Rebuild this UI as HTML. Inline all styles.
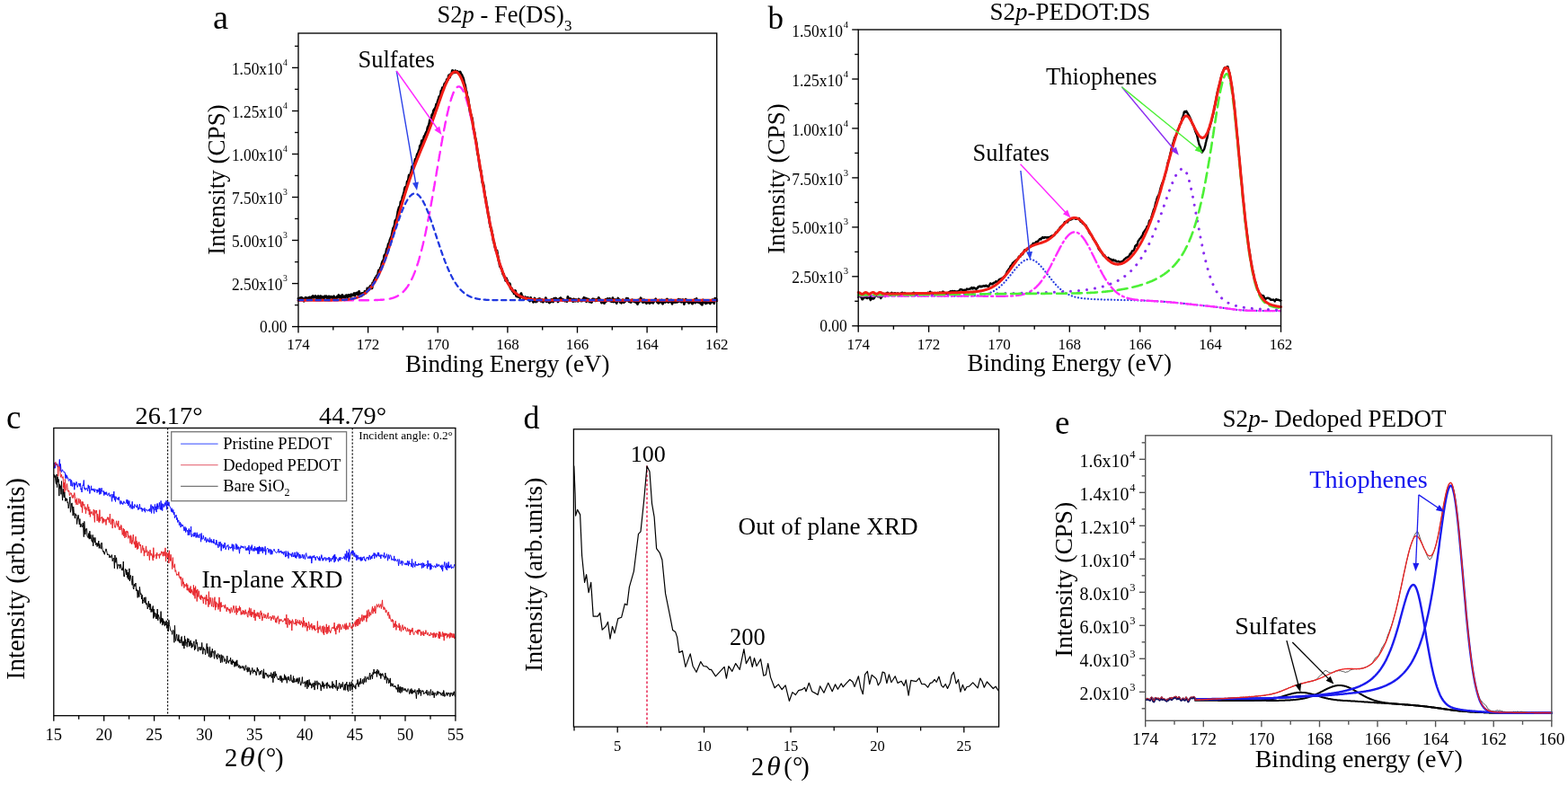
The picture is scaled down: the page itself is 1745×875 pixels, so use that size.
<!DOCTYPE html><html><head><meta charset="utf-8"><title>Figure</title><style>html,body{margin:0;padding:0;background:#fff;}svg{display:block;}</style></head><body><svg width="1745" height="875" viewBox="0 0 1745 875" font-family="'Liberation Serif','Times New Roman',serif" fill="#000">
<rect width="1745" height="875" fill="#fff"/>
<line x1="332.0" y1="363.6" x2="332.0" y2="370.6" stroke="#000" stroke-width="1.35" />
<text x="332.0" y="389.3" font-size="17" text-anchor="middle" >174</text>
<line x1="370.8" y1="363.6" x2="370.8" y2="367.6" stroke="#000" stroke-width="1.35" />
<line x1="409.6" y1="363.6" x2="409.6" y2="370.6" stroke="#000" stroke-width="1.35" />
<text x="409.6" y="389.3" font-size="17" text-anchor="middle" >172</text>
<line x1="448.4" y1="363.6" x2="448.4" y2="367.6" stroke="#000" stroke-width="1.35" />
<line x1="487.2" y1="363.6" x2="487.2" y2="370.6" stroke="#000" stroke-width="1.35" />
<text x="487.2" y="389.3" font-size="17" text-anchor="middle" >170</text>
<line x1="526.0" y1="363.6" x2="526.0" y2="367.6" stroke="#000" stroke-width="1.35" />
<line x1="564.9" y1="363.6" x2="564.9" y2="370.6" stroke="#000" stroke-width="1.35" />
<text x="564.9" y="389.3" font-size="17" text-anchor="middle" >168</text>
<line x1="603.7" y1="363.6" x2="603.7" y2="367.6" stroke="#000" stroke-width="1.35" />
<line x1="642.5" y1="363.6" x2="642.5" y2="370.6" stroke="#000" stroke-width="1.35" />
<text x="642.5" y="389.3" font-size="17" text-anchor="middle" >166</text>
<line x1="681.3" y1="363.6" x2="681.3" y2="367.6" stroke="#000" stroke-width="1.35" />
<line x1="720.1" y1="363.6" x2="720.1" y2="370.6" stroke="#000" stroke-width="1.35" />
<text x="720.1" y="389.3" font-size="17" text-anchor="middle" >164</text>
<line x1="758.9" y1="363.6" x2="758.9" y2="367.6" stroke="#000" stroke-width="1.35" />
<line x1="797.7" y1="363.6" x2="797.7" y2="370.6" stroke="#000" stroke-width="1.35" />
<text x="797.7" y="389.3" font-size="17" text-anchor="middle" >162</text>
<line x1="325.0" y1="363.6" x2="332.0" y2="363.6" stroke="#000" stroke-width="1.35" />
<line x1="328.0" y1="339.6" x2="332.0" y2="339.6" stroke="#000" stroke-width="1.35" />
<line x1="325.0" y1="315.6" x2="332.0" y2="315.6" stroke="#000" stroke-width="1.35" />
<line x1="328.0" y1="291.6" x2="332.0" y2="291.6" stroke="#000" stroke-width="1.35" />
<line x1="325.0" y1="267.5" x2="332.0" y2="267.5" stroke="#000" stroke-width="1.35" />
<line x1="328.0" y1="243.5" x2="332.0" y2="243.5" stroke="#000" stroke-width="1.35" />
<line x1="325.0" y1="219.5" x2="332.0" y2="219.5" stroke="#000" stroke-width="1.35" />
<line x1="328.0" y1="195.5" x2="332.0" y2="195.5" stroke="#000" stroke-width="1.35" />
<line x1="325.0" y1="171.5" x2="332.0" y2="171.5" stroke="#000" stroke-width="1.35" />
<line x1="328.0" y1="147.5" x2="332.0" y2="147.5" stroke="#000" stroke-width="1.35" />
<line x1="325.0" y1="123.5" x2="332.0" y2="123.5" stroke="#000" stroke-width="1.35" />
<line x1="328.0" y1="99.4" x2="332.0" y2="99.4" stroke="#000" stroke-width="1.35" />
<line x1="325.0" y1="75.4" x2="332.0" y2="75.4" stroke="#000" stroke-width="1.35" />
<line x1="328.0" y1="51.4" x2="332.0" y2="51.4" stroke="#000" stroke-width="1.35" />
<text transform="translate(319.4,369.60) scale(0.935,1)" font-size="18.6" text-anchor="end">0.00</text>
<text transform="translate(314.40,323.17) scale(0.935,1)" font-size="18.6" text-anchor="end">2.50x10</text>
<text x="315.00" y="312.77" font-size="9.6">3</text>
<text transform="translate(314.40,275.14) scale(0.935,1)" font-size="18.6" text-anchor="end">5.00x10</text>
<text x="315.00" y="264.74" font-size="9.6">3</text>
<text transform="translate(314.40,227.11) scale(0.935,1)" font-size="18.6" text-anchor="end">7.50x10</text>
<text x="315.00" y="216.71" font-size="9.6">3</text>
<text transform="translate(314.40,179.08) scale(0.935,1)" font-size="18.6" text-anchor="end">1.00x10</text>
<text x="315.00" y="168.68" font-size="9.6">4</text>
<text transform="translate(314.40,131.05) scale(0.935,1)" font-size="18.6" text-anchor="end">1.25x10</text>
<text x="315.00" y="120.65" font-size="9.6">4</text>
<text transform="translate(314.40,83.02) scale(0.935,1)" font-size="18.6" text-anchor="end">1.50x10</text>
<text x="315.00" y="72.62" font-size="9.6">4</text>
<path d="M332.0,332.2 L332.3,332.4 L332.7,333.0 L333.0,333.5 L333.3,333.9 L333.7,333.2 L334.0,331.9 L334.3,331.5 L334.7,331.9 L335.0,332.5 L335.3,331.8 L335.7,331.3 L336.0,332.3 L336.3,332.5 L336.7,332.0 L337.0,332.3 L337.3,332.6 L337.7,334.3 L338.0,334.3 L338.3,335.2 L338.7,334.0 L339.0,334.0 L339.3,332.4 L339.7,332.1 L340.0,331.3 L340.3,333.3 L340.7,333.7 L341.0,333.6 L341.3,331.7 L341.7,332.4 L342.0,332.7 L342.3,333.4 L342.7,332.9 L343.0,331.8 L343.3,331.6 L343.7,331.1 L344.0,331.2 L344.3,331.0 L344.6,331.0 L345.0,331.6 L345.3,331.1 L345.6,331.9 L346.0,331.9 L346.3,331.0 L346.6,331.2 L347.0,330.6 L347.3,331.5 L347.6,330.8 L348.0,330.0 L348.3,329.5 L348.6,329.9 L349.0,331.3 L349.3,331.4 L349.6,330.7 L350.0,330.2 L350.3,330.7 L350.6,330.1 L351.0,329.5 L351.3,330.0 L351.6,330.3 L352.0,331.6 L352.3,331.1 L352.6,332.0 L353.0,332.1 L353.3,332.3 L353.6,330.9 L354.0,329.6 L354.3,330.4 L354.6,331.6 L355.0,332.0 L355.3,332.4 L355.6,332.2 L356.0,332.7 L356.3,330.4 L356.6,329.6 L357.0,329.8 L357.3,330.9 L357.6,331.6 L358.0,330.3 L358.3,330.3 L358.6,330.4 L359.0,331.2 L359.3,331.0 L359.6,330.9 L360.0,331.9 L360.3,331.9 L360.6,332.0 L361.0,330.4 L361.3,329.9 L361.6,329.7 L362.0,330.0 L362.3,330.7 L362.6,329.9 L363.0,330.4 L363.3,329.8 L363.6,331.4 L364.0,331.2 L364.3,332.8 L364.6,333.3 L365.0,333.7 L365.3,333.2 L365.6,331.6 L366.0,329.8 L366.3,329.8 L366.6,330.3 L367.0,331.7 L367.3,330.8 L367.6,330.5 L368.0,330.8 L368.3,330.6 L368.6,330.1 L368.9,330.7 L369.3,331.2 L369.6,331.6 L369.9,331.6 L370.3,331.3 L370.6,331.9 L370.9,330.5 L371.3,330.5 L371.6,329.8 L371.9,330.9 L372.3,331.1 L372.6,332.6 L372.9,332.9 L373.3,332.6 L373.6,332.7 L373.9,331.2 L374.3,332.7 L374.6,330.6 L374.9,331.8 L375.3,330.0 L375.6,330.4 L375.9,330.9 L376.3,330.5 L376.6,329.6 L376.9,328.5 L377.3,329.5 L377.6,330.6 L377.9,331.2 L378.3,330.2 L378.6,330.5 L378.9,329.8 L379.3,331.1 L379.6,331.1 L379.9,331.9 L380.3,330.4 L380.6,330.1 L380.9,328.4 L381.3,329.3 L381.6,329.6 L381.9,330.5 L382.3,330.8 L382.6,330.3 L382.9,330.3 L383.3,330.0 L383.6,331.0 L383.9,331.2 L384.3,329.8 L384.6,329.2 L384.9,329.4 L385.2,330.2 L385.6,328.7 L385.9,329.0 L386.2,329.3 L386.6,330.7 L386.9,330.9 L387.2,330.1 L387.6,329.7 L387.9,328.3 L388.2,329.3 L388.6,328.9 L388.9,329.3 L389.2,328.8 L389.5,329.9 L389.9,330.3 L390.2,329.3 L390.5,328.8 L390.9,327.7 L391.2,328.6 L391.5,328.5 L391.8,329.0 L392.2,328.5 L392.5,328.4 L392.8,328.1 L393.2,328.5 L393.5,327.4 L393.8,326.8 L394.1,326.5 L394.5,327.7 L394.8,329.1 L395.1,328.7 L395.4,327.6 L395.8,326.7 L396.1,326.9 L396.4,327.0 L396.7,326.3 L397.0,326.0 L397.4,326.8 L397.7,326.3 L398.0,327.8 L398.3,326.8 L398.6,327.5 L399.0,325.9 L399.3,325.1 L399.6,324.4 L399.9,325.7 L400.2,328.2 L400.6,328.6 L400.9,328.4 L401.2,327.1 L401.5,327.0 L401.8,327.4 L402.1,328.8 L402.5,329.1 L402.8,327.8 L403.1,326.3 L403.4,326.4 L403.7,326.9 L404.0,327.6 L404.4,327.6 L404.7,327.5 L405.0,327.5 L405.3,326.8 L405.6,326.0 L405.9,324.4 L406.2,325.2 L406.6,325.4 L406.9,326.2 L407.2,325.9 L407.5,325.1 L407.8,324.7 L408.1,323.5 L408.4,323.2 L408.8,320.9 L409.1,321.8 L409.4,321.2 L409.7,322.3 L410.0,321.1 L410.3,322.4 L410.6,322.3 L411.0,321.4 L411.3,320.1 L411.6,319.3 L411.9,319.7 L412.2,318.4 L412.5,318.1 L412.8,319.0 L413.2,319.9 L413.5,320.8 L413.8,321.1 L414.1,320.5 L414.4,317.7 L414.7,314.9 L415.1,314.9 L415.4,316.0 L415.7,314.7 L416.0,313.2 L416.3,312.0 L416.7,312.3 L417.0,311.8 L417.3,310.7 L417.6,309.7 L417.9,308.9 L418.2,309.6 L418.6,309.0 L418.9,309.0 L419.2,306.9 L419.5,307.5 L419.9,306.4 L420.2,306.5 L420.5,305.9 L420.8,303.9 L421.1,302.1 L421.5,300.8 L421.8,300.7 L422.1,300.7 L422.4,301.5 L422.8,301.1 L423.1,300.6 L423.4,297.9 L423.7,298.1 L424.1,297.4 L424.4,296.8 L424.7,294.3 L425.0,293.0 L425.4,292.1 L425.7,291.0 L426.0,290.7 L426.4,290.1 L426.7,291.5 L427.0,289.1 L427.3,287.3 L427.7,284.4 L428.0,284.1 L428.3,283.8 L428.7,283.3 L429.0,283.0 L429.3,282.2 L429.6,281.3 L430.0,279.1 L430.3,277.6 L430.6,276.6 L431.0,277.1 L431.3,276.9 L431.6,274.7 L432.0,272.9 L432.3,271.3 L432.6,271.6 L432.9,271.7 L433.3,270.7 L433.6,268.8 L433.9,267.2 L434.3,266.2 L434.6,265.9 L434.9,264.5 L435.3,264.3 L435.6,263.2 L435.9,262.8 L436.3,259.9 L436.6,259.2 L436.9,257.0 L437.3,255.4 L437.6,254.0 L437.9,253.7 L438.3,253.5 L438.6,252.1 L438.9,251.2 L439.3,249.9 L439.6,247.3 L439.9,245.6 L440.3,245.0 L440.6,246.0 L440.9,244.4 L441.2,244.0 L441.6,242.9 L441.9,241.0 L442.2,239.6 L442.6,236.9 L442.9,235.6 L443.2,233.7 L443.6,232.9 L443.9,231.4 L444.2,230.6 L444.6,230.3 L444.9,231.5 L445.2,230.2 L445.6,227.6 L445.9,224.8 L446.2,224.4 L446.6,224.9 L446.9,224.8 L447.2,222.8 L447.6,221.3 L447.9,219.7 L448.2,218.6 L448.6,217.5 L448.9,216.6 L449.2,215.6 L449.6,214.4 L449.9,212.9 L450.2,210.7 L450.6,209.2 L450.9,208.4 L451.2,209.9 L451.6,209.0 L451.9,209.4 L452.2,208.1 L452.6,206.8 L452.9,203.9 L453.2,202.0 L453.6,202.8 L453.9,202.6 L454.2,202.0 L454.6,199.3 L454.9,196.5 L455.2,194.9 L455.6,194.9 L455.9,196.4 L456.2,195.6 L456.6,194.3 L456.9,193.3 L457.2,192.2 L457.6,192.0 L457.9,189.5 L458.2,187.9 L458.6,185.4 L458.9,185.6 L459.2,185.1 L459.6,185.0 L459.9,184.1 L460.2,183.8 L460.6,183.7 L460.9,183.6 L461.2,181.9 L461.6,180.2 L461.9,178.2 L462.2,177.2 L462.6,177.4 L462.9,177.2 L463.3,176.9 L463.6,174.5 L463.9,173.4 L464.3,171.9 L464.6,171.2 L464.9,170.9 L465.3,171.4 L465.6,170.1 L465.9,168.1 L466.3,167.9 L466.6,166.6 L467.0,165.7 L467.3,162.5 L467.6,162.8 L468.0,162.6 L468.3,163.4 L468.6,160.5 L469.0,159.5 L469.3,156.7 L469.7,158.1 L470.0,156.9 L470.3,158.3 L470.7,157.2 L471.0,155.8 L471.4,154.6 L471.7,152.6 L472.1,152.2 L472.4,151.1 L472.7,151.3 L473.1,150.9 L473.4,149.3 L473.8,148.4 L474.1,147.7 L474.5,146.9 L474.8,146.4 L475.1,145.7 L475.5,144.6 L475.8,142.3 L476.2,141.5 L476.5,140.6 L476.9,140.7 L477.2,139.3 L477.6,137.8 L477.9,136.7 L478.3,134.0 L478.6,134.2 L479.0,132.6 L479.3,132.9 L479.6,131.9 L480.0,130.8 L480.3,129.8 L480.7,127.9 L481.0,127.4 L481.4,127.1 L481.7,126.7 L482.1,125.7 L482.4,123.3 L482.8,122.9 L483.1,122.0 L483.5,123.0 L483.8,120.9 L484.2,120.7 L484.5,119.9 L484.9,119.4 L485.3,117.0 L485.6,115.9 L486.0,115.7 L486.3,116.1 L486.7,114.9 L487.0,113.0 L487.4,112.1 L487.7,110.9 L488.1,109.9 L488.4,109.0 L488.8,107.3 L489.1,107.5 L489.5,107.0 L489.8,107.7 L490.2,104.9 L490.5,103.4 L490.9,101.1 L491.2,101.6 L491.6,100.5 L491.9,99.8 L492.3,97.6 L492.6,97.7 L493.0,98.0 L493.3,99.3 L493.7,98.8 L494.0,96.4 L494.4,94.3 L494.7,93.3 L495.1,94.1 L495.4,94.3 L495.8,91.9 L496.1,92.2 L496.5,90.9 L496.8,92.0 L497.2,88.7 L497.5,89.2 L497.9,88.0 L498.2,89.2 L498.5,88.6 L498.9,86.8 L499.2,84.7 L499.6,83.7 L499.9,84.8 L500.3,86.3 L500.6,85.8 L500.9,84.8 L501.3,83.1 L501.6,82.5 L502.0,82.9 L502.3,82.5 L502.7,82.2 L503.0,80.2 L503.3,78.6 L503.7,78.4 L504.0,79.6 L504.3,80.8 L504.7,80.9 L505.0,80.7 L505.4,80.6 L505.7,80.8 L506.0,79.8 L506.4,79.7 L506.7,78.7 L507.1,79.3 L507.4,79.7 L507.7,80.5 L508.1,80.5 L508.4,80.4 L508.7,79.6 L509.1,79.4 L509.4,80.0 L509.7,80.1 L510.1,81.1 L510.4,80.6 L510.7,81.0 L511.1,81.6 L511.4,81.2 L511.7,81.1 L512.1,80.0 L512.4,80.7 L512.7,81.4 L513.1,82.4 L513.4,82.8 L513.7,83.5 L514.1,83.5 L514.4,84.9 L514.7,85.2 L515.1,86.2 L515.4,86.5 L515.7,88.1 L516.1,89.1 L516.4,91.4 L516.7,92.2 L517.1,93.8 L517.4,93.9 L517.7,95.4 L518.1,97.6 L518.4,99.5 L518.7,100.9 L519.1,101.8 L519.4,103.0 L519.7,106.2 L520.1,107.7 L520.4,108.6 L520.7,108.5 L521.1,110.3 L521.4,113.8 L521.7,115.5 L522.1,117.4 L522.4,119.7 L522.7,121.8 L523.1,124.4 L523.4,125.2 L523.7,127.6 L524.1,127.4 L524.4,128.4 L524.7,129.5 L525.1,131.0 L525.4,131.4 L525.7,133.4 L526.1,136.6 L526.4,140.5 L526.7,142.7 L527.1,144.1 L527.4,144.8 L527.7,146.1 L528.1,147.6 L528.4,150.3 L528.7,152.4 L529.1,154.5 L529.4,155.5 L529.7,156.7 L530.1,158.9 L530.4,161.5 L530.7,164.0 L531.1,166.9 L531.4,169.9 L531.7,171.7 L532.1,173.0 L532.4,173.7 L532.7,177.3 L533.1,179.5 L533.4,182.2 L533.7,183.6 L534.1,187.0 L534.4,188.8 L534.7,189.6 L535.1,189.8 L535.4,192.0 L535.7,194.6 L536.1,196.4 L536.4,199.9 L536.7,202.0 L537.1,204.1 L537.4,203.7 L537.7,204.4 L538.1,206.0 L538.4,208.2 L538.7,211.1 L539.1,213.3 L539.4,215.9 L539.7,218.0 L540.1,219.9 L540.4,220.0 L540.7,222.0 L541.0,224.6 L541.4,227.7 L541.7,228.5 L542.0,230.3 L542.4,231.3 L542.7,234.7 L543.0,236.6 L543.4,239.6 L543.7,240.1 L544.0,241.0 L544.4,243.7 L544.7,246.6 L545.0,248.8 L545.4,249.9 L545.7,252.0 L546.0,253.1 L546.4,254.0 L546.7,254.2 L547.0,256.8 L547.4,258.0 L547.7,260.1 L548.0,260.6 L548.4,263.5 L548.7,265.4 L549.0,267.5 L549.4,268.8 L549.7,269.2 L550.0,270.6 L550.4,272.2 L550.7,274.0 L551.0,275.8 L551.4,275.8 L551.7,277.6 L552.0,279.0 L552.4,280.1 L552.7,279.3 L553.0,278.9 L553.4,280.9 L553.7,283.5 L554.0,285.0 L554.4,286.3 L554.7,288.3 L555.0,290.5 L555.4,291.2 L555.7,292.1 L556.0,294.5 L556.4,296.8 L556.7,296.8 L557.0,297.2 L557.4,297.3 L557.7,298.6 L558.0,298.5 L558.4,299.6 L558.7,300.3 L559.0,302.3 L559.4,303.2 L559.7,305.1 L560.0,304.5 L560.4,305.1 L560.7,305.7 L561.0,307.6 L561.4,308.5 L561.7,308.2 L562.0,309.8 L562.4,311.1 L562.7,312.6 L563.0,310.4 L563.4,309.7 L563.7,310.1 L564.0,312.1 L564.4,311.9 L564.7,312.6 L565.0,314.0 L565.3,315.1 L565.7,315.2 L566.0,315.0 L566.3,316.8 L566.7,316.3 L567.0,316.1 L567.3,315.8 L567.7,317.2 L568.0,320.3 L568.3,320.7 L568.7,321.8 L569.0,320.5 L569.3,320.9 L569.7,321.4 L570.0,323.3 L570.3,323.9 L570.7,324.6 L571.0,324.0 L571.3,325.0 L571.7,325.1 L572.0,326.8 L572.3,325.9 L572.7,325.8 L573.0,323.7 L573.3,323.4 L573.7,323.9 L574.0,326.2 L574.3,328.5 L574.7,329.7 L575.0,329.0 L575.3,328.6 L575.7,329.4 L576.0,329.0 L576.3,330.4 L576.7,329.0 L577.0,329.5 L577.3,328.9 L577.7,329.3 L578.0,329.8 L578.3,330.2 L578.7,331.5 L579.0,331.4 L579.3,329.8 L579.7,327.4 L580.0,326.6 L580.3,327.6 L580.7,329.6 L581.0,329.6 L581.3,330.3 L581.7,330.0 L582.0,331.4 L582.3,331.4 L582.7,331.8 L583.0,331.7 L583.3,332.7 L583.7,332.7 L584.0,331.2 L584.3,330.6 L584.7,330.6 L585.0,331.9 L585.3,331.4 L585.7,332.1 L586.0,332.7 L586.3,332.7 L586.7,331.8 L587.0,331.6 L587.3,331.2 L587.7,332.0 L588.0,332.1 L588.3,333.6 L588.7,332.1 L589.0,333.6 L589.3,333.8 L589.6,335.2 L590.0,333.5 L590.3,332.6 L590.6,331.3 L591.0,332.9 L591.3,332.9 L591.6,334.1 L592.0,333.5 L592.3,333.7 L592.6,334.2 L593.0,335.2 L593.3,335.9 L593.6,336.3 L594.0,335.3 L594.3,334.8 L594.6,333.6 L595.0,332.0 L595.3,332.5 L595.6,333.8 L596.0,335.5 L596.3,336.0 L596.6,335.8 L597.0,335.0 L597.3,334.8 L597.6,335.4 L598.0,335.2 L598.3,334.8 L598.6,333.2 L599.0,333.6 L599.3,333.1 L599.6,333.4 L600.0,332.6 L600.3,332.8 L600.6,332.5 L601.0,333.1 L601.3,334.4 L601.6,334.8 L602.0,335.3 L602.3,334.2 L602.6,335.0 L603.0,333.7 L603.3,333.8 L603.6,333.7 L604.0,336.0 L604.3,336.3 L604.6,335.5 L605.0,334.8 L605.3,334.6 L605.6,335.0 L606.0,334.1 L606.3,334.7 L606.6,334.3 L607.0,334.0 L607.3,331.6 L607.6,332.3 L608.0,333.4 L608.3,335.8 L608.6,334.5 L609.0,335.0 L609.3,334.7 L609.6,335.3 L610.0,335.2 L610.3,335.5 L610.6,335.9 L611.0,336.6 L611.3,337.0 L611.6,337.0 L612.0,335.4 L612.3,334.5 L612.6,335.4 L613.0,335.9 L613.3,335.2 L613.6,333.5 L613.9,333.3 L614.3,334.5 L614.6,334.4 L614.9,334.8 L615.3,335.0 L615.6,336.0 L615.9,334.6 L616.3,333.6 L616.6,332.2 L616.9,333.6 L617.3,333.1 L617.6,334.3 L617.9,334.1 L618.3,333.0 L618.6,332.0 L618.9,332.3 L619.3,334.1 L619.6,334.4 L619.9,333.2 L620.3,333.5 L620.6,334.9 L620.9,336.0 L621.3,335.6 L621.6,334.3 L621.9,333.2 L622.3,333.0 L622.6,332.5 L622.9,334.2 L623.3,333.8 L623.6,332.9 L623.9,331.6 L624.3,332.0 L624.6,333.4 L624.9,332.7 L625.3,333.5 L625.6,333.7 L625.9,334.6 L626.3,333.4 L626.6,333.7 L626.9,333.8 L627.3,334.5 L627.6,334.1 L627.9,334.4 L628.3,335.0 L628.6,335.1 L628.9,334.4 L629.3,334.3 L629.6,334.4 L629.9,334.6 L630.3,334.7 L630.6,334.4 L630.9,335.6 L631.3,334.0 L631.6,332.5 L631.9,330.4 L632.3,331.3 L632.6,332.4 L632.9,333.8 L633.3,333.5 L633.6,333.0 L633.9,334.0 L634.3,333.3 L634.6,334.4 L634.9,332.5 L635.3,333.1 L635.6,333.6 L635.9,334.4 L636.3,334.0 L636.6,333.5 L636.9,333.3 L637.3,334.2 L637.6,335.7 L637.9,335.4 L638.3,334.6 L638.6,333.0 L638.9,333.6 L639.2,333.3 L639.6,333.7 L639.9,334.3 L640.2,335.2 L640.6,334.0 L640.9,334.5 L641.2,333.5 L641.6,334.8 L641.9,334.6 L642.2,334.5 L642.6,334.2 L642.9,334.3 L643.2,335.4 L643.6,334.7 L643.9,333.0 L644.2,333.0 L644.6,333.4 L644.9,333.7 L645.2,333.9 L645.6,333.9 L645.9,334.4 L646.2,334.4 L646.6,335.0 L646.9,334.9 L647.2,334.5 L647.6,334.5 L647.9,334.9 L648.2,334.1 L648.6,333.6 L648.9,332.6 L649.2,332.6 L649.6,332.3 L649.9,331.3 L650.2,332.8 L650.6,332.6 L650.9,334.4 L651.2,332.6 L651.6,331.9 L651.9,333.1 L652.2,335.1 L652.6,335.8 L652.9,333.9 L653.2,332.7 L653.6,333.2 L653.9,333.4 L654.2,333.5 L654.6,333.5 L654.9,333.1 L655.2,335.1 L655.6,334.6 L655.9,336.1 L656.2,333.8 L656.6,334.4 L656.9,334.3 L657.2,334.7 L657.6,335.2 L657.9,335.2 L658.2,336.6 L658.6,336.0 L658.9,335.0 L659.2,333.2 L659.6,333.2 L659.9,332.8 L660.2,333.6 L660.6,333.5 L660.9,333.9 L661.2,333.1 L661.6,333.3 L661.9,333.9 L662.2,334.7 L662.6,334.4 L662.9,334.9 L663.2,334.1 L663.5,334.4 L663.9,333.4 L664.2,334.7 L664.5,334.2 L664.9,334.3 L665.2,334.0 L665.5,332.8 L665.9,332.8 L666.2,331.3 L666.5,332.0 L666.9,332.7 L667.2,334.3 L667.5,334.6 L667.9,334.1 L668.2,333.8 L668.5,334.3 L668.9,335.6 L669.2,335.8 L669.5,337.2 L669.9,335.7 L670.2,336.0 L670.5,335.0 L670.9,335.4 L671.2,334.7 L671.5,335.2 L671.9,336.3 L672.2,337.2 L672.5,337.6 L672.9,337.1 L673.2,335.2 L673.5,334.5 L673.9,333.4 L674.2,335.5 L674.5,334.5 L674.9,335.2 L675.2,334.3 L675.5,334.1 L675.9,332.6 L676.2,332.4 L676.5,332.7 L676.9,334.7 L677.2,334.4 L677.5,334.7 L677.9,333.4 L678.2,333.8 L678.5,332.4 L678.9,334.4 L679.2,334.6 L679.5,335.2 L679.9,334.0 L680.2,334.4 L680.5,335.2 L680.9,335.9 L681.2,335.3 L681.5,333.4 L681.9,331.6 L682.2,332.5 L682.5,334.9 L682.9,336.0 L683.2,334.5 L683.5,334.5 L683.9,334.7 L684.2,334.8 L684.5,333.6 L684.9,333.4 L685.2,334.8 L685.5,336.5 L685.9,336.8 L686.2,337.6 L686.5,336.0 L686.9,335.9 L687.2,334.0 L687.5,333.3 L687.8,332.0 L688.2,333.2 L688.5,333.9 L688.8,333.9 L689.2,333.6 L689.5,334.9 L689.8,335.8 L690.2,336.4 L690.5,334.7 L690.8,336.4 L691.2,336.0 L691.5,337.3 L691.8,335.7 L692.2,334.9 L692.5,334.5 L692.8,334.5 L693.2,333.8 L693.5,335.5 L693.8,335.4 L694.2,336.7 L694.5,335.1 L694.8,335.0 L695.2,335.1 L695.5,335.7 L695.8,335.3 L696.2,334.4 L696.5,334.4 L696.8,333.6 L697.2,332.2 L697.5,332.8 L697.8,334.0 L698.2,333.9 L698.5,332.3 L698.8,332.4 L699.2,334.3 L699.5,335.2 L699.8,335.5 L700.2,335.8 L700.5,334.9 L700.8,335.0 L701.2,335.0 L701.5,336.3 L701.8,336.1 L702.2,336.4 L702.5,335.7 L702.8,335.0 L703.2,334.1 L703.5,333.6 L703.8,334.1 L704.2,334.3 L704.5,334.8 L704.8,335.3 L705.2,334.8 L705.5,335.5 L705.8,334.3 L706.2,334.8 L706.5,334.6 L706.8,335.9 L707.2,336.4 L707.5,335.8 L707.8,335.9 L708.2,334.7 L708.5,335.3 L708.8,336.4 L709.2,337.8 L709.5,338.6 L709.8,337.1 L710.2,335.8 L710.5,333.9 L710.8,334.9 L711.2,336.2 L711.5,335.4 L711.8,334.2 L712.1,333.7 L712.5,334.2 L712.8,332.7 L713.1,331.8 L713.5,332.4 L713.8,333.9 L714.1,334.4 L714.5,334.9 L714.8,335.9 L715.1,336.4 L715.5,336.6 L715.8,335.9 L716.1,335.9 L716.5,333.6 L716.8,334.1 L717.1,334.3 L717.5,336.1 L717.8,335.2 L718.1,334.3 L718.5,334.6 L718.8,335.5 L719.1,337.4 L719.5,337.7 L719.8,336.7 L720.1,335.5 L720.5,335.6 L720.8,336.3 L721.1,336.3 L721.5,335.2 L721.8,335.4 L722.1,335.6 L722.5,337.2 L722.8,337.6 L723.1,336.3 L723.5,336.6 L723.8,336.0 L724.1,337.0 L724.5,335.7 L724.8,336.1 L725.1,336.3 L725.5,336.0 L725.8,335.5 L726.1,336.8 L726.5,336.9 L726.8,337.4 L727.1,336.5 L727.5,336.2 L727.8,335.2 L728.1,334.2 L728.5,334.7 L728.8,334.5 L729.1,334.3 L729.5,333.2 L729.8,332.8 L730.1,333.8 L730.5,334.7 L730.8,335.1 L731.1,336.0 L731.5,335.7 L731.8,336.7 L732.1,336.0 L732.5,337.3 L732.8,337.6 L733.1,337.3 L733.5,335.5 L733.8,334.2 L734.1,334.2 L734.5,335.0 L734.8,336.3 L735.1,335.9 L735.5,336.0 L735.8,335.0 L736.1,334.0 L736.4,333.9 L736.8,335.4 L737.1,337.2 L737.4,338.2 L737.8,338.0 L738.1,336.5 L738.4,335.3 L738.8,335.5 L739.1,336.0 L739.4,335.3 L739.8,334.5 L740.1,335.4 L740.4,336.5 L740.8,336.1 L741.1,335.2 L741.4,334.1 L741.8,333.4 L742.1,333.1 L742.4,332.9 L742.8,333.3 L743.1,335.2 L743.4,336.3 L743.8,336.5 L744.1,335.7 L744.4,335.0 L744.8,335.5 L745.1,335.9 L745.4,335.5 L745.8,334.8 L746.1,334.0 L746.4,334.3 L746.8,334.1 L747.1,334.0 L747.4,336.4 L747.8,337.6 L748.1,338.2 L748.4,337.1 L748.8,336.5 L749.1,335.3 L749.4,335.0 L749.8,335.9 L750.1,335.4 L750.4,335.3 L750.8,335.4 L751.1,336.7 L751.4,336.1 L751.8,335.7 L752.1,335.3 L752.4,335.9 L752.8,336.1 L753.1,336.5 L753.4,335.6 L753.8,335.4 L754.1,335.3 L754.4,336.0 L754.8,333.5 L755.1,334.3 L755.4,333.2 L755.8,335.2 L756.1,334.8 L756.4,335.3 L756.8,334.6 L757.1,333.7 L757.4,333.9 L757.8,335.0 L758.1,336.3 L758.4,336.1 L758.8,335.3 L759.1,333.9 L759.4,334.0 L759.8,333.7 L760.1,333.6 L760.4,333.8 L760.8,335.6 L761.1,337.5 L761.4,338.6 L761.7,336.4 L762.1,336.2 L762.4,334.3 L762.7,335.0 L763.1,333.2 L763.4,333.4 L763.7,333.9 L764.1,335.2 L764.4,335.9 L764.7,335.7 L765.1,335.9 L765.4,336.0 L765.7,335.0 L766.1,335.8 L766.4,335.6 L766.7,337.4 L767.1,336.1 L767.4,335.7 L767.7,335.1 L768.1,334.7 L768.4,336.4 L768.7,335.5 L769.1,336.5 L769.4,335.0 L769.7,335.6 L770.1,337.0 L770.4,338.0 L770.7,338.0 L771.1,335.0 L771.4,334.3 L771.7,334.3 L772.1,336.4 L772.4,335.6 L772.7,334.5 L773.1,333.5 L773.4,334.6 L773.7,337.1 L774.1,336.4 L774.4,334.4 L774.7,332.7 L775.1,332.5 L775.4,334.0 L775.7,335.2 L776.1,335.2 L776.4,336.4 L776.7,335.9 L777.1,336.6 L777.4,335.1 L777.7,334.7 L778.1,334.6 L778.4,335.8 L778.7,337.0 L779.1,337.2 L779.4,337.2 L779.7,337.2 L780.1,338.1 L780.4,338.0 L780.7,338.3 L781.1,338.4 L781.4,339.2 L781.7,337.8 L782.1,336.5 L782.4,334.0 L782.7,335.2 L783.1,335.9 L783.4,336.7 L783.7,335.8 L784.1,335.6 L784.4,335.0 L784.7,335.1 L785.1,335.7 L785.4,337.8 L785.7,337.3 L786.0,336.3 L786.4,336.3 L786.7,337.3 L787.0,337.1 L787.4,335.7 L787.7,335.5 L788.0,335.4 L788.4,335.4 L788.7,336.2 L789.0,336.9 L789.4,337.0 L789.7,336.2 L790.0,337.4 L790.4,337.9 L790.7,337.0 L791.0,334.4 L791.4,335.7 L791.7,334.4 L792.0,336.3 L792.4,334.1 L792.7,335.1 L793.0,333.6 L793.4,334.2 L793.7,335.9 L794.0,336.1 L794.4,336.7 L794.7,337.7 L795.0,336.1 L795.4,335.1 L795.7,332.1 L796.0,334.7 L796.4,334.2 L796.7,334.3 L797.0,332.6 L797.4,333.6 L797.7,334.8" fill="none" stroke="#000" stroke-width="2.8" stroke-linejoin="round" stroke-linecap="round" />
<path d="M332.0,334.2 L332.3,334.2 L332.7,334.2 L333.0,334.2 L333.3,334.2 L333.7,334.2 L334.0,334.2 L334.3,334.2 L334.7,334.2 L335.0,334.2 L335.3,334.2 L335.7,334.2 L336.0,334.2 L336.3,334.2 L336.7,334.2 L337.0,334.2 L337.3,334.2 L337.7,334.2 L338.0,334.2 L338.3,334.2 L338.7,334.2 L339.0,334.2 L339.3,334.2 L339.7,334.2 L340.0,334.2 L340.3,334.2 L340.7,334.2 L341.0,334.2 L341.3,334.2 L341.7,334.2 L342.0,334.2 L342.3,334.2 L342.7,334.2 L343.0,334.2 L343.3,334.2 L343.7,334.2 L344.0,334.2 L344.3,334.2 L344.6,334.2 L345.0,334.2 L345.3,334.2 L345.6,334.2 L346.0,334.2 L346.3,334.2 L346.6,334.2 L347.0,334.2 L347.3,334.2 L347.6,334.2 L348.0,334.2 L348.3,334.2 L348.6,334.2 L349.0,334.2 L349.3,334.2 L349.6,334.2 L350.0,334.2 L350.3,334.2 L350.6,334.2 L351.0,334.2 L351.3,334.2 L351.6,334.2 L352.0,334.2 L352.3,334.2 L352.6,334.2 L353.0,334.2 L353.3,334.2 L353.6,334.2 L354.0,334.2 L354.3,334.2 L354.6,334.2 L355.0,334.2 L355.3,334.2 L355.6,334.2 L356.0,334.2 L356.3,334.2 L356.6,334.2 L357.0,334.2 L357.3,334.2 L357.6,334.2 L358.0,334.2 L358.3,334.2 L358.6,334.2 L359.0,334.2 L359.3,334.2 L359.6,334.2 L360.0,334.2 L360.3,334.2 L360.6,334.2 L361.0,334.2 L361.3,334.2 L361.6,334.2 L362.0,334.2 L362.3,334.2 L362.6,334.2 L363.0,334.2 L363.3,334.2 L363.6,334.2 L364.0,334.2 L364.3,334.2 L364.6,334.2 L365.0,334.2 L365.3,334.2 L365.6,334.2 L366.0,334.2 L366.3,334.2 L366.6,334.2 L367.0,334.2 L367.3,334.2 L367.6,334.2 L368.0,334.2 L368.3,334.2 L368.6,334.2 L368.9,334.2 L369.3,334.2 L369.6,334.2 L369.9,334.2 L370.3,334.2 L370.6,334.2 L370.9,334.2 L371.3,334.2 L371.6,334.2 L371.9,334.2 L372.3,334.2 L372.6,334.2 L372.9,334.2 L373.3,334.2 L373.6,334.2 L373.9,334.2 L374.3,334.2 L374.6,334.2 L374.9,334.2 L375.3,334.2 L375.6,334.2 L375.9,334.2 L376.3,334.2 L376.6,334.2 L376.9,334.2 L377.3,334.2 L377.6,334.2 L377.9,334.2 L378.3,334.2 L378.6,334.2 L378.9,334.2 L379.3,334.2 L379.6,334.2 L379.9,334.2 L380.3,334.2 L380.6,334.2 L380.9,334.2 L381.3,334.2 L381.6,334.2 L381.9,334.2 L382.3,334.2 L382.6,334.2 L382.9,334.2 L383.3,334.2 L383.6,334.2 L383.9,334.2 L384.3,334.2 L384.6,334.2 L384.9,334.2 L385.3,334.2 L385.6,334.2 L385.9,334.2 L386.3,334.2 L386.6,334.2 L386.9,334.2 L387.3,334.2 L387.6,334.2 L387.9,334.2 L388.3,334.2 L388.6,334.2 L388.9,334.2 L389.3,334.2 L389.6,334.2 L389.9,334.2 L390.3,334.2 L390.6,334.2 L390.9,334.2 L391.3,334.2 L391.6,334.2 L391.9,334.2 L392.3,334.2 L392.6,334.2 L392.9,334.2 L393.3,334.2 L393.6,334.2 L393.9,334.2 L394.2,334.2 L394.6,334.2 L394.9,334.2 L395.2,334.2 L395.6,334.2 L395.9,334.2 L396.2,334.2 L396.6,334.2 L396.9,334.2 L397.2,334.2 L397.6,334.2 L397.9,334.2 L398.2,334.2 L398.6,334.2 L398.9,334.2 L399.2,334.2 L399.6,334.2 L399.9,334.2 L400.2,334.2 L400.6,334.2 L400.9,334.2 L401.2,334.2 L401.6,334.2 L401.9,334.2 L402.2,334.2 L402.6,334.2 L402.9,334.2 L403.2,334.2 L403.6,334.2 L403.9,334.2 L404.2,334.2 L404.6,334.2 L404.9,334.2 L405.2,334.2 L405.6,334.2 L405.9,334.2 L406.2,334.2 L406.6,334.2 L406.9,334.2 L407.2,334.2 L407.6,334.2 L407.9,334.2 L408.2,334.2 L408.6,334.2 L408.9,334.2 L409.2,334.2 L409.6,334.2 L409.9,334.2 L410.2,334.2 L410.6,334.2 L410.9,334.2 L411.2,334.1 L411.6,334.1 L411.9,334.1 L412.2,334.1 L412.6,334.1 L412.9,334.1 L413.2,334.1 L413.6,334.1 L413.9,334.1 L414.2,334.1 L414.6,334.1 L414.9,334.1 L415.2,334.1 L415.6,334.1 L415.9,334.1 L416.2,334.1 L416.6,334.1 L416.9,334.1 L417.2,334.1 L417.6,334.0 L417.9,334.0 L418.2,334.0 L418.5,334.0 L418.9,334.0 L419.2,334.0 L419.5,334.0 L419.9,334.0 L420.2,334.0 L420.5,334.0 L420.9,333.9 L421.2,333.9 L421.5,333.9 L421.9,333.9 L422.2,333.9 L422.5,333.9 L422.9,333.9 L423.2,333.8 L423.5,333.8 L423.9,333.8 L424.2,333.8 L424.5,333.8 L424.9,333.7 L425.2,333.7 L425.5,333.7 L425.9,333.7 L426.2,333.6 L426.5,333.6 L426.9,333.6 L427.2,333.5 L427.5,333.5 L427.9,333.5 L428.2,333.4 L428.5,333.4 L428.9,333.4 L429.2,333.3 L429.5,333.3 L429.9,333.2 L430.2,333.2 L430.5,333.2 L430.9,333.1 L431.2,333.1 L431.5,333.0 L431.9,332.9 L432.2,332.9 L432.5,332.8 L432.9,332.8 L433.2,332.7 L433.5,332.6 L433.9,332.6 L434.2,332.5 L434.5,332.4 L434.9,332.3 L435.2,332.3 L435.5,332.2 L435.9,332.1 L436.2,332.0 L436.5,331.9 L436.9,331.8 L437.2,331.7 L437.5,331.6 L437.9,331.5 L438.2,331.4 L438.5,331.3 L438.9,331.1 L439.2,331.0 L439.5,330.9 L439.9,330.7 L440.2,330.6 L440.5,330.5 L440.9,330.3 L441.2,330.2 L441.5,330.0 L441.9,329.8 L442.2,329.7 L442.5,329.5 L442.8,329.3 L443.2,329.1 L443.5,328.9 L443.8,328.7 L444.2,328.5 L444.5,328.3 L444.8,328.0 L445.2,327.8 L445.5,327.6 L445.8,327.3 L446.2,327.1 L446.5,326.8 L446.8,326.5 L447.2,326.3 L447.5,326.0 L447.8,325.7 L448.2,325.4 L448.5,325.1 L448.8,324.7 L449.2,324.4 L449.5,324.0 L449.8,323.7 L450.2,323.3 L450.5,323.0 L450.8,322.6 L451.2,322.2 L451.5,321.8 L451.8,321.3 L452.2,320.9 L452.5,320.5 L452.8,320.0 L453.2,319.5 L453.5,319.1 L453.8,318.6 L454.2,318.1 L454.5,317.5 L454.8,317.0 L455.2,316.5 L455.5,315.9 L455.8,315.3 L456.2,314.7 L456.5,314.1 L456.8,313.5 L457.2,312.9 L457.5,312.2 L457.8,311.6 L458.2,310.9 L458.5,310.2 L458.8,309.5 L459.2,308.7 L459.5,308.0 L459.8,307.2 L460.2,306.5 L460.5,305.7 L460.8,304.8 L461.2,304.0 L461.5,303.2 L461.8,302.3 L462.2,301.4 L462.5,300.5 L462.8,299.6 L463.2,298.6 L463.5,297.7 L463.8,296.7 L464.2,295.7 L464.5,294.7 L464.8,293.7 L465.2,292.6 L465.5,291.5 L465.8,290.4 L466.2,289.3 L466.5,288.2 L466.8,287.0 L467.1,285.9 L467.5,284.7 L467.8,283.5 L468.1,282.2 L468.5,281.0 L468.8,279.7 L469.1,278.4 L469.5,277.1 L469.8,275.8 L470.1,274.4 L470.5,273.1 L470.8,271.7 L471.1,270.2 L471.5,268.8 L471.8,267.4 L472.1,265.9 L472.5,264.4 L472.8,262.9 L473.1,261.4 L473.5,259.8 L473.8,258.3 L474.1,256.7 L474.5,255.1 L474.8,253.5 L475.1,251.8 L475.5,250.2 L475.8,248.5 L476.1,246.8 L476.5,245.1 L476.8,243.4 L477.1,241.7 L477.5,239.9 L477.8,238.2 L478.1,236.4 L478.5,234.6 L478.8,232.8 L479.1,231.0 L479.5,229.1 L479.8,227.3 L480.1,225.4 L480.5,223.6 L480.8,221.7 L481.1,219.8 L481.5,217.9 L481.8,216.0 L482.1,214.0 L482.5,212.1 L482.8,210.2 L483.1,208.2 L483.5,206.3 L483.8,204.3 L484.1,202.4 L484.5,200.4 L484.8,198.4 L485.1,196.5 L485.5,194.5 L485.8,192.5 L486.1,190.5 L486.5,188.6 L486.8,186.6 L487.1,184.6 L487.5,182.6 L487.8,180.7 L488.1,178.7 L488.5,176.7 L488.8,174.8 L489.1,172.8 L489.5,170.9 L489.8,169.0 L490.1,167.0 L490.5,165.1 L490.8,163.2 L491.1,161.3 L491.4,159.4 L491.8,157.5 L492.1,155.7 L492.4,153.8 L492.8,152.0 L493.1,150.2 L493.4,148.4 L493.8,146.6 L494.1,144.9 L494.4,143.1 L494.8,141.4 L495.1,139.7 L495.4,138.0 L495.8,136.4 L496.1,134.7 L496.4,133.1 L496.8,131.5 L497.1,130.0 L497.4,128.4 L497.8,126.9 L498.1,125.5 L498.4,124.0 L498.8,122.6 L499.1,121.2 L499.4,119.9 L499.8,118.5 L500.1,117.2 L500.4,116.0 L500.8,114.8 L501.1,113.6 L501.4,112.4 L501.8,111.3 L502.1,110.2 L502.4,109.2 L502.8,108.2 L503.1,107.2 L503.4,106.3 L503.8,105.4 L504.1,104.5 L504.4,103.7 L504.8,102.9 L505.1,102.2 L505.4,101.5 L505.8,100.9 L506.1,100.3 L506.4,99.7 L506.8,99.2 L507.1,98.7 L507.4,98.3 L507.8,97.9 L508.1,97.5 L508.4,97.2 L508.8,97.0 L509.1,96.8 L509.4,96.6 L509.8,96.5 L510.1,96.4 L510.4,96.4 L510.8,96.4 L511.1,96.4 L511.4,96.5 L511.8,96.7 L512.1,96.9 L512.4,97.1 L512.8,97.4 L513.1,97.7 L513.4,98.1 L513.8,98.5 L514.1,98.9 L514.4,99.4 L514.8,99.9 L515.1,100.5 L515.4,101.2 L515.8,101.8 L516.1,102.5 L516.4,103.3 L516.7,104.1 L517.1,104.9 L517.4,105.8 L517.7,106.7 L518.1,107.6 L518.4,108.6 L518.7,109.6 L519.1,110.7 L519.4,111.8 L519.7,112.9 L520.1,114.1 L520.4,115.3 L520.7,116.5 L521.1,117.8 L521.4,119.1 L521.7,120.4 L522.1,121.8 L522.4,123.2 L522.7,124.6 L523.1,126.1 L523.4,127.6 L523.7,129.1 L524.1,130.6 L524.4,132.2 L524.7,133.8 L525.1,135.4 L525.4,137.1 L525.7,138.7 L526.1,140.4 L526.4,142.1 L526.7,143.9 L527.1,145.6 L527.4,147.4 L527.7,149.2 L528.1,151.0 L528.4,152.8 L528.7,154.6 L529.1,156.5 L529.4,158.4 L529.7,160.2 L530.1,162.1 L530.4,164.0 L530.7,165.9 L531.1,167.9 L531.4,169.8 L531.7,171.7 L532.1,173.7 L532.4,175.6 L532.7,177.6 L533.1,179.6 L533.4,181.5 L533.7,183.5 L534.1,185.5 L534.4,187.4 L534.7,189.4 L535.1,191.4 L535.4,193.4 L535.7,195.4 L536.1,197.3 L536.4,199.3 L536.7,201.3 L537.1,203.2 L537.4,205.2 L537.7,207.1 L538.1,209.1 L538.4,211.0 L538.7,213.0 L539.1,214.9 L539.4,216.8 L539.7,218.7 L540.1,220.6 L540.4,222.5 L540.7,224.4 L541.0,226.2 L541.4,228.1 L541.7,229.9 L542.0,231.8 L542.4,233.6 L542.7,235.4 L543.0,237.2 L543.4,238.9 L543.7,240.7 L544.0,242.4 L544.4,244.2 L544.7,245.9 L545.0,247.6 L545.4,249.2 L545.7,250.9 L546.0,252.5 L546.4,254.2 L546.7,255.8 L547.0,257.4 L547.4,259.0 L547.7,260.5 L548.0,262.0 L548.4,263.6 L548.7,265.1 L549.0,266.5 L549.4,268.0 L549.7,269.4 L550.0,270.9 L550.4,272.3 L550.7,273.6 L551.0,275.0 L551.4,276.4 L551.7,277.7 L552.0,279.0 L552.4,280.3 L552.7,281.5 L553.0,282.8 L553.4,284.0 L553.7,285.2 L554.0,286.4 L554.4,287.5 L554.7,288.7 L555.0,289.8 L555.4,290.9 L555.7,292.0 L556.0,293.1 L556.4,294.1 L556.7,295.1 L557.0,296.1 L557.4,297.1 L557.7,298.1 L558.0,299.1 L558.4,300.0 L558.7,300.9 L559.0,301.8 L559.4,302.7 L559.7,303.5 L560.0,304.4 L560.4,305.2 L560.7,306.0 L561.0,306.8 L561.4,307.6 L561.7,308.3 L562.0,309.1 L562.4,309.8 L562.7,310.5 L563.0,311.2 L563.4,311.9 L563.7,312.5 L564.0,313.2 L564.4,313.8 L564.7,314.4 L565.0,315.0 L565.3,315.6 L565.7,316.1 L566.0,316.7 L566.3,317.2 L566.7,317.8 L567.0,318.3 L567.3,318.8 L567.7,319.3 L568.0,319.7 L568.3,320.2 L568.7,320.7 L569.0,321.1 L569.3,321.5 L569.7,321.9 L570.0,322.3 L570.3,322.7 L570.7,323.1 L571.0,323.5 L571.3,323.9 L571.7,324.2 L572.0,324.5 L572.3,324.9 L572.7,325.2 L573.0,325.5 L573.3,325.8 L573.7,326.1 L574.0,326.4 L574.3,326.7 L574.7,326.9 L575.0,327.2 L575.3,327.4 L575.7,327.7 L576.0,327.9 L576.3,328.1 L576.7,328.4 L577.0,328.6 L577.3,328.8 L577.7,329.0 L578.0,329.2 L578.3,329.4 L578.7,329.6 L579.0,329.7 L579.3,329.9 L579.7,330.1 L580.0,330.2 L580.3,330.4 L580.7,330.5 L581.0,330.7 L581.3,330.8 L581.7,330.9 L582.0,331.1 L582.3,331.2 L582.7,331.3 L583.0,331.4 L583.3,331.5 L583.7,331.6 L584.0,331.8 L584.3,331.9 L584.7,331.9 L585.0,332.0 L585.3,332.1 L585.7,332.2 L586.0,332.3 L586.3,332.4 L586.7,332.5 L587.0,332.5 L587.3,332.6 L587.7,332.7 L588.0,332.7 L588.3,332.8 L588.7,332.9 L589.0,332.9 L589.3,333.0 L589.6,333.0 L590.0,333.1 L590.3,333.1 L590.6,333.2 L591.0,333.2 L591.3,333.3 L591.6,333.3 L592.0,333.3 L592.3,333.4 L592.6,333.4 L593.0,333.5 L593.3,333.5 L593.6,333.5 L594.0,333.6 L594.3,333.6 L594.6,333.6 L595.0,333.6 L595.3,333.7 L595.6,333.7 L596.0,333.7 L596.3,333.7 L596.6,333.8 L597.0,333.8 L597.3,333.8 L597.6,333.8 L598.0,333.8 L598.3,333.9 L598.6,333.9 L599.0,333.9 L599.3,333.9 L599.6,333.9 L600.0,333.9 L600.3,333.9 L600.6,334.0 L601.0,334.0 L601.3,334.0 L601.6,334.0 L602.0,334.0 L602.3,334.0 L602.6,334.0 L603.0,334.0 L603.3,334.0 L603.6,334.1 L604.0,334.1 L604.3,334.1 L604.6,334.1 L605.0,334.1 L605.3,334.1 L605.6,334.1 L606.0,334.1 L606.3,334.1 L606.6,334.1 L607.0,334.1 L607.3,334.1 L607.6,334.1 L608.0,334.1 L608.3,334.1 L608.6,334.1 L609.0,334.1 L609.3,334.1 L609.6,334.1 L610.0,334.2 L610.3,334.2 L610.6,334.2 L611.0,334.2 L611.3,334.2 L611.6,334.2 L612.0,334.2 L612.3,334.2 L612.6,334.2 L613.0,334.2 L613.3,334.2 L613.6,334.2 L613.9,334.2 L614.3,334.2 L614.6,334.2 L614.9,334.2 L615.3,334.2 L615.6,334.2 L615.9,334.2 L616.3,334.2 L616.6,334.2 L616.9,334.2 L617.3,334.2 L617.6,334.2 L617.9,334.2 L618.3,334.2 L618.6,334.2 L618.9,334.2 L619.3,334.2 L619.6,334.2 L619.9,334.2 L620.3,334.2 L620.6,334.2 L620.9,334.2 L621.3,334.2 L621.6,334.2 L621.9,334.2 L622.3,334.2 L622.6,334.2 L622.9,334.2 L623.3,334.2 L623.6,334.2 L623.9,334.2 L624.3,334.2 L624.6,334.2 L624.9,334.2 L625.3,334.2 L625.6,334.2 L625.9,334.2 L626.3,334.2 L626.6,334.2 L626.9,334.2 L627.3,334.2 L627.6,334.2 L627.9,334.2 L628.3,334.2 L628.6,334.2 L628.9,334.2 L629.3,334.2 L629.6,334.2 L629.9,334.2 L630.3,334.2 L630.6,334.2 L630.9,334.2 L631.3,334.2 L631.6,334.2 L631.9,334.2 L632.3,334.2 L632.6,334.2 L632.9,334.2 L633.3,334.2 L633.6,334.2 L633.9,334.2 L634.3,334.2 L634.6,334.2 L634.9,334.2 L635.3,334.2 L635.6,334.2 L635.9,334.2 L636.3,334.2 L636.6,334.2 L636.9,334.2 L637.3,334.2 L637.6,334.2 L637.9,334.2 L638.3,334.2 L638.6,334.2 L638.9,334.2 L639.2,334.2 L639.6,334.2 L639.9,334.2 L640.2,334.2 L640.6,334.2 L640.9,334.2 L641.2,334.2 L641.6,334.2 L641.9,334.2 L642.2,334.2 L642.6,334.2 L642.9,334.2 L643.2,334.2 L643.6,334.2 L643.9,334.2 L644.2,334.2 L644.6,334.2 L644.9,334.2 L645.2,334.2 L645.6,334.2 L645.9,334.2 L646.2,334.2 L646.6,334.2 L646.9,334.2 L647.2,334.2 L647.6,334.2 L647.9,334.2 L648.2,334.2 L648.6,334.2 L648.9,334.2 L649.2,334.2 L649.6,334.2 L649.9,334.2 L650.2,334.2 L650.6,334.2 L650.9,334.2 L651.2,334.2 L651.6,334.2 L651.9,334.2 L652.2,334.2 L652.6,334.2 L652.9,334.2 L653.2,334.2 L653.6,334.2 L653.9,334.2 L654.2,334.2 L654.6,334.2 L654.9,334.2 L655.2,334.2 L655.6,334.2 L655.9,334.2 L656.2,334.2 L656.6,334.2 L656.9,334.2 L657.2,334.2 L657.6,334.2 L657.9,334.2 L658.2,334.2 L658.6,334.2 L658.9,334.2 L659.2,334.2 L659.6,334.2 L659.9,334.2 L660.2,334.2 L660.6,334.2 L660.9,334.2 L661.2,334.2 L661.6,334.2 L661.9,334.2 L662.2,334.2 L662.6,334.2 L662.9,334.2 L663.2,334.2 L663.5,334.2 L663.9,334.2 L664.2,334.2 L664.5,334.2 L664.9,334.2 L665.2,334.2 L665.5,334.2 L665.9,334.2 L666.2,334.2 L666.5,334.2 L666.9,334.2 L667.2,334.2 L667.5,334.2 L667.9,334.2 L668.2,334.2 L668.5,334.2 L668.9,334.2 L669.2,334.2 L669.5,334.2 L669.9,334.2 L670.2,334.2 L670.5,334.2 L670.9,334.2 L671.2,334.2 L671.5,334.2 L671.9,334.2 L672.2,334.2 L672.5,334.2 L672.9,334.2 L673.2,334.2 L673.5,334.2 L673.9,334.2 L674.2,334.2 L674.5,334.2 L674.9,334.2 L675.2,334.2 L675.5,334.2 L675.9,334.2 L676.2,334.2 L676.5,334.2 L676.9,334.2 L677.2,334.2 L677.5,334.2 L677.9,334.2 L678.2,334.2 L678.5,334.2 L678.9,334.2 L679.2,334.2 L679.5,334.2 L679.9,334.2 L680.2,334.2 L680.5,334.2 L680.9,334.2 L681.2,334.2 L681.5,334.2 L681.9,334.2 L682.2,334.2 L682.5,334.2 L682.9,334.2 L683.2,334.2 L683.5,334.2 L683.9,334.2 L684.2,334.2 L684.5,334.2 L684.9,334.2 L685.2,334.2 L685.5,334.2 L685.9,334.2 L686.2,334.2 L686.5,334.2 L686.9,334.2 L687.2,334.2 L687.5,334.2 L687.8,334.2 L688.2,334.2 L688.5,334.2 L688.8,334.2 L689.2,334.2 L689.5,334.2 L689.8,334.2 L690.2,334.2 L690.5,334.2 L690.8,334.2 L691.2,334.2 L691.5,334.2 L691.8,334.2 L692.2,334.2 L692.5,334.2 L692.8,334.2 L693.2,334.2 L693.5,334.2 L693.8,334.2 L694.2,334.2 L694.5,334.2 L694.8,334.2 L695.2,334.2 L695.5,334.2 L695.8,334.2 L696.2,334.2 L696.5,334.2 L696.8,334.2 L697.2,334.2 L697.5,334.2 L697.8,334.2 L698.2,334.2 L698.5,334.2 L698.8,334.2 L699.2,334.2 L699.5,334.2 L699.8,334.2 L700.2,334.2 L700.5,334.2 L700.8,334.2 L701.2,334.2 L701.5,334.2 L701.8,334.2 L702.2,334.2 L702.5,334.2 L702.8,334.2 L703.2,334.2 L703.5,334.2 L703.8,334.2 L704.2,334.2 L704.5,334.2 L704.8,334.2 L705.2,334.2 L705.5,334.2 L705.8,334.2 L706.2,334.2 L706.5,334.2 L706.8,334.2 L707.2,334.2 L707.5,334.2 L707.8,334.2 L708.2,334.2 L708.5,334.2 L708.8,334.2 L709.2,334.2 L709.5,334.2 L709.8,334.2 L710.2,334.2 L710.5,334.2 L710.8,334.2 L711.2,334.2 L711.5,334.2 L711.8,334.2 L712.1,334.2 L712.5,334.2 L712.8,334.2 L713.1,334.2 L713.5,334.2 L713.8,334.2 L714.1,334.2 L714.5,334.2 L714.8,334.2 L715.1,334.2 L715.5,334.2 L715.8,334.2 L716.1,334.2 L716.5,334.2 L716.8,334.2 L717.1,334.2 L717.5,334.2 L717.8,334.2 L718.1,334.2 L718.5,334.2 L718.8,334.2 L719.1,334.2 L719.5,334.2 L719.8,334.2 L720.1,334.2 L720.5,334.2 L720.8,334.2 L721.1,334.2 L721.5,334.2 L721.8,334.2 L722.1,334.2 L722.5,334.2 L722.8,334.2 L723.1,334.2 L723.5,334.2 L723.8,334.2 L724.1,334.2 L724.5,334.2 L724.8,334.2 L725.1,334.2 L725.5,334.2 L725.8,334.2 L726.1,334.2 L726.5,334.2 L726.8,334.2 L727.1,334.2 L727.5,334.2 L727.8,334.2 L728.1,334.2 L728.5,334.2 L728.8,334.2 L729.1,334.2 L729.5,334.2 L729.8,334.2 L730.1,334.2 L730.5,334.2 L730.8,334.2 L731.1,334.2 L731.5,334.2 L731.8,334.2 L732.1,334.2 L732.5,334.2 L732.8,334.2 L733.1,334.2 L733.5,334.2 L733.8,334.2 L734.1,334.2 L734.5,334.2 L734.8,334.2 L735.1,334.2 L735.5,334.2 L735.8,334.2 L736.1,334.2 L736.4,334.2 L736.8,334.2 L737.1,334.2 L737.4,334.2 L737.8,334.2 L738.1,334.2 L738.4,334.2 L738.8,334.2 L739.1,334.2 L739.4,334.2 L739.8,334.2 L740.1,334.2 L740.4,334.2 L740.8,334.2 L741.1,334.2 L741.4,334.2 L741.8,334.2 L742.1,334.2 L742.4,334.2 L742.8,334.2 L743.1,334.2 L743.4,334.2 L743.8,334.2 L744.1,334.2 L744.4,334.2 L744.8,334.2 L745.1,334.2 L745.4,334.2 L745.8,334.2 L746.1,334.2 L746.4,334.2 L746.8,334.2 L747.1,334.2 L747.4,334.2 L747.8,334.2 L748.1,334.2 L748.4,334.2 L748.8,334.2 L749.1,334.2 L749.4,334.2 L749.8,334.2 L750.1,334.2 L750.4,334.2 L750.8,334.2 L751.1,334.2 L751.4,334.2 L751.8,334.2 L752.1,334.2 L752.4,334.2 L752.8,334.2 L753.1,334.2 L753.4,334.2 L753.8,334.2 L754.1,334.2 L754.4,334.2 L754.8,334.2 L755.1,334.2 L755.4,334.2 L755.8,334.2 L756.1,334.2 L756.4,334.2 L756.8,334.2 L757.1,334.2 L757.4,334.2 L757.8,334.2 L758.1,334.2 L758.4,334.2 L758.8,334.2 L759.1,334.2 L759.4,334.2 L759.8,334.2 L760.1,334.2 L760.4,334.2 L760.8,334.2 L761.1,334.2 L761.4,334.2 L761.7,334.2 L762.1,334.2 L762.4,334.2 L762.7,334.2 L763.1,334.2 L763.4,334.2 L763.7,334.2 L764.1,334.2 L764.4,334.2 L764.7,334.2 L765.1,334.2 L765.4,334.2 L765.7,334.2 L766.1,334.2 L766.4,334.2 L766.7,334.2 L767.1,334.2 L767.4,334.2 L767.7,334.2 L768.1,334.2 L768.4,334.2 L768.7,334.2 L769.1,334.2 L769.4,334.2 L769.7,334.2 L770.1,334.2 L770.4,334.2 L770.7,334.2 L771.1,334.2 L771.4,334.2 L771.7,334.2 L772.1,334.2 L772.4,334.2 L772.7,334.2 L773.1,334.2 L773.4,334.2 L773.7,334.2 L774.1,334.2 L774.4,334.2 L774.7,334.2 L775.1,334.2 L775.4,334.2 L775.7,334.2 L776.1,334.2 L776.4,334.2 L776.7,334.2 L777.1,334.2 L777.4,334.2 L777.7,334.2 L778.1,334.2 L778.4,334.2 L778.7,334.2 L779.1,334.2 L779.4,334.2 L779.7,334.2 L780.1,334.2 L780.4,334.2 L780.7,334.2 L781.1,334.2 L781.4,334.2 L781.7,334.2 L782.1,334.2 L782.4,334.2 L782.7,334.2 L783.1,334.2 L783.4,334.2 L783.7,334.2 L784.1,334.2 L784.4,334.2 L784.7,334.2 L785.1,334.2 L785.4,334.2 L785.7,334.2 L786.0,334.2 L786.4,334.2 L786.7,334.2 L787.0,334.2 L787.4,334.2 L787.7,334.2 L788.0,334.2 L788.4,334.2 L788.7,334.2 L789.0,334.2 L789.4,334.2 L789.7,334.2 L790.0,334.2 L790.4,334.2 L790.7,334.2 L791.0,334.2 L791.4,334.2 L791.7,334.2 L792.0,334.2 L792.4,334.2 L792.7,334.2 L793.0,334.2 L793.4,334.2 L793.7,334.2 L794.0,334.2 L794.4,334.2 L794.7,334.2 L795.0,334.2 L795.4,334.2 L795.7,334.2 L796.0,334.2 L796.4,334.2 L796.7,334.2 L797.0,334.2 L797.4,334.2 L797.7,334.2" fill="none" stroke="#ff28ff" stroke-width="2.4" stroke-linejoin="round" stroke-linecap="round" stroke-dasharray="10 7" stroke-linecap="butt"/>
<path d="M332.0,334.2 L332.3,334.2 L332.7,334.2 L333.0,334.2 L333.3,334.2 L333.7,334.2 L334.0,334.2 L334.3,334.2 L334.7,334.2 L335.0,334.2 L335.3,334.2 L335.7,334.2 L336.0,334.2 L336.3,334.2 L336.7,334.2 L337.0,334.2 L337.3,334.2 L337.7,334.2 L338.0,334.2 L338.3,334.2 L338.7,334.2 L339.0,334.2 L339.3,334.2 L339.7,334.2 L340.0,334.2 L340.3,334.2 L340.7,334.2 L341.0,334.2 L341.3,334.2 L341.7,334.2 L342.0,334.2 L342.3,334.2 L342.7,334.2 L343.0,334.2 L343.3,334.2 L343.7,334.2 L344.0,334.2 L344.3,334.2 L344.6,334.2 L345.0,334.2 L345.3,334.2 L345.6,334.2 L346.0,334.2 L346.3,334.2 L346.6,334.2 L347.0,334.2 L347.3,334.2 L347.6,334.2 L348.0,334.2 L348.3,334.2 L348.6,334.2 L349.0,334.2 L349.3,334.2 L349.6,334.2 L350.0,334.2 L350.3,334.2 L350.6,334.2 L351.0,334.2 L351.3,334.2 L351.6,334.2 L352.0,334.2 L352.3,334.2 L352.6,334.2 L353.0,334.2 L353.3,334.2 L353.6,334.2 L354.0,334.2 L354.3,334.2 L354.6,334.2 L355.0,334.2 L355.3,334.2 L355.6,334.2 L356.0,334.2 L356.3,334.2 L356.6,334.2 L357.0,334.2 L357.3,334.2 L357.6,334.2 L358.0,334.2 L358.3,334.2 L358.6,334.2 L359.0,334.2 L359.3,334.2 L359.6,334.2 L360.0,334.2 L360.3,334.2 L360.6,334.2 L361.0,334.2 L361.3,334.2 L361.6,334.2 L362.0,334.2 L362.3,334.2 L362.6,334.2 L363.0,334.2 L363.3,334.2 L363.6,334.2 L364.0,334.2 L364.3,334.2 L364.6,334.2 L365.0,334.2 L365.3,334.2 L365.6,334.2 L366.0,334.2 L366.3,334.2 L366.6,334.2 L367.0,334.2 L367.3,334.2 L367.6,334.2 L368.0,334.2 L368.3,334.2 L368.6,334.2 L368.9,334.2 L369.3,334.1 L369.6,334.1 L369.9,334.1 L370.3,334.1 L370.6,334.1 L370.9,334.1 L371.3,334.1 L371.6,334.1 L371.9,334.1 L372.3,334.1 L372.6,334.1 L372.9,334.1 L373.3,334.1 L373.6,334.1 L373.9,334.1 L374.3,334.1 L374.6,334.1 L374.9,334.1 L375.3,334.1 L375.6,334.0 L375.9,334.0 L376.3,334.0 L376.6,334.0 L376.9,334.0 L377.3,334.0 L377.6,334.0 L377.9,334.0 L378.3,334.0 L378.6,334.0 L378.9,333.9 L379.3,333.9 L379.6,333.9 L379.9,333.9 L380.3,333.9 L380.6,333.9 L380.9,333.8 L381.3,333.8 L381.6,333.8 L381.9,333.8 L382.3,333.8 L382.6,333.8 L382.9,333.7 L383.3,333.7 L383.6,333.7 L383.9,333.7 L384.3,333.6 L384.6,333.6 L384.9,333.6 L385.3,333.6 L385.6,333.5 L385.9,333.5 L386.3,333.5 L386.6,333.4 L386.9,333.4 L387.3,333.4 L387.6,333.3 L387.9,333.3 L388.3,333.2 L388.6,333.2 L388.9,333.1 L389.3,333.1 L389.6,333.0 L389.9,333.0 L390.3,332.9 L390.6,332.9 L390.9,332.8 L391.3,332.8 L391.6,332.7 L391.9,332.6 L392.3,332.6 L392.6,332.5 L392.9,332.4 L393.3,332.4 L393.6,332.3 L393.9,332.2 L394.2,332.1 L394.6,332.0 L394.9,332.0 L395.2,331.9 L395.6,331.8 L395.9,331.7 L396.2,331.6 L396.6,331.5 L396.9,331.4 L397.2,331.3 L397.6,331.1 L397.9,331.0 L398.2,330.9 L398.6,330.8 L398.9,330.6 L399.2,330.5 L399.6,330.4 L399.9,330.2 L400.2,330.1 L400.6,329.9 L400.9,329.8 L401.2,329.6 L401.6,329.4 L401.9,329.3 L402.2,329.1 L402.6,328.9 L402.9,328.7 L403.2,328.5 L403.6,328.3 L403.9,328.1 L404.2,327.9 L404.6,327.7 L404.9,327.5 L405.2,327.2 L405.6,327.0 L405.9,326.7 L406.2,326.5 L406.6,326.2 L406.9,326.0 L407.2,325.7 L407.6,325.4 L407.9,325.1 L408.2,324.8 L408.6,324.5 L408.9,324.2 L409.2,323.9 L409.6,323.6 L409.9,323.3 L410.2,322.9 L410.6,322.6 L410.9,322.2 L411.2,321.8 L411.6,321.5 L411.9,321.1 L412.2,320.7 L412.6,320.3 L412.9,319.9 L413.2,319.4 L413.6,319.0 L413.9,318.6 L414.2,318.1 L414.6,317.7 L414.9,317.2 L415.2,316.7 L415.6,316.2 L415.9,315.7 L416.2,315.2 L416.6,314.7 L416.9,314.2 L417.2,313.6 L417.6,313.1 L417.9,312.5 L418.2,311.9 L418.5,311.3 L418.9,310.7 L419.2,310.1 L419.5,309.5 L419.9,308.9 L420.2,308.3 L420.5,307.6 L420.9,306.9 L421.2,306.3 L421.5,305.6 L421.9,304.9 L422.2,304.2 L422.5,303.5 L422.9,302.7 L423.2,302.0 L423.5,301.2 L423.9,300.5 L424.2,299.7 L424.5,298.9 L424.9,298.1 L425.2,297.3 L425.5,296.5 L425.9,295.7 L426.2,294.9 L426.5,294.0 L426.9,293.1 L427.2,292.3 L427.5,291.4 L427.9,290.5 L428.2,289.6 L428.5,288.7 L428.9,287.8 L429.2,286.8 L429.5,285.9 L429.9,285.0 L430.2,284.0 L430.5,283.0 L430.9,282.0 L431.2,281.1 L431.5,280.1 L431.9,279.1 L432.2,278.0 L432.5,277.0 L432.9,276.0 L433.2,275.0 L433.5,273.9 L433.9,272.9 L434.2,271.8 L434.5,270.7 L434.9,269.7 L435.2,268.6 L435.5,267.5 L435.9,266.4 L436.2,265.3 L436.5,264.2 L436.9,263.1 L437.2,262.0 L437.5,260.9 L437.9,259.8 L438.2,258.6 L438.5,257.5 L438.9,256.4 L439.2,255.2 L439.5,254.1 L439.9,252.9 L440.2,251.8 L440.5,250.7 L440.9,249.5 L441.2,248.4 L441.5,247.2 L441.9,246.0 L442.2,244.9 L442.5,243.7 L442.8,242.6 L443.2,241.4 L443.5,240.3 L443.8,239.1 L444.2,238.0 L444.5,236.8 L444.8,235.7 L445.2,234.5 L445.5,233.4 L445.8,232.2 L446.2,231.1 L446.5,230.0 L446.8,228.8 L447.2,227.7 L447.5,226.6 L447.8,225.4 L448.2,224.3 L448.5,223.2 L448.8,222.1 L449.2,221.0 L449.5,219.9 L449.8,218.8 L450.2,217.7 L450.5,216.6 L450.8,215.5 L451.2,214.5 L451.5,213.4 L451.8,212.3 L452.2,211.3 L452.5,210.2 L452.8,209.2 L453.2,208.1 L453.5,207.1 L453.8,206.1 L454.2,205.1 L454.5,204.1 L454.8,203.1 L455.2,202.1 L455.5,201.1 L455.8,200.1 L456.2,199.1 L456.5,198.2 L456.8,197.2 L457.2,196.2 L457.5,195.3 L457.8,194.4 L458.2,193.4 L458.5,192.5 L458.8,191.6 L459.2,190.7 L459.5,189.8 L459.8,188.9 L460.2,188.0 L460.5,187.1 L460.8,186.2 L461.2,185.3 L461.5,184.4 L461.8,183.6 L462.2,182.7 L462.5,181.9 L462.8,181.0 L463.2,180.2 L463.5,179.3 L463.8,178.5 L464.2,177.7 L464.5,176.8 L464.8,176.0 L465.2,175.2 L465.5,174.4 L465.8,173.6 L466.2,172.8 L466.5,171.9 L466.8,171.1 L467.1,170.3 L467.5,169.5 L467.8,168.7 L468.1,167.9 L468.5,167.1 L468.8,166.3 L469.1,165.5 L469.5,164.7 L469.8,163.9 L470.1,163.1 L470.5,162.4 L470.8,161.6 L471.1,160.8 L471.5,159.9 L471.8,159.1 L472.1,158.3 L472.5,157.5 L472.8,156.7 L473.1,155.9 L473.5,155.1 L473.8,154.3 L474.1,153.5 L474.5,152.6 L474.8,151.8 L475.1,151.0 L475.5,150.1 L475.8,149.3 L476.1,148.5 L476.5,147.6 L476.8,146.8 L477.1,145.9 L477.5,145.0 L477.8,144.2 L478.1,143.3 L478.5,142.4 L478.8,141.5 L479.1,140.7 L479.5,139.8 L479.8,138.9 L480.1,138.0 L480.5,137.1 L480.8,136.2 L481.1,135.2 L481.5,134.3 L481.8,133.4 L482.1,132.5 L482.5,131.5 L482.8,130.6 L483.1,129.7 L483.5,128.7 L483.8,127.8 L484.1,126.8 L484.5,125.9 L484.8,124.9 L485.1,123.9 L485.5,123.0 L485.8,122.0 L486.1,121.1 L486.5,120.1 L486.8,119.1 L487.1,118.2 L487.5,117.2 L487.8,116.2 L488.1,115.3 L488.5,114.3 L488.8,113.3 L489.1,112.4 L489.5,111.4 L489.8,110.5 L490.1,109.5 L490.5,108.6 L490.8,107.6 L491.1,106.7 L491.4,105.7 L491.8,104.8 L492.1,103.9 L492.4,103.0 L492.8,102.1 L493.1,101.2 L493.4,100.3 L493.8,99.4 L494.1,98.6 L494.4,97.7 L494.8,96.9 L495.1,96.0 L495.4,95.2 L495.8,94.4 L496.1,93.6 L496.4,92.9 L496.8,92.1 L497.1,91.4 L497.4,90.7 L497.8,89.9 L498.1,89.3 L498.4,88.6 L498.8,87.9 L499.1,87.3 L499.4,86.7 L499.8,86.1 L500.1,85.6 L500.4,85.0 L500.8,84.5 L501.1,84.0 L501.4,83.6 L501.8,83.1 L502.1,82.7 L502.4,82.3 L502.8,82.0 L503.1,81.6 L503.4,81.3 L503.8,81.0 L504.1,80.8 L504.4,80.6 L504.8,80.4 L505.1,80.2 L505.4,80.1 L505.8,80.0 L506.1,79.9 L506.4,79.9 L506.8,79.9 L507.1,80.0 L507.4,80.0 L507.8,80.1 L508.1,80.3 L508.4,80.4 L508.8,80.6 L509.1,80.9 L509.4,81.2 L509.8,81.5 L510.1,81.8 L510.4,82.2 L510.8,82.6 L511.1,83.1 L511.4,83.5 L511.8,84.1 L512.1,84.6 L512.4,85.2 L512.8,85.9 L513.1,86.5 L513.4,87.2 L513.8,88.0 L514.1,88.7 L514.4,89.5 L514.8,90.4 L515.1,91.3 L515.4,92.2 L515.8,93.1 L516.1,94.1 L516.4,95.1 L516.7,96.2 L517.1,97.3 L517.4,98.4 L517.7,99.5 L518.1,100.7 L518.4,101.9 L518.7,103.2 L519.1,104.4 L519.4,105.7 L519.7,107.1 L520.1,108.5 L520.4,109.8 L520.7,111.3 L521.1,112.7 L521.4,114.2 L521.7,115.7 L522.1,117.3 L522.4,118.8 L522.7,120.4 L523.1,122.0 L523.4,123.6 L523.7,125.3 L524.1,127.0 L524.4,128.7 L524.7,130.4 L525.1,132.2 L525.4,133.9 L525.7,135.7 L526.1,137.5 L526.4,139.3 L526.7,141.2 L527.1,143.0 L527.4,144.9 L527.7,146.8 L528.1,148.7 L528.4,150.6 L528.7,152.5 L529.1,154.4 L529.4,156.4 L529.7,158.3 L530.1,160.3 L530.4,162.3 L530.7,164.3 L531.1,166.3 L531.4,168.3 L531.7,170.3 L532.1,172.3 L532.4,174.3 L532.7,176.3 L533.1,178.3 L533.4,180.3 L533.7,182.4 L534.1,184.4 L534.4,186.4 L534.7,188.4 L535.1,190.4 L535.4,192.5 L535.7,194.5 L536.1,196.5 L536.4,198.5 L536.7,200.5 L537.1,202.5 L537.4,204.5 L537.7,206.5 L538.1,208.4 L538.4,210.4 L538.7,212.4 L539.1,214.3 L539.4,216.3 L539.7,218.2 L540.1,220.1 L540.4,222.0 L540.7,223.9 L541.0,225.8 L541.4,227.7 L541.7,229.5 L542.0,231.4 L542.4,233.2 L542.7,235.0 L543.0,236.8 L543.4,238.6 L543.7,240.4 L544.0,242.2 L544.4,243.9 L544.7,245.6 L545.0,247.3 L545.4,249.0 L545.7,250.7 L546.0,252.3 L546.4,254.0 L546.7,255.6 L547.0,257.2 L547.4,258.8 L547.7,260.3 L548.0,261.9 L548.4,263.4 L548.7,264.9 L549.0,266.4 L549.4,267.9 L549.7,269.3 L550.0,270.8 L550.4,272.2 L550.7,273.5 L551.0,274.9 L551.4,276.3 L551.7,277.6 L552.0,278.9 L552.4,280.2 L552.7,281.5 L553.0,282.7 L553.4,283.9 L553.7,285.1 L554.0,286.3 L554.4,287.5 L554.7,288.6 L555.0,289.8 L555.4,290.9 L555.7,292.0 L556.0,293.0 L556.4,294.1 L556.7,295.1 L557.0,296.1 L557.4,297.1 L557.7,298.1 L558.0,299.0 L558.4,300.0 L558.7,300.9 L559.0,301.8 L559.4,302.7 L559.7,303.5 L560.0,304.4 L560.4,305.2 L560.7,306.0 L561.0,306.8 L561.4,307.6 L561.7,308.3 L562.0,309.1 L562.4,309.8 L562.7,310.5 L563.0,311.2 L563.4,311.8 L563.7,312.5 L564.0,313.1 L564.4,313.8 L564.7,314.4 L565.0,315.0 L565.3,315.6 L565.7,316.1 L566.0,316.7 L566.3,317.2 L566.7,317.8 L567.0,318.3 L567.3,318.8 L567.7,319.3 L568.0,319.7 L568.3,320.2 L568.7,320.7 L569.0,321.1 L569.3,321.5 L569.7,321.9 L570.0,322.3 L570.3,322.7 L570.7,323.1 L571.0,323.5 L571.3,323.8 L571.7,324.2 L572.0,324.5 L572.3,324.9 L572.7,325.2 L573.0,325.5 L573.3,325.8 L573.7,326.1 L574.0,326.4 L574.3,326.7 L574.7,326.9 L575.0,327.2 L575.3,327.4 L575.7,327.7 L576.0,327.9 L576.3,328.1 L576.7,328.4 L577.0,328.6 L577.3,328.8 L577.7,329.0 L578.0,329.2 L578.3,329.4 L578.7,329.6 L579.0,329.7 L579.3,329.9 L579.7,330.1 L580.0,330.2 L580.3,330.4 L580.7,330.5 L581.0,330.7 L581.3,330.8 L581.7,330.9 L582.0,331.1 L582.3,331.2 L582.7,331.3 L583.0,331.4 L583.3,331.5 L583.7,331.6 L584.0,331.8 L584.3,331.9 L584.7,331.9 L585.0,332.0 L585.3,332.1 L585.7,332.2 L586.0,332.3 L586.3,332.4 L586.7,332.5 L587.0,332.5 L587.3,332.6 L587.7,332.7 L588.0,332.7 L588.3,332.8 L588.7,332.9 L589.0,332.9 L589.3,333.0 L589.6,333.0 L590.0,333.1 L590.3,333.1 L590.6,333.2 L591.0,333.2 L591.3,333.3 L591.6,333.3 L592.0,333.3 L592.3,333.4 L592.6,333.4 L593.0,333.5 L593.3,333.5 L593.6,333.5 L594.0,333.6 L594.3,333.6 L594.6,333.6 L595.0,333.6 L595.3,333.7 L595.6,333.7 L596.0,333.7 L596.3,333.7 L596.6,333.8 L597.0,333.8 L597.3,333.8 L597.6,333.8 L598.0,333.8 L598.3,333.9 L598.6,333.9 L599.0,333.9 L599.3,333.9 L599.6,333.9 L600.0,333.9 L600.3,333.9 L600.6,334.0 L601.0,334.0 L601.3,334.0 L601.6,334.0 L602.0,334.0 L602.3,334.0 L602.6,334.0 L603.0,334.0 L603.3,334.0 L603.6,334.1 L604.0,334.1 L604.3,334.1 L604.6,334.1 L605.0,334.1 L605.3,334.1 L605.6,334.1 L606.0,334.1 L606.3,334.1 L606.6,334.1 L607.0,334.1 L607.3,334.1 L607.6,334.1 L608.0,334.1 L608.3,334.1 L608.6,334.1 L609.0,334.1 L609.3,334.1 L609.6,334.1 L610.0,334.2 L610.3,334.2 L610.6,334.2 L611.0,334.2 L611.3,334.2 L611.6,334.2 L612.0,334.2 L612.3,334.2 L612.6,334.2 L613.0,334.2 L613.3,334.2 L613.6,334.2 L613.9,334.2 L614.3,334.2 L614.6,334.2 L614.9,334.2 L615.3,334.2 L615.6,334.2 L615.9,334.2 L616.3,334.2 L616.6,334.2 L616.9,334.2 L617.3,334.2 L617.6,334.2 L617.9,334.2 L618.3,334.2 L618.6,334.2 L618.9,334.2 L619.3,334.2 L619.6,334.2 L619.9,334.2 L620.3,334.2 L620.6,334.2 L620.9,334.2 L621.3,334.2 L621.6,334.2 L621.9,334.2 L622.3,334.2 L622.6,334.2 L622.9,334.2 L623.3,334.2 L623.6,334.2 L623.9,334.2 L624.3,334.2 L624.6,334.2 L624.9,334.2 L625.3,334.2 L625.6,334.2 L625.9,334.2 L626.3,334.2 L626.6,334.2 L626.9,334.2 L627.3,334.2 L627.6,334.2 L627.9,334.2 L628.3,334.2 L628.6,334.2 L628.9,334.2 L629.3,334.2 L629.6,334.2 L629.9,334.2 L630.3,334.2 L630.6,334.2 L630.9,334.2 L631.3,334.2 L631.6,334.2 L631.9,334.2 L632.3,334.2 L632.6,334.2 L632.9,334.2 L633.3,334.2 L633.6,334.2 L633.9,334.2 L634.3,334.2 L634.6,334.2 L634.9,334.2 L635.3,334.2 L635.6,334.2 L635.9,334.2 L636.3,334.2 L636.6,334.2 L636.9,334.2 L637.3,334.2 L637.6,334.2 L637.9,334.2 L638.3,334.2 L638.6,334.2 L638.9,334.2 L639.2,334.2 L639.6,334.2 L639.9,334.2 L640.2,334.2 L640.6,334.2 L640.9,334.2 L641.2,334.2 L641.6,334.2 L641.9,334.2 L642.2,334.2 L642.6,334.2 L642.9,334.2 L643.2,334.2 L643.6,334.2 L643.9,334.2 L644.2,334.2 L644.6,334.2 L644.9,334.2 L645.2,334.2 L645.6,334.2 L645.9,334.2 L646.2,334.2 L646.6,334.2 L646.9,334.2 L647.2,334.2 L647.6,334.2 L647.9,334.2 L648.2,334.2 L648.6,334.2 L648.9,334.2 L649.2,334.2 L649.6,334.2 L649.9,334.2 L650.2,334.2 L650.6,334.2 L650.9,334.2 L651.2,334.2 L651.6,334.2 L651.9,334.2 L652.2,334.2 L652.6,334.2 L652.9,334.2 L653.2,334.2 L653.6,334.2 L653.9,334.2 L654.2,334.2 L654.6,334.2 L654.9,334.2 L655.2,334.2 L655.6,334.2 L655.9,334.2 L656.2,334.2 L656.6,334.2 L656.9,334.2 L657.2,334.2 L657.6,334.2 L657.9,334.2 L658.2,334.2 L658.6,334.2 L658.9,334.2 L659.2,334.2 L659.6,334.2 L659.9,334.2 L660.2,334.2 L660.6,334.2 L660.9,334.2 L661.2,334.2 L661.6,334.2 L661.9,334.2 L662.2,334.2 L662.6,334.2 L662.9,334.2 L663.2,334.2 L663.5,334.2 L663.9,334.2 L664.2,334.2 L664.5,334.2 L664.9,334.2 L665.2,334.2 L665.5,334.2 L665.9,334.2 L666.2,334.2 L666.5,334.2 L666.9,334.2 L667.2,334.2 L667.5,334.2 L667.9,334.2 L668.2,334.2 L668.5,334.2 L668.9,334.2 L669.2,334.2 L669.5,334.2 L669.9,334.2 L670.2,334.2 L670.5,334.2 L670.9,334.2 L671.2,334.2 L671.5,334.2 L671.9,334.2 L672.2,334.2 L672.5,334.2 L672.9,334.2 L673.2,334.2 L673.5,334.2 L673.9,334.2 L674.2,334.2 L674.5,334.2 L674.9,334.2 L675.2,334.2 L675.5,334.2 L675.9,334.2 L676.2,334.2 L676.5,334.2 L676.9,334.2 L677.2,334.2 L677.5,334.2 L677.9,334.2 L678.2,334.2 L678.5,334.2 L678.9,334.2 L679.2,334.2 L679.5,334.2 L679.9,334.2 L680.2,334.2 L680.5,334.2 L680.9,334.2 L681.2,334.2 L681.5,334.2 L681.9,334.2 L682.2,334.2 L682.5,334.2 L682.9,334.2 L683.2,334.2 L683.5,334.2 L683.9,334.2 L684.2,334.2 L684.5,334.2 L684.9,334.2 L685.2,334.2 L685.5,334.2 L685.9,334.2 L686.2,334.2 L686.5,334.2 L686.9,334.2 L687.2,334.2 L687.5,334.2 L687.8,334.2 L688.2,334.2 L688.5,334.2 L688.8,334.2 L689.2,334.2 L689.5,334.2 L689.8,334.2 L690.2,334.2 L690.5,334.2 L690.8,334.2 L691.2,334.2 L691.5,334.2 L691.8,334.2 L692.2,334.2 L692.5,334.2 L692.8,334.2 L693.2,334.2 L693.5,334.2 L693.8,334.2 L694.2,334.2 L694.5,334.2 L694.8,334.2 L695.2,334.2 L695.5,334.2 L695.8,334.2 L696.2,334.2 L696.5,334.2 L696.8,334.2 L697.2,334.2 L697.5,334.2 L697.8,334.2 L698.2,334.2 L698.5,334.2 L698.8,334.2 L699.2,334.2 L699.5,334.2 L699.8,334.2 L700.2,334.2 L700.5,334.2 L700.8,334.2 L701.2,334.2 L701.5,334.2 L701.8,334.2 L702.2,334.2 L702.5,334.2 L702.8,334.2 L703.2,334.2 L703.5,334.2 L703.8,334.2 L704.2,334.2 L704.5,334.2 L704.8,334.2 L705.2,334.2 L705.5,334.2 L705.8,334.2 L706.2,334.2 L706.5,334.2 L706.8,334.2 L707.2,334.2 L707.5,334.2 L707.8,334.2 L708.2,334.2 L708.5,334.2 L708.8,334.2 L709.2,334.2 L709.5,334.2 L709.8,334.2 L710.2,334.2 L710.5,334.2 L710.8,334.2 L711.2,334.2 L711.5,334.2 L711.8,334.2 L712.1,334.2 L712.5,334.2 L712.8,334.2 L713.1,334.2 L713.5,334.2 L713.8,334.2 L714.1,334.2 L714.5,334.2 L714.8,334.2 L715.1,334.2 L715.5,334.2 L715.8,334.2 L716.1,334.2 L716.5,334.2 L716.8,334.2 L717.1,334.2 L717.5,334.2 L717.8,334.2 L718.1,334.2 L718.5,334.2 L718.8,334.2 L719.1,334.2 L719.5,334.2 L719.8,334.2 L720.1,334.2 L720.5,334.2 L720.8,334.2 L721.1,334.2 L721.5,334.2 L721.8,334.2 L722.1,334.2 L722.5,334.2 L722.8,334.2 L723.1,334.2 L723.5,334.2 L723.8,334.2 L724.1,334.2 L724.5,334.2 L724.8,334.2 L725.1,334.2 L725.5,334.2 L725.8,334.2 L726.1,334.2 L726.5,334.2 L726.8,334.2 L727.1,334.2 L727.5,334.2 L727.8,334.2 L728.1,334.2 L728.5,334.2 L728.8,334.2 L729.1,334.2 L729.5,334.2 L729.8,334.2 L730.1,334.2 L730.5,334.2 L730.8,334.2 L731.1,334.2 L731.5,334.2 L731.8,334.2 L732.1,334.2 L732.5,334.2 L732.8,334.2 L733.1,334.2 L733.5,334.2 L733.8,334.2 L734.1,334.2 L734.5,334.2 L734.8,334.2 L735.1,334.2 L735.5,334.2 L735.8,334.2 L736.1,334.2 L736.4,334.2 L736.8,334.2 L737.1,334.2 L737.4,334.2 L737.8,334.2 L738.1,334.2 L738.4,334.2 L738.8,334.2 L739.1,334.2 L739.4,334.2 L739.8,334.2 L740.1,334.2 L740.4,334.2 L740.8,334.2 L741.1,334.2 L741.4,334.2 L741.8,334.2 L742.1,334.2 L742.4,334.2 L742.8,334.2 L743.1,334.2 L743.4,334.2 L743.8,334.2 L744.1,334.2 L744.4,334.2 L744.8,334.2 L745.1,334.2 L745.4,334.2 L745.8,334.2 L746.1,334.2 L746.4,334.2 L746.8,334.2 L747.1,334.2 L747.4,334.2 L747.8,334.2 L748.1,334.2 L748.4,334.2 L748.8,334.2 L749.1,334.2 L749.4,334.2 L749.8,334.2 L750.1,334.2 L750.4,334.2 L750.8,334.2 L751.1,334.2 L751.4,334.2 L751.8,334.2 L752.1,334.2 L752.4,334.2 L752.8,334.2 L753.1,334.2 L753.4,334.2 L753.8,334.2 L754.1,334.2 L754.4,334.2 L754.8,334.2 L755.1,334.2 L755.4,334.2 L755.8,334.2 L756.1,334.2 L756.4,334.2 L756.8,334.2 L757.1,334.2 L757.4,334.2 L757.8,334.2 L758.1,334.2 L758.4,334.2 L758.8,334.2 L759.1,334.2 L759.4,334.2 L759.8,334.2 L760.1,334.2 L760.4,334.2 L760.8,334.2 L761.1,334.2 L761.4,334.2 L761.7,334.2 L762.1,334.2 L762.4,334.2 L762.7,334.2 L763.1,334.2 L763.4,334.2 L763.7,334.2 L764.1,334.2 L764.4,334.2 L764.7,334.2 L765.1,334.2 L765.4,334.2 L765.7,334.2 L766.1,334.2 L766.4,334.2 L766.7,334.2 L767.1,334.2 L767.4,334.2 L767.7,334.2 L768.1,334.2 L768.4,334.2 L768.7,334.2 L769.1,334.2 L769.4,334.2 L769.7,334.2 L770.1,334.2 L770.4,334.2 L770.7,334.2 L771.1,334.2 L771.4,334.2 L771.7,334.2 L772.1,334.2 L772.4,334.2 L772.7,334.2 L773.1,334.2 L773.4,334.2 L773.7,334.2 L774.1,334.2 L774.4,334.2 L774.7,334.2 L775.1,334.2 L775.4,334.2 L775.7,334.2 L776.1,334.2 L776.4,334.2 L776.7,334.2 L777.1,334.2 L777.4,334.2 L777.7,334.2 L778.1,334.2 L778.4,334.2 L778.7,334.2 L779.1,334.2 L779.4,334.2 L779.7,334.2 L780.1,334.2 L780.4,334.2 L780.7,334.2 L781.1,334.2 L781.4,334.2 L781.7,334.2 L782.1,334.2 L782.4,334.2 L782.7,334.2 L783.1,334.2 L783.4,334.2 L783.7,334.2 L784.1,334.2 L784.4,334.2 L784.7,334.2 L785.1,334.2 L785.4,334.2 L785.7,334.2 L786.0,334.2 L786.4,334.2 L786.7,334.2 L787.0,334.2 L787.4,334.2 L787.7,334.2 L788.0,334.2 L788.4,334.2 L788.7,334.2 L789.0,334.2 L789.4,334.2 L789.7,334.2 L790.0,334.2 L790.4,334.2 L790.7,334.2 L791.0,334.2 L791.4,334.2 L791.7,334.2 L792.0,334.2 L792.4,334.2 L792.7,334.2 L793.0,334.2 L793.4,334.2 L793.7,334.2 L794.0,334.2 L794.4,334.2 L794.7,334.2 L795.0,334.2 L795.4,334.2 L795.7,334.2 L796.0,334.2 L796.4,334.2 L796.7,334.2 L797.0,334.2 L797.4,334.2 L797.7,334.2" fill="none" stroke="#f21d16" stroke-width="3.0" stroke-linejoin="round" stroke-linecap="round" />
<path d="M332.0,334.2 L332.3,334.2 L332.7,334.2 L333.0,334.2 L333.3,334.2 L333.7,334.2 L334.0,334.2 L334.3,334.2 L334.7,334.2 L335.0,334.2 L335.3,334.2 L335.7,334.2 L336.0,334.2 L336.3,334.2 L336.7,334.2 L337.0,334.2 L337.3,334.2 L337.7,334.2 L338.0,334.2 L338.3,334.2 L338.7,334.2 L339.0,334.2 L339.3,334.2 L339.7,334.2 L340.0,334.2 L340.3,334.2 L340.7,334.2 L341.0,334.2 L341.3,334.2 L341.7,334.2 L342.0,334.2 L342.3,334.2 L342.7,334.2 L343.0,334.2 L343.3,334.2 L343.7,334.2 L344.0,334.2 L344.3,334.2 L344.6,334.2 L345.0,334.2 L345.3,334.2 L345.6,334.2 L346.0,334.2 L346.3,334.2 L346.6,334.2 L347.0,334.2 L347.3,334.2 L347.6,334.2 L348.0,334.2 L348.3,334.2 L348.6,334.2 L349.0,334.2 L349.3,334.2 L349.6,334.2 L350.0,334.2 L350.3,334.2 L350.6,334.2 L351.0,334.2 L351.3,334.2 L351.6,334.2 L352.0,334.2 L352.3,334.2 L352.6,334.2 L353.0,334.2 L353.3,334.2 L353.6,334.2 L354.0,334.2 L354.3,334.2 L354.6,334.2 L355.0,334.2 L355.3,334.2 L355.6,334.2 L356.0,334.2 L356.3,334.2 L356.6,334.2 L357.0,334.2 L357.3,334.2 L357.6,334.2 L358.0,334.2 L358.3,334.2 L358.6,334.2 L359.0,334.2 L359.3,334.2 L359.6,334.2 L360.0,334.2 L360.3,334.2 L360.6,334.2 L361.0,334.2 L361.3,334.2 L361.6,334.2 L362.0,334.2 L362.3,334.2 L362.6,334.2 L363.0,334.2 L363.3,334.2 L363.6,334.2 L364.0,334.2 L364.3,334.2 L364.6,334.2 L365.0,334.2 L365.3,334.2 L365.6,334.2 L366.0,334.2 L366.3,334.2 L366.6,334.2 L367.0,334.2 L367.3,334.2 L367.6,334.2 L368.0,334.2 L368.3,334.2 L368.6,334.2 L368.9,334.2 L369.3,334.1 L369.6,334.1 L369.9,334.1 L370.3,334.1 L370.6,334.1 L370.9,334.1 L371.3,334.1 L371.6,334.1 L371.9,334.1 L372.3,334.1 L372.6,334.1 L372.9,334.1 L373.3,334.1 L373.6,334.1 L373.9,334.1 L374.3,334.1 L374.6,334.1 L374.9,334.1 L375.3,334.1 L375.6,334.0 L375.9,334.0 L376.3,334.0 L376.6,334.0 L376.9,334.0 L377.3,334.0 L377.6,334.0 L377.9,334.0 L378.3,334.0 L378.6,334.0 L378.9,333.9 L379.3,333.9 L379.6,333.9 L379.9,333.9 L380.3,333.9 L380.6,333.9 L380.9,333.8 L381.3,333.8 L381.6,333.8 L381.9,333.8 L382.3,333.8 L382.6,333.8 L382.9,333.7 L383.3,333.7 L383.6,333.7 L383.9,333.7 L384.3,333.6 L384.6,333.6 L384.9,333.6 L385.3,333.6 L385.6,333.5 L385.9,333.5 L386.3,333.5 L386.6,333.4 L386.9,333.4 L387.3,333.4 L387.6,333.3 L387.9,333.3 L388.3,333.2 L388.6,333.2 L388.9,333.1 L389.3,333.1 L389.6,333.0 L389.9,333.0 L390.3,332.9 L390.6,332.9 L390.9,332.8 L391.3,332.8 L391.6,332.7 L391.9,332.6 L392.3,332.6 L392.6,332.5 L392.9,332.4 L393.3,332.4 L393.6,332.3 L393.9,332.2 L394.2,332.1 L394.6,332.1 L394.9,332.0 L395.2,331.9 L395.6,331.8 L395.9,331.7 L396.2,331.6 L396.6,331.5 L396.9,331.4 L397.2,331.3 L397.6,331.1 L397.9,331.0 L398.2,330.9 L398.6,330.8 L398.9,330.7 L399.2,330.5 L399.6,330.4 L399.9,330.2 L400.2,330.1 L400.6,329.9 L400.9,329.8 L401.2,329.6 L401.6,329.4 L401.9,329.3 L402.2,329.1 L402.6,328.9 L402.9,328.7 L403.2,328.5 L403.6,328.3 L403.9,328.1 L404.2,327.9 L404.6,327.7 L404.9,327.5 L405.2,327.2 L405.6,327.0 L405.9,326.8 L406.2,326.5 L406.6,326.3 L406.9,326.0 L407.2,325.7 L407.6,325.4 L407.9,325.2 L408.2,324.9 L408.6,324.6 L408.9,324.3 L409.2,323.9 L409.6,323.6 L409.9,323.3 L410.2,323.0 L410.6,322.6 L410.9,322.3 L411.2,321.9 L411.6,321.5 L411.9,321.1 L412.2,320.7 L412.6,320.3 L412.9,319.9 L413.2,319.5 L413.6,319.1 L413.9,318.7 L414.2,318.2 L414.6,317.8 L414.9,317.3 L415.2,316.8 L415.6,316.3 L415.9,315.8 L416.2,315.3 L416.6,314.8 L416.9,314.3 L417.2,313.8 L417.6,313.2 L417.9,312.7 L418.2,312.1 L418.5,311.5 L418.9,310.9 L419.2,310.3 L419.5,309.7 L419.9,309.1 L420.2,308.5 L420.5,307.9 L420.9,307.2 L421.2,306.5 L421.5,305.9 L421.9,305.2 L422.2,304.5 L422.5,303.8 L422.9,303.1 L423.2,302.4 L423.5,301.6 L423.9,300.9 L424.2,300.1 L424.5,299.4 L424.9,298.6 L425.2,297.8 L425.5,297.0 L425.9,296.2 L426.2,295.4 L426.5,294.6 L426.9,293.8 L427.2,292.9 L427.5,292.1 L427.9,291.2 L428.2,290.4 L428.5,289.5 L428.9,288.6 L429.2,287.7 L429.5,286.8 L429.9,285.9 L430.2,285.0 L430.5,284.1 L430.9,283.1 L431.2,282.2 L431.5,281.3 L431.9,280.3 L432.2,279.4 L432.5,278.4 L432.9,277.4 L433.2,276.5 L433.5,275.5 L433.9,274.5 L434.2,273.5 L434.5,272.5 L434.9,271.5 L435.2,270.5 L435.5,269.5 L435.9,268.5 L436.2,267.5 L436.5,266.5 L436.9,265.5 L437.2,264.5 L437.5,263.5 L437.9,262.5 L438.2,261.5 L438.5,260.4 L438.9,259.4 L439.2,258.4 L439.5,257.4 L439.9,256.4 L440.2,255.4 L440.5,254.4 L440.9,253.4 L441.2,252.4 L441.5,251.4 L441.9,250.4 L442.2,249.4 L442.5,248.5 L442.8,247.5 L443.2,246.5 L443.5,245.6 L443.8,244.6 L444.2,243.7 L444.5,242.8 L444.8,241.8 L445.2,240.9 L445.5,240.0 L445.8,239.1 L446.2,238.2 L446.5,237.4 L446.8,236.5 L447.2,235.6 L447.5,234.8 L447.8,234.0 L448.2,233.2 L448.5,232.4 L448.8,231.6 L449.2,230.8 L449.5,230.0 L449.8,229.3 L450.2,228.6 L450.5,227.9 L450.8,227.2 L451.2,226.5 L451.5,225.8 L451.8,225.2 L452.2,224.6 L452.5,224.0 L452.8,223.4 L453.2,222.8 L453.5,222.3 L453.8,221.7 L454.2,221.2 L454.5,220.7 L454.8,220.3 L455.2,219.8 L455.5,219.4 L455.8,219.0 L456.2,218.6 L456.5,218.2 L456.8,217.9 L457.2,217.6 L457.5,217.3 L457.8,217.0 L458.2,216.7 L458.5,216.5 L458.8,216.3 L459.2,216.1 L459.5,216.0 L459.8,215.8 L460.2,215.7 L460.5,215.6 L460.8,215.5 L461.2,215.5 L461.5,215.5 L461.8,215.5 L462.2,215.5 L462.5,215.6 L462.8,215.6 L463.2,215.7 L463.5,215.8 L463.8,216.0 L464.2,216.2 L464.5,216.3 L464.8,216.6 L465.2,216.8 L465.5,217.0 L465.8,217.3 L466.2,217.6 L466.5,218.0 L466.8,218.3 L467.1,218.7 L467.5,219.1 L467.8,219.5 L468.1,219.9 L468.5,220.4 L468.8,220.8 L469.1,221.3 L469.5,221.8 L469.8,222.4 L470.1,222.9 L470.5,223.5 L470.8,224.1 L471.1,224.7 L471.5,225.3 L471.8,226.0 L472.1,226.6 L472.5,227.3 L472.8,228.0 L473.1,228.7 L473.5,229.5 L473.8,230.2 L474.1,231.0 L474.5,231.7 L474.8,232.5 L475.1,233.3 L475.5,234.2 L475.8,235.0 L476.1,235.8 L476.5,236.7 L476.8,237.5 L477.1,238.4 L477.5,239.3 L477.8,240.2 L478.1,241.1 L478.5,242.0 L478.8,243.0 L479.1,243.9 L479.5,244.8 L479.8,245.8 L480.1,246.8 L480.5,247.7 L480.8,248.7 L481.1,249.7 L481.5,250.6 L481.8,251.6 L482.1,252.6 L482.5,253.6 L482.8,254.6 L483.1,255.6 L483.5,256.6 L483.8,257.6 L484.1,258.6 L484.5,259.7 L484.8,260.7 L485.1,261.7 L485.5,262.7 L485.8,263.7 L486.1,264.7 L486.5,265.7 L486.8,266.7 L487.1,267.7 L487.5,268.8 L487.8,269.8 L488.1,270.8 L488.5,271.8 L488.8,272.7 L489.1,273.7 L489.5,274.7 L489.8,275.7 L490.1,276.7 L490.5,277.7 L490.8,278.6 L491.1,279.6 L491.4,280.5 L491.8,281.5 L492.1,282.4 L492.4,283.4 L492.8,284.3 L493.1,285.2 L493.4,286.1 L493.8,287.0 L494.1,287.9 L494.4,288.8 L494.8,289.7 L495.1,290.6 L495.4,291.4 L495.8,292.3 L496.1,293.1 L496.4,294.0 L496.8,294.8 L497.1,295.6 L497.4,296.4 L497.8,297.2 L498.1,298.0 L498.4,298.8 L498.8,299.6 L499.1,300.3 L499.4,301.1 L499.8,301.8 L500.1,302.5 L500.4,303.3 L500.8,304.0 L501.1,304.7 L501.4,305.3 L501.8,306.0 L502.1,306.7 L502.4,307.3 L502.8,308.0 L503.1,308.6 L503.4,309.3 L503.8,309.9 L504.1,310.5 L504.4,311.1 L504.8,311.6 L505.1,312.2 L505.4,312.8 L505.8,313.3 L506.1,313.9 L506.4,314.4 L506.8,314.9 L507.1,315.4 L507.4,315.9 L507.8,316.4 L508.1,316.9 L508.4,317.4 L508.8,317.9 L509.1,318.3 L509.4,318.8 L509.8,319.2 L510.1,319.6 L510.4,320.0 L510.8,320.4 L511.1,320.8 L511.4,321.2 L511.8,321.6 L512.1,322.0 L512.4,322.3 L512.8,322.7 L513.1,323.0 L513.4,323.4 L513.8,323.7 L514.1,324.0 L514.4,324.3 L514.8,324.6 L515.1,324.9 L515.4,325.2 L515.8,325.5 L516.1,325.8 L516.4,326.1 L516.7,326.3 L517.1,326.6 L517.4,326.8 L517.7,327.1 L518.1,327.3 L518.4,327.5 L518.7,327.7 L519.1,328.0 L519.4,328.2 L519.7,328.4 L520.1,328.6 L520.4,328.8 L520.7,329.0 L521.1,329.1 L521.4,329.3 L521.7,329.5 L522.1,329.7 L522.4,329.8 L522.7,330.0 L523.1,330.1 L523.4,330.3 L523.7,330.4 L524.1,330.5 L524.4,330.7 L524.7,330.8 L525.1,330.9 L525.4,331.1 L525.7,331.2 L526.1,331.3 L526.4,331.4 L526.7,331.5 L527.1,331.6 L527.4,331.7 L527.7,331.8 L528.1,331.9 L528.4,332.0 L528.7,332.1 L529.1,332.2 L529.4,332.2 L529.7,332.3 L530.1,332.4 L530.4,332.5 L530.7,332.5 L531.1,332.6 L531.4,332.7 L531.7,332.7 L532.1,332.8 L532.4,332.8 L532.7,332.9 L533.1,333.0 L533.4,333.0 L533.7,333.1 L534.1,333.1 L534.4,333.2 L534.7,333.2 L535.1,333.2 L535.4,333.3 L535.7,333.3 L536.1,333.4 L536.4,333.4 L536.7,333.4 L537.1,333.5 L537.4,333.5 L537.7,333.5 L538.1,333.6 L538.4,333.6 L538.7,333.6 L539.1,333.6 L539.4,333.7 L539.7,333.7 L540.1,333.7 L540.4,333.7 L540.7,333.8 L541.0,333.8 L541.4,333.8 L541.7,333.8 L542.0,333.8 L542.4,333.9 L542.7,333.9 L543.0,333.9 L543.4,333.9 L543.7,333.9 L544.0,333.9 L544.4,333.9 L544.7,334.0 L545.0,334.0 L545.4,334.0 L545.7,334.0 L546.0,334.0 L546.4,334.0 L546.7,334.0 L547.0,334.0 L547.4,334.0 L547.7,334.0 L548.0,334.1 L548.4,334.1 L548.7,334.1 L549.0,334.1 L549.4,334.1 L549.7,334.1 L550.0,334.1 L550.4,334.1 L550.7,334.1 L551.0,334.1 L551.4,334.1 L551.7,334.1 L552.0,334.1 L552.4,334.1 L552.7,334.1 L553.0,334.1 L553.4,334.1 L553.7,334.1 L554.0,334.1 L554.4,334.2 L554.7,334.2 L555.0,334.2 L555.4,334.2 L555.7,334.2 L556.0,334.2 L556.4,334.2 L556.7,334.2 L557.0,334.2 L557.4,334.2 L557.7,334.2 L558.0,334.2 L558.4,334.2 L558.7,334.2 L559.0,334.2 L559.4,334.2 L559.7,334.2 L560.0,334.2 L560.4,334.2 L560.7,334.2 L561.0,334.2 L561.4,334.2 L561.7,334.2 L562.0,334.2 L562.4,334.2 L562.7,334.2 L563.0,334.2 L563.4,334.2 L563.7,334.2 L564.0,334.2 L564.4,334.2 L564.7,334.2 L565.0,334.2 L565.3,334.2 L565.7,334.2 L566.0,334.2 L566.3,334.2 L566.7,334.2 L567.0,334.2 L567.3,334.2 L567.7,334.2 L568.0,334.2 L568.3,334.2 L568.7,334.2 L569.0,334.2 L569.3,334.2 L569.7,334.2 L570.0,334.2 L570.3,334.2 L570.7,334.2 L571.0,334.2 L571.3,334.2 L571.7,334.2 L572.0,334.2 L572.3,334.2 L572.7,334.2 L573.0,334.2 L573.3,334.2 L573.7,334.2 L574.0,334.2 L574.3,334.2 L574.7,334.2 L575.0,334.2 L575.3,334.2 L575.7,334.2 L576.0,334.2 L576.3,334.2 L576.7,334.2 L577.0,334.2 L577.3,334.2 L577.7,334.2 L578.0,334.2 L578.3,334.2 L578.7,334.2 L579.0,334.2 L579.3,334.2 L579.7,334.2 L580.0,334.2 L580.3,334.2 L580.7,334.2 L581.0,334.2 L581.3,334.2 L581.7,334.2 L582.0,334.2 L582.3,334.2 L582.7,334.2 L583.0,334.2 L583.3,334.2 L583.7,334.2 L584.0,334.2 L584.3,334.2 L584.7,334.2 L585.0,334.2 L585.3,334.2 L585.7,334.2 L586.0,334.2 L586.3,334.2 L586.7,334.2 L587.0,334.2 L587.3,334.2 L587.7,334.2 L588.0,334.2 L588.3,334.2 L588.7,334.2 L589.0,334.2 L589.3,334.2 L589.6,334.2 L590.0,334.2 L590.3,334.2 L590.6,334.2 L591.0,334.2 L591.3,334.2 L591.6,334.2 L592.0,334.2 L592.3,334.2 L592.6,334.2 L593.0,334.2 L593.3,334.2 L593.6,334.2 L594.0,334.2 L594.3,334.2 L594.6,334.2 L595.0,334.2 L595.3,334.2 L595.6,334.2 L596.0,334.2 L596.3,334.2 L596.6,334.2 L597.0,334.2 L597.3,334.2 L597.6,334.2 L598.0,334.2 L598.3,334.2 L598.6,334.2 L599.0,334.2 L599.3,334.2 L599.6,334.2 L600.0,334.2 L600.3,334.2 L600.6,334.2 L601.0,334.2 L601.3,334.2 L601.6,334.2 L602.0,334.2 L602.3,334.2 L602.6,334.2 L603.0,334.2 L603.3,334.2 L603.6,334.2 L604.0,334.2 L604.3,334.2 L604.6,334.2 L605.0,334.2 L605.3,334.2 L605.6,334.2 L606.0,334.2 L606.3,334.2 L606.6,334.2 L607.0,334.2 L607.3,334.2 L607.6,334.2 L608.0,334.2 L608.3,334.2 L608.6,334.2 L609.0,334.2 L609.3,334.2 L609.6,334.2 L610.0,334.2 L610.3,334.2 L610.6,334.2 L611.0,334.2 L611.3,334.2 L611.6,334.2 L612.0,334.2 L612.3,334.2 L612.6,334.2 L613.0,334.2 L613.3,334.2 L613.6,334.2 L613.9,334.2 L614.3,334.2 L614.6,334.2 L614.9,334.2 L615.3,334.2 L615.6,334.2 L615.9,334.2 L616.3,334.2 L616.6,334.2 L616.9,334.2 L617.3,334.2 L617.6,334.2 L617.9,334.2 L618.3,334.2 L618.6,334.2 L618.9,334.2 L619.3,334.2 L619.6,334.2 L619.9,334.2 L620.3,334.2 L620.6,334.2 L620.9,334.2 L621.3,334.2 L621.6,334.2 L621.9,334.2 L622.3,334.2 L622.6,334.2 L622.9,334.2 L623.3,334.2 L623.6,334.2 L623.9,334.2 L624.3,334.2 L624.6,334.2 L624.9,334.2 L625.3,334.2 L625.6,334.2 L625.9,334.2 L626.3,334.2 L626.6,334.2 L626.9,334.2 L627.3,334.2 L627.6,334.2 L627.9,334.2 L628.3,334.2 L628.6,334.2 L628.9,334.2 L629.3,334.2 L629.6,334.2 L629.9,334.2 L630.3,334.2 L630.6,334.2 L630.9,334.2 L631.3,334.2 L631.6,334.2 L631.9,334.2 L632.3,334.2 L632.6,334.2 L632.9,334.2 L633.3,334.2 L633.6,334.2 L633.9,334.2 L634.3,334.2 L634.6,334.2 L634.9,334.2 L635.3,334.2 L635.6,334.2 L635.9,334.2 L636.3,334.2 L636.6,334.2 L636.9,334.2 L637.3,334.2 L637.6,334.2 L637.9,334.2 L638.3,334.2 L638.6,334.2 L638.9,334.2 L639.2,334.2 L639.6,334.2 L639.9,334.2 L640.2,334.2 L640.6,334.2 L640.9,334.2 L641.2,334.2 L641.6,334.2 L641.9,334.2 L642.2,334.2 L642.6,334.2 L642.9,334.2 L643.2,334.2 L643.6,334.2 L643.9,334.2 L644.2,334.2 L644.6,334.2 L644.9,334.2 L645.2,334.2 L645.6,334.2 L645.9,334.2 L646.2,334.2 L646.6,334.2 L646.9,334.2 L647.2,334.2 L647.6,334.2 L647.9,334.2 L648.2,334.2 L648.6,334.2 L648.9,334.2 L649.2,334.2 L649.6,334.2 L649.9,334.2 L650.2,334.2 L650.6,334.2 L650.9,334.2 L651.2,334.2 L651.6,334.2 L651.9,334.2 L652.2,334.2 L652.6,334.2 L652.9,334.2 L653.2,334.2 L653.6,334.2 L653.9,334.2 L654.2,334.2 L654.6,334.2 L654.9,334.2 L655.2,334.2 L655.6,334.2 L655.9,334.2 L656.2,334.2 L656.6,334.2 L656.9,334.2 L657.2,334.2 L657.6,334.2 L657.9,334.2 L658.2,334.2 L658.6,334.2 L658.9,334.2 L659.2,334.2 L659.6,334.2 L659.9,334.2 L660.2,334.2 L660.6,334.2 L660.9,334.2 L661.2,334.2 L661.6,334.2 L661.9,334.2 L662.2,334.2 L662.6,334.2 L662.9,334.2 L663.2,334.2 L663.5,334.2 L663.9,334.2 L664.2,334.2 L664.5,334.2 L664.9,334.2 L665.2,334.2 L665.5,334.2 L665.9,334.2 L666.2,334.2 L666.5,334.2 L666.9,334.2 L667.2,334.2 L667.5,334.2 L667.9,334.2 L668.2,334.2 L668.5,334.2 L668.9,334.2 L669.2,334.2 L669.5,334.2 L669.9,334.2 L670.2,334.2 L670.5,334.2 L670.9,334.2 L671.2,334.2 L671.5,334.2 L671.9,334.2 L672.2,334.2 L672.5,334.2 L672.9,334.2 L673.2,334.2 L673.5,334.2 L673.9,334.2 L674.2,334.2 L674.5,334.2 L674.9,334.2 L675.2,334.2 L675.5,334.2 L675.9,334.2 L676.2,334.2 L676.5,334.2 L676.9,334.2 L677.2,334.2 L677.5,334.2 L677.9,334.2 L678.2,334.2 L678.5,334.2 L678.9,334.2 L679.2,334.2 L679.5,334.2 L679.9,334.2 L680.2,334.2 L680.5,334.2 L680.9,334.2 L681.2,334.2 L681.5,334.2 L681.9,334.2 L682.2,334.2 L682.5,334.2 L682.9,334.2 L683.2,334.2 L683.5,334.2 L683.9,334.2 L684.2,334.2 L684.5,334.2 L684.9,334.2 L685.2,334.2 L685.5,334.2 L685.9,334.2 L686.2,334.2 L686.5,334.2 L686.9,334.2 L687.2,334.2 L687.5,334.2 L687.8,334.2 L688.2,334.2 L688.5,334.2 L688.8,334.2 L689.2,334.2 L689.5,334.2 L689.8,334.2 L690.2,334.2 L690.5,334.2 L690.8,334.2 L691.2,334.2 L691.5,334.2 L691.8,334.2 L692.2,334.2 L692.5,334.2 L692.8,334.2 L693.2,334.2 L693.5,334.2 L693.8,334.2 L694.2,334.2 L694.5,334.2 L694.8,334.2 L695.2,334.2 L695.5,334.2 L695.8,334.2 L696.2,334.2 L696.5,334.2 L696.8,334.2 L697.2,334.2 L697.5,334.2 L697.8,334.2 L698.2,334.2 L698.5,334.2 L698.8,334.2 L699.2,334.2 L699.5,334.2 L699.8,334.2 L700.2,334.2 L700.5,334.2 L700.8,334.2 L701.2,334.2 L701.5,334.2 L701.8,334.2 L702.2,334.2 L702.5,334.2 L702.8,334.2 L703.2,334.2 L703.5,334.2 L703.8,334.2 L704.2,334.2 L704.5,334.2 L704.8,334.2 L705.2,334.2 L705.5,334.2 L705.8,334.2 L706.2,334.2 L706.5,334.2 L706.8,334.2 L707.2,334.2 L707.5,334.2 L707.8,334.2 L708.2,334.2 L708.5,334.2 L708.8,334.2 L709.2,334.2 L709.5,334.2 L709.8,334.2 L710.2,334.2 L710.5,334.2 L710.8,334.2 L711.2,334.2 L711.5,334.2 L711.8,334.2 L712.1,334.2 L712.5,334.2 L712.8,334.2 L713.1,334.2 L713.5,334.2 L713.8,334.2 L714.1,334.2 L714.5,334.2 L714.8,334.2 L715.1,334.2 L715.5,334.2 L715.8,334.2 L716.1,334.2 L716.5,334.2 L716.8,334.2 L717.1,334.2 L717.5,334.2 L717.8,334.2 L718.1,334.2 L718.5,334.2 L718.8,334.2 L719.1,334.2 L719.5,334.2 L719.8,334.2 L720.1,334.2 L720.5,334.2 L720.8,334.2 L721.1,334.2 L721.5,334.2 L721.8,334.2 L722.1,334.2 L722.5,334.2 L722.8,334.2 L723.1,334.2 L723.5,334.2 L723.8,334.2 L724.1,334.2 L724.5,334.2 L724.8,334.2 L725.1,334.2 L725.5,334.2 L725.8,334.2 L726.1,334.2 L726.5,334.2 L726.8,334.2 L727.1,334.2 L727.5,334.2 L727.8,334.2 L728.1,334.2 L728.5,334.2 L728.8,334.2 L729.1,334.2 L729.5,334.2 L729.8,334.2 L730.1,334.2 L730.5,334.2 L730.8,334.2 L731.1,334.2 L731.5,334.2 L731.8,334.2 L732.1,334.2 L732.5,334.2 L732.8,334.2 L733.1,334.2 L733.5,334.2 L733.8,334.2 L734.1,334.2 L734.5,334.2 L734.8,334.2 L735.1,334.2 L735.5,334.2 L735.8,334.2 L736.1,334.2 L736.4,334.2 L736.8,334.2 L737.1,334.2 L737.4,334.2 L737.8,334.2 L738.1,334.2 L738.4,334.2 L738.8,334.2 L739.1,334.2 L739.4,334.2 L739.8,334.2 L740.1,334.2 L740.4,334.2 L740.8,334.2 L741.1,334.2 L741.4,334.2 L741.8,334.2 L742.1,334.2 L742.4,334.2 L742.8,334.2 L743.1,334.2 L743.4,334.2 L743.8,334.2 L744.1,334.2 L744.4,334.2 L744.8,334.2 L745.1,334.2 L745.4,334.2 L745.8,334.2 L746.1,334.2 L746.4,334.2 L746.8,334.2 L747.1,334.2 L747.4,334.2 L747.8,334.2 L748.1,334.2 L748.4,334.2 L748.8,334.2 L749.1,334.2 L749.4,334.2 L749.8,334.2 L750.1,334.2 L750.4,334.2 L750.8,334.2 L751.1,334.2 L751.4,334.2 L751.8,334.2 L752.1,334.2 L752.4,334.2 L752.8,334.2 L753.1,334.2 L753.4,334.2 L753.8,334.2 L754.1,334.2 L754.4,334.2 L754.8,334.2 L755.1,334.2 L755.4,334.2 L755.8,334.2 L756.1,334.2 L756.4,334.2 L756.8,334.2 L757.1,334.2 L757.4,334.2 L757.8,334.2 L758.1,334.2 L758.4,334.2 L758.8,334.2 L759.1,334.2 L759.4,334.2 L759.8,334.2 L760.1,334.2 L760.4,334.2 L760.8,334.2 L761.1,334.2 L761.4,334.2 L761.7,334.2 L762.1,334.2 L762.4,334.2 L762.7,334.2 L763.1,334.2 L763.4,334.2 L763.7,334.2 L764.1,334.2 L764.4,334.2 L764.7,334.2 L765.1,334.2 L765.4,334.2 L765.7,334.2 L766.1,334.2 L766.4,334.2 L766.7,334.2 L767.1,334.2 L767.4,334.2 L767.7,334.2 L768.1,334.2 L768.4,334.2 L768.7,334.2 L769.1,334.2 L769.4,334.2 L769.7,334.2 L770.1,334.2 L770.4,334.2 L770.7,334.2 L771.1,334.2 L771.4,334.2 L771.7,334.2 L772.1,334.2 L772.4,334.2 L772.7,334.2 L773.1,334.2 L773.4,334.2 L773.7,334.2 L774.1,334.2 L774.4,334.2 L774.7,334.2 L775.1,334.2 L775.4,334.2 L775.7,334.2 L776.1,334.2 L776.4,334.2 L776.7,334.2 L777.1,334.2 L777.4,334.2 L777.7,334.2 L778.1,334.2 L778.4,334.2 L778.7,334.2 L779.1,334.2 L779.4,334.2 L779.7,334.2 L780.1,334.2 L780.4,334.2 L780.7,334.2 L781.1,334.2 L781.4,334.2 L781.7,334.2 L782.1,334.2 L782.4,334.2 L782.7,334.2 L783.1,334.2 L783.4,334.2 L783.7,334.2 L784.1,334.2 L784.4,334.2 L784.7,334.2 L785.1,334.2 L785.4,334.2 L785.7,334.2 L786.0,334.2 L786.4,334.2 L786.7,334.2 L787.0,334.2 L787.4,334.2 L787.7,334.2 L788.0,334.2 L788.4,334.2 L788.7,334.2 L789.0,334.2 L789.4,334.2 L789.7,334.2 L790.0,334.2 L790.4,334.2 L790.7,334.2 L791.0,334.2 L791.4,334.2 L791.7,334.2 L792.0,334.2 L792.4,334.2 L792.7,334.2 L793.0,334.2 L793.4,334.2 L793.7,334.2 L794.0,334.2 L794.4,334.2 L794.7,334.2 L795.0,334.2 L795.4,334.2 L795.7,334.2 L796.0,334.2 L796.4,334.2 L796.7,334.2 L797.0,334.2 L797.4,334.2 L797.7,334.2" fill="none" stroke="#2038e0" stroke-width="2.3" stroke-linejoin="round" stroke-linecap="round" stroke-dasharray="5.2 4.6" stroke-linecap="butt"/>
<rect x="332.00" y="37.00" width="465.70" height="326.60" fill="none" stroke="#000" stroke-width="1.35"/>
<text x="237.0" y="31.6" font-size="38.5" text-anchor="start" >a</text>
<text x="486.6" y="24.6" font-size="26.5">S2<tspan font-style="italic">p</tspan> - Fe(DS)<tspan font-size="17" dy="9.5">3</tspan></text>
<text x="564.8" y="414.2" font-size="27" text-anchor="middle" >Binding Energy (eV)</text>
<text transform="translate(250.3,200) rotate(-90)" font-size="27" text-anchor="middle">Intensity (CPS)</text>
<text x="398.5" y="74.7" font-size="26.5" text-anchor="start" >Sulfates</text>
<line x1="441.3" y1="79.0" x2="462.7" y2="204.1" stroke="#2a40e8" stroke-width="1.4" />
<path d="M464.0,212.0 L459.0,203.7 L465.9,202.5 Z" fill="#2a40e8"/>
<line x1="441.3" y1="79.0" x2="486.9" y2="143.5" stroke="#ff28ff" stroke-width="1.4" />
<path d="M491.5,150.0 L483.4,144.7 L489.2,140.6 Z" fill="#ff28ff"/>
<line x1="955.2" y1="362.8" x2="955.2" y2="369.8" stroke="#000" stroke-width="1.35" />
<text x="955.2" y="388.7" font-size="17" text-anchor="middle" >174</text>
<line x1="994.4" y1="362.8" x2="994.4" y2="366.8" stroke="#000" stroke-width="1.35" />
<line x1="1033.6" y1="362.8" x2="1033.6" y2="369.8" stroke="#000" stroke-width="1.35" />
<text x="1033.6" y="388.7" font-size="17" text-anchor="middle" >172</text>
<line x1="1072.8" y1="362.8" x2="1072.8" y2="366.8" stroke="#000" stroke-width="1.35" />
<line x1="1112.0" y1="362.8" x2="1112.0" y2="369.8" stroke="#000" stroke-width="1.35" />
<text x="1112.0" y="388.7" font-size="17" text-anchor="middle" >170</text>
<line x1="1151.2" y1="362.8" x2="1151.2" y2="366.8" stroke="#000" stroke-width="1.35" />
<line x1="1190.3" y1="362.8" x2="1190.3" y2="369.8" stroke="#000" stroke-width="1.35" />
<text x="1190.3" y="388.7" font-size="17" text-anchor="middle" >168</text>
<line x1="1229.5" y1="362.8" x2="1229.5" y2="366.8" stroke="#000" stroke-width="1.35" />
<line x1="1268.7" y1="362.8" x2="1268.7" y2="369.8" stroke="#000" stroke-width="1.35" />
<text x="1268.7" y="388.7" font-size="17" text-anchor="middle" >166</text>
<line x1="1307.9" y1="362.8" x2="1307.9" y2="366.8" stroke="#000" stroke-width="1.35" />
<line x1="1347.1" y1="362.8" x2="1347.1" y2="369.8" stroke="#000" stroke-width="1.35" />
<text x="1347.1" y="388.7" font-size="17" text-anchor="middle" >164</text>
<line x1="1386.3" y1="362.8" x2="1386.3" y2="366.8" stroke="#000" stroke-width="1.35" />
<line x1="1425.5" y1="362.8" x2="1425.5" y2="369.8" stroke="#000" stroke-width="1.35" />
<text x="1425.5" y="388.7" font-size="17" text-anchor="middle" >162</text>
<line x1="948.2" y1="362.8" x2="955.2" y2="362.8" stroke="#000" stroke-width="1.35" />
<line x1="951.2" y1="335.3" x2="955.2" y2="335.3" stroke="#000" stroke-width="1.35" />
<line x1="948.2" y1="307.8" x2="955.2" y2="307.8" stroke="#000" stroke-width="1.35" />
<line x1="951.2" y1="280.4" x2="955.2" y2="280.4" stroke="#000" stroke-width="1.35" />
<line x1="948.2" y1="252.9" x2="955.2" y2="252.9" stroke="#000" stroke-width="1.35" />
<line x1="951.2" y1="225.4" x2="955.2" y2="225.4" stroke="#000" stroke-width="1.35" />
<line x1="948.2" y1="197.9" x2="955.2" y2="197.9" stroke="#000" stroke-width="1.35" />
<line x1="951.2" y1="170.4" x2="955.2" y2="170.4" stroke="#000" stroke-width="1.35" />
<line x1="948.2" y1="142.9" x2="955.2" y2="142.9" stroke="#000" stroke-width="1.35" />
<line x1="951.2" y1="115.4" x2="955.2" y2="115.4" stroke="#000" stroke-width="1.35" />
<line x1="948.2" y1="88.0" x2="955.2" y2="88.0" stroke="#000" stroke-width="1.35" />
<line x1="951.2" y1="60.5" x2="955.2" y2="60.5" stroke="#000" stroke-width="1.35" />
<line x1="948.2" y1="33.0" x2="955.2" y2="33.0" stroke="#000" stroke-width="1.35" />
<text transform="translate(942.8,368.60) scale(0.9,1)" font-size="19.4" text-anchor="end">0.00</text>
<text transform="translate(937.90,315.43) scale(0.9,1)" font-size="19.4" text-anchor="end">2.50x10</text>
<text x="938.70" y="305.43" font-size="10.6">3</text>
<text transform="translate(937.90,260.47) scale(0.9,1)" font-size="19.4" text-anchor="end">5.00x10</text>
<text x="938.70" y="250.47" font-size="10.6">3</text>
<text transform="translate(937.90,205.50) scale(0.9,1)" font-size="19.4" text-anchor="end">7.50x10</text>
<text x="938.70" y="195.50" font-size="10.6">3</text>
<text transform="translate(937.90,150.53) scale(0.9,1)" font-size="19.4" text-anchor="end">1.00x10</text>
<text x="938.70" y="140.53" font-size="10.6">4</text>
<text transform="translate(937.90,95.57) scale(0.9,1)" font-size="19.4" text-anchor="end">1.25x10</text>
<text x="938.70" y="85.57" font-size="10.6">4</text>
<text transform="translate(937.90,40.60) scale(0.9,1)" font-size="19.4" text-anchor="end">1.50x10</text>
<text x="938.70" y="30.60" font-size="10.6">4</text>
<path d="M955.2,330.8 L955.7,329.2 L956.2,328.7 L956.8,328.8 L957.3,329.5 L957.8,330.4 L958.3,330.1 L958.9,332.1 L959.4,333.2 L959.9,333.3 L960.4,332.8 L961.0,331.4 L961.5,331.4 L962.0,331.4 L962.5,331.2 L963.0,331.3 L963.6,329.7 L964.1,330.6 L964.6,331.9 L965.1,332.1 L965.7,332.0 L966.2,330.0 L966.7,329.5 L967.2,328.4 L967.8,330.1 L968.3,332.8 L968.8,334.2 L969.3,332.8 L969.8,331.7 L970.4,331.3 L970.9,332.5 L971.4,332.2 L971.9,332.6 L972.5,332.3 L973.0,331.5 L973.5,330.8 L974.0,328.9 L974.6,328.9 L975.1,328.0 L975.6,329.1 L976.1,328.7 L976.6,329.9 L977.2,330.4 L977.7,330.1 L978.2,329.4 L978.7,328.2 L979.3,329.6 L979.8,331.1 L980.3,332.1 L980.8,331.0 L981.4,330.5 L981.9,328.5 L982.4,329.7 L982.9,328.0 L983.4,326.9 L984.0,327.5 L984.5,329.0 L985.0,330.1 L985.5,328.1 L986.1,326.7 L986.6,327.5 L987.1,326.2 L987.6,325.8 L988.2,326.0 L988.7,327.2 L989.2,328.5 L989.7,328.2 L990.3,328.7 L990.8,327.8 L991.3,327.9 L991.8,326.0 L992.3,325.8 L992.9,326.2 L993.4,326.6 L993.9,327.4 L994.4,326.8 L995.0,326.7 L995.5,326.4 L996.0,326.2 L996.5,326.4 L997.1,326.9 L997.6,327.4 L998.1,327.3 L998.6,326.6 L999.1,326.4 L999.7,326.6 L1000.2,327.4 L1000.7,328.5 L1001.2,328.9 L1001.8,328.4 L1002.3,327.2 L1002.8,326.4 L1003.3,326.0 L1003.9,325.7 L1004.4,325.9 L1004.9,326.1 L1005.4,326.8 L1005.9,326.8 L1006.5,326.9 L1007.0,326.0 L1007.5,326.9 L1008.0,327.2 L1008.6,328.5 L1009.1,328.1 L1009.6,328.6 L1010.1,327.7 L1010.7,327.6 L1011.2,328.1 L1011.7,327.7 L1012.2,327.9 L1012.7,327.5 L1013.3,328.2 L1013.8,328.0 L1014.3,327.8 L1014.8,327.3 L1015.4,327.1 L1015.9,326.2 L1016.4,326.2 L1016.9,325.7 L1017.5,326.0 L1018.0,326.4 L1018.5,326.9 L1019.0,326.3 L1019.5,327.1 L1020.1,327.4 L1020.6,328.3 L1021.1,327.3 L1021.6,326.7 L1022.2,326.6 L1022.7,327.0 L1023.2,326.3 L1023.7,326.3 L1024.3,327.4 L1024.8,327.3 L1025.3,327.5 L1025.8,326.3 L1026.3,327.1 L1026.9,327.2 L1027.4,326.5 L1027.9,326.6 L1028.4,326.7 L1029.0,327.1 L1029.5,326.8 L1030.0,326.2 L1030.5,326.1 L1031.1,327.0 L1031.6,326.5 L1032.1,327.1 L1032.6,325.8 L1033.1,326.5 L1033.7,326.1 L1034.2,325.5 L1034.7,325.2 L1035.2,324.7 L1035.8,325.7 L1036.3,326.3 L1036.8,326.3 L1037.3,326.0 L1037.9,326.0 L1038.4,326.5 L1038.9,327.6 L1039.4,327.1 L1039.9,326.7 L1040.5,325.9 L1041.0,326.3 L1041.5,327.1 L1042.0,327.2 L1042.6,326.6 L1043.1,326.1 L1043.6,325.9 L1044.1,326.7 L1044.7,326.7 L1045.2,326.4 L1045.7,325.4 L1046.2,325.7 L1046.7,326.4 L1047.3,326.6 L1047.8,325.9 L1048.3,325.6 L1048.8,324.9 L1049.4,324.6 L1049.9,324.9 L1050.4,325.4 L1050.9,326.1 L1051.5,326.3 L1052.0,326.8 L1052.5,326.6 L1053.0,327.0 L1053.5,326.9 L1054.1,326.7 L1054.6,326.1 L1055.1,325.9 L1055.6,325.7 L1056.2,325.3 L1056.7,325.0 L1057.2,324.5 L1057.7,324.3 L1058.3,324.2 L1058.8,324.8 L1059.3,324.1 L1059.8,324.0 L1060.4,324.2 L1060.9,324.9 L1061.4,324.5 L1061.9,324.7 L1062.4,324.0 L1063.0,324.4 L1063.5,324.6 L1064.0,324.8 L1064.5,324.6 L1065.1,324.4 L1065.6,324.4 L1066.1,324.4 L1066.6,324.0 L1067.2,324.5 L1067.7,323.6 L1068.2,323.0 L1068.7,322.0 L1069.2,322.4 L1069.8,322.3 L1070.3,322.3 L1070.8,322.8 L1071.3,322.7 L1071.9,323.0 L1072.4,322.9 L1072.9,322.9 L1073.4,322.8 L1074.0,323.2 L1074.5,323.6 L1075.0,323.1 L1075.5,322.2 L1076.0,321.6 L1076.6,321.9 L1077.1,322.2 L1077.6,322.1 L1078.1,321.8 L1078.7,321.8 L1079.2,321.8 L1079.7,321.8 L1080.2,320.8 L1080.8,320.5 L1081.3,320.1 L1081.8,321.4 L1082.3,321.5 L1082.8,321.4 L1083.4,320.1 L1083.9,320.1 L1084.4,320.5 L1084.9,320.7 L1085.5,321.6 L1086.0,321.3 L1086.5,321.8 L1087.0,320.9 L1087.6,321.0 L1088.1,319.7 L1088.6,319.4 L1089.1,319.0 L1089.6,319.5 L1090.2,318.5 L1090.7,318.8 L1091.2,318.7 L1091.7,319.4 L1092.3,318.8 L1092.8,318.8 L1093.3,319.1 L1093.8,318.6 L1094.4,318.2 L1094.9,318.0 L1095.4,318.6 L1095.9,318.7 L1096.4,318.3 L1097.0,317.8 L1097.5,317.8 L1098.0,318.5 L1098.5,318.3 L1099.1,318.8 L1099.6,318.6 L1100.1,318.7 L1100.6,318.3 L1101.2,317.1 L1101.7,316.4 L1102.2,315.4 L1102.7,315.7 L1103.2,316.1 L1103.8,316.3 L1104.3,316.3 L1104.8,315.4 L1105.3,315.6 L1105.9,314.7 L1106.4,315.1 L1106.9,314.5 L1107.4,314.3 L1108.0,313.7 L1108.5,313.2 L1109.0,313.4 L1109.5,313.9 L1110.0,314.3 L1110.6,313.5 L1111.1,312.6 L1111.6,311.5 L1112.1,311.8 L1112.7,310.8 L1113.2,311.3 L1113.7,310.5 L1114.2,310.6 L1114.8,309.7 L1115.3,309.8 L1115.8,309.8 L1116.3,309.5 L1116.8,308.5 L1117.4,308.3 L1117.9,307.8 L1118.4,307.0 L1118.9,306.4 L1119.5,305.2 L1120.0,304.5 L1120.5,302.8 L1121.0,301.8 L1121.6,301.3 L1122.1,300.3 L1122.6,300.0 L1123.1,299.0 L1123.7,298.9 L1124.2,297.0 L1124.7,296.1 L1125.2,295.5 L1125.7,295.5 L1126.3,294.9 L1126.8,293.0 L1127.3,293.0 L1127.8,292.1 L1128.4,292.9 L1128.9,291.3 L1129.4,291.3 L1129.9,290.3 L1130.5,290.9 L1131.0,289.6 L1131.5,288.9 L1132.0,288.9 L1132.5,288.4 L1133.1,287.7 L1133.6,286.1 L1134.1,285.4 L1134.6,285.6 L1135.2,285.9 L1135.7,285.4 L1136.2,283.5 L1136.7,282.7 L1137.3,282.9 L1137.8,283.4 L1138.3,282.9 L1138.8,281.5 L1139.3,280.5 L1139.9,278.9 L1140.4,278.1 L1140.9,278.1 L1141.4,277.9 L1142.0,279.0 L1142.5,278.2 L1143.0,277.7 L1143.5,276.6 L1144.1,277.0 L1144.6,277.0 L1145.1,275.7 L1145.6,274.7 L1146.1,274.7 L1146.7,274.6 L1147.2,273.7 L1147.7,273.2 L1148.2,273.1 L1148.8,272.5 L1149.3,271.6 L1149.8,270.8 L1150.3,271.0 L1150.9,270.9 L1151.4,271.3 L1151.9,271.2 L1152.4,270.1 L1152.9,269.4 L1153.5,269.1 L1154.0,269.7 L1154.5,269.6 L1155.0,268.7 L1155.6,267.8 L1156.1,267.4 L1156.6,266.9 L1157.1,266.1 L1157.7,265.9 L1158.2,265.8 L1158.7,266.4 L1159.2,265.1 L1159.7,264.7 L1160.3,264.1 L1160.8,264.4 L1161.3,265.0 L1161.8,264.4 L1162.4,264.7 L1162.9,263.9 L1163.4,264.3 L1163.9,264.2 L1164.5,264.6 L1165.0,264.2 L1165.5,264.6 L1166.0,264.2 L1166.5,264.8 L1167.1,263.9 L1167.6,264.7 L1168.1,264.2 L1168.6,264.4 L1169.2,263.2 L1169.7,263.7 L1170.2,262.6 L1170.7,262.5 L1171.3,262.5 L1171.8,262.6 L1172.3,262.5 L1172.8,262.2 L1173.3,261.8 L1173.9,261.0 L1174.4,259.9 L1174.9,258.7 L1175.4,259.1 L1176.0,258.8 L1176.5,258.5 L1177.0,257.2 L1177.5,256.2 L1178.1,255.9 L1178.6,255.2 L1179.1,254.8 L1179.6,253.3 L1180.1,253.0 L1180.7,252.0 L1181.2,252.2 L1181.7,251.9 L1182.2,251.0 L1182.8,250.8 L1183.3,250.0 L1183.8,249.7 L1184.3,248.3 L1184.9,247.3 L1185.4,247.2 L1185.9,246.9 L1186.4,246.9 L1186.9,246.8 L1187.5,247.2 L1188.0,247.4 L1188.5,246.4 L1189.0,245.1 L1189.6,244.5 L1190.1,244.4 L1190.6,245.1 L1191.1,244.3 L1191.7,244.4 L1192.2,244.1 L1192.7,244.2 L1193.2,243.7 L1193.8,243.4 L1194.3,243.1 L1194.8,242.9 L1195.3,243.1 L1195.8,242.7 L1196.4,243.4 L1196.9,243.0 L1197.4,243.7 L1197.9,243.1 L1198.5,243.2 L1199.0,243.8 L1199.5,243.9 L1200.0,243.8 L1200.6,242.9 L1201.1,243.2 L1201.6,245.0 L1202.1,245.8 L1202.6,246.8 L1203.2,245.9 L1203.7,246.4 L1204.2,246.8 L1204.7,248.6 L1205.3,248.7 L1205.8,249.3 L1206.3,249.2 L1206.8,249.8 L1207.4,250.2 L1207.9,250.6 L1208.4,250.8 L1208.9,251.8 L1209.4,252.9 L1210.0,254.5 L1210.5,254.5 L1211.0,255.7 L1211.5,256.8 L1212.1,258.7 L1212.6,259.5 L1213.1,260.1 L1213.6,260.8 L1214.2,261.0 L1214.7,262.1 L1215.2,262.6 L1215.7,263.6 L1216.2,265.1 L1216.8,266.1 L1217.3,266.9 L1217.8,267.2 L1218.3,268.2 L1218.9,268.8 L1219.4,269.6 L1219.9,270.4 L1220.4,271.4 L1221.0,272.4 L1221.5,273.1 L1222.0,275.0 L1222.5,276.5 L1223.0,277.8 L1223.6,277.8 L1224.1,278.9 L1224.6,279.7 L1225.1,280.4 L1225.7,280.4 L1226.2,281.1 L1226.7,282.4 L1227.2,283.0 L1227.8,284.4 L1228.3,284.0 L1228.8,284.9 L1229.3,284.2 L1229.8,285.9 L1230.4,285.9 L1230.9,286.8 L1231.4,286.8 L1231.9,287.9 L1232.5,287.8 L1233.0,287.6 L1233.5,286.8 L1234.0,287.6 L1234.6,288.0 L1235.1,288.6 L1235.6,288.5 L1236.1,288.6 L1236.6,288.6 L1237.2,289.3 L1237.7,290.3 L1238.2,289.9 L1238.7,289.8 L1239.3,289.1 L1239.8,290.3 L1240.3,290.0 L1240.8,290.3 L1241.4,289.8 L1241.9,290.6 L1242.4,290.9 L1242.9,291.4 L1243.4,291.4 L1244.0,291.3 L1244.5,290.8 L1245.0,291.0 L1245.5,291.2 L1246.1,291.8 L1246.6,292.0 L1247.1,292.3 L1247.6,291.9 L1248.2,291.0 L1248.7,290.9 L1249.2,291.8 L1249.7,291.6 L1250.2,290.2 L1250.8,289.0 L1251.3,288.7 L1251.8,288.1 L1252.3,288.0 L1252.9,287.2 L1253.4,286.9 L1253.9,286.7 L1254.4,286.5 L1255.0,286.4 L1255.5,285.6 L1256.0,285.7 L1256.5,284.9 L1257.0,284.0 L1257.6,282.6 L1258.1,282.8 L1258.6,282.3 L1259.1,281.5 L1259.7,280.0 L1260.2,279.2 L1260.7,279.1 L1261.2,279.2 L1261.8,278.7 L1262.3,277.4 L1262.8,275.8 L1263.3,273.9 L1263.9,273.4 L1264.4,272.7 L1264.9,273.6 L1265.4,272.7 L1265.9,271.0 L1266.5,268.7 L1267.0,267.9 L1267.5,267.4 L1268.0,266.5 L1268.6,265.5 L1269.1,265.3 L1269.6,264.8 L1270.1,263.7 L1270.7,263.1 L1271.2,262.1 L1271.7,261.4 L1272.2,259.5 L1272.7,258.5 L1273.3,258.1 L1273.8,257.1 L1274.3,256.5 L1274.8,255.5 L1275.4,255.1 L1275.9,254.2 L1276.4,252.4 L1276.9,252.1 L1277.5,251.4 L1278.0,250.8 L1278.5,248.3 L1279.0,246.2 L1279.5,245.3 L1280.1,245.5 L1280.6,244.7 L1281.1,243.4 L1281.6,241.0 L1282.2,239.3 L1282.7,237.2 L1283.2,236.1 L1283.7,233.9 L1284.3,232.6 L1284.8,231.4 L1285.3,229.9 L1285.8,227.2 L1286.3,225.1 L1286.9,223.6 L1287.4,221.5 L1287.9,220.1 L1288.4,218.8 L1289.0,218.0 L1289.5,217.0 L1290.0,215.4 L1290.5,213.8 L1291.1,211.3 L1291.6,209.3 L1292.1,207.7 L1292.6,206.2 L1293.1,204.8 L1293.7,203.3 L1294.2,202.2 L1294.7,201.1 L1295.2,199.9 L1295.8,197.6 L1296.3,195.6 L1296.8,194.1 L1297.3,191.9 L1297.9,190.6 L1298.4,187.6 L1298.9,185.5 L1299.4,182.0 L1299.9,180.3 L1300.5,178.5 L1301.0,177.6 L1301.5,175.4 L1302.0,173.1 L1302.6,170.3 L1303.1,168.2 L1303.6,165.7 L1304.1,163.9 L1304.7,161.6 L1305.2,160.3 L1305.7,158.5 L1306.2,157.3 L1306.7,155.2 L1307.3,153.0 L1307.8,152.6 L1308.3,151.0 L1308.8,150.8 L1309.4,148.8 L1309.9,147.9 L1310.4,145.3 L1310.9,144.2 L1311.5,143.7 L1312.0,142.5 L1312.5,140.6 L1313.0,139.0 L1313.5,138.2 L1314.1,137.8 L1314.6,135.7 L1315.1,134.3 L1315.6,131.4 L1316.2,131.1 L1316.7,129.0 L1317.2,127.1 L1317.7,124.9 L1318.3,124.1 L1318.8,125.0 L1319.3,124.4 L1319.8,124.2 L1320.3,123.7 L1320.9,125.0 L1321.4,125.6 L1321.9,126.7 L1322.4,127.3 L1323.0,128.4 L1323.5,129.2 L1324.0,130.2 L1324.5,131.2 L1325.1,133.0 L1325.6,133.6 L1326.1,135.7 L1326.6,136.8 L1327.2,138.6 L1327.7,138.9 L1328.2,139.6 L1328.7,141.2 L1329.2,143.1 L1329.8,144.7 L1330.3,146.4 L1330.8,147.4 L1331.3,149.0 L1331.9,149.6 L1332.4,152.0 L1332.9,153.9 L1333.4,156.4 L1334.0,158.6 L1334.5,160.8 L1335.0,161.7 L1335.5,163.0 L1336.0,163.7 L1336.6,166.6 L1337.1,168.6 L1337.6,169.6 L1338.1,169.3 L1338.7,167.8 L1339.2,167.5 L1339.7,166.7 L1340.2,165.9 L1340.8,163.7 L1341.3,162.2 L1341.8,159.2 L1342.3,157.6 L1342.8,155.3 L1343.4,153.8 L1343.9,151.2 L1344.4,148.2 L1344.9,145.7 L1345.5,144.0 L1346.0,142.8 L1346.5,140.4 L1347.0,138.6 L1347.6,136.4 L1348.1,135.1 L1348.6,133.0 L1349.1,131.2 L1349.6,128.9 L1350.2,126.8 L1350.7,124.1 L1351.2,122.3 L1351.7,118.7 L1352.3,116.6 L1352.8,113.2 L1353.3,111.5 L1353.8,108.0 L1354.4,104.8 L1354.9,102.3 L1355.4,100.0 L1355.9,98.7 L1356.4,95.8 L1357.0,94.5 L1357.5,92.2 L1358.0,90.6 L1358.5,87.6 L1359.1,85.3 L1359.6,83.1 L1360.1,81.5 L1360.6,80.3 L1361.2,79.4 L1361.7,77.8 L1362.2,76.6 L1362.7,75.5 L1363.2,75.5 L1363.8,75.9 L1364.3,76.3 L1364.8,76.0 L1365.3,74.6 L1365.9,74.1 L1366.4,74.2 L1366.9,76.3 L1367.4,78.0 L1368.0,80.5 L1368.5,82.0 L1369.0,84.8 L1369.5,88.1 L1370.0,91.1 L1370.6,94.3 L1371.1,96.9 L1371.6,101.4 L1372.1,105.2 L1372.7,109.4 L1373.2,113.0 L1373.7,117.5 L1374.2,123.1 L1374.8,129.9 L1375.3,135.3 L1375.8,140.8 L1376.3,145.2 L1376.8,150.6 L1377.4,155.7 L1377.9,161.1 L1378.4,166.9 L1378.9,173.5 L1379.5,178.5 L1380.0,184.6 L1380.5,189.6 L1381.0,195.8 L1381.6,201.2 L1382.1,207.0 L1382.6,212.7 L1383.1,218.2 L1383.6,223.4 L1384.2,227.6 L1384.7,233.1 L1385.2,238.8 L1385.7,244.9 L1386.3,249.4 L1386.8,252.4 L1387.3,256.4 L1387.8,259.9 L1388.4,264.4 L1388.9,268.9 L1389.4,272.8 L1389.9,276.7 L1390.4,279.1 L1391.0,282.8 L1391.5,286.2 L1392.0,289.9 L1392.5,292.7 L1393.1,296.3 L1393.6,298.8 L1394.1,301.3 L1394.6,302.6 L1395.2,306.0 L1395.7,309.6 L1396.2,312.2 L1396.7,313.3 L1397.3,314.1 L1397.8,316.2 L1398.3,317.7 L1398.8,320.0 L1399.3,321.6 L1399.9,323.3 L1400.4,324.2 L1400.9,325.0 L1401.4,326.6 L1402.0,326.8 L1402.5,327.8 L1403.0,327.7 L1403.5,328.5 L1404.1,328.6 L1404.6,329.2 L1405.1,329.5 L1405.6,329.2 L1406.1,329.2 L1406.7,330.5 L1407.2,332.3 L1407.7,333.2 L1408.2,333.3 L1408.8,332.3 L1409.3,332.2 L1409.8,331.9 L1410.3,331.8 L1410.9,331.6 L1411.4,331.6 L1411.9,332.1 L1412.4,332.2 L1412.9,332.5 L1413.5,332.7 L1414.0,333.8 L1414.5,333.8 L1415.0,333.9 L1415.6,333.7 L1416.1,333.7 L1416.6,333.7 L1417.1,333.5 L1417.7,334.0 L1418.2,334.6 L1418.7,335.4 L1419.2,334.3 L1419.7,333.8 L1420.3,333.0 L1420.8,333.8 L1421.3,333.7 L1421.8,333.6 L1422.4,333.9 L1422.9,334.1 L1423.4,333.9 L1423.9,334.1 L1424.5,334.6 L1425.0,335.0 L1425.5,334.5" fill="none" stroke="#000" stroke-width="2.4" stroke-linejoin="round" stroke-linecap="round" />
<path d="M955.2,329.4 L955.7,329.4 L956.2,329.4 L956.8,329.4 L957.3,329.4 L957.8,329.4 L958.3,329.4 L958.9,329.4 L959.4,329.4 L959.9,329.4 L960.4,329.4 L961.0,329.4 L961.5,329.4 L962.0,329.4 L962.5,329.4 L963.0,329.4 L963.6,329.4 L964.1,329.4 L964.6,329.4 L965.1,329.4 L965.7,329.4 L966.2,329.4 L966.7,329.4 L967.2,329.4 L967.8,329.4 L968.3,329.4 L968.8,329.4 L969.3,329.4 L969.8,329.4 L970.4,329.4 L970.9,329.4 L971.4,329.4 L971.9,329.4 L972.5,329.4 L973.0,329.4 L973.5,329.4 L974.0,329.4 L974.6,329.4 L975.1,329.4 L975.6,329.4 L976.1,329.4 L976.6,329.4 L977.2,329.4 L977.7,329.4 L978.2,329.4 L978.7,329.4 L979.3,329.4 L979.8,329.4 L980.3,329.4 L980.8,329.4 L981.4,329.4 L981.9,329.4 L982.4,329.4 L982.9,329.4 L983.4,329.4 L984.0,329.4 L984.5,329.5 L985.0,329.5 L985.5,329.5 L986.1,329.5 L986.6,329.5 L987.1,329.5 L987.6,329.5 L988.2,329.5 L988.7,329.5 L989.2,329.5 L989.7,329.5 L990.3,329.5 L990.8,329.5 L991.3,329.5 L991.8,329.5 L992.3,329.5 L992.9,329.5 L993.4,329.5 L993.9,329.5 L994.4,329.5 L995.0,329.5 L995.5,329.5 L996.0,329.5 L996.5,329.5 L997.1,329.5 L997.6,329.5 L998.1,329.5 L998.6,329.5 L999.1,329.5 L999.7,329.5 L1000.2,329.5 L1000.7,329.5 L1001.2,329.5 L1001.8,329.5 L1002.3,329.5 L1002.8,329.5 L1003.3,329.5 L1003.9,329.5 L1004.4,329.5 L1004.9,329.5 L1005.4,329.5 L1005.9,329.5 L1006.5,329.5 L1007.0,329.5 L1007.5,329.5 L1008.0,329.5 L1008.6,329.5 L1009.1,329.5 L1009.6,329.5 L1010.1,329.5 L1010.7,329.5 L1011.2,329.5 L1011.7,329.5 L1012.2,329.5 L1012.7,329.5 L1013.3,329.5 L1013.8,329.5 L1014.3,329.5 L1014.8,329.5 L1015.4,329.5 L1015.9,329.5 L1016.4,329.5 L1016.9,329.5 L1017.5,329.5 L1018.0,329.5 L1018.5,329.5 L1019.0,329.5 L1019.5,329.5 L1020.1,329.5 L1020.6,329.5 L1021.1,329.5 L1021.6,329.5 L1022.2,329.5 L1022.7,329.5 L1023.2,329.5 L1023.7,329.5 L1024.3,329.5 L1024.8,329.5 L1025.3,329.5 L1025.8,329.5 L1026.3,329.5 L1026.9,329.5 L1027.4,329.5 L1027.9,329.5 L1028.4,329.5 L1029.0,329.5 L1029.5,329.5 L1030.0,329.5 L1030.5,329.5 L1031.1,329.5 L1031.6,329.5 L1032.1,329.5 L1032.6,329.5 L1033.1,329.5 L1033.7,329.5 L1034.2,329.5 L1034.7,329.5 L1035.2,329.5 L1035.8,329.5 L1036.3,329.5 L1036.8,329.5 L1037.3,329.5 L1037.9,329.5 L1038.4,329.5 L1038.9,329.5 L1039.4,329.5 L1039.9,329.5 L1040.5,329.5 L1041.0,329.5 L1041.5,329.5 L1042.0,329.5 L1042.6,329.5 L1043.1,329.5 L1043.6,329.5 L1044.1,329.5 L1044.7,329.5 L1045.2,329.5 L1045.7,329.5 L1046.2,329.5 L1046.7,329.5 L1047.3,329.5 L1047.8,329.5 L1048.3,329.5 L1048.8,329.5 L1049.4,329.5 L1049.9,329.5 L1050.4,329.5 L1050.9,329.6 L1051.5,329.6 L1052.0,329.6 L1052.5,329.6 L1053.0,329.6 L1053.5,329.6 L1054.1,329.6 L1054.6,329.6 L1055.1,329.6 L1055.6,329.6 L1056.2,329.6 L1056.7,329.6 L1057.2,329.6 L1057.7,329.6 L1058.3,329.6 L1058.8,329.6 L1059.3,329.6 L1059.8,329.6 L1060.4,329.6 L1060.9,329.6 L1061.4,329.6 L1061.9,329.6 L1062.4,329.6 L1063.0,329.6 L1063.5,329.6 L1064.0,329.6 L1064.5,329.6 L1065.1,329.6 L1065.6,329.6 L1066.1,329.6 L1066.6,329.6 L1067.2,329.6 L1067.7,329.6 L1068.2,329.6 L1068.7,329.6 L1069.2,329.6 L1069.8,329.6 L1070.3,329.6 L1070.8,329.6 L1071.3,329.6 L1071.9,329.5 L1072.4,329.5 L1072.9,329.5 L1073.4,329.5 L1074.0,329.5 L1074.5,329.5 L1075.0,329.5 L1075.5,329.5 L1076.0,329.5 L1076.6,329.5 L1077.1,329.5 L1077.6,329.5 L1078.1,329.5 L1078.7,329.5 L1079.2,329.5 L1079.7,329.4 L1080.2,329.4 L1080.8,329.4 L1081.3,329.4 L1081.8,329.4 L1082.3,329.4 L1082.8,329.3 L1083.4,329.3 L1083.9,329.3 L1084.4,329.3 L1084.9,329.2 L1085.5,329.2 L1086.0,329.2 L1086.5,329.1 L1087.0,329.1 L1087.6,329.0 L1088.1,329.0 L1088.6,328.9 L1089.1,328.9 L1089.6,328.8 L1090.2,328.8 L1090.7,328.7 L1091.2,328.7 L1091.7,328.6 L1092.3,328.5 L1092.8,328.4 L1093.3,328.3 L1093.8,328.2 L1094.4,328.1 L1094.9,328.0 L1095.4,327.9 L1095.9,327.8 L1096.4,327.7 L1097.0,327.6 L1097.5,327.4 L1098.0,327.3 L1098.5,327.1 L1099.1,327.0 L1099.6,326.8 L1100.1,326.6 L1100.6,326.5 L1101.2,326.3 L1101.7,326.1 L1102.2,325.8 L1102.7,325.6 L1103.2,325.4 L1103.8,325.2 L1104.3,324.9 L1104.8,324.6 L1105.3,324.4 L1105.9,324.1 L1106.4,323.8 L1106.9,323.5 L1107.4,323.1 L1108.0,322.8 L1108.5,322.5 L1109.0,322.1 L1109.5,321.7 L1110.0,321.3 L1110.6,321.0 L1111.1,320.5 L1111.6,320.1 L1112.1,319.7 L1112.7,319.2 L1113.2,318.8 L1113.7,318.3 L1114.2,317.8 L1114.8,317.3 L1115.3,316.8 L1115.8,316.3 L1116.3,315.8 L1116.8,315.2 L1117.4,314.7 L1117.9,314.1 L1118.4,313.5 L1118.9,312.9 L1119.5,312.4 L1120.0,311.7 L1120.5,311.1 L1121.0,310.5 L1121.6,309.9 L1122.1,309.3 L1122.6,308.6 L1123.1,308.0 L1123.7,307.3 L1124.2,306.7 L1124.7,306.0 L1125.2,305.4 L1125.7,304.7 L1126.3,304.1 L1126.8,303.4 L1127.3,302.7 L1127.8,302.1 L1128.4,301.5 L1128.9,300.8 L1129.4,300.2 L1129.9,299.5 L1130.5,298.9 L1131.0,298.3 L1131.5,297.7 L1132.0,297.1 L1132.5,296.5 L1133.1,296.0 L1133.6,295.4 L1134.1,294.9 L1134.6,294.3 L1135.2,293.8 L1135.7,293.3 L1136.2,292.9 L1136.7,292.4 L1137.3,292.0 L1137.8,291.6 L1138.3,291.2 L1138.8,290.8 L1139.3,290.5 L1139.9,290.2 L1140.4,289.9 L1140.9,289.6 L1141.4,289.4 L1142.0,289.2 L1142.5,289.0 L1143.0,288.9 L1143.5,288.7 L1144.1,288.6 L1144.6,288.6 L1145.1,288.5 L1145.6,288.5 L1146.1,288.5 L1146.7,288.6 L1147.2,288.6 L1147.7,288.7 L1148.2,288.9 L1148.8,289.0 L1149.3,289.2 L1149.8,289.4 L1150.3,289.7 L1150.9,289.9 L1151.4,290.2 L1151.9,290.5 L1152.4,290.9 L1152.9,291.2 L1153.5,291.6 L1154.0,292.1 L1154.5,292.5 L1155.0,293.0 L1155.6,293.4 L1156.1,293.9 L1156.6,294.4 L1157.1,295.0 L1157.7,295.5 L1158.2,296.1 L1158.7,296.7 L1159.2,297.3 L1159.7,297.9 L1160.3,298.5 L1160.8,299.1 L1161.3,299.8 L1161.8,300.4 L1162.4,301.1 L1162.9,301.8 L1163.4,302.4 L1163.9,303.1 L1164.5,303.8 L1165.0,304.5 L1165.5,305.1 L1166.0,305.8 L1166.5,306.5 L1167.1,307.2 L1167.6,307.9 L1168.1,308.5 L1168.6,309.2 L1169.2,309.9 L1169.7,310.6 L1170.2,311.2 L1170.7,311.9 L1171.3,312.5 L1171.8,313.1 L1172.3,313.8 L1172.8,314.4 L1173.3,315.0 L1173.9,315.6 L1174.4,316.2 L1174.9,316.8 L1175.4,317.3 L1176.0,317.9 L1176.5,318.4 L1177.0,319.0 L1177.5,319.5 L1178.1,320.0 L1178.6,320.5 L1179.1,321.0 L1179.6,321.5 L1180.1,321.9 L1180.7,322.4 L1181.2,322.8 L1181.7,323.2 L1182.2,323.6 L1182.8,324.0 L1183.3,324.4 L1183.8,324.8 L1184.3,325.2 L1184.9,325.5 L1185.4,325.8 L1185.9,326.2 L1186.4,326.5 L1186.9,326.8 L1187.5,327.1 L1188.0,327.3 L1188.5,327.6 L1189.0,327.9 L1189.6,328.1 L1190.1,328.4 L1190.6,328.6 L1191.1,328.8 L1191.7,329.0 L1192.2,329.2 L1192.7,329.4 L1193.2,329.6 L1193.8,329.8 L1194.3,330.0 L1194.8,330.1 L1195.3,330.3 L1195.8,330.4 L1196.4,330.6 L1196.9,330.7 L1197.4,330.8 L1197.9,331.0 L1198.5,331.1 L1199.0,331.2 L1199.5,331.3 L1200.0,331.4 L1200.6,331.5 L1201.1,331.6 L1201.6,331.7 L1202.1,331.8 L1202.6,331.8 L1203.2,331.9 L1203.7,332.0 L1204.2,332.1 L1204.7,332.1 L1205.3,332.2 L1205.8,332.3 L1206.3,332.3 L1206.8,332.4 L1207.4,332.4 L1207.9,332.5 L1208.4,332.5 L1208.9,332.6 L1209.4,332.6 L1210.0,332.7 L1210.5,332.7 L1211.0,332.7 L1211.5,332.8 L1212.1,332.8 L1212.6,332.9 L1213.1,332.9 L1213.6,332.9 L1214.2,333.0 L1214.7,333.0 L1215.2,333.0 L1215.7,333.0 L1216.2,333.1 L1216.8,333.1 L1217.3,333.1 L1217.8,333.1 L1218.3,333.2 L1218.9,333.2 L1219.4,333.2 L1219.9,333.2 L1220.4,333.3 L1221.0,333.3 L1221.5,333.3 L1222.0,333.3 L1222.5,333.3 L1223.0,333.4 L1223.6,333.4 L1224.1,333.4 L1224.6,333.4 L1225.1,333.4 L1225.7,333.4 L1226.2,333.5 L1226.7,333.5 L1227.2,333.5 L1227.8,333.5 L1228.3,333.5 L1228.8,333.5 L1229.3,333.6 L1229.8,333.6 L1230.4,333.6 L1230.9,333.6 L1231.4,333.6 L1231.9,333.6 L1232.5,333.6 L1233.0,333.6 L1233.5,333.7 L1234.0,333.7 L1234.6,333.7 L1235.1,333.7 L1235.6,333.7 L1236.1,333.7 L1236.6,333.7 L1237.2,333.7 L1237.7,333.8 L1238.2,333.8 L1238.7,333.8 L1239.3,333.8 L1239.8,333.8 L1240.3,333.8 L1240.8,333.8 L1241.4,333.8 L1241.9,333.8 L1242.4,333.9 L1242.9,333.9 L1243.4,333.9 L1244.0,333.9 L1244.5,333.9 L1245.0,333.9 L1245.5,333.9 L1246.1,333.9 L1246.6,333.9 L1247.1,334.0 L1247.6,334.0 L1248.2,334.0 L1248.7,334.0 L1249.2,334.0 L1249.7,334.0 L1250.2,334.0 L1250.8,334.0 L1251.3,334.0 L1251.8,334.1 L1252.3,334.1 L1252.9,334.1 L1253.4,334.1 L1253.9,334.1 L1254.4,334.1 L1255.0,334.1 L1255.5,334.1 L1256.0,334.2 L1256.5,334.2 L1257.0,334.2 L1257.6,334.2 L1258.1,334.2 L1258.6,334.2 L1259.1,334.2 L1259.7,334.2 L1260.2,334.3 L1260.7,334.3 L1261.2,334.3 L1261.8,334.3 L1262.3,334.3 L1262.8,334.3 L1263.3,334.3 L1263.9,334.4 L1264.4,334.4 L1264.9,334.4 L1265.4,334.4 L1265.9,334.4 L1266.5,334.4 L1267.0,334.5 L1267.5,334.5 L1268.0,334.5 L1268.6,334.5 L1269.1,334.5 L1269.6,334.5 L1270.1,334.6 L1270.7,334.6 L1271.2,334.6 L1271.7,334.6 L1272.2,334.6 L1272.7,334.7 L1273.3,334.7 L1273.8,334.7 L1274.3,334.7 L1274.8,334.7 L1275.4,334.8 L1275.9,334.8 L1276.4,334.8 L1276.9,334.8 L1277.5,334.8 L1278.0,334.9 L1278.5,334.9 L1279.0,334.9 L1279.5,334.9 L1280.1,335.0 L1280.6,335.0 L1281.1,335.0 L1281.6,335.0 L1282.2,335.1 L1282.7,335.1 L1283.2,335.1 L1283.7,335.1 L1284.3,335.2 L1284.8,335.2 L1285.3,335.2 L1285.8,335.2 L1286.3,335.3 L1286.9,335.3 L1287.4,335.3 L1287.9,335.4 L1288.4,335.4 L1289.0,335.4 L1289.5,335.5 L1290.0,335.5 L1290.5,335.5 L1291.1,335.6 L1291.6,335.6 L1292.1,335.6 L1292.6,335.7 L1293.1,335.7 L1293.7,335.7 L1294.2,335.8 L1294.7,335.8 L1295.2,335.8 L1295.8,335.9 L1296.3,335.9 L1296.8,336.0 L1297.3,336.0 L1297.9,336.0 L1298.4,336.1 L1298.9,336.1 L1299.4,336.2 L1299.9,336.2 L1300.5,336.2 L1301.0,336.3 L1301.5,336.3 L1302.0,336.4 L1302.6,336.4 L1303.1,336.5 L1303.6,336.5 L1304.1,336.6 L1304.7,336.6 L1305.2,336.7 L1305.7,336.7 L1306.2,336.8 L1306.7,336.8 L1307.3,336.9 L1307.8,336.9 L1308.3,337.0 L1308.8,337.0 L1309.4,337.1 L1309.9,337.1 L1310.4,337.2 L1310.9,337.2 L1311.5,337.3 L1312.0,337.3 L1312.5,337.4 L1313.0,337.4 L1313.5,337.5 L1314.1,337.5 L1314.6,337.6 L1315.1,337.7 L1315.6,337.7 L1316.2,337.8 L1316.7,337.8 L1317.2,337.9 L1317.7,337.9 L1318.3,338.0 L1318.8,338.1 L1319.3,338.1 L1319.8,338.2 L1320.3,338.2 L1320.9,338.3 L1321.4,338.3 L1321.9,338.4 L1322.4,338.5 L1323.0,338.5 L1323.5,338.6 L1324.0,338.6 L1324.5,338.7 L1325.1,338.7 L1325.6,338.8 L1326.1,338.9 L1326.6,338.9 L1327.2,339.0 L1327.7,339.0 L1328.2,339.1 L1328.7,339.1 L1329.2,339.2 L1329.8,339.2 L1330.3,339.3 L1330.8,339.4 L1331.3,339.4 L1331.9,339.5 L1332.4,339.5 L1332.9,339.6 L1333.4,339.6 L1334.0,339.7 L1334.5,339.7 L1335.0,339.8 L1335.5,339.8 L1336.0,339.9 L1336.6,339.9 L1337.1,340.0 L1337.6,340.0 L1338.1,340.1 L1338.7,340.1 L1339.2,340.2 L1339.7,340.3 L1340.2,340.3 L1340.8,340.4 L1341.3,340.4 L1341.8,340.5 L1342.3,340.5 L1342.8,340.6 L1343.4,340.6 L1343.9,340.7 L1344.4,340.7 L1344.9,340.8 L1345.5,340.8 L1346.0,340.9 L1346.5,340.9 L1347.0,341.0 L1347.6,341.1 L1348.1,341.1 L1348.6,341.2 L1349.1,341.2 L1349.6,341.3 L1350.2,341.3 L1350.7,341.4 L1351.2,341.5 L1351.7,341.5 L1352.3,341.6 L1352.8,341.7 L1353.3,341.7 L1353.8,341.8 L1354.4,341.8 L1354.9,341.9 L1355.4,342.0 L1355.9,342.0 L1356.4,342.1 L1357.0,342.2 L1357.5,342.3 L1358.0,342.3 L1358.5,342.4 L1359.1,342.5 L1359.6,342.5 L1360.1,342.6 L1360.6,342.7 L1361.2,342.7 L1361.7,342.8 L1362.2,342.9 L1362.7,343.0 L1363.2,343.0 L1363.8,343.1 L1364.3,343.2 L1364.8,343.3 L1365.3,343.3 L1365.9,343.4 L1366.4,343.5 L1366.9,343.6 L1367.4,343.6 L1368.0,343.7 L1368.5,343.8 L1369.0,343.9 L1369.5,343.9 L1370.0,344.0 L1370.6,344.1 L1371.1,344.1 L1371.6,344.2 L1372.1,344.3 L1372.7,344.3 L1373.2,344.4 L1373.7,344.5 L1374.2,344.5 L1374.8,344.6 L1375.3,344.7 L1375.8,344.7 L1376.3,344.8 L1376.8,344.8 L1377.4,344.9 L1377.9,344.9 L1378.4,345.0 L1378.9,345.0 L1379.5,345.1 L1380.0,345.1 L1380.5,345.2 L1381.0,345.2 L1381.6,345.3 L1382.1,345.3 L1382.6,345.3 L1383.1,345.4 L1383.6,345.4 L1384.2,345.4 L1384.7,345.5 L1385.2,345.5 L1385.7,345.5 L1386.3,345.6 L1386.8,345.6 L1387.3,345.6 L1387.8,345.6 L1388.4,345.7 L1388.9,345.7 L1389.4,345.7 L1389.9,345.7 L1390.4,345.7 L1391.0,345.8 L1391.5,345.8 L1392.0,345.8 L1392.5,345.8 L1393.1,345.8 L1393.6,345.8 L1394.1,345.9 L1394.6,345.9 L1395.2,345.9 L1395.7,345.9 L1396.2,345.9 L1396.7,345.9 L1397.3,345.9 L1397.8,345.9 L1398.3,345.9 L1398.8,345.9 L1399.3,346.0 L1399.9,346.0 L1400.4,346.0 L1400.9,346.0 L1401.4,346.0 L1402.0,346.0 L1402.5,346.0 L1403.0,346.0 L1403.5,346.0 L1404.1,346.0 L1404.6,346.0 L1405.1,346.0 L1405.6,346.0 L1406.1,346.0 L1406.7,346.0 L1407.2,346.0 L1407.7,346.0 L1408.2,346.0 L1408.8,346.0 L1409.3,346.0 L1409.8,346.0 L1410.3,346.0 L1410.9,346.0 L1411.4,346.0 L1411.9,346.0 L1412.4,346.1 L1412.9,346.1 L1413.5,346.1 L1414.0,346.1 L1414.5,346.1 L1415.0,346.1 L1415.6,346.1 L1416.1,346.1 L1416.6,346.1 L1417.1,346.1 L1417.7,346.1 L1418.2,346.1 L1418.7,346.1 L1419.2,346.1 L1419.7,346.1 L1420.3,346.1 L1420.8,346.1 L1421.3,346.1 L1421.8,346.1 L1422.4,346.1 L1422.9,346.1 L1423.4,346.1 L1423.9,346.1 L1424.5,346.1 L1425.0,346.1 L1425.5,346.1" fill="none" stroke="#2a3ee0" stroke-width="2.2" stroke-linejoin="round" stroke-linecap="round" stroke-dasharray="0.1 3.6" stroke-linecap="round"/>
<path d="M955.2,329.4 L955.7,329.4 L956.2,329.4 L956.8,329.4 L957.3,329.4 L957.8,329.4 L958.3,329.4 L958.9,329.4 L959.4,329.4 L959.9,329.4 L960.4,329.4 L961.0,329.4 L961.5,329.4 L962.0,329.4 L962.5,329.4 L963.0,329.4 L963.6,329.4 L964.1,329.4 L964.6,329.4 L965.1,329.4 L965.7,329.4 L966.2,329.4 L966.7,329.4 L967.2,329.4 L967.8,329.4 L968.3,329.4 L968.8,329.4 L969.3,329.4 L969.8,329.4 L970.4,329.4 L970.9,329.4 L971.4,329.4 L971.9,329.4 L972.5,329.4 L973.0,329.4 L973.5,329.4 L974.0,329.4 L974.6,329.4 L975.1,329.4 L975.6,329.4 L976.1,329.4 L976.6,329.4 L977.2,329.4 L977.7,329.4 L978.2,329.4 L978.7,329.4 L979.3,329.4 L979.8,329.4 L980.3,329.4 L980.8,329.4 L981.4,329.4 L981.9,329.4 L982.4,329.4 L982.9,329.4 L983.4,329.4 L984.0,329.4 L984.5,329.5 L985.0,329.5 L985.5,329.5 L986.1,329.5 L986.6,329.5 L987.1,329.5 L987.6,329.5 L988.2,329.5 L988.7,329.5 L989.2,329.5 L989.7,329.5 L990.3,329.5 L990.8,329.5 L991.3,329.5 L991.8,329.5 L992.3,329.5 L992.9,329.5 L993.4,329.5 L993.9,329.5 L994.4,329.5 L995.0,329.5 L995.5,329.5 L996.0,329.5 L996.5,329.5 L997.1,329.5 L997.6,329.5 L998.1,329.5 L998.6,329.5 L999.1,329.5 L999.7,329.5 L1000.2,329.5 L1000.7,329.5 L1001.2,329.5 L1001.8,329.5 L1002.3,329.5 L1002.8,329.5 L1003.3,329.5 L1003.9,329.5 L1004.4,329.5 L1004.9,329.5 L1005.4,329.5 L1005.9,329.5 L1006.5,329.5 L1007.0,329.5 L1007.5,329.5 L1008.0,329.5 L1008.6,329.5 L1009.1,329.5 L1009.6,329.5 L1010.1,329.5 L1010.7,329.5 L1011.2,329.5 L1011.7,329.5 L1012.2,329.5 L1012.7,329.5 L1013.3,329.5 L1013.8,329.5 L1014.3,329.5 L1014.8,329.5 L1015.4,329.5 L1015.9,329.5 L1016.4,329.5 L1016.9,329.5 L1017.5,329.5 L1018.0,329.5 L1018.5,329.5 L1019.0,329.5 L1019.5,329.5 L1020.1,329.5 L1020.6,329.5 L1021.1,329.5 L1021.6,329.5 L1022.2,329.5 L1022.7,329.5 L1023.2,329.5 L1023.7,329.5 L1024.3,329.5 L1024.8,329.5 L1025.3,329.5 L1025.8,329.5 L1026.3,329.5 L1026.9,329.5 L1027.4,329.5 L1027.9,329.5 L1028.4,329.5 L1029.0,329.5 L1029.5,329.5 L1030.0,329.5 L1030.5,329.5 L1031.1,329.5 L1031.6,329.5 L1032.1,329.5 L1032.6,329.5 L1033.1,329.5 L1033.7,329.5 L1034.2,329.5 L1034.7,329.5 L1035.2,329.5 L1035.8,329.5 L1036.3,329.5 L1036.8,329.5 L1037.3,329.5 L1037.9,329.5 L1038.4,329.5 L1038.9,329.5 L1039.4,329.5 L1039.9,329.5 L1040.5,329.5 L1041.0,329.5 L1041.5,329.5 L1042.0,329.5 L1042.6,329.5 L1043.1,329.5 L1043.6,329.5 L1044.1,329.5 L1044.7,329.5 L1045.2,329.5 L1045.7,329.5 L1046.2,329.5 L1046.7,329.5 L1047.3,329.5 L1047.8,329.5 L1048.3,329.5 L1048.8,329.5 L1049.4,329.5 L1049.9,329.5 L1050.4,329.6 L1050.9,329.6 L1051.5,329.6 L1052.0,329.6 L1052.5,329.6 L1053.0,329.6 L1053.5,329.6 L1054.1,329.6 L1054.6,329.6 L1055.1,329.6 L1055.6,329.6 L1056.2,329.6 L1056.7,329.6 L1057.2,329.6 L1057.7,329.6 L1058.3,329.6 L1058.8,329.6 L1059.3,329.6 L1059.8,329.6 L1060.4,329.6 L1060.9,329.6 L1061.4,329.6 L1061.9,329.6 L1062.4,329.6 L1063.0,329.6 L1063.5,329.6 L1064.0,329.6 L1064.5,329.6 L1065.1,329.6 L1065.6,329.6 L1066.1,329.6 L1066.6,329.6 L1067.2,329.6 L1067.7,329.6 L1068.2,329.6 L1068.7,329.6 L1069.2,329.6 L1069.8,329.6 L1070.3,329.6 L1070.8,329.6 L1071.3,329.6 L1071.9,329.6 L1072.4,329.6 L1072.9,329.6 L1073.4,329.6 L1074.0,329.6 L1074.5,329.6 L1075.0,329.6 L1075.5,329.6 L1076.0,329.6 L1076.6,329.6 L1077.1,329.6 L1077.6,329.6 L1078.1,329.6 L1078.7,329.6 L1079.2,329.6 L1079.7,329.6 L1080.2,329.6 L1080.8,329.6 L1081.3,329.6 L1081.8,329.6 L1082.3,329.6 L1082.8,329.6 L1083.4,329.6 L1083.9,329.6 L1084.4,329.6 L1084.9,329.6 L1085.5,329.6 L1086.0,329.6 L1086.5,329.6 L1087.0,329.6 L1087.6,329.6 L1088.1,329.6 L1088.6,329.6 L1089.1,329.6 L1089.6,329.6 L1090.2,329.6 L1090.7,329.6 L1091.2,329.6 L1091.7,329.6 L1092.3,329.6 L1092.8,329.6 L1093.3,329.6 L1093.8,329.6 L1094.4,329.7 L1094.9,329.7 L1095.4,329.7 L1095.9,329.7 L1096.4,329.7 L1097.0,329.7 L1097.5,329.7 L1098.0,329.7 L1098.5,329.7 L1099.1,329.7 L1099.6,329.7 L1100.1,329.7 L1100.6,329.7 L1101.2,329.7 L1101.7,329.7 L1102.2,329.7 L1102.7,329.7 L1103.2,329.7 L1103.8,329.7 L1104.3,329.7 L1104.8,329.7 L1105.3,329.7 L1105.9,329.7 L1106.4,329.7 L1106.9,329.7 L1107.4,329.7 L1108.0,329.7 L1108.5,329.7 L1109.0,329.7 L1109.5,329.7 L1110.0,329.7 L1110.6,329.7 L1111.1,329.7 L1111.6,329.7 L1112.1,329.7 L1112.7,329.7 L1113.2,329.7 L1113.7,329.7 L1114.2,329.7 L1114.8,329.7 L1115.3,329.7 L1115.8,329.7 L1116.3,329.7 L1116.8,329.7 L1117.4,329.7 L1117.9,329.7 L1118.4,329.7 L1118.9,329.6 L1119.5,329.6 L1120.0,329.6 L1120.5,329.6 L1121.0,329.6 L1121.6,329.6 L1122.1,329.6 L1122.6,329.6 L1123.1,329.6 L1123.7,329.5 L1124.2,329.5 L1124.7,329.5 L1125.2,329.5 L1125.7,329.5 L1126.3,329.4 L1126.8,329.4 L1127.3,329.4 L1127.8,329.3 L1128.4,329.3 L1128.9,329.3 L1129.4,329.2 L1129.9,329.2 L1130.5,329.1 L1131.0,329.1 L1131.5,329.0 L1132.0,328.9 L1132.5,328.9 L1133.1,328.8 L1133.6,328.7 L1134.1,328.6 L1134.6,328.6 L1135.2,328.5 L1135.7,328.4 L1136.2,328.3 L1136.7,328.2 L1137.3,328.0 L1137.8,327.9 L1138.3,327.8 L1138.8,327.7 L1139.3,327.5 L1139.9,327.4 L1140.4,327.2 L1140.9,327.0 L1141.4,326.8 L1142.0,326.6 L1142.5,326.4 L1143.0,326.2 L1143.5,326.0 L1144.1,325.8 L1144.6,325.5 L1145.1,325.3 L1145.6,325.0 L1146.1,324.7 L1146.7,324.4 L1147.2,324.1 L1147.7,323.8 L1148.2,323.5 L1148.8,323.1 L1149.3,322.7 L1149.8,322.4 L1150.3,322.0 L1150.9,321.6 L1151.4,321.1 L1151.9,320.7 L1152.4,320.2 L1152.9,319.8 L1153.5,319.3 L1154.0,318.7 L1154.5,318.2 L1155.0,317.7 L1155.6,317.1 L1156.1,316.5 L1156.6,315.9 L1157.1,315.3 L1157.7,314.7 L1158.2,314.0 L1158.7,313.3 L1159.2,312.6 L1159.7,311.9 L1160.3,311.2 L1160.8,310.5 L1161.3,309.7 L1161.8,308.9 L1162.4,308.1 L1162.9,307.3 L1163.4,306.5 L1163.9,305.6 L1164.5,304.7 L1165.0,303.9 L1165.5,303.0 L1166.0,302.0 L1166.5,301.1 L1167.1,300.2 L1167.6,299.2 L1168.1,298.3 L1168.6,297.3 L1169.2,296.3 L1169.7,295.3 L1170.2,294.3 L1170.7,293.3 L1171.3,292.3 L1171.8,291.2 L1172.3,290.2 L1172.8,289.2 L1173.3,288.1 L1173.9,287.1 L1174.4,286.1 L1174.9,285.0 L1175.4,284.0 L1176.0,282.9 L1176.5,281.9 L1177.0,280.9 L1177.5,279.9 L1178.1,278.9 L1178.6,277.9 L1179.1,276.9 L1179.6,275.9 L1180.1,274.9 L1180.7,274.0 L1181.2,273.1 L1181.7,272.1 L1182.2,271.2 L1182.8,270.4 L1183.3,269.5 L1183.8,268.7 L1184.3,267.9 L1184.9,267.1 L1185.4,266.3 L1185.9,265.6 L1186.4,264.9 L1186.9,264.2 L1187.5,263.6 L1188.0,263.0 L1188.5,262.4 L1189.0,261.9 L1189.6,261.4 L1190.1,260.9 L1190.6,260.5 L1191.1,260.1 L1191.7,259.7 L1192.2,259.4 L1192.7,259.1 L1193.2,258.9 L1193.8,258.7 L1194.3,258.6 L1194.8,258.4 L1195.3,258.4 L1195.8,258.3 L1196.4,258.3 L1196.9,258.4 L1197.4,258.5 L1197.9,258.6 L1198.5,258.8 L1199.0,259.0 L1199.5,259.2 L1200.0,259.5 L1200.6,259.9 L1201.1,260.2 L1201.6,260.6 L1202.1,261.1 L1202.6,261.6 L1203.2,262.1 L1203.7,262.6 L1204.2,263.2 L1204.7,263.9 L1205.3,264.5 L1205.8,265.2 L1206.3,265.9 L1206.8,266.7 L1207.4,267.4 L1207.9,268.2 L1208.4,269.1 L1208.9,269.9 L1209.4,270.8 L1210.0,271.7 L1210.5,272.6 L1211.0,273.6 L1211.5,274.5 L1212.1,275.5 L1212.6,276.5 L1213.1,277.5 L1213.6,278.5 L1214.2,279.6 L1214.7,280.6 L1215.2,281.7 L1215.7,282.7 L1216.2,283.8 L1216.8,284.8 L1217.3,285.9 L1217.8,287.0 L1218.3,288.1 L1218.9,289.2 L1219.4,290.2 L1219.9,291.3 L1220.4,292.4 L1221.0,293.4 L1221.5,294.5 L1222.0,295.6 L1222.5,296.6 L1223.0,297.6 L1223.6,298.7 L1224.1,299.7 L1224.6,300.7 L1225.1,301.7 L1225.7,302.7 L1226.2,303.6 L1226.7,304.6 L1227.2,305.5 L1227.8,306.5 L1228.3,307.4 L1228.8,308.3 L1229.3,309.2 L1229.8,310.0 L1230.4,310.9 L1230.9,311.7 L1231.4,312.5 L1231.9,313.3 L1232.5,314.1 L1233.0,314.8 L1233.5,315.6 L1234.0,316.3 L1234.6,317.0 L1235.1,317.7 L1235.6,318.3 L1236.1,319.0 L1236.6,319.6 L1237.2,320.2 L1237.7,320.8 L1238.2,321.4 L1238.7,321.9 L1239.3,322.5 L1239.8,323.0 L1240.3,323.5 L1240.8,324.0 L1241.4,324.5 L1241.9,324.9 L1242.4,325.4 L1242.9,325.8 L1243.4,326.2 L1244.0,326.6 L1244.5,326.9 L1245.0,327.3 L1245.5,327.7 L1246.1,328.0 L1246.6,328.3 L1247.1,328.6 L1247.6,328.9 L1248.2,329.2 L1248.7,329.5 L1249.2,329.7 L1249.7,330.0 L1250.2,330.2 L1250.8,330.4 L1251.3,330.6 L1251.8,330.9 L1252.3,331.0 L1252.9,331.2 L1253.4,331.4 L1253.9,331.6 L1254.4,331.7 L1255.0,331.9 L1255.5,332.1 L1256.0,332.2 L1256.5,332.3 L1257.0,332.5 L1257.6,332.6 L1258.1,332.7 L1258.6,332.8 L1259.1,332.9 L1259.7,333.0 L1260.2,333.1 L1260.7,333.2 L1261.2,333.3 L1261.8,333.4 L1262.3,333.4 L1262.8,333.5 L1263.3,333.6 L1263.9,333.7 L1264.4,333.7 L1264.9,333.8 L1265.4,333.8 L1265.9,333.9 L1266.5,333.9 L1267.0,334.0 L1267.5,334.1 L1268.0,334.1 L1268.6,334.1 L1269.1,334.2 L1269.6,334.2 L1270.1,334.3 L1270.7,334.3 L1271.2,334.4 L1271.7,334.4 L1272.2,334.4 L1272.7,334.5 L1273.3,334.5 L1273.8,334.5 L1274.3,334.6 L1274.8,334.6 L1275.4,334.6 L1275.9,334.7 L1276.4,334.7 L1276.9,334.7 L1277.5,334.7 L1278.0,334.8 L1278.5,334.8 L1279.0,334.8 L1279.5,334.9 L1280.1,334.9 L1280.6,334.9 L1281.1,335.0 L1281.6,335.0 L1282.2,335.0 L1282.7,335.0 L1283.2,335.1 L1283.7,335.1 L1284.3,335.1 L1284.8,335.2 L1285.3,335.2 L1285.8,335.2 L1286.3,335.3 L1286.9,335.3 L1287.4,335.3 L1287.9,335.3 L1288.4,335.4 L1289.0,335.4 L1289.5,335.4 L1290.0,335.5 L1290.5,335.5 L1291.1,335.5 L1291.6,335.6 L1292.1,335.6 L1292.6,335.7 L1293.1,335.7 L1293.7,335.7 L1294.2,335.8 L1294.7,335.8 L1295.2,335.8 L1295.8,335.9 L1296.3,335.9 L1296.8,336.0 L1297.3,336.0 L1297.9,336.0 L1298.4,336.1 L1298.9,336.1 L1299.4,336.2 L1299.9,336.2 L1300.5,336.2 L1301.0,336.3 L1301.5,336.3 L1302.0,336.4 L1302.6,336.4 L1303.1,336.5 L1303.6,336.5 L1304.1,336.6 L1304.7,336.6 L1305.2,336.7 L1305.7,336.7 L1306.2,336.8 L1306.7,336.8 L1307.3,336.9 L1307.8,336.9 L1308.3,337.0 L1308.8,337.0 L1309.4,337.1 L1309.9,337.1 L1310.4,337.2 L1310.9,337.2 L1311.5,337.3 L1312.0,337.3 L1312.5,337.4 L1313.0,337.4 L1313.5,337.5 L1314.1,337.5 L1314.6,337.6 L1315.1,337.7 L1315.6,337.7 L1316.2,337.8 L1316.7,337.8 L1317.2,337.9 L1317.7,337.9 L1318.3,338.0 L1318.8,338.1 L1319.3,338.1 L1319.8,338.2 L1320.3,338.2 L1320.9,338.3 L1321.4,338.3 L1321.9,338.4 L1322.4,338.5 L1323.0,338.5 L1323.5,338.6 L1324.0,338.6 L1324.5,338.7 L1325.1,338.7 L1325.6,338.8 L1326.1,338.9 L1326.6,338.9 L1327.2,339.0 L1327.7,339.0 L1328.2,339.1 L1328.7,339.1 L1329.2,339.2 L1329.8,339.2 L1330.3,339.3 L1330.8,339.4 L1331.3,339.4 L1331.9,339.5 L1332.4,339.5 L1332.9,339.6 L1333.4,339.6 L1334.0,339.7 L1334.5,339.7 L1335.0,339.8 L1335.5,339.8 L1336.0,339.9 L1336.6,339.9 L1337.1,340.0 L1337.6,340.0 L1338.1,340.1 L1338.7,340.1 L1339.2,340.2 L1339.7,340.3 L1340.2,340.3 L1340.8,340.4 L1341.3,340.4 L1341.8,340.5 L1342.3,340.5 L1342.8,340.6 L1343.4,340.6 L1343.9,340.7 L1344.4,340.7 L1344.9,340.8 L1345.5,340.8 L1346.0,340.9 L1346.5,340.9 L1347.0,341.0 L1347.6,341.1 L1348.1,341.1 L1348.6,341.2 L1349.1,341.2 L1349.6,341.3 L1350.2,341.3 L1350.7,341.4 L1351.2,341.5 L1351.7,341.5 L1352.3,341.6 L1352.8,341.7 L1353.3,341.7 L1353.8,341.8 L1354.4,341.8 L1354.9,341.9 L1355.4,342.0 L1355.9,342.0 L1356.4,342.1 L1357.0,342.2 L1357.5,342.3 L1358.0,342.3 L1358.5,342.4 L1359.1,342.5 L1359.6,342.5 L1360.1,342.6 L1360.6,342.7 L1361.2,342.7 L1361.7,342.8 L1362.2,342.9 L1362.7,343.0 L1363.2,343.0 L1363.8,343.1 L1364.3,343.2 L1364.8,343.3 L1365.3,343.3 L1365.9,343.4 L1366.4,343.5 L1366.9,343.6 L1367.4,343.6 L1368.0,343.7 L1368.5,343.8 L1369.0,343.9 L1369.5,343.9 L1370.0,344.0 L1370.6,344.1 L1371.1,344.1 L1371.6,344.2 L1372.1,344.3 L1372.7,344.3 L1373.2,344.4 L1373.7,344.5 L1374.2,344.5 L1374.8,344.6 L1375.3,344.7 L1375.8,344.7 L1376.3,344.8 L1376.8,344.8 L1377.4,344.9 L1377.9,344.9 L1378.4,345.0 L1378.9,345.0 L1379.5,345.1 L1380.0,345.1 L1380.5,345.2 L1381.0,345.2 L1381.6,345.3 L1382.1,345.3 L1382.6,345.3 L1383.1,345.4 L1383.6,345.4 L1384.2,345.4 L1384.7,345.5 L1385.2,345.5 L1385.7,345.5 L1386.3,345.6 L1386.8,345.6 L1387.3,345.6 L1387.8,345.6 L1388.4,345.7 L1388.9,345.7 L1389.4,345.7 L1389.9,345.7 L1390.4,345.7 L1391.0,345.8 L1391.5,345.8 L1392.0,345.8 L1392.5,345.8 L1393.1,345.8 L1393.6,345.8 L1394.1,345.9 L1394.6,345.9 L1395.2,345.9 L1395.7,345.9 L1396.2,345.9 L1396.7,345.9 L1397.3,345.9 L1397.8,345.9 L1398.3,345.9 L1398.8,345.9 L1399.3,346.0 L1399.9,346.0 L1400.4,346.0 L1400.9,346.0 L1401.4,346.0 L1402.0,346.0 L1402.5,346.0 L1403.0,346.0 L1403.5,346.0 L1404.1,346.0 L1404.6,346.0 L1405.1,346.0 L1405.6,346.0 L1406.1,346.0 L1406.7,346.0 L1407.2,346.0 L1407.7,346.0 L1408.2,346.0 L1408.8,346.0 L1409.3,346.0 L1409.8,346.0 L1410.3,346.0 L1410.9,346.0 L1411.4,346.0 L1411.9,346.0 L1412.4,346.1 L1412.9,346.1 L1413.5,346.1 L1414.0,346.1 L1414.5,346.1 L1415.0,346.1 L1415.6,346.1 L1416.1,346.1 L1416.6,346.1 L1417.1,346.1 L1417.7,346.1 L1418.2,346.1 L1418.7,346.1 L1419.2,346.1 L1419.7,346.1 L1420.3,346.1 L1420.8,346.1 L1421.3,346.1 L1421.8,346.1 L1422.4,346.1 L1422.9,346.1 L1423.4,346.1 L1423.9,346.1 L1424.5,346.1 L1425.0,346.1 L1425.5,346.1" fill="none" stroke="#ff2eff" stroke-width="2.4" stroke-linejoin="round" stroke-linecap="round" stroke-dasharray="12 4 2 4" stroke-linecap="butt"/>
<path d="M955.2,328.4 L955.7,328.4 L956.2,328.4 L956.8,328.4 L957.3,328.4 L957.8,328.4 L958.3,328.4 L958.9,328.4 L959.4,328.4 L959.9,328.4 L960.4,328.4 L961.0,328.4 L961.5,328.4 L962.0,328.4 L962.5,328.4 L963.0,328.4 L963.6,328.4 L964.1,328.4 L964.6,328.4 L965.1,328.4 L965.7,328.4 L966.2,328.4 L966.7,328.4 L967.2,328.4 L967.8,328.4 L968.3,328.4 L968.8,328.4 L969.3,328.4 L969.8,328.4 L970.4,328.4 L970.9,328.4 L971.4,328.4 L971.9,328.4 L972.5,328.3 L973.0,328.3 L973.5,328.3 L974.0,328.3 L974.6,328.3 L975.1,328.3 L975.6,328.3 L976.1,328.3 L976.6,328.3 L977.2,328.3 L977.7,328.3 L978.2,328.3 L978.7,328.3 L979.3,328.3 L979.8,328.3 L980.3,328.3 L980.8,328.3 L981.4,328.3 L981.9,328.3 L982.4,328.3 L982.9,328.3 L983.4,328.3 L984.0,328.3 L984.5,328.3 L985.0,328.3 L985.5,328.3 L986.1,328.3 L986.6,328.3 L987.1,328.3 L987.6,328.3 L988.2,328.3 L988.7,328.3 L989.2,328.3 L989.7,328.3 L990.3,328.2 L990.8,328.2 L991.3,328.2 L991.8,328.2 L992.3,328.2 L992.9,328.2 L993.4,328.2 L993.9,328.2 L994.4,328.2 L995.0,328.2 L995.5,328.2 L996.0,328.2 L996.5,328.2 L997.1,328.2 L997.6,328.2 L998.1,328.2 L998.6,328.2 L999.1,328.2 L999.7,328.2 L1000.2,328.2 L1000.7,328.2 L1001.2,328.2 L1001.8,328.2 L1002.3,328.2 L1002.8,328.2 L1003.3,328.2 L1003.9,328.2 L1004.4,328.2 L1004.9,328.2 L1005.4,328.1 L1005.9,328.1 L1006.5,328.1 L1007.0,328.1 L1007.5,328.1 L1008.0,328.1 L1008.6,328.1 L1009.1,328.1 L1009.6,328.1 L1010.1,328.1 L1010.7,328.1 L1011.2,328.1 L1011.7,328.1 L1012.2,328.1 L1012.7,328.1 L1013.3,328.1 L1013.8,328.1 L1014.3,328.1 L1014.8,328.1 L1015.4,328.1 L1015.9,328.1 L1016.4,328.1 L1016.9,328.1 L1017.5,328.1 L1018.0,328.1 L1018.5,328.1 L1019.0,328.0 L1019.5,328.0 L1020.1,328.0 L1020.6,328.0 L1021.1,328.0 L1021.6,328.0 L1022.2,328.0 L1022.7,328.0 L1023.2,328.0 L1023.7,328.0 L1024.3,328.0 L1024.8,328.0 L1025.3,328.0 L1025.8,328.0 L1026.3,328.0 L1026.9,328.0 L1027.4,328.0 L1027.9,328.0 L1028.4,328.0 L1029.0,328.0 L1029.5,328.0 L1030.0,328.0 L1030.5,327.9 L1031.1,327.9 L1031.6,327.9 L1032.1,327.9 L1032.6,327.9 L1033.1,327.9 L1033.7,327.9 L1034.2,327.9 L1034.7,327.9 L1035.2,327.9 L1035.8,327.9 L1036.3,327.9 L1036.8,327.9 L1037.3,327.9 L1037.9,327.9 L1038.4,327.9 L1038.9,327.9 L1039.4,327.9 L1039.9,327.9 L1040.5,327.9 L1041.0,327.8 L1041.5,327.8 L1042.0,327.8 L1042.6,327.8 L1043.1,327.8 L1043.6,327.8 L1044.1,327.8 L1044.7,327.8 L1045.2,327.8 L1045.7,327.8 L1046.2,327.8 L1046.7,327.8 L1047.3,327.8 L1047.8,327.8 L1048.3,327.8 L1048.8,327.8 L1049.4,327.8 L1049.9,327.7 L1050.4,327.7 L1050.9,327.7 L1051.5,327.7 L1052.0,327.7 L1052.5,327.7 L1053.0,327.7 L1053.5,327.7 L1054.1,327.7 L1054.6,327.7 L1055.1,327.7 L1055.6,327.7 L1056.2,327.7 L1056.7,327.7 L1057.2,327.7 L1057.7,327.7 L1058.3,327.6 L1058.8,327.6 L1059.3,327.6 L1059.8,327.6 L1060.4,327.6 L1060.9,327.6 L1061.4,327.6 L1061.9,327.6 L1062.4,327.6 L1063.0,327.6 L1063.5,327.6 L1064.0,327.6 L1064.5,327.6 L1065.1,327.6 L1065.6,327.6 L1066.1,327.5 L1066.6,327.5 L1067.2,327.5 L1067.7,327.5 L1068.2,327.5 L1068.7,327.5 L1069.2,327.5 L1069.8,327.5 L1070.3,327.5 L1070.8,327.5 L1071.3,327.5 L1071.9,327.5 L1072.4,327.5 L1072.9,327.4 L1073.4,327.4 L1074.0,327.4 L1074.5,327.4 L1075.0,327.4 L1075.5,327.4 L1076.0,327.4 L1076.6,327.4 L1077.1,327.4 L1077.6,327.4 L1078.1,327.4 L1078.7,327.4 L1079.2,327.3 L1079.7,327.3 L1080.2,327.3 L1080.8,327.3 L1081.3,327.3 L1081.8,327.3 L1082.3,327.3 L1082.8,327.3 L1083.4,327.3 L1083.9,327.3 L1084.4,327.3 L1084.9,327.3 L1085.5,327.2 L1086.0,327.2 L1086.5,327.2 L1087.0,327.2 L1087.6,327.2 L1088.1,327.2 L1088.6,327.2 L1089.1,327.2 L1089.6,327.2 L1090.2,327.2 L1090.7,327.1 L1091.2,327.1 L1091.7,327.1 L1092.3,327.1 L1092.8,327.1 L1093.3,327.1 L1093.8,327.1 L1094.4,327.1 L1094.9,327.1 L1095.4,327.1 L1095.9,327.0 L1096.4,327.0 L1097.0,327.0 L1097.5,327.0 L1098.0,327.0 L1098.5,327.0 L1099.1,327.0 L1099.6,327.0 L1100.1,327.0 L1100.6,327.0 L1101.2,326.9 L1101.7,326.9 L1102.2,326.9 L1102.7,326.9 L1103.2,326.9 L1103.8,326.9 L1104.3,326.9 L1104.8,326.9 L1105.3,326.9 L1105.9,326.8 L1106.4,326.8 L1106.9,326.8 L1107.4,326.8 L1108.0,326.8 L1108.5,326.8 L1109.0,326.8 L1109.5,326.8 L1110.0,326.8 L1110.6,326.7 L1111.1,326.7 L1111.6,326.7 L1112.1,326.7 L1112.7,326.7 L1113.2,326.7 L1113.7,326.7 L1114.2,326.7 L1114.8,326.7 L1115.3,326.7 L1115.8,326.6 L1116.3,326.6 L1116.8,326.6 L1117.4,326.6 L1117.9,326.6 L1118.4,326.6 L1118.9,326.6 L1119.5,326.6 L1120.0,326.6 L1120.5,326.5 L1121.0,326.5 L1121.6,326.5 L1122.1,326.5 L1122.6,326.5 L1123.1,326.5 L1123.7,326.5 L1124.2,326.5 L1124.7,326.5 L1125.2,326.5 L1125.7,326.4 L1126.3,326.4 L1126.8,326.4 L1127.3,326.4 L1127.8,326.4 L1128.4,326.4 L1128.9,326.4 L1129.4,326.4 L1129.9,326.4 L1130.5,326.4 L1131.0,326.4 L1131.5,326.3 L1132.0,326.3 L1132.5,326.3 L1133.1,326.3 L1133.6,326.3 L1134.1,326.3 L1134.6,326.3 L1135.2,326.3 L1135.7,326.3 L1136.2,326.3 L1136.7,326.3 L1137.3,326.2 L1137.8,326.2 L1138.3,326.2 L1138.8,326.2 L1139.3,326.2 L1139.9,326.2 L1140.4,326.2 L1140.9,326.2 L1141.4,326.2 L1142.0,326.2 L1142.5,326.2 L1143.0,326.1 L1143.5,326.1 L1144.1,326.1 L1144.6,326.1 L1145.1,326.1 L1145.6,326.1 L1146.1,326.1 L1146.7,326.1 L1147.2,326.1 L1147.7,326.1 L1148.2,326.0 L1148.8,326.0 L1149.3,326.0 L1149.8,326.0 L1150.3,326.0 L1150.9,326.0 L1151.4,326.0 L1151.9,326.0 L1152.4,326.0 L1152.9,325.9 L1153.5,325.9 L1154.0,325.9 L1154.5,325.9 L1155.0,325.9 L1155.6,325.9 L1156.1,325.9 L1156.6,325.9 L1157.1,325.8 L1157.7,325.8 L1158.2,325.8 L1158.7,325.8 L1159.2,325.8 L1159.7,325.8 L1160.3,325.7 L1160.8,325.7 L1161.3,325.7 L1161.8,325.7 L1162.4,325.7 L1162.9,325.7 L1163.4,325.6 L1163.9,325.6 L1164.5,325.6 L1165.0,325.6 L1165.5,325.6 L1166.0,325.6 L1166.5,325.5 L1167.1,325.5 L1167.6,325.5 L1168.1,325.5 L1168.6,325.5 L1169.2,325.4 L1169.7,325.4 L1170.2,325.4 L1170.7,325.4 L1171.3,325.4 L1171.8,325.3 L1172.3,325.3 L1172.8,325.3 L1173.3,325.3 L1173.9,325.3 L1174.4,325.2 L1174.9,325.2 L1175.4,325.2 L1176.0,325.2 L1176.5,325.1 L1177.0,325.1 L1177.5,325.1 L1178.1,325.1 L1178.6,325.0 L1179.1,325.0 L1179.6,325.0 L1180.1,325.0 L1180.7,324.9 L1181.2,324.9 L1181.7,324.9 L1182.2,324.9 L1182.8,324.8 L1183.3,324.8 L1183.8,324.8 L1184.3,324.7 L1184.9,324.7 L1185.4,324.7 L1185.9,324.6 L1186.4,324.6 L1186.9,324.6 L1187.5,324.6 L1188.0,324.5 L1188.5,324.5 L1189.0,324.5 L1189.6,324.4 L1190.1,324.4 L1190.6,324.4 L1191.1,324.3 L1191.7,324.3 L1192.2,324.2 L1192.7,324.2 L1193.2,324.2 L1193.8,324.1 L1194.3,324.1 L1194.8,324.1 L1195.3,324.0 L1195.8,324.0 L1196.4,323.9 L1196.9,323.9 L1197.4,323.8 L1197.9,323.8 L1198.5,323.8 L1199.0,323.7 L1199.5,323.7 L1200.0,323.6 L1200.6,323.6 L1201.1,323.5 L1201.6,323.5 L1202.1,323.4 L1202.6,323.4 L1203.2,323.3 L1203.7,323.2 L1204.2,323.2 L1204.7,323.1 L1205.3,323.1 L1205.8,323.0 L1206.3,322.9 L1206.8,322.9 L1207.4,322.8 L1207.9,322.7 L1208.4,322.7 L1208.9,322.6 L1209.4,322.5 L1210.0,322.5 L1210.5,322.4 L1211.0,322.3 L1211.5,322.2 L1212.1,322.2 L1212.6,322.1 L1213.1,322.0 L1213.6,321.9 L1214.2,321.8 L1214.7,321.8 L1215.2,321.7 L1215.7,321.6 L1216.2,321.5 L1216.8,321.4 L1217.3,321.3 L1217.8,321.2 L1218.3,321.1 L1218.9,321.0 L1219.4,320.9 L1219.9,320.8 L1220.4,320.7 L1221.0,320.6 L1221.5,320.4 L1222.0,320.3 L1222.5,320.2 L1223.0,320.1 L1223.6,320.0 L1224.1,319.8 L1224.6,319.7 L1225.1,319.6 L1225.7,319.4 L1226.2,319.3 L1226.7,319.2 L1227.2,319.0 L1227.8,318.9 L1228.3,318.7 L1228.8,318.6 L1229.3,318.4 L1229.8,318.3 L1230.4,318.1 L1230.9,318.0 L1231.4,317.8 L1231.9,317.6 L1232.5,317.4 L1233.0,317.3 L1233.5,317.1 L1234.0,316.9 L1234.6,316.7 L1235.1,316.5 L1235.6,316.3 L1236.1,316.1 L1236.6,315.9 L1237.2,315.7 L1237.7,315.5 L1238.2,315.3 L1238.7,315.0 L1239.3,314.8 L1239.8,314.6 L1240.3,314.3 L1240.8,314.1 L1241.4,313.8 L1241.9,313.6 L1242.4,313.3 L1242.9,313.1 L1243.4,312.8 L1244.0,312.5 L1244.5,312.2 L1245.0,311.9 L1245.5,311.6 L1246.1,311.3 L1246.6,311.0 L1247.1,310.7 L1247.6,310.4 L1248.2,310.1 L1248.7,309.7 L1249.2,309.4 L1249.7,309.0 L1250.2,308.7 L1250.8,308.3 L1251.3,307.9 L1251.8,307.5 L1252.3,307.1 L1252.9,306.7 L1253.4,306.3 L1253.9,305.9 L1254.4,305.5 L1255.0,305.0 L1255.5,304.6 L1256.0,304.1 L1256.5,303.6 L1257.0,303.2 L1257.6,302.7 L1258.1,302.2 L1258.6,301.7 L1259.1,301.1 L1259.7,300.6 L1260.2,300.1 L1260.7,299.5 L1261.2,298.9 L1261.8,298.4 L1262.3,297.8 L1262.8,297.2 L1263.3,296.5 L1263.9,295.9 L1264.4,295.3 L1264.9,294.6 L1265.4,293.9 L1265.9,293.2 L1266.5,292.5 L1267.0,291.8 L1267.5,291.1 L1268.0,290.4 L1268.6,289.6 L1269.1,288.8 L1269.6,288.0 L1270.1,287.2 L1270.7,286.4 L1271.2,285.6 L1271.7,284.7 L1272.2,283.9 L1272.7,283.0 L1273.3,282.1 L1273.8,281.2 L1274.3,280.2 L1274.8,279.3 L1275.4,278.3 L1275.9,277.3 L1276.4,276.3 L1276.9,275.3 L1277.5,274.3 L1278.0,273.2 L1278.5,272.2 L1279.0,271.1 L1279.5,270.0 L1280.1,268.9 L1280.6,267.7 L1281.1,266.6 L1281.6,265.4 L1282.2,264.2 L1282.7,263.0 L1283.2,261.8 L1283.7,260.5 L1284.3,259.3 L1284.8,258.0 L1285.3,256.7 L1285.8,255.4 L1286.3,254.1 L1286.9,252.7 L1287.4,251.4 L1287.9,250.0 L1288.4,248.6 L1289.0,247.2 L1289.5,245.8 L1290.0,244.4 L1290.5,243.0 L1291.1,241.5 L1291.6,240.1 L1292.1,238.6 L1292.6,237.1 L1293.1,235.6 L1293.7,234.1 L1294.2,232.7 L1294.7,231.2 L1295.2,229.6 L1295.8,228.1 L1296.3,226.6 L1296.8,225.1 L1297.3,223.6 L1297.9,222.1 L1298.4,220.6 L1298.9,219.1 L1299.4,217.7 L1299.9,216.2 L1300.5,214.7 L1301.0,213.3 L1301.5,211.9 L1302.0,210.5 L1302.6,209.1 L1303.1,207.7 L1303.6,206.4 L1304.1,205.1 L1304.7,203.8 L1305.2,202.5 L1305.7,201.3 L1306.2,200.2 L1306.7,199.0 L1307.3,197.9 L1307.8,196.9 L1308.3,195.9 L1308.8,194.9 L1309.4,194.0 L1309.9,193.2 L1310.4,192.4 L1310.9,191.7 L1311.5,191.0 L1312.0,190.4 L1312.5,189.8 L1313.0,189.4 L1313.5,188.9 L1314.1,188.6 L1314.6,188.3 L1315.1,188.1 L1315.6,188.0 L1316.2,187.9 L1316.7,187.9 L1317.2,188.0 L1317.7,188.3 L1318.3,188.7 L1318.8,189.3 L1319.3,190.1 L1319.8,191.0 L1320.3,192.1 L1320.9,193.3 L1321.4,194.7 L1321.9,196.3 L1322.4,197.9 L1323.0,199.7 L1323.5,201.6 L1324.0,203.6 L1324.5,205.8 L1325.1,208.0 L1325.6,210.3 L1326.1,212.7 L1326.6,215.1 L1327.2,217.7 L1327.7,220.3 L1328.2,222.9 L1328.7,225.6 L1329.2,228.3 L1329.8,231.1 L1330.3,233.9 L1330.8,236.7 L1331.3,239.5 L1331.9,242.3 L1332.4,245.1 L1332.9,247.9 L1333.4,250.7 L1334.0,253.5 L1334.5,256.2 L1335.0,259.0 L1335.5,261.7 L1336.0,264.3 L1336.6,267.0 L1337.1,269.6 L1337.6,272.1 L1338.1,274.6 L1338.7,277.1 L1339.2,279.5 L1339.7,281.9 L1340.2,284.2 L1340.8,286.5 L1341.3,288.7 L1341.8,290.8 L1342.3,292.9 L1342.8,294.9 L1343.4,296.9 L1343.9,298.8 L1344.4,300.6 L1344.9,302.4 L1345.5,304.2 L1346.0,305.8 L1346.5,307.4 L1347.0,309.0 L1347.6,310.5 L1348.1,311.9 L1348.6,313.3 L1349.1,314.7 L1349.6,315.9 L1350.2,317.2 L1350.7,318.3 L1351.2,319.4 L1351.7,320.5 L1352.3,321.6 L1352.8,322.5 L1353.3,323.5 L1353.8,324.4 L1354.4,325.2 L1354.9,326.1 L1355.4,326.8 L1355.9,327.6 L1356.4,328.3 L1357.0,329.0 L1357.5,329.6 L1358.0,330.2 L1358.5,330.8 L1359.1,331.4 L1359.6,331.9 L1360.1,332.4 L1360.6,332.9 L1361.2,333.3 L1361.7,333.8 L1362.2,334.2 L1362.7,334.6 L1363.2,335.0 L1363.8,335.3 L1364.3,335.7 L1364.8,336.0 L1365.3,336.3 L1365.9,336.6 L1366.4,336.9 L1366.9,337.2 L1367.4,337.5 L1368.0,337.7 L1368.5,338.0 L1369.0,338.2 L1369.5,338.4 L1370.0,338.6 L1370.6,338.8 L1371.1,339.0 L1371.6,339.2 L1372.1,339.4 L1372.7,339.6 L1373.2,339.8 L1373.7,339.9 L1374.2,340.1 L1374.8,340.3 L1375.3,340.4 L1375.8,340.6 L1376.3,340.7 L1376.8,340.8 L1377.4,341.0 L1377.9,341.1 L1378.4,341.2 L1378.9,341.3 L1379.5,341.4 L1380.0,341.5 L1380.5,341.6 L1381.0,341.7 L1381.6,341.8 L1382.1,341.9 L1382.6,342.0 L1383.1,342.1 L1383.6,342.2 L1384.2,342.3 L1384.7,342.4 L1385.2,342.4 L1385.7,342.5 L1386.3,342.6 L1386.8,342.7 L1387.3,342.7 L1387.8,342.8 L1388.4,342.9 L1388.9,342.9 L1389.4,343.0 L1389.9,343.0 L1390.4,343.1 L1391.0,343.1 L1391.5,343.2 L1392.0,343.2 L1392.5,343.3 L1393.1,343.3 L1393.6,343.4 L1394.1,343.4 L1394.6,343.5 L1395.2,343.5 L1395.7,343.6 L1396.2,343.6 L1396.7,343.6 L1397.3,343.7 L1397.8,343.7 L1398.3,343.7 L1398.8,343.8 L1399.3,343.8 L1399.9,343.8 L1400.4,343.9 L1400.9,343.9 L1401.4,343.9 L1402.0,344.0 L1402.5,344.0 L1403.0,344.0 L1403.5,344.1 L1404.1,344.1 L1404.6,344.1 L1405.1,344.1 L1405.6,344.2 L1406.1,344.2 L1406.7,344.2 L1407.2,344.2 L1407.7,344.2 L1408.2,344.3 L1408.8,344.3 L1409.3,344.3 L1409.8,344.3 L1410.3,344.4 L1410.9,344.4 L1411.4,344.4 L1411.9,344.4 L1412.4,344.4 L1412.9,344.5 L1413.5,344.5 L1414.0,344.5 L1414.5,344.5 L1415.0,344.5 L1415.6,344.5 L1416.1,344.6 L1416.6,344.6 L1417.1,344.6 L1417.7,344.6 L1418.2,344.6 L1418.7,344.6 L1419.2,344.7 L1419.7,344.7 L1420.3,344.7 L1420.8,344.7 L1421.3,344.7 L1421.8,344.7 L1422.4,344.7 L1422.9,344.8 L1423.4,344.8 L1423.9,344.8 L1424.5,344.8 L1425.0,344.8 L1425.5,344.8" fill="none" stroke="#8a2cf0" stroke-width="3.0" stroke-linejoin="round" stroke-linecap="round" stroke-dasharray="0.1 9" stroke-linecap="round"/>
<path d="M955.2,328.4 L955.7,328.4 L956.2,328.4 L956.8,328.4 L957.3,328.4 L957.8,328.4 L958.3,328.4 L958.9,328.4 L959.4,328.4 L959.9,328.4 L960.4,328.4 L961.0,328.4 L961.5,328.4 L962.0,328.4 L962.5,328.4 L963.0,328.4 L963.6,328.4 L964.1,328.4 L964.6,328.4 L965.1,328.4 L965.7,328.4 L966.2,328.4 L966.7,328.4 L967.2,328.4 L967.8,328.4 L968.3,328.4 L968.8,328.4 L969.3,328.4 L969.8,328.4 L970.4,328.4 L970.9,328.3 L971.4,328.3 L971.9,328.3 L972.5,328.3 L973.0,328.3 L973.5,328.3 L974.0,328.3 L974.6,328.3 L975.1,328.3 L975.6,328.3 L976.1,328.3 L976.6,328.3 L977.2,328.3 L977.7,328.3 L978.2,328.3 L978.7,328.3 L979.3,328.3 L979.8,328.3 L980.3,328.3 L980.8,328.3 L981.4,328.3 L981.9,328.3 L982.4,328.3 L982.9,328.3 L983.4,328.3 L984.0,328.3 L984.5,328.3 L985.0,328.3 L985.5,328.3 L986.1,328.3 L986.6,328.3 L987.1,328.3 L987.6,328.3 L988.2,328.3 L988.7,328.3 L989.2,328.3 L989.7,328.3 L990.3,328.3 L990.8,328.3 L991.3,328.3 L991.8,328.2 L992.3,328.2 L992.9,328.2 L993.4,328.2 L993.9,328.2 L994.4,328.2 L995.0,328.2 L995.5,328.2 L996.0,328.2 L996.5,328.2 L997.1,328.2 L997.6,328.2 L998.1,328.2 L998.6,328.2 L999.1,328.2 L999.7,328.2 L1000.2,328.2 L1000.7,328.2 L1001.2,328.2 L1001.8,328.2 L1002.3,328.2 L1002.8,328.2 L1003.3,328.2 L1003.9,328.2 L1004.4,328.2 L1004.9,328.2 L1005.4,328.2 L1005.9,328.2 L1006.5,328.2 L1007.0,328.2 L1007.5,328.2 L1008.0,328.2 L1008.6,328.2 L1009.1,328.2 L1009.6,328.2 L1010.1,328.1 L1010.7,328.1 L1011.2,328.1 L1011.7,328.1 L1012.2,328.1 L1012.7,328.1 L1013.3,328.1 L1013.8,328.1 L1014.3,328.1 L1014.8,328.1 L1015.4,328.1 L1015.9,328.1 L1016.4,328.1 L1016.9,328.1 L1017.5,328.1 L1018.0,328.1 L1018.5,328.1 L1019.0,328.1 L1019.5,328.1 L1020.1,328.1 L1020.6,328.1 L1021.1,328.1 L1021.6,328.1 L1022.2,328.1 L1022.7,328.1 L1023.2,328.1 L1023.7,328.1 L1024.3,328.1 L1024.8,328.1 L1025.3,328.0 L1025.8,328.0 L1026.3,328.0 L1026.9,328.0 L1027.4,328.0 L1027.9,328.0 L1028.4,328.0 L1029.0,328.0 L1029.5,328.0 L1030.0,328.0 L1030.5,328.0 L1031.1,328.0 L1031.6,328.0 L1032.1,328.0 L1032.6,328.0 L1033.1,328.0 L1033.7,328.0 L1034.2,328.0 L1034.7,328.0 L1035.2,328.0 L1035.8,328.0 L1036.3,328.0 L1036.8,328.0 L1037.3,328.0 L1037.9,328.0 L1038.4,328.0 L1038.9,327.9 L1039.4,327.9 L1039.9,327.9 L1040.5,327.9 L1041.0,327.9 L1041.5,327.9 L1042.0,327.9 L1042.6,327.9 L1043.1,327.9 L1043.6,327.9 L1044.1,327.9 L1044.7,327.9 L1045.2,327.9 L1045.7,327.9 L1046.2,327.9 L1046.7,327.9 L1047.3,327.9 L1047.8,327.9 L1048.3,327.9 L1048.8,327.9 L1049.4,327.9 L1049.9,327.9 L1050.4,327.9 L1050.9,327.8 L1051.5,327.8 L1052.0,327.8 L1052.5,327.8 L1053.0,327.8 L1053.5,327.8 L1054.1,327.8 L1054.6,327.8 L1055.1,327.8 L1055.6,327.8 L1056.2,327.8 L1056.7,327.8 L1057.2,327.8 L1057.7,327.8 L1058.3,327.8 L1058.8,327.8 L1059.3,327.8 L1059.8,327.8 L1060.4,327.8 L1060.9,327.8 L1061.4,327.7 L1061.9,327.7 L1062.4,327.7 L1063.0,327.7 L1063.5,327.7 L1064.0,327.7 L1064.5,327.7 L1065.1,327.7 L1065.6,327.7 L1066.1,327.7 L1066.6,327.7 L1067.2,327.7 L1067.7,327.7 L1068.2,327.7 L1068.7,327.7 L1069.2,327.7 L1069.8,327.7 L1070.3,327.7 L1070.8,327.7 L1071.3,327.6 L1071.9,327.6 L1072.4,327.6 L1072.9,327.6 L1073.4,327.6 L1074.0,327.6 L1074.5,327.6 L1075.0,327.6 L1075.5,327.6 L1076.0,327.6 L1076.6,327.6 L1077.1,327.6 L1077.6,327.6 L1078.1,327.6 L1078.7,327.6 L1079.2,327.6 L1079.7,327.5 L1080.2,327.5 L1080.8,327.5 L1081.3,327.5 L1081.8,327.5 L1082.3,327.5 L1082.8,327.5 L1083.4,327.5 L1083.9,327.5 L1084.4,327.5 L1084.9,327.5 L1085.5,327.5 L1086.0,327.5 L1086.5,327.5 L1087.0,327.5 L1087.6,327.5 L1088.1,327.4 L1088.6,327.4 L1089.1,327.4 L1089.6,327.4 L1090.2,327.4 L1090.7,327.4 L1091.2,327.4 L1091.7,327.4 L1092.3,327.4 L1092.8,327.4 L1093.3,327.4 L1093.8,327.4 L1094.4,327.4 L1094.9,327.4 L1095.4,327.3 L1095.9,327.3 L1096.4,327.3 L1097.0,327.3 L1097.5,327.3 L1098.0,327.3 L1098.5,327.3 L1099.1,327.3 L1099.6,327.3 L1100.1,327.3 L1100.6,327.3 L1101.2,327.3 L1101.7,327.3 L1102.2,327.3 L1102.7,327.3 L1103.2,327.2 L1103.8,327.2 L1104.3,327.2 L1104.8,327.2 L1105.3,327.2 L1105.9,327.2 L1106.4,327.2 L1106.9,327.2 L1107.4,327.2 L1108.0,327.2 L1108.5,327.2 L1109.0,327.2 L1109.5,327.2 L1110.0,327.2 L1110.6,327.1 L1111.1,327.1 L1111.6,327.1 L1112.1,327.1 L1112.7,327.1 L1113.2,327.1 L1113.7,327.1 L1114.2,327.1 L1114.8,327.1 L1115.3,327.1 L1115.8,327.1 L1116.3,327.1 L1116.8,327.1 L1117.4,327.1 L1117.9,327.1 L1118.4,327.1 L1118.9,327.1 L1119.5,327.0 L1120.0,327.0 L1120.5,327.0 L1121.0,327.0 L1121.6,327.0 L1122.1,327.0 L1122.6,327.0 L1123.1,327.0 L1123.7,327.0 L1124.2,327.0 L1124.7,327.0 L1125.2,327.0 L1125.7,327.0 L1126.3,327.0 L1126.8,327.0 L1127.3,327.0 L1127.8,327.0 L1128.4,327.0 L1128.9,327.0 L1129.4,327.0 L1129.9,327.0 L1130.5,327.0 L1131.0,327.0 L1131.5,327.0 L1132.0,327.0 L1132.5,327.0 L1133.1,327.0 L1133.6,326.9 L1134.1,326.9 L1134.6,326.9 L1135.2,326.9 L1135.7,326.9 L1136.2,326.9 L1136.7,326.9 L1137.3,326.9 L1137.8,326.9 L1138.3,326.9 L1138.8,326.9 L1139.3,326.9 L1139.9,326.9 L1140.4,326.9 L1140.9,326.9 L1141.4,326.9 L1142.0,326.9 L1142.5,326.9 L1143.0,326.9 L1143.5,326.9 L1144.1,326.9 L1144.6,326.9 L1145.1,326.9 L1145.6,326.9 L1146.1,326.9 L1146.7,326.9 L1147.2,326.9 L1147.7,326.9 L1148.2,326.9 L1148.8,326.9 L1149.3,326.9 L1149.8,326.9 L1150.3,326.9 L1150.9,326.9 L1151.4,326.9 L1151.9,326.9 L1152.4,326.9 L1152.9,326.9 L1153.5,326.9 L1154.0,326.9 L1154.5,326.9 L1155.0,326.9 L1155.6,326.9 L1156.1,326.9 L1156.6,326.9 L1157.1,326.9 L1157.7,326.9 L1158.2,326.9 L1158.7,326.9 L1159.2,326.9 L1159.7,326.9 L1160.3,326.9 L1160.8,326.9 L1161.3,326.9 L1161.8,326.9 L1162.4,326.9 L1162.9,326.9 L1163.4,326.8 L1163.9,326.8 L1164.5,326.8 L1165.0,326.8 L1165.5,326.8 L1166.0,326.8 L1166.5,326.8 L1167.1,326.8 L1167.6,326.8 L1168.1,326.8 L1168.6,326.8 L1169.2,326.8 L1169.7,326.8 L1170.2,326.8 L1170.7,326.8 L1171.3,326.8 L1171.8,326.8 L1172.3,326.8 L1172.8,326.8 L1173.3,326.8 L1173.9,326.8 L1174.4,326.8 L1174.9,326.8 L1175.4,326.7 L1176.0,326.7 L1176.5,326.7 L1177.0,326.7 L1177.5,326.7 L1178.1,326.7 L1178.6,326.7 L1179.1,326.7 L1179.6,326.7 L1180.1,326.7 L1180.7,326.7 L1181.2,326.7 L1181.7,326.7 L1182.2,326.7 L1182.8,326.7 L1183.3,326.7 L1183.8,326.7 L1184.3,326.7 L1184.9,326.7 L1185.4,326.6 L1185.9,326.6 L1186.4,326.6 L1186.9,326.6 L1187.5,326.6 L1188.0,326.6 L1188.5,326.6 L1189.0,326.6 L1189.6,326.6 L1190.1,326.6 L1190.6,326.6 L1191.1,326.6 L1191.7,326.6 L1192.2,326.6 L1192.7,326.5 L1193.2,326.5 L1193.8,326.5 L1194.3,326.5 L1194.8,326.5 L1195.3,326.5 L1195.8,326.5 L1196.4,326.5 L1196.9,326.5 L1197.4,326.5 L1197.9,326.5 L1198.5,326.4 L1199.0,326.4 L1199.5,326.4 L1200.0,326.4 L1200.6,326.4 L1201.1,326.4 L1201.6,326.4 L1202.1,326.4 L1202.6,326.3 L1203.2,326.3 L1203.7,326.3 L1204.2,326.3 L1204.7,326.3 L1205.3,326.3 L1205.8,326.2 L1206.3,326.2 L1206.8,326.2 L1207.4,326.2 L1207.9,326.2 L1208.4,326.1 L1208.9,326.1 L1209.4,326.1 L1210.0,326.1 L1210.5,326.1 L1211.0,326.0 L1211.5,326.0 L1212.1,326.0 L1212.6,326.0 L1213.1,325.9 L1213.6,325.9 L1214.2,325.9 L1214.7,325.8 L1215.2,325.8 L1215.7,325.8 L1216.2,325.8 L1216.8,325.7 L1217.3,325.7 L1217.8,325.7 L1218.3,325.6 L1218.9,325.6 L1219.4,325.6 L1219.9,325.5 L1220.4,325.5 L1221.0,325.4 L1221.5,325.4 L1222.0,325.4 L1222.5,325.3 L1223.0,325.3 L1223.6,325.2 L1224.1,325.2 L1224.6,325.2 L1225.1,325.1 L1225.7,325.1 L1226.2,325.0 L1226.7,325.0 L1227.2,324.9 L1227.8,324.9 L1228.3,324.8 L1228.8,324.8 L1229.3,324.7 L1229.8,324.7 L1230.4,324.6 L1230.9,324.6 L1231.4,324.5 L1231.9,324.4 L1232.5,324.4 L1233.0,324.3 L1233.5,324.3 L1234.0,324.2 L1234.6,324.2 L1235.1,324.1 L1235.6,324.0 L1236.1,324.0 L1236.6,323.9 L1237.2,323.8 L1237.7,323.8 L1238.2,323.7 L1238.7,323.6 L1239.3,323.6 L1239.8,323.5 L1240.3,323.4 L1240.8,323.3 L1241.4,323.3 L1241.9,323.2 L1242.4,323.1 L1242.9,323.0 L1243.4,323.0 L1244.0,322.9 L1244.5,322.8 L1245.0,322.7 L1245.5,322.6 L1246.1,322.6 L1246.6,322.5 L1247.1,322.4 L1247.6,322.3 L1248.2,322.2 L1248.7,322.1 L1249.2,322.0 L1249.7,321.9 L1250.2,321.8 L1250.8,321.8 L1251.3,321.7 L1251.8,321.6 L1252.3,321.5 L1252.9,321.4 L1253.4,321.3 L1253.9,321.2 L1254.4,321.1 L1255.0,320.9 L1255.5,320.8 L1256.0,320.7 L1256.5,320.6 L1257.0,320.5 L1257.6,320.4 L1258.1,320.3 L1258.6,320.2 L1259.1,320.1 L1259.7,319.9 L1260.2,319.8 L1260.7,319.7 L1261.2,319.6 L1261.8,319.4 L1262.3,319.3 L1262.8,319.2 L1263.3,319.0 L1263.9,318.9 L1264.4,318.8 L1264.9,318.6 L1265.4,318.5 L1265.9,318.4 L1266.5,318.2 L1267.0,318.1 L1267.5,317.9 L1268.0,317.8 L1268.6,317.6 L1269.1,317.5 L1269.6,317.3 L1270.1,317.2 L1270.7,317.0 L1271.2,316.8 L1271.7,316.7 L1272.2,316.5 L1272.7,316.3 L1273.3,316.1 L1273.8,316.0 L1274.3,315.8 L1274.8,315.6 L1275.4,315.4 L1275.9,315.2 L1276.4,315.0 L1276.9,314.8 L1277.5,314.6 L1278.0,314.4 L1278.5,314.2 L1279.0,314.0 L1279.5,313.8 L1280.1,313.6 L1280.6,313.4 L1281.1,313.2 L1281.6,312.9 L1282.2,312.7 L1282.7,312.5 L1283.2,312.3 L1283.7,312.0 L1284.3,311.8 L1284.8,311.5 L1285.3,311.3 L1285.8,311.0 L1286.3,310.7 L1286.9,310.5 L1287.4,310.2 L1287.9,309.9 L1288.4,309.6 L1289.0,309.4 L1289.5,309.1 L1290.0,308.8 L1290.5,308.5 L1291.1,308.2 L1291.6,307.8 L1292.1,307.5 L1292.6,307.2 L1293.1,306.9 L1293.7,306.5 L1294.2,306.2 L1294.7,305.8 L1295.2,305.5 L1295.8,305.1 L1296.3,304.7 L1296.8,304.4 L1297.3,304.0 L1297.9,303.6 L1298.4,303.2 L1298.9,302.8 L1299.4,302.3 L1299.9,301.9 L1300.5,301.5 L1301.0,301.0 L1301.5,300.6 L1302.0,300.1 L1302.6,299.6 L1303.1,299.2 L1303.6,298.7 L1304.1,298.2 L1304.7,297.6 L1305.2,297.1 L1305.7,296.6 L1306.2,296.0 L1306.7,295.5 L1307.3,294.9 L1307.8,294.3 L1308.3,293.7 L1308.8,293.1 L1309.4,292.4 L1309.9,291.8 L1310.4,291.1 L1310.9,290.5 L1311.5,289.8 L1312.0,289.1 L1312.5,288.3 L1313.0,287.6 L1313.5,286.8 L1314.1,286.1 L1314.6,285.3 L1315.1,284.5 L1315.6,283.6 L1316.2,282.8 L1316.7,281.9 L1317.2,281.0 L1317.7,280.1 L1318.3,279.1 L1318.8,278.2 L1319.3,277.2 L1319.8,276.2 L1320.3,275.2 L1320.9,274.1 L1321.4,273.0 L1321.9,271.9 L1322.4,270.7 L1323.0,269.6 L1323.5,268.4 L1324.0,267.1 L1324.5,265.9 L1325.1,264.6 L1325.6,263.2 L1326.1,261.9 L1326.6,260.5 L1327.2,259.0 L1327.7,257.5 L1328.2,256.0 L1328.7,254.5 L1329.2,252.9 L1329.8,251.3 L1330.3,249.6 L1330.8,247.9 L1331.3,246.1 L1331.9,244.3 L1332.4,242.5 L1332.9,240.6 L1333.4,238.6 L1334.0,236.6 L1334.5,234.6 L1335.0,232.5 L1335.5,230.4 L1336.0,228.2 L1336.6,225.9 L1337.1,223.6 L1337.6,221.3 L1338.1,218.9 L1338.7,216.4 L1339.2,213.9 L1339.7,211.4 L1340.2,208.7 L1340.8,206.1 L1341.3,203.3 L1341.8,200.5 L1342.3,197.7 L1342.8,194.8 L1343.4,191.9 L1343.9,188.9 L1344.4,185.8 L1344.9,182.7 L1345.5,179.6 L1346.0,176.4 L1346.5,173.2 L1347.0,169.9 L1347.6,166.6 L1348.1,163.3 L1348.6,160.0 L1349.1,156.6 L1349.6,153.2 L1350.2,149.8 L1350.7,146.3 L1351.2,142.9 L1351.7,139.5 L1352.3,136.1 L1352.8,132.7 L1353.3,129.4 L1353.8,126.1 L1354.4,122.8 L1354.9,119.6 L1355.4,116.5 L1355.9,113.4 L1356.4,110.4 L1357.0,107.5 L1357.5,104.7 L1358.0,102.1 L1358.5,99.5 L1359.1,97.1 L1359.6,94.9 L1360.1,92.8 L1360.6,90.8 L1361.2,89.1 L1361.7,87.5 L1362.2,86.1 L1362.7,85.0 L1363.2,84.0 L1363.8,83.2 L1364.3,82.7 L1364.8,82.3 L1365.3,82.2 L1365.9,82.4 L1366.4,82.9 L1366.9,83.7 L1367.4,84.9 L1368.0,86.5 L1368.5,88.4 L1369.0,90.7 L1369.5,93.2 L1370.0,96.1 L1370.6,99.3 L1371.1,102.8 L1371.6,106.5 L1372.1,110.5 L1372.7,114.7 L1373.2,119.1 L1373.7,123.8 L1374.2,128.6 L1374.8,133.5 L1375.3,138.6 L1375.8,143.9 L1376.3,149.2 L1376.8,154.6 L1377.4,160.1 L1377.9,165.6 L1378.4,171.2 L1378.9,176.8 L1379.5,182.4 L1380.0,188.0 L1380.5,193.6 L1381.0,199.2 L1381.6,204.7 L1382.1,210.1 L1382.6,215.5 L1383.1,220.8 L1383.6,226.0 L1384.2,231.2 L1384.7,236.2 L1385.2,241.1 L1385.7,245.9 L1386.3,250.5 L1386.8,255.1 L1387.3,259.5 L1387.8,263.7 L1388.4,267.9 L1388.9,271.8 L1389.4,275.7 L1389.9,279.4 L1390.4,283.0 L1391.0,286.4 L1391.5,289.6 L1392.0,292.8 L1392.5,295.8 L1393.1,298.6 L1393.6,301.3 L1394.1,303.9 L1394.6,306.4 L1395.2,308.7 L1395.7,310.9 L1396.2,313.0 L1396.7,315.0 L1397.3,316.9 L1397.8,318.6 L1398.3,320.3 L1398.8,321.8 L1399.3,323.3 L1399.9,324.7 L1400.4,325.9 L1400.9,327.1 L1401.4,328.3 L1402.0,329.3 L1402.5,330.3 L1403.0,331.2 L1403.5,332.1 L1404.1,332.8 L1404.6,333.6 L1405.1,334.3 L1405.6,334.9 L1406.1,335.5 L1406.7,336.0 L1407.2,336.5 L1407.7,337.0 L1408.2,337.5 L1408.8,337.9 L1409.3,338.2 L1409.8,338.6 L1410.3,338.9 L1410.9,339.2 L1411.4,339.5 L1411.9,339.7 L1412.4,340.0 L1412.9,340.2 L1413.5,340.4 L1414.0,340.6 L1414.5,340.8 L1415.0,341.0 L1415.6,341.1 L1416.1,341.3 L1416.6,341.4 L1417.1,341.5 L1417.7,341.7 L1418.2,341.8 L1418.7,341.9 L1419.2,342.0 L1419.7,342.1 L1420.3,342.2 L1420.8,342.3 L1421.3,342.3 L1421.8,342.4 L1422.4,342.5 L1422.9,342.6 L1423.4,342.6 L1423.9,342.7 L1424.5,342.8 L1425.0,342.8 L1425.5,342.9" fill="none" stroke="#4cf036" stroke-width="2.6" stroke-linejoin="round" stroke-linecap="round" stroke-dasharray="11 6" stroke-linecap="butt"/>
<path d="M955.2,325.6 L955.7,325.6 L956.2,325.8 L956.8,326.1 L957.3,326.4 L957.8,326.8 L958.3,327.1 L958.9,327.3 L959.4,327.4 L959.9,327.3 L960.4,327.1 L961.0,326.8 L961.5,326.4 L962.0,326.1 L962.5,325.8 L963.0,325.6 L963.6,325.6 L964.1,325.7 L964.6,325.9 L965.1,326.2 L965.7,326.6 L966.2,326.9 L966.7,327.2 L967.2,327.3 L967.8,327.3 L968.3,327.1 L968.8,326.8 L969.3,326.4 L969.8,326.1 L970.4,325.8 L970.9,325.5 L971.4,325.5 L971.9,325.5 L972.5,325.7 L973.0,326.1 L973.5,326.4 L974.0,326.8 L974.6,327.0 L975.1,327.2 L975.6,327.2 L976.1,327.1 L976.6,326.8 L977.2,326.5 L977.7,326.1 L978.2,325.8 L978.7,325.5 L979.3,325.4 L979.8,325.4 L980.3,325.6 L980.8,325.9 L981.4,326.2 L981.9,326.6 L982.4,326.9 L982.9,327.1 L983.4,327.1 L984.0,327.1 L984.5,327.1 L985.0,327.1 L985.5,327.1 L986.1,327.1 L986.6,327.1 L987.1,327.1 L987.6,327.1 L988.2,327.1 L988.7,327.1 L989.2,327.1 L989.7,327.1 L990.3,327.0 L990.8,327.0 L991.3,327.0 L991.8,327.0 L992.3,327.0 L992.9,327.0 L993.4,327.0 L993.9,327.0 L994.4,327.0 L995.0,327.0 L995.5,327.0 L996.0,327.0 L996.5,327.0 L997.1,327.0 L997.6,327.0 L998.1,326.9 L998.6,326.9 L999.1,326.9 L999.7,326.9 L1000.2,326.9 L1000.7,326.9 L1001.2,326.9 L1001.8,326.9 L1002.3,326.9 L1002.8,326.9 L1003.3,326.9 L1003.9,326.9 L1004.4,326.9 L1004.9,326.9 L1005.4,326.8 L1005.9,326.8 L1006.5,326.8 L1007.0,326.8 L1007.5,326.8 L1008.0,326.8 L1008.6,326.8 L1009.1,326.8 L1009.6,326.8 L1010.1,326.8 L1010.7,326.8 L1011.2,326.8 L1011.7,326.8 L1012.2,326.7 L1012.7,326.7 L1013.3,326.7 L1013.8,326.7 L1014.3,326.7 L1014.8,326.7 L1015.4,326.7 L1015.9,326.7 L1016.4,326.7 L1016.9,326.7 L1017.5,326.7 L1018.0,326.7 L1018.5,326.6 L1019.0,326.6 L1019.5,326.6 L1020.1,326.6 L1020.6,326.6 L1021.1,326.6 L1021.6,326.6 L1022.2,326.6 L1022.7,326.6 L1023.2,326.6 L1023.7,326.6 L1024.3,326.6 L1024.8,326.5 L1025.3,326.5 L1025.8,326.5 L1026.3,326.5 L1026.9,326.5 L1027.4,326.5 L1027.9,326.5 L1028.4,326.5 L1029.0,326.5 L1029.5,326.5 L1030.0,326.5 L1030.5,326.4 L1031.1,326.4 L1031.6,326.4 L1032.1,326.4 L1032.6,326.4 L1033.1,326.4 L1033.7,326.4 L1034.2,326.4 L1034.7,326.4 L1035.2,326.4 L1035.8,326.3 L1036.3,326.3 L1036.8,326.3 L1037.3,326.3 L1037.9,326.3 L1038.4,326.3 L1038.9,326.3 L1039.4,326.3 L1039.9,326.3 L1040.5,326.3 L1041.0,326.2 L1041.5,326.2 L1042.0,326.2 L1042.6,326.2 L1043.1,326.2 L1043.6,326.2 L1044.1,326.2 L1044.7,326.2 L1045.2,326.2 L1045.7,326.1 L1046.2,326.1 L1046.7,326.1 L1047.3,326.1 L1047.8,326.1 L1048.3,326.1 L1048.8,326.1 L1049.4,326.1 L1049.9,326.1 L1050.4,326.0 L1050.9,326.0 L1051.5,326.0 L1052.0,326.0 L1052.5,326.0 L1053.0,326.0 L1053.5,326.0 L1054.1,326.0 L1054.6,325.9 L1055.1,325.9 L1055.6,325.9 L1056.2,325.9 L1056.7,325.9 L1057.2,325.9 L1057.7,325.9 L1058.3,325.9 L1058.8,325.8 L1059.3,325.8 L1059.8,325.8 L1060.4,325.8 L1060.9,325.8 L1061.4,325.8 L1061.9,325.8 L1062.4,325.8 L1063.0,325.7 L1063.5,325.7 L1064.0,325.7 L1064.5,325.7 L1065.1,325.7 L1065.6,325.7 L1066.1,325.7 L1066.6,325.6 L1067.2,325.6 L1067.7,325.6 L1068.2,325.6 L1068.7,325.6 L1069.2,325.6 L1069.8,325.5 L1070.3,325.5 L1070.8,325.5 L1071.3,325.5 L1071.9,325.5 L1072.4,325.4 L1072.9,325.4 L1073.4,325.4 L1074.0,325.4 L1074.5,325.4 L1075.0,325.3 L1075.5,325.3 L1076.0,325.3 L1076.6,325.3 L1077.1,325.2 L1077.6,325.2 L1078.1,325.2 L1078.7,325.2 L1079.2,325.1 L1079.7,325.1 L1080.2,325.1 L1080.8,325.0 L1081.3,325.0 L1081.8,325.0 L1082.3,324.9 L1082.8,324.9 L1083.4,324.8 L1083.9,324.8 L1084.4,324.8 L1084.9,324.7 L1085.5,324.7 L1086.0,324.6 L1086.5,324.6 L1087.0,324.5 L1087.6,324.4 L1088.1,324.4 L1088.6,324.3 L1089.1,324.2 L1089.6,324.2 L1090.2,324.1 L1090.7,324.0 L1091.2,323.9 L1091.7,323.8 L1092.3,323.7 L1092.8,323.6 L1093.3,323.5 L1093.8,323.4 L1094.4,323.3 L1094.9,323.2 L1095.4,323.0 L1095.9,322.9 L1096.4,322.7 L1097.0,322.6 L1097.5,322.4 L1098.0,322.3 L1098.5,322.1 L1099.1,321.9 L1099.6,321.7 L1100.1,321.5 L1100.6,321.3 L1101.2,321.1 L1101.7,320.9 L1102.2,320.7 L1102.7,320.4 L1103.2,320.1 L1103.8,319.9 L1104.3,319.6 L1104.8,319.3 L1105.3,319.0 L1105.9,318.7 L1106.4,318.4 L1106.9,318.0 L1107.4,317.7 L1108.0,317.3 L1108.5,317.0 L1109.0,316.6 L1109.5,316.2 L1110.0,315.8 L1110.6,315.3 L1111.1,314.9 L1111.6,314.5 L1112.1,314.0 L1112.7,313.5 L1113.2,313.0 L1113.7,312.5 L1114.2,312.0 L1114.8,311.5 L1115.3,310.9 L1115.8,310.4 L1116.3,309.8 L1116.8,309.2 L1117.4,308.6 L1117.9,308.0 L1118.4,307.4 L1118.9,306.8 L1119.5,306.1 L1120.0,305.5 L1120.5,304.8 L1121.0,304.2 L1121.6,303.5 L1122.1,302.8 L1122.6,302.1 L1123.1,301.4 L1123.7,300.7 L1124.2,300.0 L1124.7,299.3 L1125.2,298.6 L1125.7,297.9 L1126.3,297.1 L1126.8,296.4 L1127.3,295.7 L1127.8,295.0 L1128.4,294.2 L1128.9,293.5 L1129.4,292.8 L1129.9,292.1 L1130.5,291.4 L1131.0,290.6 L1131.5,289.9 L1132.0,289.2 L1132.5,288.6 L1133.1,287.9 L1133.6,287.2 L1134.1,286.5 L1134.6,285.9 L1135.2,285.2 L1135.7,284.6 L1136.2,284.0 L1136.7,283.4 L1137.3,282.8 L1137.8,282.2 L1138.3,281.6 L1138.8,281.1 L1139.3,280.5 L1139.9,280.0 L1140.4,279.5 L1140.9,279.0 L1141.4,278.5 L1142.0,278.1 L1142.5,277.7 L1143.0,277.2 L1143.5,276.8 L1144.1,276.4 L1144.6,276.1 L1145.1,275.7 L1145.6,275.4 L1146.1,275.0 L1146.7,274.7 L1147.2,274.4 L1147.7,274.2 L1148.2,273.9 L1148.8,273.7 L1149.3,273.4 L1149.8,273.2 L1150.3,273.0 L1150.9,272.8 L1151.4,272.6 L1151.9,272.4 L1152.4,272.2 L1152.9,272.0 L1153.5,271.9 L1154.0,271.7 L1154.5,271.6 L1155.0,271.4 L1155.6,271.2 L1156.1,271.1 L1156.6,270.9 L1157.1,270.8 L1157.7,270.6 L1158.2,270.5 L1158.7,270.3 L1159.2,270.2 L1159.7,270.0 L1160.3,269.8 L1160.8,269.6 L1161.3,269.4 L1161.8,269.2 L1162.4,269.0 L1162.9,268.8 L1163.4,268.6 L1163.9,268.3 L1164.5,268.0 L1165.0,267.8 L1165.5,267.5 L1166.0,267.2 L1166.5,266.9 L1167.1,266.5 L1167.6,266.2 L1168.1,265.8 L1168.6,265.4 L1169.2,265.0 L1169.7,264.6 L1170.2,264.2 L1170.7,263.8 L1171.3,263.3 L1171.8,262.8 L1172.3,262.3 L1172.8,261.8 L1173.3,261.3 L1173.9,260.8 L1174.4,260.3 L1174.9,259.7 L1175.4,259.2 L1176.0,258.6 L1176.5,258.0 L1177.0,257.4 L1177.5,256.9 L1178.1,256.3 L1178.6,255.7 L1179.1,255.1 L1179.6,254.5 L1180.1,253.9 L1180.7,253.3 L1181.2,252.7 L1181.7,252.1 L1182.2,251.5 L1182.8,250.9 L1183.3,250.4 L1183.8,249.8 L1184.3,249.2 L1184.9,248.7 L1185.4,248.2 L1185.9,247.7 L1186.4,247.2 L1186.9,246.7 L1187.5,246.3 L1188.0,245.8 L1188.5,245.4 L1189.0,245.0 L1189.6,244.6 L1190.1,244.3 L1190.6,244.0 L1191.1,243.7 L1191.7,243.4 L1192.2,243.2 L1192.7,243.0 L1193.2,242.8 L1193.8,242.7 L1194.3,242.6 L1194.8,242.5 L1195.3,242.5 L1195.8,242.4 L1196.4,242.5 L1196.9,242.5 L1197.4,242.6 L1197.9,242.7 L1198.5,242.9 L1199.0,243.1 L1199.5,243.3 L1200.0,243.6 L1200.6,243.9 L1201.1,244.2 L1201.6,244.5 L1202.1,244.9 L1202.6,245.4 L1203.2,245.8 L1203.7,246.3 L1204.2,246.8 L1204.7,247.4 L1205.3,247.9 L1205.8,248.5 L1206.3,249.2 L1206.8,249.8 L1207.4,250.5 L1207.9,251.2 L1208.4,251.9 L1208.9,252.7 L1209.4,253.4 L1210.0,254.2 L1210.5,255.0 L1211.0,255.8 L1211.5,256.7 L1212.1,257.5 L1212.6,258.4 L1213.1,259.2 L1213.6,260.1 L1214.2,261.0 L1214.7,261.9 L1215.2,262.8 L1215.7,263.7 L1216.2,264.6 L1216.8,265.5 L1217.3,266.4 L1217.8,267.4 L1218.3,268.3 L1218.9,269.2 L1219.4,270.1 L1219.9,271.0 L1220.4,271.9 L1221.0,272.8 L1221.5,273.6 L1222.0,274.5 L1222.5,275.4 L1223.0,276.2 L1223.6,277.1 L1224.1,277.9 L1224.6,278.7 L1225.1,279.5 L1225.7,280.3 L1226.2,281.0 L1226.7,281.8 L1227.2,282.5 L1227.8,283.2 L1228.3,283.9 L1228.8,284.5 L1229.3,285.2 L1229.8,285.8 L1230.4,286.4 L1230.9,287.0 L1231.4,287.6 L1231.9,288.1 L1232.5,288.6 L1233.0,289.1 L1233.5,289.6 L1234.0,290.1 L1234.6,290.5 L1235.1,290.9 L1235.6,291.3 L1236.1,291.6 L1236.6,292.0 L1237.2,292.3 L1237.7,292.6 L1238.2,292.8 L1238.7,293.1 L1239.3,293.3 L1239.8,293.5 L1240.3,293.6 L1240.8,293.8 L1241.4,293.9 L1241.9,294.0 L1242.4,294.1 L1242.9,294.1 L1243.4,294.2 L1244.0,294.2 L1244.5,294.2 L1245.0,294.1 L1245.5,294.1 L1246.1,294.0 L1246.6,293.9 L1247.1,293.8 L1247.6,293.7 L1248.2,293.5 L1248.7,293.3 L1249.2,293.1 L1249.7,292.9 L1250.2,292.7 L1250.8,292.4 L1251.3,292.1 L1251.8,291.8 L1252.3,291.5 L1252.9,291.2 L1253.4,290.8 L1253.9,290.4 L1254.4,290.0 L1255.0,289.6 L1255.5,289.2 L1256.0,288.7 L1256.5,288.3 L1257.0,287.8 L1257.6,287.3 L1258.1,286.7 L1258.6,286.2 L1259.1,285.6 L1259.7,285.0 L1260.2,284.4 L1260.7,283.8 L1261.2,283.2 L1261.8,282.5 L1262.3,281.9 L1262.8,281.2 L1263.3,280.5 L1263.9,279.7 L1264.4,279.0 L1264.9,278.2 L1265.4,277.4 L1265.9,276.6 L1266.5,275.8 L1267.0,275.0 L1267.5,274.1 L1268.0,273.2 L1268.6,272.3 L1269.1,271.4 L1269.6,270.5 L1270.1,269.5 L1270.7,268.6 L1271.2,267.6 L1271.7,266.5 L1272.2,265.5 L1272.7,264.5 L1273.3,263.4 L1273.8,262.3 L1274.3,261.2 L1274.8,260.0 L1275.4,258.9 L1275.9,257.7 L1276.4,256.5 L1276.9,255.3 L1277.5,254.0 L1278.0,252.7 L1278.5,251.5 L1279.0,250.1 L1279.5,248.8 L1280.1,247.5 L1280.6,246.1 L1281.1,244.7 L1281.6,243.3 L1282.2,241.8 L1282.7,240.4 L1283.2,238.9 L1283.7,237.4 L1284.3,235.8 L1284.8,234.3 L1285.3,232.7 L1285.8,231.1 L1286.3,229.5 L1286.9,227.9 L1287.4,226.2 L1287.9,224.6 L1288.4,222.9 L1289.0,221.1 L1289.5,219.4 L1290.0,217.7 L1290.5,215.9 L1291.1,214.1 L1291.6,212.3 L1292.1,210.5 L1292.6,208.7 L1293.1,206.8 L1293.7,204.9 L1294.2,203.1 L1294.7,201.2 L1295.2,199.3 L1295.8,197.4 L1296.3,195.5 L1296.8,193.5 L1297.3,191.6 L1297.9,189.7 L1298.4,187.7 L1298.9,185.8 L1299.4,183.8 L1299.9,181.9 L1300.5,180.0 L1301.0,178.0 L1301.5,176.1 L1302.0,174.2 L1302.6,172.3 L1303.1,170.4 L1303.6,168.5 L1304.1,166.7 L1304.7,164.8 L1305.2,163.0 L1305.7,161.2 L1306.2,159.4 L1306.7,157.7 L1307.3,156.0 L1307.8,154.3 L1308.3,152.6 L1308.8,151.0 L1309.4,149.4 L1309.9,147.9 L1310.4,146.4 L1310.9,144.9 L1311.5,143.5 L1312.0,142.1 L1312.5,140.8 L1313.0,139.5 L1313.5,138.3 L1314.1,137.1 L1314.6,136.0 L1315.1,134.9 L1315.6,133.9 L1316.2,132.9 L1316.7,132.0 L1317.2,131.1 L1317.7,130.4 L1318.3,129.9 L1318.8,129.4 L1319.3,129.2 L1319.8,129.0 L1320.3,129.0 L1320.9,129.1 L1321.4,129.4 L1321.9,129.7 L1322.4,130.2 L1323.0,130.7 L1323.5,131.4 L1324.0,132.1 L1324.5,132.9 L1325.1,133.8 L1325.6,134.7 L1326.1,135.7 L1326.6,136.7 L1327.2,137.7 L1327.7,138.8 L1328.2,139.9 L1328.7,140.9 L1329.2,142.0 L1329.8,143.1 L1330.3,144.1 L1330.8,145.2 L1331.3,146.2 L1331.9,147.1 L1332.4,148.0 L1332.9,148.9 L1333.4,149.7 L1334.0,150.4 L1334.5,151.1 L1335.0,151.7 L1335.5,152.2 L1336.0,152.6 L1336.6,153.0 L1337.1,153.2 L1337.6,153.4 L1338.1,153.4 L1338.7,153.4 L1339.2,153.2 L1339.7,153.0 L1340.2,152.6 L1340.8,152.2 L1341.3,151.6 L1341.8,150.9 L1342.3,150.1 L1342.8,149.2 L1343.4,148.1 L1343.9,147.0 L1344.4,145.8 L1344.9,144.4 L1345.5,142.9 L1346.0,141.4 L1346.5,139.7 L1347.0,137.9 L1347.6,136.1 L1348.1,134.1 L1348.6,132.1 L1349.1,130.0 L1349.6,127.8 L1350.2,125.6 L1350.7,123.3 L1351.2,120.9 L1351.7,118.5 L1352.3,116.1 L1352.8,113.6 L1353.3,111.1 L1353.8,108.7 L1354.4,106.2 L1354.9,103.7 L1355.4,101.3 L1355.9,98.9 L1356.4,96.6 L1357.0,94.3 L1357.5,92.1 L1358.0,90.0 L1358.5,87.9 L1359.1,86.0 L1359.6,84.2 L1360.1,82.6 L1360.6,81.0 L1361.2,79.7 L1361.7,78.5 L1362.2,77.4 L1362.7,76.6 L1363.2,75.9 L1363.8,75.4 L1364.3,75.2 L1364.8,75.1 L1365.3,75.2 L1365.9,75.6 L1366.4,76.3 L1366.9,77.3 L1367.4,78.8 L1368.0,80.5 L1368.5,82.6 L1369.0,85.0 L1369.5,87.7 L1370.0,90.8 L1370.6,94.1 L1371.1,97.7 L1371.6,101.5 L1372.1,105.6 L1372.7,110.0 L1373.2,114.5 L1373.7,119.2 L1374.2,124.1 L1374.8,129.2 L1375.3,134.4 L1375.8,139.7 L1376.3,145.1 L1376.8,150.6 L1377.4,156.2 L1377.9,161.8 L1378.4,167.4 L1378.9,173.1 L1379.5,178.8 L1380.0,184.5 L1380.5,190.1 L1381.0,195.7 L1381.6,201.3 L1382.1,206.8 L1382.6,212.2 L1383.1,217.6 L1383.6,222.8 L1384.2,228.0 L1384.7,233.1 L1385.2,238.0 L1385.7,242.8 L1386.3,247.6 L1386.8,252.1 L1387.3,256.6 L1387.8,260.9 L1388.4,265.1 L1388.9,269.1 L1389.4,273.0 L1389.9,276.7 L1390.4,280.3 L1391.0,283.7 L1391.5,287.1 L1392.0,290.2 L1392.5,293.3 L1393.1,296.1 L1393.6,298.9 L1394.1,301.5 L1394.6,304.0 L1395.2,306.4 L1395.7,308.6 L1396.2,310.7 L1396.7,312.7 L1397.3,314.6 L1397.8,316.4 L1398.3,318.1 L1398.8,319.7 L1399.3,321.1 L1399.9,322.5 L1400.4,323.9 L1400.9,325.1 L1401.4,326.2 L1402.0,327.3 L1402.5,328.3 L1403.0,329.2 L1403.5,330.1 L1404.1,330.9 L1404.6,331.7 L1405.1,332.4 L1405.6,333.0 L1406.1,333.7 L1406.7,334.2 L1407.2,334.7 L1407.7,335.2 L1408.2,335.7 L1408.8,336.1 L1409.3,336.5 L1409.8,336.9 L1410.3,337.2 L1410.9,337.5 L1411.4,337.8 L1411.9,338.1 L1412.4,338.4 L1412.9,338.6 L1413.5,338.8 L1414.0,339.0 L1414.5,339.2 L1415.0,339.4 L1415.6,339.6 L1416.1,339.8 L1416.6,339.9 L1417.1,340.1 L1417.7,340.2 L1418.2,340.3 L1418.7,340.4 L1419.2,340.6 L1419.7,340.7 L1420.3,340.8 L1420.8,340.9 L1421.3,341.0 L1421.8,341.1 L1422.4,341.2 L1422.9,341.2 L1423.4,341.3 L1423.9,341.4 L1424.5,341.5 L1425.0,341.6 L1425.5,341.6" fill="none" stroke="#f21d16" stroke-width="3.0" stroke-linejoin="round" stroke-linecap="round" />
<rect x="955.20" y="33.00" width="470.30" height="329.80" fill="none" stroke="#000" stroke-width="1.35"/>
<text x="854.6" y="31.6" font-size="35" text-anchor="start" >b</text>
<text x="1101.5" y="22.3" font-size="27">S2<tspan font-style="italic">p</tspan>-PEDOT:DS</text>
<text x="1190.3" y="413.3" font-size="27" text-anchor="middle" >Binding Energy (eV)</text>
<text transform="translate(873.3,199) rotate(-90)" font-size="27" text-anchor="middle">Intensity (CPS)</text>
<text x="1082.5" y="178.8" font-size="26.5" text-anchor="start" >Sulfates</text>
<line x1="1135.9" y1="190.0" x2="1145.7" y2="281.2" stroke="#2a40e8" stroke-width="1.4" />
<path d="M1146.5,289.2 L1142.1,280.6 L1149.0,279.9 Z" fill="#2a40e8"/>
<line x1="1135.6" y1="182.8" x2="1186.1" y2="236.7" stroke="#ff28ff" stroke-width="1.4" />
<path d="M1191.6,242.5 L1182.9,238.3 L1188.0,233.5 Z" fill="#ff28ff"/>
<text x="1164.0" y="94.0" font-size="26.5" text-anchor="start" >Thiophenes</text>
<line x1="1248.4" y1="96.8" x2="1306.8" y2="166.7" stroke="#8a2cf0" stroke-width="1.4" />
<path d="M1311.9,172.8 L1303.4,168.1 L1308.8,163.6 Z" fill="#8a2cf0"/>
<line x1="1248.4" y1="96.8" x2="1332.6" y2="165.3" stroke="#4cf036" stroke-width="1.4" />
<path d="M1338.8,170.4 L1329.6,167.4 L1334.0,162.0 Z" fill="#4cf036"/>
<line x1="59.8" y1="796.7" x2="59.8" y2="802.7" stroke="#000" stroke-width="1.3" />
<text x="59.8" y="824.0" font-size="18.5" text-anchor="middle" >15</text>
<line x1="87.7" y1="796.7" x2="87.7" y2="800.7" stroke="#000" stroke-width="1.3" />
<line x1="115.7" y1="796.7" x2="115.7" y2="802.7" stroke="#000" stroke-width="1.3" />
<text x="115.7" y="824.0" font-size="18.5" text-anchor="middle" >20</text>
<line x1="143.6" y1="796.7" x2="143.6" y2="800.7" stroke="#000" stroke-width="1.3" />
<line x1="171.6" y1="796.7" x2="171.6" y2="802.7" stroke="#000" stroke-width="1.3" />
<text x="171.6" y="824.0" font-size="18.5" text-anchor="middle" >25</text>
<line x1="199.5" y1="796.7" x2="199.5" y2="800.7" stroke="#000" stroke-width="1.3" />
<line x1="227.5" y1="796.7" x2="227.5" y2="802.7" stroke="#000" stroke-width="1.3" />
<text x="227.5" y="824.0" font-size="18.5" text-anchor="middle" >30</text>
<line x1="255.4" y1="796.7" x2="255.4" y2="800.7" stroke="#000" stroke-width="1.3" />
<line x1="283.3" y1="796.7" x2="283.3" y2="802.7" stroke="#000" stroke-width="1.3" />
<text x="283.3" y="824.0" font-size="18.5" text-anchor="middle" >35</text>
<line x1="311.3" y1="796.7" x2="311.3" y2="800.7" stroke="#000" stroke-width="1.3" />
<line x1="339.2" y1="796.7" x2="339.2" y2="802.7" stroke="#000" stroke-width="1.3" />
<text x="339.2" y="824.0" font-size="18.5" text-anchor="middle" >40</text>
<line x1="367.2" y1="796.7" x2="367.2" y2="800.7" stroke="#000" stroke-width="1.3" />
<line x1="395.1" y1="796.7" x2="395.1" y2="802.7" stroke="#000" stroke-width="1.3" />
<text x="395.1" y="824.0" font-size="18.5" text-anchor="middle" >45</text>
<line x1="423.1" y1="796.7" x2="423.1" y2="800.7" stroke="#000" stroke-width="1.3" />
<line x1="451.0" y1="796.7" x2="451.0" y2="802.7" stroke="#000" stroke-width="1.3" />
<text x="451.0" y="824.0" font-size="18.5" text-anchor="middle" >50</text>
<line x1="479.0" y1="796.7" x2="479.0" y2="800.7" stroke="#000" stroke-width="1.3" />
<line x1="506.9" y1="796.7" x2="506.9" y2="802.7" stroke="#000" stroke-width="1.3" />
<text x="506.9" y="824.0" font-size="18.5" text-anchor="middle" >55</text>
<line x1="186.6" y1="476.5" x2="186.6" y2="796.7" stroke="#000" stroke-width="1.2" stroke-dasharray="2 2"/>
<line x1="392.2" y1="476.5" x2="392.2" y2="796.7" stroke="#000" stroke-width="1.2" stroke-dasharray="2 2"/>
<path d="M60.3,521.2 L60.8,515.0 L61.4,521.2 L61.9,516.1 L62.5,515.9 L63.0,517.8 L63.6,516.6 L64.1,519.8 L64.7,519.2 L65.2,519.3 L65.8,518.3 L66.3,511.4 L66.9,524.4 L67.4,516.5 L68.0,524.4 L68.5,525.5 L69.1,523.1 L69.6,522.9 L70.2,524.7 L70.7,525.4 L71.3,525.0 L71.8,526.1 L72.4,526.0 L72.9,532.5 L73.5,528.3 L74.0,532.6 L74.6,529.4 L75.1,532.1 L75.7,531.9 L76.2,534.4 L76.8,535.5 L77.3,534.3 L77.9,533.1 L78.4,534.2 L79.0,541.1 L79.5,534.5 L80.1,536.7 L80.6,541.6 L81.2,539.4 L81.7,538.7 L82.3,537.0 L82.8,545.2 L83.4,537.9 L83.9,540.3 L84.5,538.6 L85.0,536.3 L85.6,537.8 L86.1,542.4 L86.7,541.0 L87.2,539.6 L87.8,538.0 L88.3,538.3 L88.9,541.6 L89.4,537.9 L90.0,545.1 L90.5,543.8 L91.1,548.0 L91.6,541.7 L92.2,539.9 L92.7,540.6 L93.3,534.5 L93.8,544.2 L94.4,542.9 L94.9,545.5 L95.5,543.8 L96.0,544.2 L96.6,543.4 L97.1,545.0 L97.7,546.7 L98.2,539.8 L98.8,543.7 L99.3,540.9 L99.9,549.5 L100.4,546.1 L101.0,545.1 L101.5,540.8 L102.1,546.1 L102.6,544.0 L103.2,545.3 L103.7,544.5 L104.3,546.7 L104.8,543.9 L105.4,547.9 L105.9,545.4 L106.5,544.8 L107.0,545.8 L107.6,545.0 L108.1,548.6 L108.7,544.9 L109.2,547.5 L109.8,545.4 L110.3,543.4 L110.9,550.5 L111.4,543.7 L112.0,549.9 L112.5,548.0 L113.1,543.2 L113.6,547.0 L114.2,547.6 L114.7,546.7 L115.3,546.2 L115.8,551.6 L116.4,547.7 L116.9,550.3 L117.5,547.9 L118.0,550.7 L118.6,547.7 L119.1,550.6 L119.7,551.8 L120.2,550.1 L120.8,549.6 L121.3,548.7 L121.9,552.7 L122.4,552.3 L123.0,550.9 L123.5,550.4 L124.1,554.4 L124.6,558.3 L125.2,550.0 L125.7,554.2 L126.3,554.0 L126.8,547.0 L127.4,556.5 L127.9,552.4 L128.5,558.5 L129.0,552.9 L129.6,553.3 L130.1,555.4 L130.7,556.2 L131.2,554.3 L131.8,556.5 L132.3,553.1 L132.9,557.3 L133.4,559.0 L134.0,561.4 L134.5,557.5 L135.1,557.8 L135.6,560.7 L136.2,559.8 L136.7,561.7 L137.3,560.0 L137.8,557.8 L138.4,560.0 L138.9,559.8 L139.5,560.4 L140.0,560.3 L140.6,558.2 L141.1,556.0 L141.7,560.9 L142.2,556.6 L142.8,563.1 L143.3,561.4 L143.9,557.5 L144.4,565.0 L145.0,563.6 L145.5,561.7 L146.1,566.4 L146.6,565.8 L147.2,558.3 L147.7,566.6 L148.3,563.5 L148.8,564.1 L149.4,565.6 L149.9,561.4 L150.5,563.3 L151.0,562.9 L151.6,563.5 L152.1,565.2 L152.7,561.6 L153.2,563.9 L153.8,567.7 L154.3,565.0 L154.9,566.8 L155.4,561.1 L156.0,565.9 L156.5,565.7 L157.1,567.0 L157.6,565.2 L158.2,569.5 L158.7,565.9 L159.3,567.1 L159.8,567.1 L160.4,568.8 L160.9,565.4 L161.5,570.3 L162.0,567.4 L162.6,567.2 L163.1,567.1 L163.7,568.4 L164.2,569.1 L164.8,568.5 L165.3,567.1 L165.9,568.7 L166.4,566.4 L167.0,569.7 L167.5,565.5 L168.1,561.6 L168.6,571.4 L169.2,565.5 L169.7,563.3 L170.3,566.6 L170.8,564.0 L171.4,571.6 L171.9,565.2 L172.5,561.4 L173.0,568.1 L173.6,563.9 L174.1,570.1 L174.7,560.9 L175.2,560.4 L175.8,566.8 L176.3,563.7 L176.9,563.7 L177.4,559.4 L178.0,566.7 L178.5,567.3 L179.1,557.4 L179.6,567.5 L180.2,560.5 L180.7,568.6 L181.3,561.4 L181.8,561.2 L182.4,564.6 L182.9,561.9 L183.5,559.6 L184.0,563.4 L184.6,559.3 L185.1,557.2 L185.7,567.3 L186.2,558.5 L186.8,560.2 L187.3,563.2 L187.9,558.7 L188.4,561.6 L189.0,564.4 L189.5,564.5 L190.1,566.7 L190.6,569.5 L191.2,565.7 L191.7,570.2 L192.3,570.5 L192.8,567.4 L193.4,572.9 L193.9,570.0 L194.5,576.7 L195.0,574.6 L195.6,575.0 L196.1,573.2 L196.7,578.7 L197.2,576.4 L197.8,581.5 L198.3,579.2 L198.9,579.1 L199.4,584.6 L200.0,583.5 L200.5,581.2 L201.1,587.1 L201.6,582.8 L202.2,584.5 L202.7,586.0 L203.3,584.1 L203.8,586.0 L204.4,586.9 L204.9,591.1 L205.5,590.0 L206.0,586.4 L206.6,592.6 L207.1,587.6 L207.7,590.4 L208.2,591.6 L208.8,590.2 L209.3,596.0 L209.9,589.6 L210.4,588.4 L211.0,595.7 L211.5,590.0 L212.1,592.0 L212.6,586.0 L213.2,597.8 L213.7,594.5 L214.3,594.9 L214.8,595.6 L215.4,597.4 L215.9,593.1 L216.5,597.1 L217.0,592.7 L217.6,595.2 L218.1,598.5 L218.7,596.0 L219.2,592.8 L219.8,598.4 L220.3,596.1 L220.9,595.3 L221.4,598.9 L222.0,596.2 L222.5,594.5 L223.1,596.7 L223.6,603.2 L224.2,593.5 L224.7,600.4 L225.3,600.1 L225.8,600.1 L226.4,596.0 L226.9,599.8 L227.5,600.4 L228.0,601.8 L228.6,598.1 L229.1,598.3 L229.7,603.9 L230.2,602.6 L230.8,601.1 L231.3,599.6 L231.9,602.9 L232.4,601.7 L233.0,603.8 L233.5,598.6 L234.1,603.6 L234.6,602.1 L235.2,600.3 L235.7,604.3 L236.3,603.0 L236.8,602.4 L237.4,604.7 L237.9,600.2 L238.5,604.9 L239.0,605.1 L239.6,604.6 L240.1,606.7 L240.7,601.0 L241.2,602.3 L241.8,606.7 L242.3,606.0 L242.9,609.8 L243.4,605.2 L244.0,603.2 L244.5,608.3 L245.1,603.4 L245.6,603.4 L246.2,613.3 L246.7,605.1 L247.3,607.9 L247.8,607.4 L248.4,610.5 L248.9,606.2 L249.5,609.6 L250.0,604.0 L250.6,605.0 L251.1,611.8 L251.7,609.8 L252.2,607.7 L252.8,608.0 L253.3,608.2 L253.9,606.4 L254.4,612.2 L255.0,608.6 L255.5,609.0 L256.1,608.9 L256.6,610.6 L257.2,609.0 L257.7,610.0 L258.3,605.6 L258.8,611.0 L259.4,613.5 L259.9,606.2 L260.5,609.3 L261.0,611.3 L261.6,610.7 L262.1,610.0 L262.7,605.3 L263.2,611.9 L263.8,606.5 L264.3,608.7 L264.9,611.5 L265.4,608.6 L266.0,611.8 L266.5,616.2 L267.1,609.2 L267.6,611.0 L268.2,607.5 L268.7,609.3 L269.3,608.2 L269.8,609.8 L270.4,608.2 L270.9,609.6 L271.5,610.4 L272.0,608.3 L272.6,608.0 L273.1,608.5 L273.7,612.6 L274.2,610.3 L274.8,612.8 L275.3,612.1 L275.9,609.1 L276.4,612.5 L277.0,607.1 L277.5,617.0 L278.1,611.7 L278.6,609.5 L279.2,608.5 L279.7,612.7 L280.3,606.6 L280.8,610.8 L281.4,613.4 L281.9,610.8 L282.5,610.1 L283.0,613.7 L283.6,608.3 L284.1,612.8 L284.7,610.1 L285.2,610.0 L285.8,613.2 L286.3,609.1 L286.9,616.6 L287.4,609.0 L288.0,616.6 L288.5,607.9 L289.1,614.1 L289.6,608.9 L290.2,610.0 L290.7,613.5 L291.3,613.5 L291.8,608.9 L292.4,615.9 L292.9,609.7 L293.5,613.3 L294.0,613.2 L294.6,613.6 L295.1,608.3 L295.7,617.6 L296.2,612.8 L296.8,611.5 L297.3,611.1 L297.9,610.1 L298.4,611.5 L299.0,615.4 L299.5,612.1 L300.1,611.2 L300.6,613.2 L301.2,617.3 L301.7,611.7 L302.3,612.7 L302.8,617.2 L303.4,613.9 L303.9,613.7 L304.5,612.7 L305.0,611.2 L305.6,612.9 L306.1,614.2 L306.7,614.3 L307.2,615.4 L307.8,615.5 L308.3,614.7 L308.9,615.0 L309.4,612.5 L310.0,611.0 L310.5,615.5 L311.1,613.4 L311.6,614.5 L312.2,615.2 L312.7,612.9 L313.3,614.0 L313.8,616.1 L314.4,615.9 L314.9,614.2 L315.5,617.4 L316.0,615.0 L316.6,613.9 L317.1,616.9 L317.7,620.1 L318.2,613.4 L318.8,619.3 L319.3,618.5 L319.9,618.6 L320.4,613.7 L321.0,621.6 L321.5,615.5 L322.1,616.2 L322.6,616.6 L323.2,618.4 L323.7,616.7 L324.3,616.7 L324.8,620.1 L325.4,614.9 L325.9,615.8 L326.5,620.0 L327.0,618.5 L327.6,619.5 L328.1,614.8 L328.7,621.0 L329.2,618.3 L329.8,621.5 L330.3,614.3 L330.9,619.7 L331.4,617.7 L332.0,615.4 L332.5,618.3 L333.1,621.7 L333.6,617.0 L334.2,617.8 L334.7,621.4 L335.3,620.6 L335.8,620.6 L336.4,617.0 L336.9,619.9 L337.5,621.8 L338.0,617.5 L338.6,618.7 L339.1,622.2 L339.7,622.6 L340.2,616.5 L340.8,615.6 L341.3,619.1 L341.9,619.3 L342.4,620.9 L343.0,621.9 L343.5,619.8 L344.1,619.3 L344.6,621.6 L345.2,618.7 L345.7,621.5 L346.3,619.7 L346.8,627.1 L347.4,620.9 L347.9,618.8 L348.5,619.8 L349.0,621.1 L349.6,618.2 L350.1,621.1 L350.7,620.4 L351.2,623.8 L351.8,620.0 L352.3,620.2 L352.9,619.3 L353.4,620.1 L354.0,622.3 L354.5,621.2 L355.1,624.1 L355.6,619.5 L356.2,624.3 L356.7,621.4 L357.3,621.5 L357.8,617.6 L358.4,620.5 L358.9,624.2 L359.5,624.1 L360.0,621.2 L360.6,623.2 L361.1,620.4 L361.7,621.3 L362.2,620.7 L362.8,624.3 L363.3,621.9 L363.9,621.1 L364.4,621.4 L365.0,623.3 L365.5,622.2 L366.1,620.0 L366.6,626.0 L367.2,621.2 L367.7,621.8 L368.3,625.0 L368.8,623.0 L369.4,621.0 L369.9,623.1 L370.5,619.4 L371.0,621.4 L371.6,617.8 L372.1,626.1 L372.7,617.2 L373.2,624.7 L373.8,619.8 L374.3,620.6 L374.9,622.3 L375.4,622.7 L376.0,623.1 L376.5,625.2 L377.1,621.4 L377.6,623.5 L378.2,620.0 L378.7,623.7 L379.3,621.5 L379.8,620.6 L380.4,621.7 L380.9,621.4 L381.5,621.7 L382.0,621.8 L382.6,619.7 L383.1,619.7 L383.7,622.7 L384.2,616.5 L384.8,620.2 L385.3,623.7 L385.9,613.3 L386.4,620.2 L387.0,621.3 L387.5,615.4 L388.1,625.3 L388.6,611.5 L389.2,622.6 L389.7,619.2 L390.3,617.1 L390.8,614.6 L391.4,616.1 L391.9,613.0 L392.5,617.4 L393.0,612.9 L393.6,616.7 L394.1,619.6 L394.7,615.4 L395.2,619.2 L395.8,620.4 L396.3,617.5 L396.9,623.9 L397.4,620.9 L398.0,618.1 L398.5,622.6 L399.1,620.3 L399.6,621.2 L400.2,622.6 L400.7,620.5 L401.3,624.4 L401.8,619.9 L402.4,624.3 L402.9,621.1 L403.5,623.5 L404.0,620.0 L404.6,621.0 L405.1,619.6 L405.7,623.4 L406.2,622.8 L406.8,624.8 L407.3,622.2 L407.9,620.6 L408.4,620.3 L409.0,621.6 L409.5,620.3 L410.1,623.4 L410.6,621.2 L411.2,617.9 L411.7,619.3 L412.3,623.1 L412.8,619.5 L413.4,619.0 L413.9,622.0 L414.5,617.8 L415.0,619.0 L415.6,618.4 L416.1,615.5 L416.7,621.9 L417.2,615.8 L417.8,618.4 L418.3,617.5 L418.9,620.4 L419.4,617.7 L420.0,618.4 L420.5,614.9 L421.1,619.1 L421.6,615.3 L422.2,619.7 L422.7,618.5 L423.3,617.7 L423.8,622.0 L424.4,617.6 L424.9,618.8 L425.5,618.0 L426.0,617.7 L426.6,620.3 L427.1,619.8 L427.7,615.2 L428.2,621.6 L428.8,619.1 L429.3,620.5 L429.9,619.4 L430.4,616.7 L431.0,618.2 L431.5,624.2 L432.1,619.3 L432.6,617.4 L433.2,622.2 L433.7,619.9 L434.3,617.8 L434.8,618.2 L435.4,620.1 L435.9,623.6 L436.5,622.0 L437.0,622.1 L437.6,623.5 L438.1,624.1 L438.7,618.9 L439.2,624.5 L439.8,622.5 L440.3,622.4 L440.9,624.2 L441.4,624.8 L442.0,624.5 L442.5,622.6 L443.1,625.5 L443.6,629.8 L444.2,622.5 L444.7,623.5 L445.3,627.8 L445.8,627.3 L446.4,627.0 L446.9,624.2 L447.5,629.4 L448.0,624.6 L448.6,625.2 L449.1,626.6 L449.7,627.2 L450.2,628.5 L450.8,627.9 L451.3,626.8 L451.9,629.1 L452.4,626.9 L453.0,629.1 L453.5,624.2 L454.1,625.5 L454.6,630.1 L455.2,624.5 L455.7,628.1 L456.3,627.8 L456.8,627.0 L457.4,627.4 L457.9,630.9 L458.5,622.3 L459.0,631.4 L459.6,631.9 L460.1,626.7 L460.7,628.2 L461.2,629.7 L461.8,631.3 L462.3,624.9 L462.9,629.4 L463.4,628.1 L464.0,629.7 L464.5,628.5 L465.1,629.7 L465.6,627.4 L466.2,629.1 L466.7,627.4 L467.3,628.0 L467.8,629.0 L468.4,628.7 L468.9,626.8 L469.5,632.6 L470.0,627.7 L470.6,626.5 L471.1,632.0 L471.7,627.0 L472.2,630.5 L472.8,628.8 L473.3,629.7 L473.9,629.4 L474.4,628.1 L475.0,629.7 L475.5,633.1 L476.1,623.9 L476.6,631.0 L477.2,630.2 L477.7,627.2 L478.3,627.6 L478.8,634.4 L479.4,627.5 L479.9,633.7 L480.5,629.2 L481.0,629.4 L481.6,630.5 L482.1,630.6 L482.7,631.5 L483.2,629.8 L483.8,629.8 L484.3,630.0 L484.9,632.2 L485.4,630.5 L486.0,627.5 L486.5,629.4 L487.1,631.0 L487.6,628.6 L488.2,629.7 L488.7,628.5 L489.3,630.2 L489.8,631.0 L490.4,631.7 L490.9,629.5 L491.5,634.0 L492.0,628.7 L492.6,636.1 L493.1,630.0 L493.7,630.6 L494.2,629.1 L494.8,625.5 L495.3,631.9 L495.9,630.8 L496.4,633.8 L497.0,626.7 L497.5,634.8 L498.1,628.8 L498.6,632.0 L499.2,625.5 L499.7,632.4 L500.3,629.9 L500.8,632.0 L501.4,630.3 L501.9,628.5 L502.5,633.1 L503.0,631.3 L503.6,631.3 L504.1,632.2 L504.7,632.1 L505.2,630.0 L505.8,628.3 L506.3,629.1" fill="none" stroke="#1010ff" stroke-width="1.0" stroke-linejoin="round" stroke-linecap="round" />
<path d="M60.3,519.7 L60.8,517.0 L61.4,515.4 L61.9,514.4 L62.5,517.6 L63.0,517.5 L63.6,516.8 L64.1,516.8 L64.7,530.3 L65.2,519.3 L65.8,519.9 L66.3,519.6 L66.9,524.5 L67.4,531.1 L68.0,530.7 L68.5,528.2 L69.1,532.3 L69.6,531.9 L70.2,530.6 L70.7,543.2 L71.3,537.3 L71.8,548.6 L72.4,533.4 L72.9,541.8 L73.5,546.1 L74.0,540.8 L74.6,538.5 L75.1,542.7 L75.7,547.1 L76.2,547.3 L76.8,545.9 L77.3,551.7 L77.9,550.8 L78.4,548.7 L79.0,549.1 L79.5,549.0 L80.1,553.4 L80.6,554.4 L81.2,550.9 L81.7,554.4 L82.3,551.3 L82.8,548.5 L83.4,552.3 L83.9,559.5 L84.5,556.3 L85.0,561.9 L85.6,554.6 L86.1,560.6 L86.7,561.8 L87.2,560.4 L87.8,554.8 L88.3,559.3 L88.9,560.5 L89.4,556.0 L90.0,564.0 L90.5,564.6 L91.1,558.2 L91.6,570.7 L92.2,558.6 L92.7,562.6 L93.3,562.7 L93.8,561.3 L94.4,567.0 L94.9,564.2 L95.5,571.8 L96.0,565.7 L96.6,567.3 L97.1,564.7 L97.7,561.4 L98.2,568.8 L98.8,564.3 L99.3,573.0 L99.9,566.9 L100.4,575.4 L101.0,569.7 L101.5,571.7 L102.1,569.5 L102.6,570.6 L103.2,572.7 L103.7,573.5 L104.3,567.0 L104.8,574.3 L105.4,581.4 L105.9,568.0 L106.5,571.4 L107.0,570.2 L107.6,568.1 L108.1,579.9 L108.7,572.1 L109.2,574.9 L109.8,580.9 L110.3,581.7 L110.9,567.6 L111.4,580.2 L112.0,576.1 L112.5,576.1 L113.1,577.0 L113.6,575.2 L114.2,582.5 L114.7,576.7 L115.3,577.2 L115.8,581.4 L116.4,579.1 L116.9,578.1 L117.5,578.5 L118.0,584.5 L118.6,577.9 L119.1,577.6 L119.7,575.7 L120.2,579.0 L120.8,575.9 L121.3,581.6 L121.9,580.9 L122.4,572.0 L123.0,583.5 L123.5,583.5 L124.1,581.0 L124.6,577.7 L125.2,588.1 L125.7,577.8 L126.3,578.8 L126.8,580.4 L127.4,584.7 L127.9,587.4 L128.5,587.2 L129.0,583.6 L129.6,579.8 L130.1,584.2 L130.7,582.9 L131.2,586.4 L131.8,579.8 L132.3,589.6 L132.9,589.6 L133.4,586.2 L134.0,590.1 L134.5,584.4 L135.1,584.8 L135.6,589.1 L136.2,595.4 L136.7,593.0 L137.3,588.0 L137.8,596.9 L138.4,589.3 L138.9,598.9 L139.5,593.1 L140.0,591.4 L140.6,598.0 L141.1,590.9 L141.7,592.9 L142.2,591.7 L142.8,599.4 L143.3,596.5 L143.9,597.4 L144.4,596.7 L145.0,604.7 L145.5,595.8 L146.1,597.7 L146.6,606.0 L147.2,604.6 L147.7,600.8 L148.3,595.0 L148.8,602.5 L149.4,606.1 L149.9,602.8 L150.5,609.8 L151.0,597.3 L151.6,609.3 L152.1,602.2 L152.7,611.7 L153.2,604.4 L153.8,610.8 L154.3,603.5 L154.9,603.3 L155.4,605.9 L156.0,607.9 L156.5,606.2 L157.1,615.5 L157.6,613.7 L158.2,610.0 L158.7,607.1 L159.3,612.7 L159.8,609.9 L160.4,619.1 L160.9,612.6 L161.5,615.3 L162.0,612.2 L162.6,607.9 L163.1,615.0 L163.7,612.6 L164.2,618.9 L164.8,616.4 L165.3,613.8 L165.9,616.8 L166.4,623.7 L167.0,612.2 L167.5,615.8 L168.1,618.5 L168.6,616.0 L169.2,617.7 L169.7,620.9 L170.3,624.1 L170.8,609.7 L171.4,620.6 L171.9,618.5 L172.5,617.9 L173.0,617.7 L173.6,617.2 L174.1,622.2 L174.7,615.1 L175.2,618.1 L175.8,618.1 L176.3,618.2 L176.9,617.0 L177.4,621.5 L178.0,616.3 L178.5,618.2 L179.1,617.0 L179.6,613.8 L180.2,615.6 L180.7,614.5 L181.3,619.2 L181.8,614.3 L182.4,614.1 L182.9,619.1 L183.5,618.5 L184.0,609.9 L184.6,625.1 L185.1,614.8 L185.7,616.4 L186.2,620.8 L186.8,616.1 L187.3,615.4 L187.9,627.0 L188.4,612.8 L189.0,621.3 L189.5,624.4 L190.1,617.3 L190.6,624.1 L191.2,625.7 L191.7,633.5 L192.3,620.6 L192.8,629.0 L193.4,631.8 L193.9,630.3 L194.5,627.8 L195.0,636.4 L195.6,634.7 L196.1,637.4 L196.7,640.5 L197.2,640.2 L197.8,639.2 L198.3,640.5 L198.9,636.6 L199.4,642.6 L200.0,643.5 L200.5,641.8 L201.1,645.2 L201.6,642.2 L202.2,652.4 L202.7,652.4 L203.3,643.6 L203.8,650.2 L204.4,647.8 L204.9,654.5 L205.5,650.5 L206.0,650.9 L206.6,650.9 L207.1,653.1 L207.7,649.4 L208.2,657.1 L208.8,650.8 L209.3,657.4 L209.9,654.9 L210.4,659.2 L211.0,654.6 L211.5,660.0 L212.1,652.5 L212.6,660.5 L213.2,656.2 L213.7,659.1 L214.3,658.6 L214.8,662.1 L215.4,651.3 L215.9,663.3 L216.5,654.6 L217.0,666.4 L217.6,652.6 L218.1,660.1 L218.7,657.0 L219.2,669.5 L219.8,655.9 L220.3,664.5 L220.9,661.0 L221.4,657.8 L222.0,664.6 L222.5,666.5 L223.1,662.8 L223.6,667.9 L224.2,662.5 L224.7,665.6 L225.3,664.1 L225.8,667.3 L226.4,672.0 L226.9,665.2 L227.5,666.8 L228.0,664.5 L228.6,665.3 L229.1,673.2 L229.7,662.1 L230.2,666.1 L230.8,668.9 L231.3,667.1 L231.9,675.7 L232.4,658.6 L233.0,673.1 L233.5,671.3 L234.1,665.0 L234.6,669.0 L235.2,672.3 L235.7,675.2 L236.3,665.6 L236.8,666.6 L237.4,676.0 L237.9,675.1 L238.5,668.5 L239.0,664.7 L239.6,679.2 L240.1,669.7 L240.7,676.2 L241.2,671.1 L241.8,671.5 L242.3,671.9 L242.9,678.5 L243.4,676.4 L244.0,664.9 L244.5,673.1 L245.1,680.9 L245.6,670.9 L246.2,670.3 L246.7,676.1 L247.3,674.4 L247.8,674.8 L248.4,673.7 L248.9,674.9 L249.5,674.4 L250.0,677.3 L250.6,672.9 L251.1,676.1 L251.7,676.1 L252.2,680.8 L252.8,676.3 L253.3,676.0 L253.9,678.8 L254.4,677.8 L255.0,680.4 L255.5,677.9 L256.1,682.9 L256.6,680.1 L257.2,676.3 L257.7,676.8 L258.3,681.6 L258.8,679.1 L259.4,677.7 L259.9,674.1 L260.5,674.7 L261.0,682.2 L261.6,681.3 L262.1,681.1 L262.7,674.5 L263.2,684.4 L263.8,677.0 L264.3,681.8 L264.9,681.0 L265.4,677.2 L266.0,679.4 L266.5,674.6 L267.1,680.1 L267.6,676.1 L268.2,684.4 L268.7,680.8 L269.3,684.1 L269.8,681.5 L270.4,679.1 L270.9,683.5 L271.5,680.2 L272.0,684.3 L272.6,682.4 L273.1,678.7 L273.7,683.4 L274.2,682.6 L274.8,681.6 L275.3,685.9 L275.9,687.2 L276.4,679.9 L277.0,682.4 L277.5,676.6 L278.1,685.4 L278.6,682.2 L279.2,677.3 L279.7,687.0 L280.3,685.3 L280.8,681.0 L281.4,683.7 L281.9,681.6 L282.5,687.7 L283.0,678.9 L283.6,685.2 L284.1,691.0 L284.7,682.8 L285.2,686.2 L285.8,684.0 L286.3,681.6 L286.9,686.3 L287.4,686.6 L288.0,681.8 L288.5,687.6 L289.1,689.0 L289.6,687.6 L290.2,679.8 L290.7,684.6 L291.3,682.1 L291.8,691.1 L292.4,686.9 L292.9,687.8 L293.5,683.0 L294.0,683.9 L294.6,688.1 L295.1,687.0 L295.7,684.1 L296.2,688.3 L296.8,688.8 L297.3,687.1 L297.9,683.9 L298.4,682.1 L299.0,688.9 L299.5,688.3 L300.1,686.7 L300.6,686.7 L301.2,686.2 L301.7,690.9 L302.3,687.2 L302.8,688.6 L303.4,685.2 L303.9,687.6 L304.5,689.6 L305.0,685.4 L305.6,686.0 L306.1,689.2 L306.7,692.9 L307.2,688.4 L307.8,693.3 L308.3,687.4 L308.9,688.6 L309.4,685.7 L310.0,689.3 L310.5,694.6 L311.1,689.3 L311.6,691.7 L312.2,691.3 L312.7,689.4 L313.3,689.6 L313.8,690.9 L314.4,692.3 L314.9,691.2 L315.5,691.6 L316.0,690.7 L316.6,688.5 L317.1,691.0 L317.7,688.6 L318.2,695.1 L318.8,684.1 L319.3,692.9 L319.9,698.7 L320.4,688.2 L321.0,688.8 L321.5,692.9 L322.1,695.7 L322.6,690.3 L323.2,694.1 L323.7,691.9 L324.3,691.2 L324.8,702.0 L325.4,689.6 L325.9,691.1 L326.5,691.9 L327.0,694.5 L327.6,693.8 L328.1,695.0 L328.7,692.9 L329.2,689.1 L329.8,696.4 L330.3,692.2 L330.9,693.2 L331.4,689.9 L332.0,693.8 L332.5,692.5 L333.1,694.8 L333.6,690.2 L334.2,696.0 L334.7,694.8 L335.3,691.3 L335.8,694.1 L336.4,693.0 L336.9,698.4 L337.5,687.0 L338.0,696.7 L338.6,691.0 L339.1,695.9 L339.7,698.4 L340.2,693.1 L340.8,696.9 L341.3,693.5 L341.9,702.5 L342.4,697.0 L343.0,698.8 L343.5,691.9 L344.1,695.1 L344.6,701.1 L345.2,695.6 L345.7,696.9 L346.3,698.7 L346.8,693.9 L347.4,701.3 L347.9,697.4 L348.5,699.6 L349.0,696.1 L349.6,700.7 L350.1,696.3 L350.7,702.2 L351.2,701.2 L351.8,700.6 L352.3,699.9 L352.9,700.7 L353.4,691.5 L354.0,704.6 L354.5,698.3 L355.1,700.5 L355.6,699.2 L356.2,696.6 L356.7,700.0 L357.3,702.6 L357.8,703.5 L358.4,697.3 L358.9,698.5 L359.5,705.2 L360.0,696.6 L360.6,706.9 L361.1,698.6 L361.7,697.9 L362.2,703.9 L362.8,704.0 L363.3,694.8 L363.9,705.9 L364.4,698.0 L365.0,704.5 L365.5,697.8 L366.1,696.3 L366.6,703.0 L367.2,702.1 L367.7,704.8 L368.3,702.7 L368.8,700.2 L369.4,698.6 L369.9,698.7 L370.5,699.5 L371.0,697.8 L371.6,699.7 L372.1,693.1 L372.7,702.4 L373.2,699.2 L373.8,706.2 L374.3,698.9 L374.9,697.2 L375.4,701.0 L376.0,695.3 L376.5,698.5 L377.1,694.5 L377.6,704.2 L378.2,698.9 L378.7,694.9 L379.3,699.4 L379.8,700.9 L380.4,698.7 L380.9,698.7 L381.5,695.4 L382.0,697.0 L382.6,698.6 L383.1,700.0 L383.7,694.6 L384.2,695.3 L384.8,701.3 L385.3,693.7 L385.9,700.7 L386.4,696.6 L387.0,698.9 L387.5,700.4 L388.1,696.8 L388.6,697.8 L389.2,693.2 L389.7,695.2 L390.3,698.3 L390.8,699.3 L391.4,697.9 L391.9,700.3 L392.5,694.2 L393.0,695.5 L393.6,697.5 L394.1,694.0 L394.7,694.5 L395.2,691.8 L395.8,697.6 L396.3,690.3 L396.9,695.9 L397.4,689.3 L398.0,697.0 L398.5,689.1 L399.1,695.4 L399.6,687.2 L400.2,691.9 L400.7,694.6 L401.3,687.8 L401.8,691.4 L402.4,688.8 L402.9,684.3 L403.5,692.1 L404.0,689.7 L404.6,685.3 L405.1,690.5 L405.7,685.2 L406.2,685.4 L406.8,687.7 L407.3,684.7 L407.9,692.3 L408.4,679.7 L409.0,688.3 L409.5,686.6 L410.1,678.6 L410.6,681.4 L411.2,686.4 L411.7,681.5 L412.3,684.1 L412.8,684.8 L413.4,680.0 L413.9,679.1 L414.5,675.1 L415.0,683.2 L415.6,677.4 L416.1,680.9 L416.7,679.0 L417.2,674.6 L417.8,683.0 L418.3,678.3 L418.9,677.8 L419.4,672.6 L420.0,675.7 L420.5,674.3 L421.1,674.4 L421.6,672.3 L422.2,676.4 L422.7,674.4 L423.3,674.7 L423.8,672.5 L424.4,677.6 L424.9,673.6 L425.5,667.9 L426.0,675.9 L426.6,676.1 L427.1,678.8 L427.7,675.7 L428.2,677.7 L428.8,677.6 L429.3,682.0 L429.9,679.1 L430.4,680.6 L431.0,681.3 L431.5,685.3 L432.1,682.4 L432.6,681.4 L433.2,688.6 L433.7,684.5 L434.3,689.0 L434.8,689.1 L435.4,692.0 L435.9,691.9 L436.5,689.2 L437.0,692.3 L437.6,690.2 L438.1,698.8 L438.7,694.1 L439.2,697.9 L439.8,693.6 L440.3,691.3 L440.9,701.4 L441.4,695.4 L442.0,697.0 L442.5,697.1 L443.1,698.8 L443.6,698.3 L444.2,693.8 L444.7,701.9 L445.3,696.3 L445.8,698.0 L446.4,703.2 L446.9,699.9 L447.5,697.8 L448.0,695.6 L448.6,701.6 L449.1,701.1 L449.7,699.6 L450.2,697.6 L450.8,699.8 L451.3,698.5 L451.9,702.4 L452.4,702.8 L453.0,702.9 L453.5,698.9 L454.1,702.7 L454.6,702.8 L455.2,700.3 L455.7,702.1 L456.3,707.0 L456.8,701.0 L457.4,704.2 L457.9,700.8 L458.5,703.1 L459.0,698.9 L459.6,704.1 L460.1,705.6 L460.7,706.8 L461.2,704.2 L461.8,703.8 L462.3,702.9 L462.9,702.1 L463.4,703.6 L464.0,705.1 L464.5,701.5 L465.1,706.4 L465.6,701.0 L466.2,700.8 L466.7,703.2 L467.3,701.2 L467.8,702.5 L468.4,707.8 L468.9,703.0 L469.5,705.1 L470.0,706.9 L470.6,706.4 L471.1,702.6 L471.7,708.0 L472.2,704.6 L472.8,704.6 L473.3,705.9 L473.9,701.6 L474.4,704.5 L475.0,705.6 L475.5,706.7 L476.1,704.1 L476.6,705.4 L477.2,707.7 L477.7,707.8 L478.3,706.2 L478.8,707.8 L479.4,703.9 L479.9,705.5 L480.5,706.8 L481.0,705.1 L481.6,705.2 L482.1,710.0 L482.7,704.5 L483.2,704.3 L483.8,708.0 L484.3,709.8 L484.9,705.2 L485.4,709.0 L486.0,704.7 L486.5,705.8 L487.1,705.5 L487.6,706.8 L488.2,710.6 L488.7,703.0 L489.3,711.0 L489.8,703.5 L490.4,707.1 L490.9,708.8 L491.5,707.7 L492.0,707.1 L492.6,703.4 L493.1,709.0 L493.7,704.8 L494.2,713.2 L494.8,704.9 L495.3,707.8 L495.9,704.8 L496.4,707.1 L497.0,705.0 L497.5,710.3 L498.1,706.1 L498.6,708.7 L499.2,705.6 L499.7,706.9 L500.3,710.5 L500.8,704.6 L501.4,704.6 L501.9,709.6 L502.5,704.9 L503.0,707.5 L503.6,709.7 L504.1,705.3 L504.7,709.9 L505.2,705.6 L505.8,711.1 L506.3,709.2" fill="none" stroke="#e8242a" stroke-width="1.0" stroke-linejoin="round" stroke-linecap="round" />
<path d="M60.3,528.3 L60.8,531.5 L61.4,529.5 L61.9,535.7 L62.5,539.2 L63.0,527.9 L63.6,542.6 L64.1,530.8 L64.7,537.0 L65.2,533.5 L65.8,552.1 L66.3,538.9 L66.9,543.7 L67.4,540.7 L68.0,550.3 L68.5,535.6 L69.1,550.1 L69.6,557.1 L70.2,544.3 L70.7,550.7 L71.3,553.9 L71.8,547.8 L72.4,554.4 L72.9,558.1 L73.5,554.5 L74.0,557.3 L74.6,555.1 L75.1,559.8 L75.7,558.8 L76.2,565.9 L76.8,561.8 L77.3,559.9 L77.9,553.2 L78.4,570.3 L79.0,566.9 L79.5,561.0 L80.1,559.9 L80.6,565.9 L81.2,574.1 L81.7,564.0 L82.3,570.2 L82.8,573.1 L83.4,577.1 L83.9,571.6 L84.5,573.9 L85.0,573.1 L85.6,583.5 L86.1,579.0 L86.7,576.0 L87.2,573.3 L87.8,578.4 L88.3,584.0 L88.9,577.6 L89.4,586.8 L90.0,583.2 L90.5,584.5 L91.1,586.8 L91.6,586.5 L92.2,582.1 L92.7,586.9 L93.3,597.7 L93.8,580.4 L94.4,589.2 L94.9,595.1 L95.5,588.8 L96.0,588.6 L96.6,588.3 L97.1,597.2 L97.7,597.2 L98.2,598.8 L98.8,593.6 L99.3,600.2 L99.9,591.2 L100.4,599.6 L101.0,595.3 L101.5,600.5 L102.1,602.3 L102.6,603.4 L103.2,595.4 L103.7,607.9 L104.3,598.5 L104.8,599.3 L105.4,604.1 L105.9,598.4 L106.5,606.6 L107.0,606.2 L107.6,604.5 L108.1,608.6 L108.7,604.7 L109.2,607.7 L109.8,602.1 L110.3,610.4 L110.9,605.4 L111.4,608.6 L112.0,610.0 L112.5,611.1 L113.1,604.0 L113.6,607.3 L114.2,612.6 L114.7,614.3 L115.3,613.3 L115.8,616.0 L116.4,617.3 L116.9,614.1 L117.5,613.6 L118.0,610.9 L118.6,613.1 L119.1,615.3 L119.7,618.0 L120.2,617.3 L120.8,617.0 L121.3,617.2 L121.9,621.0 L122.4,618.8 L123.0,620.2 L123.5,620.6 L124.1,617.9 L124.6,617.7 L125.2,624.7 L125.7,622.9 L126.3,621.0 L126.8,621.6 L127.4,632.8 L127.9,618.0 L128.5,624.7 L129.0,626.3 L129.6,620.8 L130.1,628.1 L130.7,633.3 L131.2,628.3 L131.8,628.9 L132.3,629.7 L132.9,628.5 L133.4,632.9 L134.0,628.1 L134.5,629.2 L135.1,632.1 L135.6,635.0 L136.2,632.4 L136.7,635.1 L137.3,625.0 L137.8,641.4 L138.4,642.1 L138.9,637.5 L139.5,633.3 L140.0,634.2 L140.6,639.8 L141.1,634.3 L141.7,643.2 L142.2,637.0 L142.8,645.0 L143.3,645.3 L143.9,632.9 L144.4,646.9 L145.0,640.9 L145.5,640.4 L146.1,645.1 L146.6,646.4 L147.2,651.4 L147.7,641.1 L148.3,654.9 L148.8,656.0 L149.4,650.3 L149.9,652.9 L150.5,651.7 L151.0,649.0 L151.6,657.7 L152.1,655.8 L152.7,658.2 L153.2,665.4 L153.8,657.1 L154.3,659.2 L154.9,664.6 L155.4,653.3 L156.0,658.6 L156.5,662.0 L157.1,660.8 L157.6,667.0 L158.2,662.3 L158.7,672.0 L159.3,669.3 L159.8,667.6 L160.4,665.1 L160.9,671.0 L161.5,671.1 L162.0,664.7 L162.6,673.0 L163.1,673.2 L163.7,671.6 L164.2,677.9 L164.8,675.5 L165.3,669.2 L165.9,675.9 L166.4,671.9 L167.0,678.9 L167.5,672.5 L168.1,681.5 L168.6,677.9 L169.2,681.3 L169.7,677.2 L170.3,674.5 L170.8,688.4 L171.4,678.0 L171.9,686.6 L172.5,681.9 L173.0,684.6 L173.6,689.0 L174.1,682.8 L174.7,689.1 L175.2,678.0 L175.8,690.7 L176.3,684.4 L176.9,686.7 L177.4,687.7 L178.0,689.3 L178.5,694.2 L179.1,680.6 L179.6,692.4 L180.2,687.9 L180.7,696.1 L181.3,688.7 L181.8,694.4 L182.4,690.9 L182.9,696.3 L183.5,696.8 L184.0,692.0 L184.6,695.9 L185.1,690.8 L185.7,699.3 L186.2,699.7 L186.8,694.7 L187.3,703.0 L187.9,690.3 L188.4,695.7 L189.0,697.7 L189.5,701.0 L190.1,702.4 L190.6,702.1 L191.2,702.9 L191.7,706.4 L192.3,701.9 L192.8,701.3 L193.4,702.9 L193.9,715.3 L194.5,696.3 L195.0,709.9 L195.6,713.5 L196.1,708.7 L196.7,705.9 L197.2,710.8 L197.8,713.3 L198.3,713.9 L198.9,706.6 L199.4,715.3 L200.0,711.9 L200.5,715.7 L201.1,716.0 L201.6,709.9 L202.2,708.5 L202.7,716.4 L203.3,719.1 L203.8,713.9 L204.4,713.9 L204.9,722.1 L205.5,707.9 L206.0,718.8 L206.6,711.7 L207.1,715.8 L207.7,715.3 L208.2,720.3 L208.8,710.5 L209.3,715.0 L209.9,711.2 L210.4,719.7 L211.0,714.3 L211.5,718.6 L212.1,712.8 L212.6,717.2 L213.2,721.3 L213.7,715.8 L214.3,720.2 L214.8,719.2 L215.4,716.6 L215.9,713.8 L216.5,724.0 L217.0,718.6 L217.6,722.5 L218.1,711.8 L218.7,716.7 L219.2,714.9 L219.8,720.0 L220.3,725.2 L220.9,721.6 L221.4,720.4 L222.0,722.0 L222.5,724.1 L223.1,720.1 L223.6,723.9 L224.2,722.5 L224.7,715.4 L225.3,724.3 L225.8,728.2 L226.4,720.7 L226.9,723.8 L227.5,722.3 L228.0,723.5 L228.6,728.9 L229.1,722.7 L229.7,722.1 L230.2,716.4 L230.8,727.4 L231.3,720.1 L231.9,722.5 L232.4,731.1 L233.0,728.1 L233.5,719.9 L234.1,732.2 L234.6,728.0 L235.2,724.7 L235.7,731.3 L236.3,722.1 L236.8,726.4 L237.4,725.4 L237.9,727.0 L238.5,733.3 L239.0,724.2 L239.6,727.5 L240.1,728.2 L240.7,731.9 L241.2,729.1 L241.8,733.9 L242.3,727.7 L242.9,727.8 L243.4,731.2 L244.0,732.3 L244.5,728.9 L245.1,734.1 L245.6,737.9 L246.2,728.7 L246.7,733.6 L247.3,737.3 L247.8,729.7 L248.4,731.6 L248.9,731.2 L249.5,736.5 L250.0,735.5 L250.6,733.5 L251.1,735.0 L251.7,739.0 L252.2,736.6 L252.8,730.1 L253.3,737.2 L253.9,736.3 L254.4,738.3 L255.0,734.9 L255.5,734.9 L256.1,736.2 L256.6,732.1 L257.2,739.3 L257.7,735.8 L258.3,740.0 L258.8,734.4 L259.4,738.1 L259.9,736.0 L260.5,736.5 L261.0,742.4 L261.6,737.1 L262.1,741.4 L262.7,735.8 L263.2,741.5 L263.8,734.8 L264.3,740.8 L264.9,739.6 L265.4,743.2 L266.0,741.0 L266.5,740.6 L267.1,744.3 L267.6,741.5 L268.2,743.5 L268.7,744.0 L269.3,741.4 L269.8,741.8 L270.4,744.2 L270.9,741.5 L271.5,744.9 L272.0,746.5 L272.6,745.1 L273.1,741.9 L273.7,740.6 L274.2,745.5 L274.8,744.2 L275.3,748.2 L275.9,742.6 L276.4,744.9 L277.0,747.8 L277.5,743.3 L278.1,745.7 L278.6,751.3 L279.2,748.8 L279.7,746.6 L280.3,746.6 L280.8,743.4 L281.4,749.5 L281.9,746.6 L282.5,747.8 L283.0,745.5 L283.6,748.0 L284.1,747.1 L284.7,749.0 L285.2,751.9 L285.8,747.7 L286.3,743.0 L286.9,747.3 L287.4,744.9 L288.0,748.0 L288.5,751.4 L289.1,749.7 L289.6,747.0 L290.2,750.8 L290.7,747.0 L291.3,746.2 L291.8,747.1 L292.4,748.9 L292.9,755.1 L293.5,744.8 L294.0,755.4 L294.6,753.1 L295.1,748.8 L295.7,750.8 L296.2,749.2 L296.8,751.6 L297.3,753.1 L297.9,750.7 L298.4,754.4 L299.0,754.0 L299.5,751.5 L300.1,752.5 L300.6,751.5 L301.2,753.2 L301.7,748.7 L302.3,754.7 L302.8,752.7 L303.4,749.9 L303.9,759.8 L304.5,747.9 L305.0,751.5 L305.6,754.8 L306.1,747.4 L306.7,753.0 L307.2,749.9 L307.8,752.4 L308.3,754.3 L308.9,754.9 L309.4,756.8 L310.0,755.3 L310.5,756.8 L311.1,754.8 L311.6,752.5 L312.2,758.2 L312.7,752.2 L313.3,753.5 L313.8,759.8 L314.4,755.7 L314.9,754.9 L315.5,757.1 L316.0,757.1 L316.6,750.7 L317.1,756.6 L317.7,752.4 L318.2,757.2 L318.8,753.9 L319.3,760.4 L319.9,756.2 L320.4,753.4 L321.0,757.0 L321.5,753.0 L322.1,757.8 L322.6,758.1 L323.2,756.9 L323.7,751.2 L324.3,757.8 L324.8,758.7 L325.4,757.5 L325.9,760.1 L326.5,752.6 L327.0,760.1 L327.6,755.2 L328.1,758.8 L328.7,758.6 L329.2,759.3 L329.8,755.7 L330.3,759.1 L330.9,754.7 L331.4,755.5 L332.0,761.2 L332.5,757.8 L333.1,754.2 L333.6,757.9 L334.2,759.6 L334.7,763.1 L335.3,760.3 L335.8,760.3 L336.4,753.6 L336.9,760.8 L337.5,760.8 L338.0,760.2 L338.6,760.4 L339.1,758.7 L339.7,764.8 L340.2,762.3 L340.8,758.5 L341.3,757.7 L341.9,766.8 L342.4,757.0 L343.0,764.3 L343.5,764.6 L344.1,756.5 L344.6,762.5 L345.2,759.8 L345.7,762.8 L346.3,761.6 L346.8,766.2 L347.4,761.2 L347.9,760.9 L348.5,764.6 L349.0,759.9 L349.6,761.1 L350.1,768.1 L350.7,757.8 L351.2,761.6 L351.8,762.7 L352.3,759.5 L352.9,757.8 L353.4,767.2 L354.0,759.5 L354.5,761.9 L355.1,762.2 L355.6,760.6 L356.2,760.9 L356.7,764.3 L357.3,769.1 L357.8,762.8 L358.4,764.4 L358.9,758.6 L359.5,764.6 L360.0,760.3 L360.6,766.5 L361.1,762.2 L361.7,763.8 L362.2,763.3 L362.8,762.2 L363.3,760.3 L363.9,766.5 L364.4,759.6 L365.0,762.0 L365.5,764.1 L366.1,762.3 L366.6,765.1 L367.2,766.2 L367.7,763.6 L368.3,764.2 L368.8,763.8 L369.4,766.1 L369.9,758.5 L370.5,766.5 L371.0,761.2 L371.6,761.6 L372.1,765.0 L372.7,762.9 L373.2,765.7 L373.8,766.2 L374.3,757.1 L374.9,765.8 L375.4,768.9 L376.0,764.4 L376.5,766.8 L377.1,762.9 L377.6,760.2 L378.2,762.4 L378.7,766.7 L379.3,765.7 L379.8,761.3 L380.4,763.9 L380.9,764.8 L381.5,759.4 L382.0,764.6 L382.6,768.2 L383.1,767.9 L383.7,761.8 L384.2,768.5 L384.8,761.0 L385.3,762.4 L385.9,759.1 L386.4,768.2 L387.0,762.2 L387.5,769.9 L388.1,762.7 L388.6,764.1 L389.2,759.4 L389.7,769.1 L390.3,761.8 L390.8,763.8 L391.4,758.7 L391.9,768.0 L392.5,765.5 L393.0,761.6 L393.6,764.5 L394.1,764.6 L394.7,765.6 L395.2,762.8 L395.8,767.2 L396.3,761.0 L396.9,761.5 L397.4,761.8 L398.0,756.5 L398.5,762.1 L399.1,764.6 L399.6,761.0 L400.2,758.7 L400.7,762.0 L401.3,755.1 L401.8,760.8 L402.4,760.9 L402.9,760.3 L403.5,756.4 L404.0,761.2 L404.6,761.8 L405.1,755.3 L405.7,759.6 L406.2,752.9 L406.8,753.5 L407.3,759.4 L407.9,755.5 L408.4,755.9 L409.0,753.5 L409.5,754.3 L410.1,756.2 L410.6,756.9 L411.2,751.2 L411.7,749.0 L412.3,756.5 L412.8,752.1 L413.4,752.4 L413.9,750.8 L414.5,755.8 L415.0,748.5 L415.6,751.0 L416.1,745.0 L416.7,749.6 L417.2,748.1 L417.8,749.5 L418.3,749.8 L418.9,746.9 L419.4,753.5 L420.0,745.2 L420.5,749.0 L421.1,750.3 L421.6,746.6 L422.2,752.2 L422.7,751.2 L423.3,749.4 L423.8,755.5 L424.4,750.1 L424.9,752.4 L425.5,749.9 L426.0,749.7 L426.6,753.1 L427.1,753.4 L427.7,753.4 L428.2,756.7 L428.8,749.1 L429.3,754.8 L429.9,752.7 L430.4,760.6 L431.0,754.4 L431.5,756.4 L432.1,755.5 L432.6,760.9 L433.2,756.9 L433.7,759.8 L434.3,754.9 L434.8,764.2 L435.4,760.6 L435.9,762.0 L436.5,763.9 L437.0,760.8 L437.6,762.4 L438.1,764.8 L438.7,764.0 L439.2,763.2 L439.8,764.8 L440.3,763.8 L440.9,767.3 L441.4,767.2 L442.0,765.4 L442.5,770.4 L443.1,761.9 L443.6,767.5 L444.2,770.9 L444.7,765.0 L445.3,764.2 L445.8,771.6 L446.4,767.7 L446.9,764.8 L447.5,770.4 L448.0,765.2 L448.6,766.0 L449.1,768.8 L449.7,767.4 L450.2,766.4 L450.8,768.5 L451.3,766.7 L451.9,769.5 L452.4,768.7 L453.0,770.4 L453.5,767.4 L454.1,766.6 L454.6,767.3 L455.2,769.6 L455.7,772.6 L456.3,770.0 L456.8,767.5 L457.4,771.9 L457.9,766.5 L458.5,772.5 L459.0,768.2 L459.6,771.6 L460.1,770.5 L460.7,768.9 L461.2,770.8 L461.8,767.6 L462.3,770.7 L462.9,772.4 L463.4,777.7 L464.0,768.7 L464.5,770.0 L465.1,768.2 L465.6,773.2 L466.2,766.3 L466.7,770.0 L467.3,771.8 L467.8,767.9 L468.4,774.6 L468.9,771.8 L469.5,768.8 L470.0,770.1 L470.6,768.6 L471.1,769.0 L471.7,772.8 L472.2,771.9 L472.8,771.3 L473.3,771.3 L473.9,769.8 L474.4,772.3 L475.0,768.1 L475.5,772.3 L476.1,774.2 L476.6,773.0 L477.2,769.6 L477.7,771.1 L478.3,774.4 L478.8,774.1 L479.4,767.5 L479.9,771.9 L480.5,772.5 L481.0,774.0 L481.6,769.4 L482.1,773.7 L482.7,770.9 L483.2,776.8 L483.8,771.2 L484.3,771.5 L484.9,771.6 L485.4,774.4 L486.0,772.8 L486.5,769.7 L487.1,773.4 L487.6,769.6 L488.2,771.8 L488.7,770.5 L489.3,770.8 L489.8,772.1 L490.4,771.2 L490.9,774.2 L491.5,773.8 L492.0,771.7 L492.6,770.8 L493.1,775.0 L493.7,768.5 L494.2,770.5 L494.8,775.5 L495.3,773.7 L495.9,774.3 L496.4,772.0 L497.0,770.8 L497.5,772.9 L498.1,774.5 L498.6,771.3 L499.2,772.4 L499.7,771.1 L500.3,772.0 L500.8,775.6 L501.4,773.6 L501.9,770.9 L502.5,772.1 L503.0,773.1 L503.6,774.8 L504.1,771.0 L504.7,773.9 L505.2,769.7 L505.8,772.6 L506.3,775.1" fill="none" stroke="#000" stroke-width="1.0" stroke-linejoin="round" stroke-linecap="round" />
<rect x="59.80" y="476.50" width="447.10" height="320.20" fill="none" stroke="#000" stroke-width="1.3"/>
<rect x="190.7" y="480.7" width="194.9" height="77" fill="#fff" stroke="#777" stroke-width="1.3"/>
<line x1="201.1" y1="494.2" x2="242.6" y2="494.2" stroke="#5b6cff" stroke-width="1.3" />
<line x1="201.1" y1="517.6" x2="242.6" y2="517.6" stroke="#e87a86" stroke-width="1.3" />
<line x1="201.1" y1="541.3" x2="242.6" y2="541.3" stroke="#777" stroke-width="1.3" />
<text x="248.2" y="500.2" font-size="18.5" text-anchor="start" >Pristine PEDOT</text>
<text x="248.2" y="523.6" font-size="18.5" text-anchor="start" >Dedoped PEDOT</text>
<text x="248.2" y="547.3" font-size="18.5">Bare SiO<tspan font-size="12" dy="5">2</tspan></text>
<text x="399.3" y="489.1" font-size="13.3" text-anchor="start" >Incident angle: 0.2°</text>
<text x="188.0" y="472.2" font-size="28.3" text-anchor="middle" >26.17°</text>
<text x="392.6" y="471.9" font-size="28.3" text-anchor="middle" >44.79°</text>
<text x="224.4" y="654.4" font-size="27.6" text-anchor="start" >In-plane XRD</text>
<text x="7.0" y="477.0" font-size="37" text-anchor="start" >c</text>
<text y="853.3" font-size="28.8"><tspan x="250.1">2</tspan><tspan x="285.9">(</tspan><tspan x="295.7">°</tspan><tspan x="306">)</tspan></text>
<text transform="translate(266.8,853.3) scale(1.2,1)" font-size="28.8" font-style="italic">θ</text>
<text transform="translate(27.3,644.3) rotate(-90)" font-size="28.5" text-anchor="middle">Intensity (arb.units)</text>
<line x1="639.0" y1="809.1" x2="639.0" y2="813.5" stroke="#000" stroke-width="1.3" />
<line x1="687.2" y1="809.1" x2="687.2" y2="815.6" stroke="#000" stroke-width="1.3" />
<text x="687.2" y="836.1" font-size="16.5" text-anchor="middle" >5</text>
<line x1="735.4" y1="809.1" x2="735.4" y2="813.5" stroke="#000" stroke-width="1.3" />
<line x1="783.6" y1="809.1" x2="783.6" y2="815.6" stroke="#000" stroke-width="1.3" />
<text x="783.6" y="836.1" font-size="16.5" text-anchor="middle" >10</text>
<line x1="831.8" y1="809.1" x2="831.8" y2="813.5" stroke="#000" stroke-width="1.3" />
<line x1="880.0" y1="809.1" x2="880.0" y2="815.6" stroke="#000" stroke-width="1.3" />
<text x="880.0" y="836.1" font-size="16.5" text-anchor="middle" >15</text>
<line x1="928.2" y1="809.1" x2="928.2" y2="813.5" stroke="#000" stroke-width="1.3" />
<line x1="976.4" y1="809.1" x2="976.4" y2="815.6" stroke="#000" stroke-width="1.3" />
<text x="976.4" y="836.1" font-size="16.5" text-anchor="middle" >20</text>
<line x1="1024.6" y1="809.1" x2="1024.6" y2="813.5" stroke="#000" stroke-width="1.3" />
<line x1="1072.8" y1="809.1" x2="1072.8" y2="815.6" stroke="#000" stroke-width="1.3" />
<text x="1072.8" y="836.1" font-size="16.5" text-anchor="middle" >25</text>
<line x1="720.0" y1="519.0" x2="720.0" y2="809.1" stroke="#e8305a" stroke-width="1.6" stroke-dasharray="1.6 3.4" stroke-linecap="round"/>
<path d="M638.8,518.9 L640.1,550.3 L640.6,574.2 L642.6,567.4 L645.6,572.9 L647.6,618.2 L650.6,648.4 L652.6,639.6 L655.1,659.7 L657.7,648.4 L660.2,686.1 L665.2,686.1 L667.7,682.3 L670.2,701.2 L674.0,697.4 L676.5,692.4 L679.0,711.2 L681.5,697.4 L684.0,704.9 L687.8,688.6 L691.6,687.3 L695.4,672.2 L697.9,673.5 L700.4,653.4 L705.4,635.8 L710.5,594.3 L713.0,591.8 L716.7,556.6 L720.0,518.9 L723.0,525.1 L725.5,560.3 L728.1,575.4 L730.6,610.6 L734.3,615.7 L736.9,623.2 L740.6,660.9 L745.7,686.1 L748.7,701.6 L751.7,703.6 L753.6,709.4 L755.9,726.5 L759.4,724.6 L762.9,742.4 L768.2,727.9 L771.1,741.5 L775.0,748.3 L779.8,736.6 L782.8,741.5 L786.6,742.1 L789.6,745.4 L791.5,745.4 L796.4,752.8 L806.1,742.4 L808.4,755.1 L810.9,741.5 L814.8,747.3 L818.7,738.6 L823.2,745.4 L827.9,722.6 L830.4,738.6 L834.8,730.8 L837.2,742.5 L839.5,732.7 L842.0,741.5 L846.5,733.7 L849.8,752.2 L852.3,751.2 L854.7,738.6 L857.6,754.1 L862.1,765.8 L866.3,761.9 L870.2,767.7 L874.1,762.9 L878.4,780.3 L881.9,770.6 L885.4,773.5 L888.7,768.7 L892.6,767.7 L895.5,765.4 L897.0,769.7 L900.3,760.3 L903.7,769.7 L907.2,771.6 L910.1,773.5 L912.6,763.8 L916.9,771.2 L921.7,760.3 L926.2,769.7 L929.5,761.9 L932.4,767.3 L936.3,760.9 L938.2,764.8 L942.1,760.3 L945.8,756.5 L948.9,759.0 L951.0,764.5 L955.4,752.8 L957.8,765.8 L960.3,772.7 L962.6,750.8 L965.4,747.3 L967.7,761.7 L970.2,751.4 L973.6,754.2 L975.4,756.2 L977.3,762.8 L979.8,759.0 L982.2,748.0 L984.6,749.1 L986.9,760.6 L989.4,750.8 L991.9,759.7 L996.2,752.8 L999.0,760.4 L1003.1,758.3 L1006.1,763.4 L1008.2,756.9 L1011.1,774.1 L1013.8,757.3 L1019.6,758.7 L1023.0,754.9 L1025.7,761.5 L1029.2,761.7 L1032.6,765.2 L1035.3,760.4 L1037.4,759.8 L1040.1,756.5 L1042.2,759.3 L1044.9,753.2 L1047.7,763.1 L1049.7,765.2 L1052.2,761.5 L1054.5,766.5 L1057.3,760.4 L1059.1,751.9 L1061.4,748.3 L1064.1,761.0 L1066.5,756.5 L1068.9,770.2 L1071.4,762.4 L1073.7,768.6 L1076.1,764.5 L1078.5,764.2 L1082.7,759.9 L1088.1,765.8 L1090.9,755.1 L1093.0,758.7 L1095.3,765.2 L1098.4,759.0 L1105.3,766.5 L1108.0,764.2 L1111.5,769.3" fill="none" stroke="#000" stroke-width="1.2" stroke-linejoin="round" stroke-linecap="round" />
<rect x="638.40" y="477.80" width="473.20" height="331.30" fill="none" stroke="#000" stroke-width="1.3"/>
<text x="582.6" y="477.1" font-size="36" text-anchor="start" >d</text>
<text x="721.2" y="513.9" font-size="26" text-anchor="middle" >100</text>
<text x="831.8" y="717.8" font-size="26.5" text-anchor="middle" >200</text>
<text x="821.6" y="595.3" font-size="27.2" text-anchor="start" >Out of plane XRD</text>
<text y="863.3" font-size="28.5"><tspan x="835.9">2</tspan><tspan x="872.2">(</tspan><tspan x="882">°</tspan><tspan x="891.2">)</tspan></text>
<text transform="translate(853.2,863.3) scale(1.1,1)" font-size="28.5" font-style="italic">θ</text>
<text transform="translate(602.8,639.7) rotate(-90)" font-size="27.4" text-anchor="middle">Intensity (arb.units)</text>
<line x1="1274.7" y1="802.3" x2="1274.7" y2="809.3" stroke="#555" stroke-width="1.4" />
<text x="1274.7" y="829.3" font-size="19.5" text-anchor="middle" >174</text>
<line x1="1307.0" y1="802.3" x2="1307.0" y2="806.8" stroke="#555" stroke-width="1.4" />
<line x1="1339.3" y1="802.3" x2="1339.3" y2="809.3" stroke="#555" stroke-width="1.4" />
<text x="1339.3" y="829.3" font-size="19.5" text-anchor="middle" >172</text>
<line x1="1371.6" y1="802.3" x2="1371.6" y2="806.8" stroke="#555" stroke-width="1.4" />
<line x1="1403.9" y1="802.3" x2="1403.9" y2="809.3" stroke="#555" stroke-width="1.4" />
<text x="1403.9" y="829.3" font-size="19.5" text-anchor="middle" >170</text>
<line x1="1436.2" y1="802.3" x2="1436.2" y2="806.8" stroke="#555" stroke-width="1.4" />
<line x1="1468.5" y1="802.3" x2="1468.5" y2="809.3" stroke="#555" stroke-width="1.4" />
<text x="1468.5" y="829.3" font-size="19.5" text-anchor="middle" >168</text>
<line x1="1500.8" y1="802.3" x2="1500.8" y2="806.8" stroke="#555" stroke-width="1.4" />
<line x1="1533.0" y1="802.3" x2="1533.0" y2="809.3" stroke="#555" stroke-width="1.4" />
<text x="1533.0" y="829.3" font-size="19.5" text-anchor="middle" >166</text>
<line x1="1565.3" y1="802.3" x2="1565.3" y2="806.8" stroke="#555" stroke-width="1.4" />
<line x1="1597.6" y1="802.3" x2="1597.6" y2="809.3" stroke="#555" stroke-width="1.4" />
<text x="1597.6" y="829.3" font-size="19.5" text-anchor="middle" >164</text>
<line x1="1629.9" y1="802.3" x2="1629.9" y2="806.8" stroke="#555" stroke-width="1.4" />
<line x1="1662.2" y1="802.3" x2="1662.2" y2="809.3" stroke="#555" stroke-width="1.4" />
<text x="1662.2" y="829.3" font-size="19.5" text-anchor="middle" >162</text>
<line x1="1694.5" y1="802.3" x2="1694.5" y2="806.8" stroke="#555" stroke-width="1.4" />
<line x1="1726.8" y1="802.3" x2="1726.8" y2="809.3" stroke="#555" stroke-width="1.4" />
<text x="1726.8" y="829.3" font-size="19.5" text-anchor="middle" >160</text>
<line x1="1270.7" y1="788.8" x2="1274.7" y2="788.8" stroke="#555" stroke-width="1.4" />
<line x1="1267.9" y1="770.3" x2="1274.7" y2="770.3" stroke="#555" stroke-width="1.4" />
<line x1="1270.7" y1="751.8" x2="1274.7" y2="751.8" stroke="#555" stroke-width="1.4" />
<line x1="1267.9" y1="733.3" x2="1274.7" y2="733.3" stroke="#555" stroke-width="1.4" />
<line x1="1270.7" y1="714.8" x2="1274.7" y2="714.8" stroke="#555" stroke-width="1.4" />
<line x1="1267.9" y1="696.3" x2="1274.7" y2="696.3" stroke="#555" stroke-width="1.4" />
<line x1="1270.7" y1="677.8" x2="1274.7" y2="677.8" stroke="#555" stroke-width="1.4" />
<line x1="1267.9" y1="659.3" x2="1274.7" y2="659.3" stroke="#555" stroke-width="1.4" />
<line x1="1270.7" y1="640.8" x2="1274.7" y2="640.8" stroke="#555" stroke-width="1.4" />
<line x1="1267.9" y1="622.3" x2="1274.7" y2="622.3" stroke="#555" stroke-width="1.4" />
<line x1="1270.7" y1="603.8" x2="1274.7" y2="603.8" stroke="#555" stroke-width="1.4" />
<line x1="1267.9" y1="585.3" x2="1274.7" y2="585.3" stroke="#555" stroke-width="1.4" />
<line x1="1270.7" y1="566.8" x2="1274.7" y2="566.8" stroke="#555" stroke-width="1.4" />
<line x1="1267.9" y1="548.3" x2="1274.7" y2="548.3" stroke="#555" stroke-width="1.4" />
<line x1="1270.7" y1="529.8" x2="1274.7" y2="529.8" stroke="#555" stroke-width="1.4" />
<line x1="1267.9" y1="511.3" x2="1274.7" y2="511.3" stroke="#555" stroke-width="1.4" />
<line x1="1270.7" y1="492.8" x2="1274.7" y2="492.8" stroke="#555" stroke-width="1.4" />
<text transform="translate(1256.40,778.90) scale(0.95,1)" font-size="21" text-anchor="end">2.0x10</text>
<text x="1257.30" y="768.70" font-size="12.5">3</text>
<text transform="translate(1256.40,741.90) scale(0.95,1)" font-size="21" text-anchor="end">4.0x10</text>
<text x="1257.30" y="731.70" font-size="12.5">3</text>
<text transform="translate(1256.40,704.90) scale(0.95,1)" font-size="21" text-anchor="end">6.0x10</text>
<text x="1257.30" y="694.70" font-size="12.5">3</text>
<text transform="translate(1256.40,667.90) scale(0.95,1)" font-size="21" text-anchor="end">8.0x10</text>
<text x="1257.30" y="657.70" font-size="12.5">3</text>
<text transform="translate(1256.40,630.90) scale(0.95,1)" font-size="21" text-anchor="end">1.0x10</text>
<text x="1257.30" y="620.70" font-size="12.5">4</text>
<text transform="translate(1256.40,593.90) scale(0.95,1)" font-size="21" text-anchor="end">1.2x10</text>
<text x="1257.30" y="583.70" font-size="12.5">4</text>
<text transform="translate(1256.40,556.90) scale(0.95,1)" font-size="21" text-anchor="end">1.4x10</text>
<text x="1257.30" y="546.70" font-size="12.5">4</text>
<text transform="translate(1256.40,519.90) scale(0.95,1)" font-size="21" text-anchor="end">1.6x10</text>
<text x="1257.30" y="509.70" font-size="12.5">4</text>
<path d="M1330.0,779.6 L1330.5,779.6 L1331.0,779.6 L1331.5,779.6 L1332.0,779.6 L1332.5,779.6 L1333.0,779.6 L1333.5,779.6 L1334.0,779.6 L1334.5,779.6 L1335.0,779.6 L1335.5,779.6 L1336.0,779.6 L1336.5,779.6 L1337.0,779.6 L1337.4,779.6 L1337.9,779.6 L1338.4,779.6 L1338.9,779.6 L1339.4,779.6 L1339.9,779.6 L1340.4,779.6 L1340.9,779.6 L1341.4,779.6 L1341.9,779.6 L1342.4,779.6 L1342.9,779.6 L1343.4,779.6 L1343.9,779.6 L1344.4,779.6 L1344.9,779.6 L1345.4,779.6 L1345.9,779.6 L1346.4,779.6 L1346.9,779.6 L1347.4,779.6 L1347.9,779.6 L1348.4,779.6 L1348.9,779.6 L1349.4,779.6 L1349.9,779.6 L1350.4,779.6 L1350.9,779.6 L1351.4,779.6 L1351.9,779.6 L1352.3,779.6 L1352.8,779.6 L1353.3,779.6 L1353.8,779.6 L1354.3,779.6 L1354.8,779.6 L1355.3,779.6 L1355.8,779.7 L1356.3,779.7 L1356.8,779.7 L1357.3,779.7 L1357.8,779.7 L1358.3,779.7 L1358.8,779.7 L1359.3,779.7 L1359.8,779.7 L1360.3,779.7 L1360.8,779.7 L1361.3,779.7 L1361.8,779.7 L1362.3,779.7 L1362.8,779.7 L1363.3,779.7 L1363.8,779.7 L1364.3,779.7 L1364.8,779.7 L1365.3,779.7 L1365.8,779.7 L1366.3,779.7 L1366.7,779.7 L1367.2,779.7 L1367.7,779.7 L1368.2,779.7 L1368.7,779.7 L1369.2,779.7 L1369.7,779.7 L1370.2,779.7 L1370.7,779.7 L1371.2,779.7 L1371.7,779.7 L1372.2,779.7 L1372.7,779.7 L1373.2,779.7 L1373.7,779.7 L1374.2,779.7 L1374.7,779.7 L1375.2,779.7 L1375.7,779.7 L1376.2,779.7 L1376.7,779.7 L1377.2,779.7 L1377.7,779.7 L1378.2,779.7 L1378.7,779.7 L1379.2,779.7 L1379.7,779.7 L1380.2,779.7 L1380.7,779.7 L1381.2,779.7 L1381.6,779.7 L1382.1,779.7 L1382.6,779.7 L1383.1,779.7 L1383.6,779.7 L1384.1,779.7 L1384.6,779.7 L1385.1,779.7 L1385.6,779.7 L1386.1,779.7 L1386.6,779.7 L1387.1,779.7 L1387.6,779.7 L1388.1,779.7 L1388.6,779.7 L1389.1,779.7 L1389.6,779.7 L1390.1,779.7 L1390.6,779.7 L1391.1,779.7 L1391.6,779.7 L1392.1,779.7 L1392.6,779.7 L1393.1,779.7 L1393.6,779.7 L1394.1,779.7 L1394.6,779.7 L1395.1,779.7 L1395.6,779.7 L1396.1,779.6 L1396.5,779.6 L1397.0,779.6 L1397.5,779.6 L1398.0,779.6 L1398.5,779.6 L1399.0,779.6 L1399.5,779.6 L1400.0,779.5 L1400.5,779.5 L1401.0,779.5 L1401.5,779.5 L1402.0,779.5 L1402.5,779.4 L1403.0,779.4 L1403.5,779.4 L1404.0,779.4 L1404.5,779.3 L1405.0,779.3 L1405.5,779.3 L1406.0,779.2 L1406.5,779.2 L1407.0,779.2 L1407.5,779.1 L1408.0,779.1 L1408.5,779.1 L1409.0,779.0 L1409.5,779.0 L1410.0,778.9 L1410.5,778.9 L1410.9,778.8 L1411.4,778.7 L1411.9,778.7 L1412.4,778.6 L1412.9,778.5 L1413.4,778.5 L1413.9,778.4 L1414.4,778.3 L1414.9,778.3 L1415.4,778.2 L1415.9,778.1 L1416.4,778.0 L1416.9,777.9 L1417.4,777.8 L1417.9,777.7 L1418.4,777.6 L1418.9,777.5 L1419.4,777.4 L1419.9,777.3 L1420.4,777.2 L1420.9,777.1 L1421.4,776.9 L1421.9,776.8 L1422.4,776.7 L1422.9,776.6 L1423.4,776.4 L1423.9,776.3 L1424.4,776.2 L1424.9,776.0 L1425.4,775.9 L1425.8,775.7 L1426.3,775.6 L1426.8,775.4 L1427.3,775.3 L1427.8,775.1 L1428.3,775.0 L1428.8,774.8 L1429.3,774.7 L1429.8,774.5 L1430.3,774.4 L1430.8,774.2 L1431.3,774.0 L1431.8,773.9 L1432.3,773.7 L1432.8,773.6 L1433.3,773.4 L1433.8,773.3 L1434.3,773.1 L1434.8,773.0 L1435.3,772.9 L1435.8,772.7 L1436.3,772.6 L1436.8,772.4 L1437.3,772.3 L1437.8,772.2 L1438.3,772.1 L1438.8,772.0 L1439.3,771.8 L1439.8,771.7 L1440.2,771.6 L1440.7,771.5 L1441.2,771.4 L1441.7,771.4 L1442.2,771.3 L1442.7,771.2 L1443.2,771.1 L1443.7,771.1 L1444.2,771.0 L1444.7,771.0 L1445.2,770.9 L1445.7,770.9 L1446.2,770.9 L1446.7,770.9 L1447.2,770.8 L1447.7,770.8 L1448.2,770.8 L1448.7,770.9 L1449.2,770.9 L1449.7,770.9 L1450.2,770.9 L1450.7,771.0 L1451.2,771.0 L1451.7,771.1 L1452.2,771.1 L1452.7,771.2 L1453.2,771.3 L1453.7,771.3 L1454.2,771.4 L1454.7,771.5 L1455.1,771.6 L1455.6,771.7 L1456.1,771.8 L1456.6,771.9 L1457.1,772.0 L1457.6,772.1 L1458.1,772.2 L1458.6,772.4 L1459.1,772.5 L1459.6,772.6 L1460.1,772.8 L1460.6,772.9 L1461.1,773.0 L1461.6,773.2 L1462.1,773.3 L1462.6,773.5 L1463.1,773.6 L1463.6,773.8 L1464.1,773.9 L1464.6,774.1 L1465.1,774.2 L1465.6,774.4 L1466.1,774.5 L1466.6,774.7 L1467.1,774.8 L1467.6,775.0 L1468.1,775.1 L1468.6,775.3 L1469.1,775.4 L1469.6,775.6 L1470.0,775.7 L1470.5,775.9 L1471.0,776.0 L1471.5,776.2 L1472.0,776.3 L1472.5,776.4 L1473.0,776.6 L1473.5,776.7 L1474.0,776.8 L1474.5,776.9 L1475.0,777.1 L1475.5,777.2 L1476.0,777.3 L1476.5,777.4 L1477.0,777.5 L1477.5,777.6 L1478.0,777.8 L1478.5,777.9 L1479.0,778.0 L1479.5,778.1 L1480.0,778.1 L1480.5,778.2 L1481.0,778.3 L1481.5,778.4 L1482.0,778.5 L1482.5,778.6 L1483.0,778.7 L1483.5,778.7 L1484.0,778.8 L1484.4,778.9 L1484.9,778.9 L1485.4,779.0 L1485.9,779.1 L1486.4,779.1 L1486.9,779.2 L1487.4,779.2 L1487.9,779.3 L1488.4,779.4 L1488.9,779.4 L1489.4,779.5 L1489.9,779.5 L1490.4,779.5 L1490.9,779.6 L1491.4,779.6 L1491.9,779.7 L1492.4,779.7 L1492.9,779.7 L1493.4,779.8 L1493.9,779.8 L1494.4,779.9 L1494.9,779.9 L1495.4,779.9 L1495.9,779.9 L1496.4,780.0 L1496.9,780.0 L1497.4,780.0 L1497.9,780.1 L1498.4,780.1 L1498.9,780.1 L1499.3,780.1 L1499.8,780.2 L1500.3,780.2 L1500.8,780.2 L1501.3,780.2 L1501.8,780.3 L1502.3,780.3 L1502.8,780.3 L1503.3,780.4 L1503.8,780.4 L1504.3,780.4 L1504.8,780.4 L1505.3,780.5 L1505.8,780.5 L1506.3,780.5 L1506.8,780.6 L1507.3,780.6 L1507.8,780.6 L1508.3,780.7 L1508.8,780.7 L1509.3,780.7 L1509.8,780.8 L1510.3,780.8 L1510.8,780.8 L1511.3,780.9 L1511.8,780.9 L1512.3,781.0 L1512.8,781.0 L1513.3,781.0 L1513.7,781.1 L1514.2,781.1 L1514.7,781.1 L1515.2,781.2 L1515.7,781.2 L1516.2,781.2 L1516.7,781.3 L1517.2,781.3 L1517.7,781.3 L1518.2,781.4 L1518.7,781.4 L1519.2,781.4 L1519.7,781.5 L1520.2,781.5 L1520.7,781.5 L1521.2,781.6 L1521.7,781.6 L1522.2,781.6 L1522.7,781.7 L1523.2,781.7 L1523.7,781.8 L1524.2,781.8 L1524.7,781.8 L1525.2,781.9 L1525.7,781.9 L1526.2,781.9 L1526.7,782.0 L1527.2,782.0 L1527.7,782.0 L1528.2,782.1 L1528.6,782.1 L1529.1,782.1 L1529.6,782.2 L1530.1,782.2 L1530.6,782.2 L1531.1,782.3 L1531.6,782.3 L1532.1,782.3 L1532.6,782.4 L1533.1,782.4 L1533.6,782.4 L1534.1,782.5 L1534.6,782.5 L1535.1,782.5 L1535.6,782.5 L1536.1,782.6 L1536.6,782.6 L1537.1,782.6 L1537.6,782.7 L1538.1,782.7 L1538.6,782.7 L1539.1,782.8 L1539.6,782.8 L1540.1,782.8 L1540.6,782.8 L1541.1,782.9 L1541.6,782.9 L1542.1,782.9 L1542.6,783.0 L1543.1,783.0 L1543.5,783.0 L1544.0,783.0 L1544.5,783.1 L1545.0,783.1 L1545.5,783.1 L1546.0,783.2 L1546.5,783.2 L1547.0,783.2 L1547.5,783.3 L1548.0,783.3 L1548.5,783.3 L1549.0,783.4 L1549.5,783.4 L1550.0,783.4 L1550.5,783.5 L1551.0,783.5 L1551.5,783.5 L1552.0,783.6 L1552.5,783.6 L1553.0,783.6 L1553.5,783.7 L1554.0,783.7 L1554.5,783.7 L1555.0,783.8 L1555.5,783.8 L1556.0,783.8 L1556.5,783.9 L1557.0,783.9 L1557.5,783.9 L1557.9,784.0 L1558.4,784.0 L1558.9,784.0 L1559.4,784.1 L1559.9,784.1 L1560.4,784.2 L1560.9,784.2 L1561.4,784.2 L1561.9,784.3 L1562.4,784.3 L1562.9,784.3 L1563.4,784.4 L1563.9,784.4 L1564.4,784.4 L1564.9,784.5 L1565.4,784.5 L1565.9,784.6 L1566.4,784.6 L1566.9,784.6 L1567.4,784.7 L1567.9,784.7 L1568.4,784.8 L1568.9,784.8 L1569.4,784.8 L1569.9,784.9 L1570.4,784.9 L1570.9,785.0 L1571.4,785.0 L1571.9,785.0 L1572.4,785.1 L1572.8,785.1 L1573.3,785.2 L1573.8,785.2 L1574.3,785.3 L1574.8,785.3 L1575.3,785.4 L1575.8,785.4 L1576.3,785.4 L1576.8,785.5 L1577.3,785.5 L1577.8,785.6 L1578.3,785.6 L1578.8,785.7 L1579.3,785.7 L1579.8,785.8 L1580.3,785.8 L1580.8,785.9 L1581.3,785.9 L1581.8,786.0 L1582.3,786.0 L1582.8,786.1 L1583.3,786.1 L1583.8,786.2 L1584.3,786.2 L1584.8,786.3 L1585.3,786.3 L1585.8,786.4 L1586.3,786.4 L1586.8,786.5 L1587.2,786.6 L1587.7,786.6 L1588.2,786.7 L1588.7,786.7 L1589.2,786.8 L1589.7,786.9 L1590.2,786.9 L1590.7,787.0 L1591.2,787.1 L1591.7,787.1 L1592.2,787.2 L1592.7,787.2 L1593.2,787.3 L1593.7,787.4 L1594.2,787.4 L1594.7,787.5 L1595.2,787.6 L1595.7,787.6 L1596.2,787.7 L1596.7,787.8 L1597.2,787.8 L1597.7,787.9 L1598.2,788.0 L1598.7,788.0 L1599.2,788.1 L1599.7,788.2 L1600.2,788.2 L1600.7,788.3 L1601.2,788.4 L1601.7,788.4 L1602.1,788.5 L1602.6,788.6 L1603.1,788.6 L1603.6,788.7 L1604.1,788.8 L1604.6,788.9 L1605.1,788.9 L1605.6,789.0 L1606.1,789.1 L1606.6,789.2 L1607.1,789.2 L1607.6,789.3 L1608.1,789.4 L1608.6,789.5 L1609.1,789.5 L1609.6,789.6 L1610.1,789.7 L1610.6,789.7 L1611.1,789.8 L1611.6,789.9 L1612.1,790.0 L1612.6,790.0 L1613.1,790.1 L1613.6,790.2 L1614.1,790.2 L1614.6,790.3 L1615.1,790.4 L1615.6,790.4 L1616.1,790.5 L1616.6,790.6 L1617.0,790.6 L1617.5,790.7 L1618.0,790.8 L1618.5,790.8 L1619.0,790.9 L1619.5,790.9 L1620.0,791.0 L1620.5,791.0 L1621.0,791.1 L1621.5,791.1 L1622.0,791.2 L1622.5,791.2 L1623.0,791.3 L1623.5,791.3 L1624.0,791.4 L1624.5,791.4 L1625.0,791.5 L1625.5,791.5 L1626.0,791.5 L1626.5,791.6 L1627.0,791.6 L1627.5,791.7 L1628.0,791.7 L1628.5,791.8 L1629.0,791.8 L1629.5,791.9 L1630.0,791.9 L1630.5,791.9 L1631.0,792.0 L1631.4,792.0 L1631.9,792.1 L1632.4,792.1 L1632.9,792.1 L1633.4,792.2 L1633.9,792.2 L1634.4,792.2 L1634.9,792.3 L1635.4,792.3 L1635.9,792.4 L1636.4,792.4 L1636.9,792.4 L1637.4,792.4 L1637.9,792.5 L1638.4,792.5 L1638.9,792.5 L1639.4,792.6 L1639.9,792.6 L1640.4,792.6 L1640.9,792.6 L1641.4,792.7 L1641.9,792.7 L1642.4,792.7 L1642.9,792.8 L1643.4,792.8 L1643.9,792.8 L1644.4,792.8 L1644.9,792.9 L1645.4,792.9 L1645.9,792.9 L1646.3,792.9 L1646.8,793.0 L1647.3,793.0 L1647.8,793.0 L1648.3,793.0 L1648.8,793.1 L1649.3,793.1 L1649.8,793.1 L1650.3,793.1 L1650.8,793.1 L1651.3,793.2 L1651.8,793.2 L1652.3,793.2 L1652.8,793.2 L1653.3,793.2 L1653.8,793.3 L1654.3,793.3 L1654.8,793.3 L1655.3,793.3 L1655.8,793.3 L1656.3,793.3 L1656.8,793.3 L1657.3,793.4 L1657.8,793.4 L1658.3,793.4 L1658.8,793.4 L1659.3,793.4 L1659.8,793.4 L1660.3,793.4 L1660.7,793.4 L1661.2,793.4 L1661.7,793.4 L1662.2,793.4 L1662.7,793.4 L1663.2,793.4 L1663.7,793.4 L1664.2,793.4 L1664.7,793.4 L1665.2,793.4 L1665.7,793.5 L1666.2,793.5 L1666.7,793.5 L1667.2,793.5 L1667.7,793.5 L1668.2,793.5 L1668.7,793.5 L1669.2,793.5 L1669.7,793.5 L1670.2,793.5 L1670.7,793.5 L1671.2,793.5 L1671.7,793.5 L1672.2,793.5 L1672.7,793.5 L1673.2,793.5 L1673.7,793.5 L1674.2,793.5 L1674.7,793.5 L1675.2,793.5 L1675.6,793.5 L1676.1,793.5 L1676.6,793.5 L1677.1,793.5 L1677.6,793.5 L1678.1,793.5 L1678.6,793.5 L1679.1,793.6 L1679.6,793.6 L1680.1,793.6 L1680.6,793.6 L1681.1,793.6 L1681.6,793.6 L1682.1,793.6 L1682.6,793.6 L1683.1,793.6 L1683.6,793.6 L1684.1,793.6 L1684.6,793.6 L1685.1,793.6 L1685.6,793.6 L1686.1,793.6 L1686.6,793.6 L1687.1,793.6 L1687.6,793.6 L1688.1,793.6 L1688.6,793.6 L1689.1,793.6 L1689.6,793.6 L1690.1,793.6 L1690.5,793.6 L1691.0,793.6 L1691.5,793.6 L1692.0,793.6 L1692.5,793.6 L1693.0,793.6 L1693.5,793.6 L1694.0,793.6 L1694.5,793.6 L1695.0,793.6 L1695.5,793.6 L1696.0,793.6 L1696.5,793.6 L1697.0,793.6 L1697.5,793.6 L1698.0,793.6 L1698.5,793.6 L1699.0,793.7 L1699.5,793.7 L1700.0,793.7 L1700.5,793.7 L1701.0,793.7 L1701.5,793.7 L1702.0,793.7 L1702.5,793.7 L1703.0,793.7 L1703.5,793.7 L1704.0,793.7 L1704.5,793.7 L1704.9,793.7 L1705.4,793.7 L1705.9,793.7 L1706.4,793.7 L1706.9,793.7 L1707.4,793.7 L1707.9,793.7 L1708.4,793.7 L1708.9,793.7 L1709.4,793.7 L1709.9,793.7 L1710.4,793.7 L1710.9,793.7 L1711.4,793.7 L1711.9,793.7 L1712.4,793.7 L1712.9,793.7 L1713.4,793.7 L1713.9,793.7 L1714.4,793.7 L1714.9,793.7 L1715.4,793.7 L1715.9,793.7 L1716.4,793.7 L1716.9,793.7 L1717.4,793.7 L1717.9,793.7 L1718.4,793.7 L1718.9,793.7 L1719.4,793.7 L1719.8,793.7 L1720.3,793.7 L1720.8,793.7 L1721.3,793.7 L1721.8,793.7 L1722.3,793.7 L1722.8,793.7 L1723.3,793.7 L1723.8,793.7 L1724.3,793.7 L1724.8,793.7 L1725.3,793.7 L1725.8,793.7 L1726.3,793.7 L1726.8,793.7" fill="none" stroke="#000" stroke-width="2.0" stroke-linejoin="round" stroke-linecap="round" />
<path d="M1330.0,779.6 L1330.5,779.6 L1331.0,779.6 L1331.5,779.6 L1332.0,779.6 L1332.5,779.6 L1333.0,779.6 L1333.5,779.6 L1334.0,779.6 L1334.5,779.6 L1335.0,779.6 L1335.5,779.6 L1336.0,779.6 L1336.5,779.6 L1337.0,779.6 L1337.4,779.6 L1337.9,779.6 L1338.4,779.6 L1338.9,779.6 L1339.4,779.6 L1339.9,779.6 L1340.4,779.6 L1340.9,779.6 L1341.4,779.6 L1341.9,779.6 L1342.4,779.6 L1342.9,779.6 L1343.4,779.6 L1343.9,779.6 L1344.4,779.6 L1344.9,779.6 L1345.4,779.6 L1345.9,779.6 L1346.4,779.6 L1346.9,779.6 L1347.4,779.6 L1347.9,779.6 L1348.4,779.6 L1348.9,779.6 L1349.4,779.6 L1349.9,779.6 L1350.4,779.6 L1350.9,779.6 L1351.4,779.6 L1351.9,779.6 L1352.3,779.6 L1352.8,779.6 L1353.3,779.6 L1353.8,779.6 L1354.3,779.6 L1354.8,779.6 L1355.3,779.6 L1355.8,779.7 L1356.3,779.7 L1356.8,779.7 L1357.3,779.7 L1357.8,779.7 L1358.3,779.7 L1358.8,779.7 L1359.3,779.7 L1359.8,779.7 L1360.3,779.7 L1360.8,779.7 L1361.3,779.7 L1361.8,779.7 L1362.3,779.7 L1362.8,779.7 L1363.3,779.7 L1363.8,779.7 L1364.3,779.7 L1364.8,779.7 L1365.3,779.7 L1365.8,779.7 L1366.3,779.7 L1366.7,779.7 L1367.2,779.7 L1367.7,779.7 L1368.2,779.7 L1368.7,779.7 L1369.2,779.7 L1369.7,779.7 L1370.2,779.7 L1370.7,779.7 L1371.2,779.7 L1371.7,779.7 L1372.2,779.7 L1372.7,779.7 L1373.2,779.7 L1373.7,779.7 L1374.2,779.7 L1374.7,779.7 L1375.2,779.7 L1375.7,779.7 L1376.2,779.7 L1376.7,779.7 L1377.2,779.7 L1377.7,779.7 L1378.2,779.7 L1378.7,779.7 L1379.2,779.7 L1379.7,779.7 L1380.2,779.7 L1380.7,779.7 L1381.2,779.7 L1381.6,779.7 L1382.1,779.7 L1382.6,779.7 L1383.1,779.7 L1383.6,779.7 L1384.1,779.7 L1384.6,779.7 L1385.1,779.7 L1385.6,779.7 L1386.1,779.8 L1386.6,779.8 L1387.1,779.8 L1387.6,779.8 L1388.1,779.8 L1388.6,779.8 L1389.1,779.8 L1389.6,779.8 L1390.1,779.8 L1390.6,779.8 L1391.1,779.8 L1391.6,779.8 L1392.1,779.8 L1392.6,779.8 L1393.1,779.8 L1393.6,779.8 L1394.1,779.8 L1394.6,779.8 L1395.1,779.8 L1395.6,779.8 L1396.1,779.8 L1396.5,779.8 L1397.0,779.8 L1397.5,779.8 L1398.0,779.8 L1398.5,779.8 L1399.0,779.8 L1399.5,779.8 L1400.0,779.8 L1400.5,779.8 L1401.0,779.8 L1401.5,779.8 L1402.0,779.8 L1402.5,779.8 L1403.0,779.8 L1403.5,779.8 L1404.0,779.8 L1404.5,779.8 L1405.0,779.8 L1405.5,779.8 L1406.0,779.8 L1406.5,779.8 L1407.0,779.8 L1407.5,779.8 L1408.0,779.8 L1408.5,779.8 L1409.0,779.8 L1409.5,779.9 L1410.0,779.9 L1410.5,779.9 L1410.9,779.9 L1411.4,779.9 L1411.9,779.9 L1412.4,779.9 L1412.9,779.9 L1413.4,779.9 L1413.9,779.9 L1414.4,779.9 L1414.9,779.9 L1415.4,779.9 L1415.9,779.9 L1416.4,779.9 L1416.9,779.9 L1417.4,779.9 L1417.9,779.9 L1418.4,779.9 L1418.9,779.9 L1419.4,779.9 L1419.9,779.9 L1420.4,779.9 L1420.9,779.9 L1421.4,779.9 L1421.9,779.9 L1422.4,779.9 L1422.9,779.9 L1423.4,779.8 L1423.9,779.8 L1424.4,779.8 L1424.9,779.8 L1425.4,779.8 L1425.8,779.8 L1426.3,779.8 L1426.8,779.8 L1427.3,779.8 L1427.8,779.7 L1428.3,779.7 L1428.8,779.7 L1429.3,779.7 L1429.8,779.7 L1430.3,779.6 L1430.8,779.6 L1431.3,779.6 L1431.8,779.6 L1432.3,779.6 L1432.8,779.5 L1433.3,779.5 L1433.8,779.5 L1434.3,779.5 L1434.8,779.4 L1435.3,779.4 L1435.8,779.4 L1436.3,779.3 L1436.8,779.3 L1437.3,779.3 L1437.8,779.2 L1438.3,779.2 L1438.8,779.2 L1439.3,779.1 L1439.8,779.1 L1440.2,779.0 L1440.7,779.0 L1441.2,778.9 L1441.7,778.9 L1442.2,778.8 L1442.7,778.8 L1443.2,778.7 L1443.7,778.7 L1444.2,778.6 L1444.7,778.5 L1445.2,778.5 L1445.7,778.4 L1446.2,778.3 L1446.7,778.3 L1447.2,778.2 L1447.7,778.1 L1448.2,778.0 L1448.7,778.0 L1449.2,777.9 L1449.7,777.8 L1450.2,777.7 L1450.7,777.6 L1451.2,777.5 L1451.7,777.4 L1452.2,777.3 L1452.7,777.1 L1453.2,777.0 L1453.7,776.9 L1454.2,776.8 L1454.7,776.6 L1455.1,776.5 L1455.6,776.4 L1456.1,776.2 L1456.6,776.1 L1457.1,775.9 L1457.6,775.7 L1458.1,775.6 L1458.6,775.4 L1459.1,775.2 L1459.6,775.0 L1460.1,774.9 L1460.6,774.7 L1461.1,774.5 L1461.6,774.3 L1462.1,774.1 L1462.6,773.9 L1463.1,773.7 L1463.6,773.4 L1464.1,773.2 L1464.6,773.0 L1465.1,772.8 L1465.6,772.5 L1466.1,772.3 L1466.6,772.1 L1467.1,771.8 L1467.6,771.6 L1468.1,771.3 L1468.6,771.1 L1469.1,770.8 L1469.6,770.6 L1470.0,770.3 L1470.5,770.1 L1471.0,769.8 L1471.5,769.6 L1472.0,769.3 L1472.5,769.0 L1473.0,768.8 L1473.5,768.5 L1474.0,768.3 L1474.5,768.0 L1475.0,767.8 L1475.5,767.5 L1476.0,767.3 L1476.5,767.0 L1477.0,766.8 L1477.5,766.6 L1478.0,766.3 L1478.5,766.1 L1479.0,765.9 L1479.5,765.7 L1480.0,765.5 L1480.5,765.3 L1481.0,765.1 L1481.5,764.9 L1482.0,764.7 L1482.5,764.5 L1483.0,764.3 L1483.5,764.2 L1484.0,764.0 L1484.4,763.9 L1484.9,763.8 L1485.4,763.6 L1485.9,763.5 L1486.4,763.4 L1486.9,763.3 L1487.4,763.3 L1487.9,763.2 L1488.4,763.1 L1488.9,763.1 L1489.4,763.1 L1489.9,763.0 L1490.4,763.0 L1490.9,763.0 L1491.4,763.0 L1491.9,763.0 L1492.4,763.1 L1492.9,763.1 L1493.4,763.2 L1493.9,763.2 L1494.4,763.3 L1494.9,763.4 L1495.4,763.5 L1495.9,763.6 L1496.4,763.7 L1496.9,763.9 L1497.4,764.0 L1497.9,764.1 L1498.4,764.3 L1498.9,764.5 L1499.3,764.6 L1499.8,764.8 L1500.3,765.0 L1500.8,765.2 L1501.3,765.4 L1501.8,765.7 L1502.3,765.9 L1502.8,766.1 L1503.3,766.4 L1503.8,766.6 L1504.3,766.9 L1504.8,767.1 L1505.3,767.4 L1505.8,767.7 L1506.3,768.0 L1506.8,768.2 L1507.3,768.5 L1507.8,768.8 L1508.3,769.1 L1508.8,769.4 L1509.3,769.7 L1509.8,770.0 L1510.3,770.3 L1510.8,770.6 L1511.3,770.9 L1511.8,771.2 L1512.3,771.5 L1512.8,771.8 L1513.3,772.1 L1513.7,772.4 L1514.2,772.6 L1514.7,772.9 L1515.2,773.2 L1515.7,773.5 L1516.2,773.8 L1516.7,774.1 L1517.2,774.3 L1517.7,774.6 L1518.2,774.9 L1518.7,775.1 L1519.2,775.4 L1519.7,775.7 L1520.2,775.9 L1520.7,776.2 L1521.2,776.4 L1521.7,776.6 L1522.2,776.9 L1522.7,777.1 L1523.2,777.3 L1523.7,777.5 L1524.2,777.7 L1524.7,778.0 L1525.2,778.2 L1525.7,778.4 L1526.2,778.5 L1526.7,778.7 L1527.2,778.9 L1527.7,779.1 L1528.2,779.3 L1528.6,779.4 L1529.1,779.6 L1529.6,779.8 L1530.1,779.9 L1530.6,780.1 L1531.1,780.2 L1531.6,780.3 L1532.1,780.5 L1532.6,780.6 L1533.1,780.7 L1533.6,780.9 L1534.1,781.0 L1534.6,781.1 L1535.1,781.2 L1535.6,781.3 L1536.1,781.4 L1536.6,781.5 L1537.1,781.6 L1537.6,781.7 L1538.1,781.8 L1538.6,781.9 L1539.1,781.9 L1539.6,782.0 L1540.1,782.1 L1540.6,782.2 L1541.1,782.2 L1541.6,782.3 L1542.1,782.4 L1542.6,782.4 L1543.1,782.5 L1543.5,782.6 L1544.0,782.6 L1544.5,782.7 L1545.0,782.7 L1545.5,782.8 L1546.0,782.9 L1546.5,782.9 L1547.0,783.0 L1547.5,783.0 L1548.0,783.1 L1548.5,783.1 L1549.0,783.2 L1549.5,783.2 L1550.0,783.3 L1550.5,783.3 L1551.0,783.3 L1551.5,783.4 L1552.0,783.4 L1552.5,783.5 L1553.0,783.5 L1553.5,783.6 L1554.0,783.6 L1554.5,783.6 L1555.0,783.7 L1555.5,783.7 L1556.0,783.8 L1556.5,783.8 L1557.0,783.8 L1557.5,783.9 L1557.9,783.9 L1558.4,784.0 L1558.9,784.0 L1559.4,784.0 L1559.9,784.1 L1560.4,784.1 L1560.9,784.2 L1561.4,784.2 L1561.9,784.2 L1562.4,784.3 L1562.9,784.3 L1563.4,784.4 L1563.9,784.4 L1564.4,784.4 L1564.9,784.5 L1565.4,784.5 L1565.9,784.6 L1566.4,784.6 L1566.9,784.6 L1567.4,784.7 L1567.9,784.7 L1568.4,784.8 L1568.9,784.8 L1569.4,784.8 L1569.9,784.9 L1570.4,784.9 L1570.9,785.0 L1571.4,785.0 L1571.9,785.0 L1572.4,785.1 L1572.8,785.1 L1573.3,785.2 L1573.8,785.2 L1574.3,785.3 L1574.8,785.3 L1575.3,785.3 L1575.8,785.4 L1576.3,785.4 L1576.8,785.5 L1577.3,785.5 L1577.8,785.6 L1578.3,785.6 L1578.8,785.7 L1579.3,785.7 L1579.8,785.8 L1580.3,785.8 L1580.8,785.9 L1581.3,785.9 L1581.8,786.0 L1582.3,786.0 L1582.8,786.1 L1583.3,786.1 L1583.8,786.2 L1584.3,786.2 L1584.8,786.3 L1585.3,786.3 L1585.8,786.4 L1586.3,786.4 L1586.8,786.5 L1587.2,786.6 L1587.7,786.6 L1588.2,786.7 L1588.7,786.7 L1589.2,786.8 L1589.7,786.9 L1590.2,786.9 L1590.7,787.0 L1591.2,787.1 L1591.7,787.1 L1592.2,787.2 L1592.7,787.2 L1593.2,787.3 L1593.7,787.4 L1594.2,787.4 L1594.7,787.5 L1595.2,787.6 L1595.7,787.6 L1596.2,787.7 L1596.7,787.8 L1597.2,787.8 L1597.7,787.9 L1598.2,788.0 L1598.7,788.0 L1599.2,788.1 L1599.7,788.2 L1600.2,788.2 L1600.7,788.3 L1601.2,788.4 L1601.7,788.4 L1602.1,788.5 L1602.6,788.6 L1603.1,788.6 L1603.6,788.7 L1604.1,788.8 L1604.6,788.9 L1605.1,788.9 L1605.6,789.0 L1606.1,789.1 L1606.6,789.2 L1607.1,789.2 L1607.6,789.3 L1608.1,789.4 L1608.6,789.5 L1609.1,789.5 L1609.6,789.6 L1610.1,789.7 L1610.6,789.7 L1611.1,789.8 L1611.6,789.9 L1612.1,790.0 L1612.6,790.0 L1613.1,790.1 L1613.6,790.2 L1614.1,790.2 L1614.6,790.3 L1615.1,790.4 L1615.6,790.4 L1616.1,790.5 L1616.6,790.6 L1617.0,790.6 L1617.5,790.7 L1618.0,790.8 L1618.5,790.8 L1619.0,790.9 L1619.5,790.9 L1620.0,791.0 L1620.5,791.0 L1621.0,791.1 L1621.5,791.1 L1622.0,791.2 L1622.5,791.2 L1623.0,791.3 L1623.5,791.3 L1624.0,791.4 L1624.5,791.4 L1625.0,791.5 L1625.5,791.5 L1626.0,791.5 L1626.5,791.6 L1627.0,791.6 L1627.5,791.7 L1628.0,791.7 L1628.5,791.8 L1629.0,791.8 L1629.5,791.9 L1630.0,791.9 L1630.5,791.9 L1631.0,792.0 L1631.4,792.0 L1631.9,792.1 L1632.4,792.1 L1632.9,792.1 L1633.4,792.2 L1633.9,792.2 L1634.4,792.2 L1634.9,792.3 L1635.4,792.3 L1635.9,792.4 L1636.4,792.4 L1636.9,792.4 L1637.4,792.4 L1637.9,792.5 L1638.4,792.5 L1638.9,792.5 L1639.4,792.6 L1639.9,792.6 L1640.4,792.6 L1640.9,792.6 L1641.4,792.7 L1641.9,792.7 L1642.4,792.7 L1642.9,792.8 L1643.4,792.8 L1643.9,792.8 L1644.4,792.8 L1644.9,792.9 L1645.4,792.9 L1645.9,792.9 L1646.3,792.9 L1646.8,793.0 L1647.3,793.0 L1647.8,793.0 L1648.3,793.0 L1648.8,793.1 L1649.3,793.1 L1649.8,793.1 L1650.3,793.1 L1650.8,793.1 L1651.3,793.2 L1651.8,793.2 L1652.3,793.2 L1652.8,793.2 L1653.3,793.2 L1653.8,793.3 L1654.3,793.3 L1654.8,793.3 L1655.3,793.3 L1655.8,793.3 L1656.3,793.3 L1656.8,793.3 L1657.3,793.4 L1657.8,793.4 L1658.3,793.4 L1658.8,793.4 L1659.3,793.4 L1659.8,793.4 L1660.3,793.4 L1660.7,793.4 L1661.2,793.4 L1661.7,793.4 L1662.2,793.4 L1662.7,793.4 L1663.2,793.4 L1663.7,793.4 L1664.2,793.4 L1664.7,793.4 L1665.2,793.4 L1665.7,793.5 L1666.2,793.5 L1666.7,793.5 L1667.2,793.5 L1667.7,793.5 L1668.2,793.5 L1668.7,793.5 L1669.2,793.5 L1669.7,793.5 L1670.2,793.5 L1670.7,793.5 L1671.2,793.5 L1671.7,793.5 L1672.2,793.5 L1672.7,793.5 L1673.2,793.5 L1673.7,793.5 L1674.2,793.5 L1674.7,793.5 L1675.2,793.5 L1675.6,793.5 L1676.1,793.5 L1676.6,793.5 L1677.1,793.5 L1677.6,793.5 L1678.1,793.5 L1678.6,793.5 L1679.1,793.6 L1679.6,793.6 L1680.1,793.6 L1680.6,793.6 L1681.1,793.6 L1681.6,793.6 L1682.1,793.6 L1682.6,793.6 L1683.1,793.6 L1683.6,793.6 L1684.1,793.6 L1684.6,793.6 L1685.1,793.6 L1685.6,793.6 L1686.1,793.6 L1686.6,793.6 L1687.1,793.6 L1687.6,793.6 L1688.1,793.6 L1688.6,793.6 L1689.1,793.6 L1689.6,793.6 L1690.1,793.6 L1690.5,793.6 L1691.0,793.6 L1691.5,793.6 L1692.0,793.6 L1692.5,793.6 L1693.0,793.6 L1693.5,793.6 L1694.0,793.6 L1694.5,793.6 L1695.0,793.6 L1695.5,793.6 L1696.0,793.6 L1696.5,793.6 L1697.0,793.6 L1697.5,793.6 L1698.0,793.6 L1698.5,793.6 L1699.0,793.7 L1699.5,793.7 L1700.0,793.7 L1700.5,793.7 L1701.0,793.7 L1701.5,793.7 L1702.0,793.7 L1702.5,793.7 L1703.0,793.7 L1703.5,793.7 L1704.0,793.7 L1704.5,793.7 L1704.9,793.7 L1705.4,793.7 L1705.9,793.7 L1706.4,793.7 L1706.9,793.7 L1707.4,793.7 L1707.9,793.7 L1708.4,793.7 L1708.9,793.7 L1709.4,793.7 L1709.9,793.7 L1710.4,793.7 L1710.9,793.7 L1711.4,793.7 L1711.9,793.7 L1712.4,793.7 L1712.9,793.7 L1713.4,793.7 L1713.9,793.7 L1714.4,793.7 L1714.9,793.7 L1715.4,793.7 L1715.9,793.7 L1716.4,793.7 L1716.9,793.7 L1717.4,793.7 L1717.9,793.7 L1718.4,793.7 L1718.9,793.7 L1719.4,793.7 L1719.8,793.7 L1720.3,793.7 L1720.8,793.7 L1721.3,793.7 L1721.8,793.7 L1722.3,793.7 L1722.8,793.7 L1723.3,793.7 L1723.8,793.7 L1724.3,793.7 L1724.8,793.7 L1725.3,793.7 L1725.8,793.7 L1726.3,793.7 L1726.8,793.7" fill="none" stroke="#000" stroke-width="2.0" stroke-linejoin="round" stroke-linecap="round" />
<path d="M1330.0,778.4 L1330.5,778.4 L1331.0,778.4 L1331.5,778.4 L1332.0,778.4 L1332.5,778.4 L1333.0,778.4 L1333.5,778.4 L1334.0,778.4 L1334.5,778.4 L1335.0,778.4 L1335.5,778.4 L1336.0,778.4 L1336.5,778.3 L1337.0,778.3 L1337.4,778.3 L1337.9,778.3 L1338.4,778.3 L1338.9,778.3 L1339.4,778.3 L1339.9,778.3 L1340.4,778.3 L1340.9,778.3 L1341.4,778.3 L1341.9,778.3 L1342.4,778.3 L1342.9,778.3 L1343.4,778.3 L1343.9,778.3 L1344.4,778.3 L1344.9,778.3 L1345.4,778.3 L1345.9,778.3 L1346.4,778.3 L1346.9,778.3 L1347.4,778.3 L1347.9,778.3 L1348.4,778.2 L1348.9,778.2 L1349.4,778.2 L1349.9,778.2 L1350.4,778.2 L1350.9,778.2 L1351.4,778.2 L1351.9,778.2 L1352.3,778.2 L1352.8,778.2 L1353.3,778.2 L1353.8,778.2 L1354.3,778.2 L1354.8,778.2 L1355.3,778.2 L1355.8,778.2 L1356.3,778.2 L1356.8,778.2 L1357.3,778.2 L1357.8,778.2 L1358.3,778.1 L1358.8,778.1 L1359.3,778.1 L1359.8,778.1 L1360.3,778.1 L1360.8,778.1 L1361.3,778.1 L1361.8,778.1 L1362.3,778.1 L1362.8,778.1 L1363.3,778.1 L1363.8,778.1 L1364.3,778.1 L1364.8,778.1 L1365.3,778.1 L1365.8,778.1 L1366.3,778.1 L1366.7,778.1 L1367.2,778.0 L1367.7,778.0 L1368.2,778.0 L1368.7,778.0 L1369.2,778.0 L1369.7,778.0 L1370.2,778.0 L1370.7,778.0 L1371.2,778.0 L1371.7,778.0 L1372.2,778.0 L1372.7,778.0 L1373.2,778.0 L1373.7,778.0 L1374.2,778.0 L1374.7,777.9 L1375.2,777.9 L1375.7,777.9 L1376.2,777.9 L1376.7,777.9 L1377.2,777.9 L1377.7,777.9 L1378.2,777.9 L1378.7,777.9 L1379.2,777.9 L1379.7,777.9 L1380.2,777.9 L1380.7,777.9 L1381.2,777.8 L1381.6,777.8 L1382.1,777.8 L1382.6,777.8 L1383.1,777.8 L1383.6,777.8 L1384.1,777.8 L1384.6,777.8 L1385.1,777.8 L1385.6,777.8 L1386.1,777.8 L1386.6,777.8 L1387.1,777.7 L1387.6,777.7 L1388.1,777.7 L1388.6,777.7 L1389.1,777.7 L1389.6,777.7 L1390.1,777.7 L1390.6,777.7 L1391.1,777.7 L1391.6,777.7 L1392.1,777.7 L1392.6,777.6 L1393.1,777.6 L1393.6,777.6 L1394.1,777.6 L1394.6,777.6 L1395.1,777.6 L1395.6,777.6 L1396.1,777.6 L1396.5,777.6 L1397.0,777.6 L1397.5,777.5 L1398.0,777.5 L1398.5,777.5 L1399.0,777.5 L1399.5,777.5 L1400.0,777.5 L1400.5,777.5 L1401.0,777.5 L1401.5,777.5 L1402.0,777.4 L1402.5,777.4 L1403.0,777.4 L1403.5,777.4 L1404.0,777.4 L1404.5,777.4 L1405.0,777.4 L1405.5,777.4 L1406.0,777.4 L1406.5,777.3 L1407.0,777.3 L1407.5,777.3 L1408.0,777.3 L1408.5,777.3 L1409.0,777.3 L1409.5,777.3 L1410.0,777.3 L1410.5,777.2 L1410.9,777.2 L1411.4,777.2 L1411.9,777.2 L1412.4,777.2 L1412.9,777.2 L1413.4,777.2 L1413.9,777.2 L1414.4,777.1 L1414.9,777.1 L1415.4,777.1 L1415.9,777.1 L1416.4,777.1 L1416.9,777.1 L1417.4,777.1 L1417.9,777.0 L1418.4,777.0 L1418.9,777.0 L1419.4,777.0 L1419.9,777.0 L1420.4,776.9 L1420.9,776.9 L1421.4,776.9 L1421.9,776.9 L1422.4,776.9 L1422.9,776.8 L1423.4,776.8 L1423.9,776.8 L1424.4,776.8 L1424.9,776.7 L1425.4,776.7 L1425.8,776.7 L1426.3,776.7 L1426.8,776.6 L1427.3,776.6 L1427.8,776.6 L1428.3,776.5 L1428.8,776.5 L1429.3,776.5 L1429.8,776.4 L1430.3,776.4 L1430.8,776.4 L1431.3,776.3 L1431.8,776.3 L1432.3,776.3 L1432.8,776.2 L1433.3,776.2 L1433.8,776.2 L1434.3,776.1 L1434.8,776.1 L1435.3,776.1 L1435.8,776.0 L1436.3,776.0 L1436.8,775.9 L1437.3,775.9 L1437.8,775.9 L1438.3,775.8 L1438.8,775.8 L1439.3,775.8 L1439.8,775.7 L1440.2,775.7 L1440.7,775.7 L1441.2,775.6 L1441.7,775.6 L1442.2,775.5 L1442.7,775.5 L1443.2,775.5 L1443.7,775.4 L1444.2,775.4 L1444.7,775.4 L1445.2,775.3 L1445.7,775.3 L1446.2,775.3 L1446.7,775.2 L1447.2,775.2 L1447.7,775.2 L1448.2,775.1 L1448.7,775.1 L1449.2,775.1 L1449.7,775.0 L1450.2,775.0 L1450.7,775.0 L1451.2,774.9 L1451.7,774.9 L1452.2,774.9 L1452.7,774.8 L1453.2,774.8 L1453.7,774.8 L1454.2,774.7 L1454.7,774.7 L1455.1,774.7 L1455.6,774.6 L1456.1,774.6 L1456.6,774.5 L1457.1,774.5 L1457.6,774.5 L1458.1,774.4 L1458.6,774.4 L1459.1,774.4 L1459.6,774.3 L1460.1,774.3 L1460.6,774.2 L1461.1,774.2 L1461.6,774.2 L1462.1,774.1 L1462.6,774.1 L1463.1,774.0 L1463.6,774.0 L1464.1,774.0 L1464.6,773.9 L1465.1,773.9 L1465.6,773.8 L1466.1,773.8 L1466.6,773.7 L1467.1,773.7 L1467.6,773.6 L1468.1,773.6 L1468.6,773.6 L1469.1,773.5 L1469.6,773.5 L1470.0,773.4 L1470.5,773.4 L1471.0,773.3 L1471.5,773.3 L1472.0,773.2 L1472.5,773.1 L1473.0,773.1 L1473.5,773.0 L1474.0,773.0 L1474.5,772.9 L1475.0,772.9 L1475.5,772.8 L1476.0,772.7 L1476.5,772.7 L1477.0,772.6 L1477.5,772.5 L1478.0,772.5 L1478.5,772.4 L1479.0,772.3 L1479.5,772.3 L1480.0,772.2 L1480.5,772.1 L1481.0,772.1 L1481.5,772.0 L1482.0,771.9 L1482.5,771.8 L1483.0,771.8 L1483.5,771.7 L1484.0,771.6 L1484.4,771.5 L1484.9,771.5 L1485.4,771.4 L1485.9,771.3 L1486.4,771.2 L1486.9,771.1 L1487.4,771.0 L1487.9,770.9 L1488.4,770.9 L1488.9,770.8 L1489.4,770.7 L1489.9,770.6 L1490.4,770.5 L1490.9,770.4 L1491.4,770.3 L1491.9,770.2 L1492.4,770.1 L1492.9,770.0 L1493.4,769.9 L1493.9,769.8 L1494.4,769.7 L1494.9,769.5 L1495.4,769.4 L1495.9,769.3 L1496.4,769.2 L1496.9,769.1 L1497.4,769.0 L1497.9,768.8 L1498.4,768.7 L1498.9,768.6 L1499.3,768.5 L1499.8,768.3 L1500.3,768.2 L1500.8,768.1 L1501.3,767.9 L1501.8,767.8 L1502.3,767.6 L1502.8,767.5 L1503.3,767.4 L1503.8,767.2 L1504.3,767.1 L1504.8,766.9 L1505.3,766.8 L1505.8,766.6 L1506.3,766.4 L1506.8,766.3 L1507.3,766.1 L1507.8,766.0 L1508.3,765.8 L1508.8,765.6 L1509.3,765.4 L1509.8,765.3 L1510.3,765.1 L1510.8,764.9 L1511.3,764.7 L1511.8,764.5 L1512.3,764.3 L1512.8,764.1 L1513.3,763.9 L1513.7,763.7 L1514.2,763.4 L1514.7,763.2 L1515.2,763.0 L1515.7,762.7 L1516.2,762.5 L1516.7,762.2 L1517.2,762.0 L1517.7,761.7 L1518.2,761.4 L1518.7,761.2 L1519.2,760.9 L1519.7,760.6 L1520.2,760.3 L1520.7,760.0 L1521.2,759.7 L1521.7,759.4 L1522.2,759.0 L1522.7,758.7 L1523.2,758.3 L1523.7,758.0 L1524.2,757.6 L1524.7,757.3 L1525.2,756.9 L1525.7,756.5 L1526.2,756.1 L1526.7,755.7 L1527.2,755.3 L1527.7,754.8 L1528.2,754.4 L1528.6,753.9 L1529.1,753.4 L1529.6,753.0 L1530.1,752.5 L1530.6,752.0 L1531.1,751.4 L1531.6,750.9 L1532.1,750.3 L1532.6,749.8 L1533.1,749.2 L1533.6,748.6 L1534.1,748.0 L1534.6,747.4 L1535.1,746.7 L1535.6,746.0 L1536.1,745.4 L1536.6,744.7 L1537.1,743.9 L1537.6,743.2 L1538.1,742.4 L1538.6,741.6 L1539.1,740.8 L1539.6,740.0 L1540.1,739.2 L1540.6,738.3 L1541.1,737.4 L1541.6,736.5 L1542.1,735.6 L1542.6,734.6 L1543.1,733.6 L1543.5,732.6 L1544.0,731.6 L1544.5,730.5 L1545.0,729.4 L1545.5,728.3 L1546.0,727.1 L1546.5,725.9 L1547.0,724.7 L1547.5,723.5 L1548.0,722.2 L1548.5,720.9 L1549.0,719.6 L1549.5,718.2 L1550.0,716.8 L1550.5,715.4 L1551.0,713.9 L1551.5,712.4 L1552.0,710.9 L1552.5,709.4 L1553.0,707.8 L1553.5,706.2 L1554.0,704.5 L1554.5,702.9 L1555.0,701.2 L1555.5,699.5 L1556.0,697.7 L1556.5,696.0 L1557.0,694.2 L1557.5,692.4 L1557.9,690.5 L1558.4,688.7 L1558.9,686.9 L1559.4,685.0 L1559.9,683.2 L1560.4,681.3 L1560.9,679.5 L1561.4,677.6 L1561.9,675.8 L1562.4,674.0 L1562.9,672.2 L1563.4,670.5 L1563.9,668.8 L1564.4,667.1 L1564.9,665.5 L1565.4,663.9 L1565.9,662.4 L1566.4,661.0 L1566.9,659.6 L1567.4,658.3 L1567.9,657.1 L1568.4,656.0 L1568.9,655.0 L1569.4,654.1 L1569.9,653.3 L1570.4,652.6 L1570.9,652.1 L1571.4,651.6 L1571.9,651.3 L1572.4,651.1 L1572.8,651.0 L1573.3,651.1 L1573.8,651.3 L1574.3,651.7 L1574.8,652.3 L1575.3,653.1 L1575.8,654.1 L1576.3,655.2 L1576.8,656.6 L1577.3,658.0 L1577.8,659.7 L1578.3,661.4 L1578.8,663.3 L1579.3,665.4 L1579.8,667.6 L1580.3,669.8 L1580.8,672.2 L1581.3,674.7 L1581.8,677.3 L1582.3,679.9 L1582.8,682.7 L1583.3,685.4 L1583.8,688.3 L1584.3,691.1 L1584.8,694.0 L1585.3,697.0 L1585.8,699.9 L1586.3,702.9 L1586.8,705.8 L1587.2,708.8 L1587.7,711.7 L1588.2,714.6 L1588.7,717.5 L1589.2,720.3 L1589.7,723.2 L1590.2,725.9 L1590.7,728.7 L1591.2,731.3 L1591.7,733.9 L1592.2,736.5 L1592.7,739.0 L1593.2,741.4 L1593.7,743.7 L1594.2,746.0 L1594.7,748.2 L1595.2,750.4 L1595.7,752.4 L1596.2,754.4 L1596.7,756.3 L1597.2,758.2 L1597.7,759.9 L1598.2,761.6 L1598.7,763.2 L1599.2,764.8 L1599.7,766.2 L1600.2,767.6 L1600.7,769.0 L1601.2,770.2 L1601.7,771.4 L1602.1,772.6 L1602.6,773.7 L1603.1,774.7 L1603.6,775.7 L1604.1,776.6 L1604.6,777.4 L1605.1,778.3 L1605.6,779.0 L1606.1,779.8 L1606.6,780.4 L1607.1,781.1 L1607.6,781.7 L1608.1,782.2 L1608.6,782.8 L1609.1,783.3 L1609.6,783.7 L1610.1,784.2 L1610.6,784.6 L1611.1,785.0 L1611.6,785.3 L1612.1,785.7 L1612.6,786.0 L1613.1,786.3 L1613.6,786.6 L1614.1,786.8 L1614.6,787.1 L1615.1,787.3 L1615.6,787.5 L1616.1,787.7 L1616.6,787.9 L1617.0,788.1 L1617.5,788.3 L1618.0,788.4 L1618.5,788.6 L1619.0,788.7 L1619.5,788.8 L1620.0,789.0 L1620.5,789.1 L1621.0,789.2 L1621.5,789.3 L1622.0,789.4 L1622.5,789.5 L1623.0,789.6 L1623.5,789.7 L1624.0,789.8 L1624.5,789.9 L1625.0,790.0 L1625.5,790.1 L1626.0,790.1 L1626.5,790.2 L1627.0,790.3 L1627.5,790.4 L1628.0,790.4 L1628.5,790.5 L1629.0,790.6 L1629.5,790.6 L1630.0,790.7 L1630.5,790.8 L1631.0,790.8 L1631.4,790.9 L1631.9,790.9 L1632.4,791.0 L1632.9,791.1 L1633.4,791.1 L1633.9,791.2 L1634.4,791.2 L1634.9,791.3 L1635.4,791.3 L1635.9,791.4 L1636.4,791.4 L1636.9,791.5 L1637.4,791.5 L1637.9,791.5 L1638.4,791.6 L1638.9,791.6 L1639.4,791.7 L1639.9,791.7 L1640.4,791.8 L1640.9,791.8 L1641.4,791.8 L1641.9,791.9 L1642.4,791.9 L1642.9,791.9 L1643.4,792.0 L1643.9,792.0 L1644.4,792.1 L1644.9,792.1 L1645.4,792.1 L1645.9,792.2 L1646.3,792.2 L1646.8,792.2 L1647.3,792.3 L1647.8,792.3 L1648.3,792.3 L1648.8,792.4 L1649.3,792.4 L1649.8,792.4 L1650.3,792.5 L1650.8,792.5 L1651.3,792.5 L1651.8,792.5 L1652.3,792.6 L1652.8,792.6 L1653.3,792.6 L1653.8,792.6 L1654.3,792.7 L1654.8,792.7 L1655.3,792.7 L1655.8,792.7 L1656.3,792.8 L1656.8,792.8 L1657.3,792.8 L1657.8,792.8 L1658.3,792.8 L1658.8,792.8 L1659.3,792.9 L1659.8,792.9 L1660.3,792.9 L1660.7,792.9 L1661.2,792.9 L1661.7,792.9 L1662.2,792.9 L1662.7,792.9 L1663.2,792.9 L1663.7,792.9 L1664.2,793.0 L1664.7,793.0 L1665.2,793.0 L1665.7,793.0 L1666.2,793.0 L1666.7,793.0 L1667.2,793.0 L1667.7,793.0 L1668.2,793.0 L1668.7,793.0 L1669.2,793.0 L1669.7,793.1 L1670.2,793.1 L1670.7,793.1 L1671.2,793.1 L1671.7,793.1 L1672.2,793.1 L1672.7,793.1 L1673.2,793.1 L1673.7,793.1 L1674.2,793.1 L1674.7,793.1 L1675.2,793.1 L1675.6,793.1 L1676.1,793.2 L1676.6,793.2 L1677.1,793.2 L1677.6,793.2 L1678.1,793.2 L1678.6,793.2 L1679.1,793.2 L1679.6,793.2 L1680.1,793.2 L1680.6,793.2 L1681.1,793.2 L1681.6,793.2 L1682.1,793.2 L1682.6,793.2 L1683.1,793.2 L1683.6,793.2 L1684.1,793.3 L1684.6,793.3 L1685.1,793.3 L1685.6,793.3 L1686.1,793.3 L1686.6,793.3 L1687.1,793.3 L1687.6,793.3 L1688.1,793.3 L1688.6,793.3 L1689.1,793.3 L1689.6,793.3 L1690.1,793.3 L1690.5,793.3 L1691.0,793.3 L1691.5,793.3 L1692.0,793.3 L1692.5,793.3 L1693.0,793.3 L1693.5,793.3 L1694.0,793.4 L1694.5,793.4 L1695.0,793.4 L1695.5,793.4 L1696.0,793.4 L1696.5,793.4 L1697.0,793.4 L1697.5,793.4 L1698.0,793.4 L1698.5,793.4 L1699.0,793.4 L1699.5,793.4 L1700.0,793.4 L1700.5,793.4 L1701.0,793.4 L1701.5,793.4 L1702.0,793.4 L1702.5,793.4 L1703.0,793.4 L1703.5,793.4 L1704.0,793.4 L1704.5,793.4 L1704.9,793.4 L1705.4,793.4 L1705.9,793.4 L1706.4,793.4 L1706.9,793.4 L1707.4,793.5 L1707.9,793.5 L1708.4,793.5 L1708.9,793.5 L1709.4,793.5 L1709.9,793.5 L1710.4,793.5 L1710.9,793.5 L1711.4,793.5 L1711.9,793.5 L1712.4,793.5 L1712.9,793.5 L1713.4,793.5 L1713.9,793.5 L1714.4,793.5 L1714.9,793.5 L1715.4,793.5 L1715.9,793.5 L1716.4,793.5 L1716.9,793.5 L1717.4,793.5 L1717.9,793.5 L1718.4,793.5 L1718.9,793.5 L1719.4,793.5 L1719.8,793.5 L1720.3,793.5 L1720.8,793.5 L1721.3,793.5 L1721.8,793.5 L1722.3,793.5 L1722.8,793.5 L1723.3,793.5 L1723.8,793.5 L1724.3,793.5 L1724.8,793.5 L1725.3,793.5 L1725.8,793.5 L1726.3,793.5 L1726.8,793.5" fill="none" stroke="#1a1aee" stroke-width="2.4" stroke-linejoin="round" stroke-linecap="round" />
<path d="M1330.0,778.2 L1330.5,778.2 L1331.0,778.2 L1331.5,778.2 L1332.0,778.2 L1332.5,778.2 L1333.0,778.2 L1333.5,778.2 L1334.0,778.2 L1334.5,778.2 L1335.0,778.2 L1335.5,778.2 L1336.0,778.2 L1336.5,778.2 L1337.0,778.1 L1337.4,778.1 L1337.9,778.1 L1338.4,778.1 L1338.9,778.1 L1339.4,778.1 L1339.9,778.1 L1340.4,778.1 L1340.9,778.1 L1341.4,778.1 L1341.9,778.1 L1342.4,778.1 L1342.9,778.1 L1343.4,778.1 L1343.9,778.1 L1344.4,778.1 L1344.9,778.1 L1345.4,778.1 L1345.9,778.1 L1346.4,778.1 L1346.9,778.1 L1347.4,778.1 L1347.9,778.1 L1348.4,778.1 L1348.9,778.0 L1349.4,778.0 L1349.9,778.0 L1350.4,778.0 L1350.9,778.0 L1351.4,778.0 L1351.9,778.0 L1352.3,778.0 L1352.8,778.0 L1353.3,778.0 L1353.8,778.0 L1354.3,778.0 L1354.8,778.0 L1355.3,778.0 L1355.8,778.0 L1356.3,778.0 L1356.8,778.0 L1357.3,778.0 L1357.8,778.0 L1358.3,778.0 L1358.8,778.0 L1359.3,778.0 L1359.8,777.9 L1360.3,777.9 L1360.8,777.9 L1361.3,777.9 L1361.8,777.9 L1362.3,777.9 L1362.8,777.9 L1363.3,777.9 L1363.8,777.9 L1364.3,777.9 L1364.8,777.9 L1365.3,777.9 L1365.8,777.9 L1366.3,777.9 L1366.7,777.9 L1367.2,777.9 L1367.7,777.9 L1368.2,777.9 L1368.7,777.8 L1369.2,777.8 L1369.7,777.8 L1370.2,777.8 L1370.7,777.8 L1371.2,777.8 L1371.7,777.8 L1372.2,777.8 L1372.7,777.8 L1373.2,777.8 L1373.7,777.8 L1374.2,777.8 L1374.7,777.8 L1375.2,777.8 L1375.7,777.8 L1376.2,777.8 L1376.7,777.8 L1377.2,777.7 L1377.7,777.7 L1378.2,777.7 L1378.7,777.7 L1379.2,777.7 L1379.7,777.7 L1380.2,777.7 L1380.7,777.7 L1381.2,777.7 L1381.6,777.7 L1382.1,777.7 L1382.6,777.7 L1383.1,777.7 L1383.6,777.7 L1384.1,777.6 L1384.6,777.6 L1385.1,777.6 L1385.6,777.6 L1386.1,777.6 L1386.6,777.6 L1387.1,777.6 L1387.6,777.6 L1388.1,777.6 L1388.6,777.6 L1389.1,777.6 L1389.6,777.6 L1390.1,777.6 L1390.6,777.5 L1391.1,777.5 L1391.6,777.5 L1392.1,777.5 L1392.6,777.5 L1393.1,777.5 L1393.6,777.5 L1394.1,777.5 L1394.6,777.5 L1395.1,777.5 L1395.6,777.5 L1396.1,777.5 L1396.5,777.4 L1397.0,777.4 L1397.5,777.4 L1398.0,777.4 L1398.5,777.4 L1399.0,777.4 L1399.5,777.4 L1400.0,777.4 L1400.5,777.4 L1401.0,777.4 L1401.5,777.4 L1402.0,777.3 L1402.5,777.3 L1403.0,777.3 L1403.5,777.3 L1404.0,777.3 L1404.5,777.3 L1405.0,777.3 L1405.5,777.3 L1406.0,777.3 L1406.5,777.3 L1407.0,777.3 L1407.5,777.3 L1408.0,777.2 L1408.5,777.2 L1409.0,777.2 L1409.5,777.2 L1410.0,777.2 L1410.5,777.2 L1410.9,777.2 L1411.4,777.2 L1411.9,777.2 L1412.4,777.2 L1412.9,777.1 L1413.4,777.1 L1413.9,777.1 L1414.4,777.1 L1414.9,777.1 L1415.4,777.1 L1415.9,777.1 L1416.4,777.1 L1416.9,777.1 L1417.4,777.0 L1417.9,777.0 L1418.4,777.0 L1418.9,777.0 L1419.4,777.0 L1419.9,777.0 L1420.4,777.0 L1420.9,776.9 L1421.4,776.9 L1421.9,776.9 L1422.4,776.9 L1422.9,776.9 L1423.4,776.9 L1423.9,776.8 L1424.4,776.8 L1424.9,776.8 L1425.4,776.8 L1425.8,776.7 L1426.3,776.7 L1426.8,776.7 L1427.3,776.7 L1427.8,776.6 L1428.3,776.6 L1428.8,776.6 L1429.3,776.6 L1429.8,776.5 L1430.3,776.5 L1430.8,776.5 L1431.3,776.5 L1431.8,776.4 L1432.3,776.4 L1432.8,776.4 L1433.3,776.3 L1433.8,776.3 L1434.3,776.3 L1434.8,776.3 L1435.3,776.2 L1435.8,776.2 L1436.3,776.2 L1436.8,776.1 L1437.3,776.1 L1437.8,776.1 L1438.3,776.0 L1438.8,776.0 L1439.3,776.0 L1439.8,776.0 L1440.2,775.9 L1440.7,775.9 L1441.2,775.9 L1441.7,775.8 L1442.2,775.8 L1442.7,775.8 L1443.2,775.8 L1443.7,775.7 L1444.2,775.7 L1444.7,775.7 L1445.2,775.7 L1445.7,775.6 L1446.2,775.6 L1446.7,775.6 L1447.2,775.6 L1447.7,775.5 L1448.2,775.5 L1448.7,775.5 L1449.2,775.5 L1449.7,775.4 L1450.2,775.4 L1450.7,775.4 L1451.2,775.4 L1451.7,775.4 L1452.2,775.3 L1452.7,775.3 L1453.2,775.3 L1453.7,775.3 L1454.2,775.2 L1454.7,775.2 L1455.1,775.2 L1455.6,775.2 L1456.1,775.2 L1456.6,775.1 L1457.1,775.1 L1457.6,775.1 L1458.1,775.1 L1458.6,775.0 L1459.1,775.0 L1459.6,775.0 L1460.1,775.0 L1460.6,774.9 L1461.1,774.9 L1461.6,774.9 L1462.1,774.9 L1462.6,774.9 L1463.1,774.8 L1463.6,774.8 L1464.1,774.8 L1464.6,774.8 L1465.1,774.7 L1465.6,774.7 L1466.1,774.7 L1466.6,774.7 L1467.1,774.6 L1467.6,774.6 L1468.1,774.6 L1468.6,774.6 L1469.1,774.5 L1469.6,774.5 L1470.0,774.5 L1470.5,774.4 L1471.0,774.4 L1471.5,774.4 L1472.0,774.4 L1472.5,774.3 L1473.0,774.3 L1473.5,774.3 L1474.0,774.2 L1474.5,774.2 L1475.0,774.2 L1475.5,774.1 L1476.0,774.1 L1476.5,774.1 L1477.0,774.0 L1477.5,774.0 L1478.0,774.0 L1478.5,773.9 L1479.0,773.9 L1479.5,773.9 L1480.0,773.8 L1480.5,773.8 L1481.0,773.8 L1481.5,773.7 L1482.0,773.7 L1482.5,773.6 L1483.0,773.6 L1483.5,773.6 L1484.0,773.5 L1484.4,773.5 L1484.9,773.5 L1485.4,773.4 L1485.9,773.4 L1486.4,773.3 L1486.9,773.3 L1487.4,773.2 L1487.9,773.2 L1488.4,773.2 L1488.9,773.1 L1489.4,773.1 L1489.9,773.0 L1490.4,773.0 L1490.9,772.9 L1491.4,772.9 L1491.9,772.9 L1492.4,772.8 L1492.9,772.8 L1493.4,772.7 L1493.9,772.7 L1494.4,772.6 L1494.9,772.6 L1495.4,772.5 L1495.9,772.5 L1496.4,772.4 L1496.9,772.4 L1497.4,772.3 L1497.9,772.3 L1498.4,772.2 L1498.9,772.2 L1499.3,772.1 L1499.8,772.1 L1500.3,772.0 L1500.8,771.9 L1501.3,771.9 L1501.8,771.8 L1502.3,771.8 L1502.8,771.7 L1503.3,771.7 L1503.8,771.6 L1504.3,771.6 L1504.8,771.5 L1505.3,771.5 L1505.8,771.4 L1506.3,771.4 L1506.8,771.3 L1507.3,771.3 L1507.8,771.2 L1508.3,771.2 L1508.8,771.1 L1509.3,771.0 L1509.8,771.0 L1510.3,770.9 L1510.8,770.9 L1511.3,770.8 L1511.8,770.8 L1512.3,770.7 L1512.8,770.6 L1513.3,770.6 L1513.7,770.5 L1514.2,770.4 L1514.7,770.4 L1515.2,770.3 L1515.7,770.2 L1516.2,770.2 L1516.7,770.1 L1517.2,770.0 L1517.7,769.9 L1518.2,769.9 L1518.7,769.8 L1519.2,769.7 L1519.7,769.6 L1520.2,769.5 L1520.7,769.4 L1521.2,769.3 L1521.7,769.3 L1522.2,769.2 L1522.7,769.1 L1523.2,769.0 L1523.7,768.9 L1524.2,768.8 L1524.7,768.7 L1525.2,768.6 L1525.7,768.5 L1526.2,768.4 L1526.7,768.3 L1527.2,768.1 L1527.7,768.0 L1528.2,767.9 L1528.6,767.8 L1529.1,767.7 L1529.6,767.5 L1530.1,767.4 L1530.6,767.3 L1531.1,767.1 L1531.6,767.0 L1532.1,766.9 L1532.6,766.7 L1533.1,766.6 L1533.6,766.4 L1534.1,766.3 L1534.6,766.1 L1535.1,765.9 L1535.6,765.8 L1536.1,765.6 L1536.6,765.4 L1537.1,765.3 L1537.6,765.1 L1538.1,764.9 L1538.6,764.7 L1539.1,764.5 L1539.6,764.3 L1540.1,764.1 L1540.6,763.9 L1541.1,763.7 L1541.6,763.5 L1542.1,763.3 L1542.6,763.1 L1543.1,762.9 L1543.5,762.6 L1544.0,762.4 L1544.5,762.1 L1545.0,761.9 L1545.5,761.7 L1546.0,761.4 L1546.5,761.1 L1547.0,760.9 L1547.5,760.6 L1548.0,760.3 L1548.5,760.1 L1549.0,759.8 L1549.5,759.5 L1550.0,759.2 L1550.5,758.9 L1551.0,758.6 L1551.5,758.2 L1552.0,757.9 L1552.5,757.6 L1553.0,757.2 L1553.5,756.9 L1554.0,756.5 L1554.5,756.2 L1555.0,755.8 L1555.5,755.4 L1556.0,755.0 L1556.5,754.6 L1557.0,754.2 L1557.5,753.8 L1557.9,753.3 L1558.4,752.9 L1558.9,752.4 L1559.4,752.0 L1559.9,751.5 L1560.4,751.0 L1560.9,750.5 L1561.4,750.0 L1561.9,749.5 L1562.4,749.0 L1562.9,748.4 L1563.4,747.9 L1563.9,747.3 L1564.4,746.7 L1564.9,746.1 L1565.4,745.5 L1565.9,744.8 L1566.4,744.2 L1566.9,743.5 L1567.4,742.8 L1567.9,742.1 L1568.4,741.4 L1568.9,740.7 L1569.4,739.9 L1569.9,739.2 L1570.4,738.4 L1570.9,737.5 L1571.4,736.7 L1571.9,735.8 L1572.4,734.9 L1572.8,734.0 L1573.3,733.1 L1573.8,732.1 L1574.3,731.2 L1574.8,730.1 L1575.3,729.1 L1575.8,728.0 L1576.3,726.9 L1576.8,725.8 L1577.3,724.6 L1577.8,723.4 L1578.3,722.2 L1578.8,721.0 L1579.3,719.7 L1579.8,718.3 L1580.3,717.0 L1580.8,715.5 L1581.3,714.1 L1581.8,712.6 L1582.3,711.1 L1582.8,709.5 L1583.3,707.9 L1583.8,706.2 L1584.3,704.5 L1584.8,702.7 L1585.3,700.9 L1585.8,699.0 L1586.3,697.1 L1586.8,695.1 L1587.2,693.1 L1587.7,691.0 L1588.2,688.8 L1588.7,686.6 L1589.2,684.4 L1589.7,682.0 L1590.2,679.7 L1590.7,677.2 L1591.2,674.7 L1591.7,672.1 L1592.2,669.4 L1592.7,666.7 L1593.2,663.9 L1593.7,661.1 L1594.2,658.1 L1594.7,655.1 L1595.2,652.1 L1595.7,649.0 L1596.2,645.8 L1596.7,642.5 L1597.2,639.2 L1597.7,635.8 L1598.2,632.4 L1598.7,628.9 L1599.2,625.3 L1599.7,621.8 L1600.2,618.1 L1600.7,614.5 L1601.2,610.8 L1601.7,607.1 L1602.1,603.4 L1602.6,599.6 L1603.1,595.9 L1603.6,592.2 L1604.1,588.5 L1604.6,584.9 L1605.1,581.3 L1605.6,577.8 L1606.1,574.3 L1606.6,570.9 L1607.1,567.7 L1607.6,564.5 L1608.1,561.5 L1608.6,558.7 L1609.1,556.0 L1609.6,553.5 L1610.1,551.1 L1610.6,549.0 L1611.1,547.1 L1611.6,545.4 L1612.1,544.0 L1612.6,542.8 L1613.1,541.9 L1613.6,541.2 L1614.1,540.8 L1614.6,540.7 L1615.1,540.9 L1615.6,541.4 L1616.1,542.2 L1616.6,543.4 L1617.0,545.0 L1617.5,546.9 L1618.0,549.1 L1618.5,551.6 L1619.0,554.4 L1619.5,557.5 L1620.0,560.9 L1620.5,564.6 L1621.0,568.5 L1621.5,572.7 L1622.0,577.0 L1622.5,581.6 L1623.0,586.4 L1623.5,591.4 L1624.0,596.5 L1624.5,601.8 L1625.0,607.1 L1625.5,612.6 L1626.0,618.2 L1626.5,623.8 L1627.0,629.5 L1627.5,635.2 L1628.0,640.9 L1628.5,646.6 L1629.0,652.3 L1629.5,657.9 L1630.0,663.6 L1630.5,669.1 L1631.0,674.6 L1631.4,680.0 L1631.9,685.3 L1632.4,690.5 L1632.9,695.6 L1633.4,700.6 L1633.9,705.4 L1634.4,710.1 L1634.9,714.6 L1635.4,719.0 L1635.9,723.3 L1636.4,727.4 L1636.9,731.4 L1637.4,735.1 L1637.9,738.8 L1638.4,742.3 L1638.9,745.6 L1639.4,748.8 L1639.9,751.8 L1640.4,754.6 L1640.9,757.3 L1641.4,759.9 L1641.9,762.3 L1642.4,764.6 L1642.9,766.8 L1643.4,768.8 L1643.9,770.7 L1644.4,772.5 L1644.9,774.2 L1645.4,775.8 L1645.9,777.2 L1646.3,778.6 L1646.8,779.9 L1647.3,781.0 L1647.8,782.1 L1648.3,783.1 L1648.8,784.0 L1649.3,784.9 L1649.8,785.7 L1650.3,786.4 L1650.8,787.1 L1651.3,787.7 L1651.8,788.3 L1652.3,788.8 L1652.8,789.2 L1653.3,789.7 L1653.8,790.1 L1654.3,790.4 L1654.8,790.7 L1655.3,791.0 L1655.8,791.3 L1656.3,791.5 L1656.8,791.7 L1657.3,791.9 L1657.8,792.1 L1658.3,792.3 L1658.8,792.4 L1659.3,792.5 L1659.8,792.6 L1660.3,792.7 L1660.7,792.8 L1661.2,792.9 L1661.7,793.0 L1662.2,793.0 L1662.7,793.1 L1663.2,793.1 L1663.7,793.2 L1664.2,793.2 L1664.7,793.2 L1665.2,793.3 L1665.7,793.3 L1666.2,793.3 L1666.7,793.3 L1667.2,793.4 L1667.7,793.4 L1668.2,793.4 L1668.7,793.4 L1669.2,793.4 L1669.7,793.4 L1670.2,793.4 L1670.7,793.5 L1671.2,793.5 L1671.7,793.5 L1672.2,793.5 L1672.7,793.5 L1673.2,793.5 L1673.7,793.5 L1674.2,793.5 L1674.7,793.5 L1675.2,793.5 L1675.6,793.5 L1676.1,793.5 L1676.6,793.5 L1677.1,793.5 L1677.6,793.5 L1678.1,793.5 L1678.6,793.5 L1679.1,793.5 L1679.6,793.6 L1680.1,793.6 L1680.6,793.6 L1681.1,793.6 L1681.6,793.6 L1682.1,793.6 L1682.6,793.6 L1683.1,793.6 L1683.6,793.6 L1684.1,793.6 L1684.6,793.6 L1685.1,793.6 L1685.6,793.6 L1686.1,793.6 L1686.6,793.6 L1687.1,793.6 L1687.6,793.6 L1688.1,793.6 L1688.6,793.6 L1689.1,793.6 L1689.6,793.6 L1690.1,793.6 L1690.5,793.6 L1691.0,793.6 L1691.5,793.6 L1692.0,793.6 L1692.5,793.6 L1693.0,793.6 L1693.5,793.6 L1694.0,793.6 L1694.5,793.6 L1695.0,793.6 L1695.5,793.6 L1696.0,793.6 L1696.5,793.6 L1697.0,793.6 L1697.5,793.6 L1698.0,793.6 L1698.5,793.6 L1699.0,793.7 L1699.5,793.7 L1700.0,793.7 L1700.5,793.7 L1701.0,793.7 L1701.5,793.7 L1702.0,793.7 L1702.5,793.7 L1703.0,793.7 L1703.5,793.7 L1704.0,793.7 L1704.5,793.7 L1704.9,793.7 L1705.4,793.7 L1705.9,793.7 L1706.4,793.7 L1706.9,793.7 L1707.4,793.7 L1707.9,793.7 L1708.4,793.7 L1708.9,793.7 L1709.4,793.7 L1709.9,793.7 L1710.4,793.7 L1710.9,793.7 L1711.4,793.7 L1711.9,793.7 L1712.4,793.7 L1712.9,793.7 L1713.4,793.7 L1713.9,793.7 L1714.4,793.7 L1714.9,793.7 L1715.4,793.7 L1715.9,793.7 L1716.4,793.7 L1716.9,793.7 L1717.4,793.7 L1717.9,793.7 L1718.4,793.7 L1718.9,793.7 L1719.4,793.7 L1719.8,793.7 L1720.3,793.7 L1720.8,793.7 L1721.3,793.7 L1721.8,793.7 L1722.3,793.7 L1722.8,793.7 L1723.3,793.7 L1723.8,793.7 L1724.3,793.7 L1724.8,793.7 L1725.3,793.7 L1725.8,793.7 L1726.3,793.7 L1726.8,793.7" fill="none" stroke="#1a1aee" stroke-width="2.4" stroke-linejoin="round" stroke-linecap="round" />
<path d="M1275.2,778.7 L1276.0,779.0 L1276.8,778.1 L1277.6,778.5 L1278.4,779.0 L1279.2,779.4 L1280.0,779.7 L1280.8,777.4 L1281.6,776.8 L1282.4,777.3 L1283.2,780.4 L1284.0,781.3 L1284.8,780.0 L1285.6,777.3 L1286.4,777.4 L1287.2,778.2 L1288.0,778.0 L1288.8,778.2 L1289.6,777.9 L1290.4,779.6 L1291.2,778.1 L1292.0,778.2 L1292.8,776.5 L1293.6,778.8 L1294.4,778.4 L1295.2,778.7 L1296.0,778.6 L1296.8,779.5 L1297.6,779.9 L1298.4,780.6 L1299.2,778.8 L1300.0,779.6 L1300.8,778.7 L1301.6,777.6 L1302.4,778.2 L1303.2,777.1 L1304.0,779.1 L1304.8,777.3 L1305.6,777.6 L1306.4,776.7 L1307.2,776.8 L1308.0,776.1 L1308.8,776.0 L1309.6,778.2 L1310.4,777.4 L1311.2,777.9 L1312.0,776.2 L1312.8,777.4 L1313.6,778.7 L1314.4,779.7 L1315.2,779.4 L1316.0,778.4 L1316.8,777.7 L1317.6,778.7 L1318.4,779.6 L1319.2,779.2 L1320.0,776.7 L1320.8,777.9 L1321.6,779.2 L1322.4,781.2 L1323.2,779.6 L1324.0,778.4 L1324.8,777.3 L1325.6,776.7 L1326.4,777.0 L1327.2,777.3 L1328.0,776.3 L1328.8,776.2 L1329.6,777.3 L1330.4,778.5" fill="none" stroke="#101060" stroke-width="2.4" stroke-linejoin="round" stroke-linecap="round" />
<path d="M1275.2,777.7 L1276.0,778.0 L1276.8,777.1 L1277.6,777.5 L1278.4,778.0 L1279.2,778.4 L1280.0,778.7 L1280.8,776.4 L1281.6,775.8 L1282.4,776.3 L1283.2,779.4 L1284.0,780.3 L1284.8,779.0 L1285.6,776.3 L1286.4,776.4 L1287.2,777.2 L1288.0,777.0 L1288.8,777.2 L1289.6,776.9 L1290.4,778.6 L1291.2,777.1 L1292.0,777.2 L1292.8,775.5 L1293.6,777.8 L1294.4,777.4 L1295.2,777.7 L1296.0,777.6 L1296.8,778.5 L1297.6,778.9 L1298.4,779.6 L1299.2,777.8 L1300.0,778.6 L1300.8,777.7 L1301.6,776.6 L1302.4,777.2 L1303.2,776.1 L1304.0,778.1 L1304.8,776.3 L1305.6,776.6 L1306.4,775.7 L1307.2,775.8 L1308.0,775.1 L1308.8,775.0 L1309.6,777.2 L1310.4,776.4 L1311.2,776.9 L1312.0,775.2 L1312.8,776.4 L1313.6,777.7 L1314.4,778.7 L1315.2,778.4 L1316.0,777.4 L1316.8,776.7 L1317.6,777.7 L1318.4,778.6 L1319.2,778.2 L1320.0,775.7 L1320.8,776.9 L1321.6,778.2 L1322.4,780.2 L1323.2,778.6 L1324.0,777.4 L1324.8,776.3 L1325.6,775.7 L1326.4,776.0 L1327.2,776.3 L1328.0,775.3 L1328.8,775.2 L1329.6,776.3 L1330.4,777.5" fill="none" stroke="#e03030" stroke-width="1.0" stroke-linejoin="round" stroke-linecap="round" />
<path d="M1330.0,779.2 L1330.5,779.1 L1331.0,779.0 L1331.5,779.1 L1332.0,779.1 L1332.5,779.0 L1333.0,779.1 L1333.5,779.2 L1334.0,779.3 L1334.5,779.1 L1335.0,779.0 L1335.5,778.8 L1336.0,778.7 L1336.5,778.6 L1337.0,778.7 L1337.4,778.7 L1337.9,778.9 L1338.4,778.8 L1338.9,778.9 L1339.4,778.8 L1339.9,778.8 L1340.4,778.9 L1340.9,778.8 L1341.4,778.7 L1341.9,778.5 L1342.4,778.8 L1342.9,778.9 L1343.4,778.8 L1343.9,778.5 L1344.4,778.3 L1344.9,778.3 L1345.4,778.4 L1345.9,778.7 L1346.4,778.5 L1346.9,778.5 L1347.4,778.3 L1347.9,778.4 L1348.4,778.2 L1348.9,778.1 L1349.4,778.2 L1349.9,778.3 L1350.4,778.1 L1350.9,778.2 L1351.4,778.1 L1351.9,778.4 L1352.3,778.3 L1352.8,778.4 L1353.3,778.3 L1353.8,778.3 L1354.3,778.2 L1354.8,778.0 L1355.3,777.9 L1355.8,777.9 L1356.3,778.3 L1356.8,777.9 L1357.3,777.8 L1357.8,777.6 L1358.3,777.7 L1358.8,777.7 L1359.3,777.8 L1359.8,778.1 L1360.3,777.9 L1360.8,777.8 L1361.3,777.8 L1361.8,778.0 L1362.3,777.8 L1362.8,777.7 L1363.3,777.4 L1363.8,777.3 L1364.3,777.3 L1364.8,777.4 L1365.3,777.7 L1365.8,777.5 L1366.3,777.2 L1366.7,776.9 L1367.2,777.0 L1367.7,777.2 L1368.2,777.3 L1368.7,777.1 L1369.2,777.2 L1369.7,777.1 L1370.2,777.2 L1370.7,777.0 L1371.2,776.9 L1371.7,777.0 L1372.2,776.7 L1372.7,776.7 L1373.2,776.5 L1373.7,776.8 L1374.2,776.9 L1374.7,776.8 L1375.2,776.8 L1375.7,776.9 L1376.2,776.9 L1376.7,776.9 L1377.2,776.5 L1377.7,776.4 L1378.2,776.4 L1378.7,776.6 L1379.2,776.7 L1379.7,776.5 L1380.2,776.4 L1380.7,776.2 L1381.2,776.2 L1381.6,776.1 L1382.1,776.1 L1382.6,776.2 L1383.1,776.1 L1383.6,776.1 L1384.1,776.2 L1384.6,776.3 L1385.1,776.5 L1385.6,776.3 L1386.1,776.3 L1386.6,776.2 L1387.1,776.3 L1387.6,776.4 L1388.1,776.3 L1388.6,776.1 L1389.1,775.8 L1389.6,775.4 L1390.1,775.2 L1390.6,775.1 L1391.1,775.6 L1391.6,775.6 L1392.1,775.7 L1392.6,775.8 L1393.1,775.7 L1393.6,775.7 L1394.1,775.7 L1394.6,775.8 L1395.1,775.5 L1395.6,775.4 L1396.1,775.3 L1396.5,775.3 L1397.0,775.1 L1397.5,775.0 L1398.0,775.1 L1398.5,775.1 L1399.0,775.3 L1399.5,775.2 L1400.0,774.9 L1400.5,774.7 L1401.0,774.7 L1401.5,774.7 L1402.0,775.0 L1402.5,774.9 L1403.0,774.8 L1403.5,774.5 L1404.0,774.6 L1404.5,774.6 L1405.0,774.4 L1405.5,774.3 L1406.0,774.3 L1406.5,774.4 L1407.0,774.2 L1407.5,774.1 L1408.0,774.1 L1408.5,774.1 L1409.0,773.6 L1409.5,773.4 L1410.0,773.1 L1410.5,773.4 L1410.9,773.4 L1411.4,773.5 L1411.9,773.5 L1412.4,773.4 L1412.9,773.2 L1413.4,773.2 L1413.9,773.1 L1414.4,773.0 L1414.9,772.8 L1415.4,772.8 L1415.9,772.5 L1416.4,772.2 L1416.9,772.0 L1417.4,772.1 L1417.9,772.0 L1418.4,772.0 L1418.9,771.8 L1419.4,771.7 L1419.9,771.5 L1420.4,771.4 L1420.9,771.2 L1421.4,771.0 L1421.9,770.8 L1422.4,770.6 L1422.9,770.4 L1423.4,770.1 L1423.9,769.9 L1424.4,769.8 L1424.9,769.7 L1425.4,769.7 L1425.8,769.3 L1426.3,769.2 L1426.8,769.0 L1427.3,768.8 L1427.8,768.5 L1428.3,768.4 L1428.8,768.1 L1429.3,768.2 L1429.8,767.6 L1430.3,767.4 L1430.8,767.2 L1431.3,767.2 L1431.8,767.0 L1432.3,766.7 L1432.8,766.4 L1433.3,766.3 L1433.8,765.8 L1434.3,765.6 L1434.8,765.3 L1435.3,765.5 L1435.8,765.4 L1436.3,765.2 L1436.8,765.1 L1437.3,764.7 L1437.8,764.4 L1438.3,763.7 L1438.8,763.8 L1439.3,763.8 L1439.8,763.8 L1440.2,763.4 L1440.7,763.1 L1441.2,763.1 L1441.7,763.0 L1442.2,763.2 L1442.7,762.9 L1443.2,762.4 L1443.7,762.2 L1444.2,762.0 L1444.7,762.1 L1445.2,762.0 L1445.7,761.9 L1446.2,761.9 L1446.7,761.5 L1447.2,761.3 L1447.7,761.1 L1448.2,760.9 L1448.7,761.0 L1449.2,760.9 L1449.7,760.9 L1450.2,760.7 L1450.7,760.5 L1451.2,760.4 L1451.7,760.3 L1452.2,760.1 L1452.7,760.1 L1453.2,759.7 L1453.7,759.7 L1454.2,759.5 L1454.7,759.4 L1455.1,759.2 L1455.6,759.0 L1456.1,759.1 L1456.6,758.9 L1457.1,758.9 L1457.6,758.9 L1458.1,758.9 L1458.6,758.5 L1459.1,758.2 L1459.6,758.2 L1460.1,758.2 L1460.6,758.2 L1461.1,758.0 L1461.6,758.0 L1462.1,757.7 L1462.6,757.4 L1463.1,757.1 L1463.6,757.0 L1464.1,756.9 L1464.6,756.7 L1465.1,756.3 L1465.6,755.9 L1466.1,755.5 L1466.6,754.9 L1467.1,754.2 L1467.6,753.6 L1468.1,753.2 L1468.6,752.7 L1469.1,752.3 L1469.6,751.8 L1470.0,751.5 L1470.5,751.1 L1471.0,750.5 L1471.5,749.9 L1472.0,749.1 L1472.5,748.9 L1473.0,748.2 L1473.5,747.7 L1474.0,747.0 L1474.5,746.6 L1475.0,746.4 L1475.5,746.5 L1476.0,746.7 L1476.5,747.0 L1477.0,747.3 L1477.5,747.5 L1478.0,748.0 L1478.5,748.4 L1479.0,748.9 L1479.5,748.8 L1480.0,749.0 L1480.5,749.0 L1481.0,749.1 L1481.5,749.2 L1482.0,749.1 L1482.5,749.0 L1483.0,748.6 L1483.5,748.5 L1484.0,748.4 L1484.4,748.3 L1484.9,748.1 L1485.4,748.0 L1485.9,747.6 L1486.4,747.2 L1486.9,746.8 L1487.4,746.8 L1487.9,746.9 L1488.4,747.0 L1488.9,746.8 L1489.4,746.6 L1489.9,746.6 L1490.4,746.7 L1490.9,746.7 L1491.4,746.7 L1491.9,746.7 L1492.4,746.9 L1492.9,747.0 L1493.4,747.5 L1493.9,747.4 L1494.4,747.4 L1494.9,747.5 L1495.4,747.7 L1495.9,748.0 L1496.4,748.1 L1496.9,748.4 L1497.4,748.5 L1497.9,748.4 L1498.4,748.0 L1498.9,748.0 L1499.3,747.9 L1499.8,747.9 L1500.3,747.7 L1500.8,747.4 L1501.3,747.0 L1501.8,746.6 L1502.3,746.3 L1502.8,746.0 L1503.3,745.7 L1503.8,745.7 L1504.3,745.6 L1504.8,745.4 L1505.3,745.1 L1505.8,744.9 L1506.3,745.0 L1506.8,744.7 L1507.3,744.7 L1507.8,744.5 L1508.3,744.6 L1508.8,744.7 L1509.3,744.8 L1509.8,744.8 L1510.3,744.7 L1510.8,744.4 L1511.3,744.5 L1511.8,744.5 L1512.3,744.6 L1512.8,744.7 L1513.3,744.7 L1513.7,744.7 L1514.2,744.6 L1514.7,744.3 L1515.2,744.1 L1515.7,744.0 L1516.2,743.9 L1516.7,743.9 L1517.2,743.7 L1517.7,743.8 L1518.2,743.4 L1518.7,743.2 L1519.2,743.0 L1519.7,742.9 L1520.2,742.7 L1520.7,742.2 L1521.2,742.2 L1521.7,741.8 L1522.2,741.5 L1522.7,741.0 L1523.2,740.7 L1523.7,740.8 L1524.2,740.4 L1524.7,740.2 L1525.2,739.7 L1525.7,739.7 L1526.2,739.2 L1526.7,739.1 L1527.2,738.1 L1527.7,737.5 L1528.2,736.4 L1528.6,735.8 L1529.1,734.9 L1529.6,734.1 L1530.1,733.2 L1530.6,732.4 L1531.1,732.0 L1531.6,731.7 L1532.1,731.4 L1532.6,731.0 L1533.1,730.7 L1533.6,730.3 L1534.1,729.6 L1534.6,728.7 L1535.1,727.6 L1535.6,726.6 L1536.1,725.4 L1536.6,724.3 L1537.1,723.1 L1537.6,722.1 L1538.1,720.9 L1538.6,720.1 L1539.1,719.4 L1539.6,718.6 L1540.1,717.7 L1540.6,716.9 L1541.1,716.2 L1541.6,715.4 L1542.1,714.3 L1542.6,713.2 L1543.1,711.9 L1543.5,710.3 L1544.0,708.8 L1544.5,707.1 L1545.0,706.0 L1545.5,704.7 L1546.0,703.6 L1546.5,702.0 L1547.0,700.6 L1547.5,699.3 L1548.0,698.1 L1548.5,696.8 L1549.0,695.2 L1549.5,693.6 L1550.0,691.9 L1550.5,690.3 L1551.0,688.4 L1551.5,686.7 L1552.0,685.1 L1552.5,683.2 L1553.0,681.4 L1553.5,679.5 L1554.0,677.6 L1554.5,675.3 L1555.0,673.0 L1555.5,671.0 L1556.0,668.9 L1556.5,666.6 L1557.0,664.3 L1557.5,661.8 L1557.9,659.7 L1558.4,657.5 L1558.9,655.4 L1559.4,653.2 L1559.9,650.7 L1560.4,648.4 L1560.9,645.9 L1561.4,643.4 L1561.9,640.9 L1562.4,638.5 L1562.9,636.4 L1563.4,634.3 L1563.9,632.0 L1564.4,629.5 L1564.9,627.0 L1565.4,624.7 L1565.9,622.8 L1566.4,620.8 L1566.9,618.7 L1567.4,616.4 L1567.9,614.6 L1568.4,612.7 L1568.9,611.0 L1569.4,609.2 L1569.9,607.8 L1570.4,606.2 L1570.9,605.0 L1571.4,603.6 L1571.9,602.3 L1572.4,600.9 L1572.8,599.6 L1573.3,598.3 L1573.8,597.0 L1574.3,595.7 L1574.8,594.8 L1575.3,593.9 L1575.8,593.2 L1576.3,592.6 L1576.8,591.9 L1577.3,591.9 L1577.8,592.0 L1578.3,593.2 L1578.8,594.2 L1579.3,595.8 L1579.8,597.4 L1580.3,598.9 L1580.8,600.4 L1581.3,601.7 L1581.8,603.1 L1582.3,604.4 L1582.8,605.7 L1583.3,607.1 L1583.8,608.1 L1584.3,609.6 L1584.8,610.7 L1585.3,611.7 L1585.8,612.4 L1586.3,613.5 L1586.8,614.8 L1587.2,616.0 L1587.7,617.1 L1588.2,618.4 L1588.7,619.5 L1589.2,620.6 L1589.7,621.4 L1590.2,622.1 L1590.7,622.8 L1591.2,623.0 L1591.7,622.8 L1592.2,622.1 L1592.7,621.3 L1593.2,620.6 L1593.7,619.4 L1594.2,618.2 L1594.7,616.8 L1595.2,615.5 L1595.7,614.1 L1596.2,612.6 L1596.7,611.2 L1597.2,609.6 L1597.7,608.0 L1598.2,606.4 L1598.7,604.3 L1599.2,602.2 L1599.7,600.1 L1600.2,597.7 L1600.7,595.3 L1601.2,592.7 L1601.7,590.2 L1602.1,587.6 L1602.6,584.8 L1603.1,582.2 L1603.6,579.4 L1604.1,576.5 L1604.6,573.6 L1605.1,570.6 L1605.6,567.8 L1606.1,564.9 L1606.6,562.0 L1607.1,559.5 L1607.6,557.1 L1608.1,554.9 L1608.6,552.5 L1609.1,550.0 L1609.6,547.8 L1610.1,545.6 L1610.6,543.9 L1611.1,542.4 L1611.6,541.0 L1612.1,539.9 L1612.6,538.8 L1613.1,538.2 L1613.6,537.5 L1614.1,537.3 L1614.6,537.3 L1615.1,537.9 L1615.6,538.7 L1616.1,539.5 L1616.6,540.7 L1617.0,542.2 L1617.5,544.2 L1618.0,546.4 L1618.5,549.1 L1619.0,552.1 L1619.5,555.2 L1620.0,558.6 L1620.5,562.5 L1621.0,566.5 L1621.5,570.7 L1622.0,575.2 L1622.5,580.2 L1623.0,584.9 L1623.5,589.6 L1624.0,594.6 L1624.5,600.0 L1625.0,605.5 L1625.5,610.9 L1626.0,616.7 L1626.5,622.1 L1627.0,627.6 L1627.5,633.1 L1628.0,639.3 L1628.5,645.3 L1629.0,650.9 L1629.5,656.6 L1630.0,662.3 L1630.5,668.0 L1631.0,673.5 L1631.4,678.8 L1631.9,684.3 L1632.4,689.6 L1632.9,694.7 L1633.4,699.6 L1633.9,704.3 L1634.4,708.9 L1634.9,713.5 L1635.4,717.9 L1635.9,722.3 L1636.4,726.5 L1636.9,730.5 L1637.4,734.5 L1637.9,737.8 L1638.4,741.3 L1638.9,744.5 L1639.4,747.8 L1639.9,750.6 L1640.4,753.7 L1640.9,756.6 L1641.4,759.2 L1641.9,761.3 L1642.4,763.5 L1642.9,765.7 L1643.4,768.0 L1643.9,769.6 L1644.4,771.2 L1644.9,772.5 L1645.4,774.1 L1645.9,775.6 L1646.3,776.8 L1646.8,778.1 L1647.3,778.9 L1647.8,779.5 L1648.3,779.8 L1648.8,780.4 L1649.3,781.1 L1649.8,781.8 L1650.3,782.4 L1650.8,782.8 L1651.3,783.4 L1651.8,783.8 L1652.3,784.2 L1652.8,784.6 L1653.3,784.9 L1653.8,785.5 L1654.3,786.2 L1654.8,787.1 L1655.3,788.2 L1655.8,788.7 L1656.3,789.2 L1656.8,789.3 L1657.3,789.9 L1657.8,790.4 L1658.3,790.8 L1658.8,791.1 L1659.3,791.3 L1659.8,791.4 L1660.3,791.5 L1660.7,791.5 L1661.2,791.7 L1661.7,791.6 L1662.2,791.8 L1662.7,791.9 L1663.2,792.1 L1663.7,791.7 L1664.2,791.4 L1664.7,791.2 L1665.2,791.1 L1665.7,791.0 L1666.2,790.6 L1666.7,790.9 L1667.2,791.1 L1667.7,791.3 L1668.2,791.2 L1668.7,791.0 L1669.2,791.0 L1669.7,791.1 L1670.2,791.2 L1670.7,791.5 L1671.2,791.5 L1671.7,791.7 L1672.2,791.8 L1672.7,792.0 L1673.2,792.3 L1673.7,792.3 L1674.2,792.1 L1674.7,792.3 L1675.2,792.3 L1675.6,792.7 L1676.1,792.6 L1676.6,792.6 L1677.1,792.5 L1677.6,792.8 L1678.1,793.0 L1678.6,792.9 L1679.1,792.9 L1679.6,792.8 L1680.1,792.8 L1680.6,792.6 L1681.1,792.7 L1681.6,792.8 L1682.1,792.8 L1682.6,792.9 L1683.1,792.8 L1683.6,792.7 L1684.1,792.4 L1684.6,792.2 L1685.1,792.3 L1685.6,792.5 L1686.1,792.2 L1686.6,792.3 L1687.1,792.4 L1687.6,792.5 L1688.1,792.3 L1688.6,792.2 L1689.1,792.1 L1689.6,792.3 L1690.1,792.3 L1690.5,792.5 L1691.0,792.4 L1691.5,792.6 L1692.0,792.2 L1692.5,792.2 L1693.0,792.1 L1693.5,792.3 L1694.0,792.5 L1694.5,792.4 L1695.0,792.6 L1695.5,792.5 L1696.0,792.7 L1696.5,792.7 L1697.0,792.9 L1697.5,792.9 L1698.0,793.2 L1698.5,793.3 L1699.0,793.2 L1699.5,793.1 L1700.0,793.3 L1700.5,793.6 L1701.0,793.7 L1701.5,793.5 L1702.0,793.5 L1702.5,793.5 L1703.0,793.6 L1703.5,793.5 L1704.0,793.1 L1704.5,793.0 L1704.9,793.2 L1705.4,793.3 L1705.9,793.4 L1706.4,793.2 L1706.9,793.5 L1707.4,793.7 L1707.9,793.5 L1708.4,793.4 L1708.9,793.4 L1709.4,793.4 L1709.9,793.4 L1710.4,793.5 L1710.9,793.8 L1711.4,793.9 L1711.9,793.4 L1712.4,793.2 L1712.9,793.2 L1713.4,793.5 L1713.9,793.5 L1714.4,793.8 L1714.9,793.8 L1715.4,793.7 L1715.9,793.4 L1716.4,793.4 L1716.9,793.5 L1717.4,793.4 L1717.9,793.5 L1718.4,793.6 L1718.9,793.5 L1719.4,793.4 L1719.8,793.4 L1720.3,793.5 L1720.8,793.6 L1721.3,793.7 L1721.8,793.6 L1722.3,793.5 L1722.8,793.7 L1723.3,794.0 L1723.8,793.9 L1724.3,793.8 L1724.8,793.5 L1725.3,793.4 L1725.8,793.3 L1726.3,793.4 L1726.8,793.6" fill="none" stroke="#444" stroke-width="1.0" stroke-linejoin="round" stroke-linecap="round" />
<path d="M1330.0,779.2 L1330.5,779.2 L1331.0,779.2 L1331.5,779.1 L1332.0,779.1 L1332.5,779.1 L1333.0,779.1 L1333.5,779.0 L1334.0,779.0 L1334.5,779.0 L1335.0,779.0 L1335.5,779.0 L1336.0,778.9 L1336.5,778.9 L1337.0,778.9 L1337.4,778.9 L1337.9,778.8 L1338.4,778.8 L1338.9,778.8 L1339.4,778.8 L1339.9,778.7 L1340.4,778.7 L1340.9,778.7 L1341.4,778.7 L1341.9,778.6 L1342.4,778.6 L1342.9,778.6 L1343.4,778.6 L1343.9,778.5 L1344.4,778.5 L1344.9,778.5 L1345.4,778.4 L1345.9,778.4 L1346.4,778.4 L1346.9,778.4 L1347.4,778.3 L1347.9,778.3 L1348.4,778.3 L1348.9,778.3 L1349.4,778.2 L1349.9,778.2 L1350.4,778.2 L1350.9,778.2 L1351.4,778.1 L1351.9,778.1 L1352.3,778.1 L1352.8,778.1 L1353.3,778.0 L1353.8,778.0 L1354.3,778.0 L1354.8,778.0 L1355.3,777.9 L1355.8,777.9 L1356.3,777.9 L1356.8,777.8 L1357.3,777.8 L1357.8,777.8 L1358.3,777.8 L1358.8,777.7 L1359.3,777.7 L1359.8,777.7 L1360.3,777.6 L1360.8,777.6 L1361.3,777.6 L1361.8,777.6 L1362.3,777.5 L1362.8,777.5 L1363.3,777.5 L1363.8,777.5 L1364.3,777.4 L1364.8,777.4 L1365.3,777.4 L1365.8,777.3 L1366.3,777.3 L1366.7,777.3 L1367.2,777.3 L1367.7,777.2 L1368.2,777.2 L1368.7,777.2 L1369.2,777.1 L1369.7,777.1 L1370.2,777.1 L1370.7,777.0 L1371.2,777.0 L1371.7,777.0 L1372.2,777.0 L1372.7,776.9 L1373.2,776.9 L1373.7,776.9 L1374.2,776.8 L1374.7,776.8 L1375.2,776.8 L1375.7,776.7 L1376.2,776.7 L1376.7,776.7 L1377.2,776.6 L1377.7,776.6 L1378.2,776.6 L1378.7,776.6 L1379.2,776.5 L1379.7,776.5 L1380.2,776.5 L1380.7,776.4 L1381.2,776.4 L1381.6,776.4 L1382.1,776.3 L1382.6,776.3 L1383.1,776.3 L1383.6,776.2 L1384.1,776.2 L1384.6,776.2 L1385.1,776.1 L1385.6,776.1 L1386.1,776.0 L1386.6,776.0 L1387.1,776.0 L1387.6,775.9 L1388.1,775.9 L1388.6,775.9 L1389.1,775.8 L1389.6,775.8 L1390.1,775.7 L1390.6,775.7 L1391.1,775.7 L1391.6,775.6 L1392.1,775.6 L1392.6,775.5 L1393.1,775.5 L1393.6,775.5 L1394.1,775.4 L1394.6,775.4 L1395.1,775.3 L1395.6,775.3 L1396.1,775.2 L1396.5,775.2 L1397.0,775.1 L1397.5,775.1 L1398.0,775.0 L1398.5,775.0 L1399.0,774.9 L1399.5,774.9 L1400.0,774.8 L1400.5,774.8 L1401.0,774.7 L1401.5,774.7 L1402.0,774.6 L1402.5,774.6 L1403.0,774.5 L1403.5,774.5 L1404.0,774.4 L1404.5,774.4 L1405.0,774.3 L1405.5,774.3 L1406.0,774.2 L1406.5,774.2 L1407.0,774.1 L1407.5,774.0 L1408.0,774.0 L1408.5,773.9 L1409.0,773.8 L1409.5,773.7 L1410.0,773.7 L1410.5,773.6 L1410.9,773.5 L1411.4,773.4 L1411.9,773.3 L1412.4,773.2 L1412.9,773.1 L1413.4,773.0 L1413.9,772.9 L1414.4,772.8 L1414.9,772.7 L1415.4,772.6 L1415.9,772.5 L1416.4,772.4 L1416.9,772.2 L1417.4,772.1 L1417.9,772.0 L1418.4,771.8 L1418.9,771.7 L1419.4,771.6 L1419.9,771.4 L1420.4,771.3 L1420.9,771.1 L1421.4,771.0 L1421.9,770.8 L1422.4,770.6 L1422.9,770.5 L1423.4,770.3 L1423.9,770.1 L1424.4,769.9 L1424.9,769.8 L1425.4,769.6 L1425.8,769.4 L1426.3,769.2 L1426.8,769.0 L1427.3,768.8 L1427.8,768.6 L1428.3,768.4 L1428.8,768.2 L1429.3,768.0 L1429.8,767.8 L1430.3,767.6 L1430.8,767.4 L1431.3,767.2 L1431.8,767.0 L1432.3,766.8 L1432.8,766.6 L1433.3,766.4 L1433.8,766.1 L1434.3,765.9 L1434.8,765.7 L1435.3,765.5 L1435.8,765.3 L1436.3,765.1 L1436.8,764.9 L1437.3,764.7 L1437.8,764.5 L1438.3,764.3 L1438.8,764.1 L1439.3,763.9 L1439.8,763.8 L1440.2,763.6 L1440.7,763.4 L1441.2,763.2 L1441.7,763.0 L1442.2,762.9 L1442.7,762.7 L1443.2,762.5 L1443.7,762.4 L1444.2,762.2 L1444.7,762.0 L1445.2,761.9 L1445.7,761.7 L1446.2,761.6 L1446.7,761.4 L1447.2,761.3 L1447.7,761.2 L1448.2,761.0 L1448.7,760.9 L1449.2,760.8 L1449.7,760.6 L1450.2,760.5 L1450.7,760.4 L1451.2,760.3 L1451.7,760.1 L1452.2,760.0 L1452.7,759.9 L1453.2,759.8 L1453.7,759.7 L1454.2,759.6 L1454.7,759.4 L1455.1,759.3 L1455.6,759.2 L1456.1,759.1 L1456.6,759.0 L1457.1,758.9 L1457.6,758.7 L1458.1,758.6 L1458.6,758.5 L1459.1,758.4 L1459.6,758.3 L1460.1,758.1 L1460.6,758.0 L1461.1,757.9 L1461.6,757.7 L1462.1,757.6 L1462.6,757.4 L1463.1,757.3 L1463.6,757.1 L1464.1,757.0 L1464.6,756.8 L1465.1,756.6 L1465.6,756.5 L1466.1,756.3 L1466.6,756.1 L1467.1,755.9 L1467.6,755.7 L1468.1,755.6 L1468.6,755.4 L1469.1,755.2 L1469.6,754.9 L1470.0,754.7 L1470.5,754.5 L1471.0,754.3 L1471.5,754.1 L1472.0,753.9 L1472.5,753.6 L1473.0,753.4 L1473.5,753.2 L1474.0,752.9 L1474.5,752.7 L1475.0,752.5 L1475.5,752.2 L1476.0,752.0 L1476.5,751.7 L1477.0,751.5 L1477.5,751.2 L1478.0,751.0 L1478.5,750.7 L1479.0,750.5 L1479.5,750.3 L1480.0,750.0 L1480.5,749.8 L1481.0,749.5 L1481.5,749.3 L1482.0,749.1 L1482.5,748.8 L1483.0,748.6 L1483.5,748.4 L1484.0,748.2 L1484.4,748.0 L1484.9,747.8 L1485.4,747.6 L1485.9,747.4 L1486.4,747.2 L1486.9,747.0 L1487.4,746.8 L1487.9,746.6 L1488.4,746.5 L1488.9,746.3 L1489.4,746.1 L1489.9,746.0 L1490.4,745.9 L1490.9,745.7 L1491.4,745.6 L1491.9,745.5 L1492.4,745.4 L1492.9,745.3 L1493.4,745.2 L1493.9,745.1 L1494.4,745.0 L1494.9,744.9 L1495.4,744.9 L1495.9,744.8 L1496.4,744.7 L1496.9,744.7 L1497.4,744.6 L1497.9,744.6 L1498.4,744.6 L1498.9,744.5 L1499.3,744.5 L1499.8,744.5 L1500.3,744.5 L1500.8,744.5 L1501.3,744.5 L1501.8,744.5 L1502.3,744.5 L1502.8,744.5 L1503.3,744.5 L1503.8,744.5 L1504.3,744.5 L1504.8,744.5 L1505.3,744.5 L1505.8,744.6 L1506.3,744.6 L1506.8,744.6 L1507.3,744.6 L1507.8,744.6 L1508.3,744.6 L1508.8,744.6 L1509.3,744.6 L1509.8,744.6 L1510.3,744.6 L1510.8,744.6 L1511.3,744.6 L1511.8,744.5 L1512.3,744.5 L1512.8,744.5 L1513.3,744.4 L1513.7,744.4 L1514.2,744.3 L1514.7,744.2 L1515.2,744.1 L1515.7,744.1 L1516.2,744.0 L1516.7,743.8 L1517.2,743.7 L1517.7,743.6 L1518.2,743.4 L1518.7,743.3 L1519.2,743.1 L1519.7,742.9 L1520.2,742.7 L1520.7,742.5 L1521.2,742.3 L1521.7,742.0 L1522.2,741.8 L1522.7,741.5 L1523.2,741.2 L1523.7,740.9 L1524.2,740.6 L1524.7,740.2 L1525.2,739.9 L1525.7,739.5 L1526.2,739.1 L1526.7,738.7 L1527.2,738.3 L1527.7,737.9 L1528.2,737.4 L1528.6,736.9 L1529.1,736.4 L1529.6,735.9 L1530.1,735.4 L1530.6,734.8 L1531.1,734.2 L1531.6,733.6 L1532.1,733.0 L1532.6,732.4 L1533.1,731.7 L1533.6,731.0 L1534.1,730.3 L1534.6,729.6 L1535.1,728.8 L1535.6,728.0 L1536.1,727.2 L1536.6,726.4 L1537.1,725.5 L1537.6,724.6 L1538.1,723.7 L1538.6,722.8 L1539.1,721.8 L1539.6,720.8 L1540.1,719.8 L1540.6,718.7 L1541.1,717.6 L1541.6,716.5 L1542.1,715.4 L1542.6,714.2 L1543.1,713.0 L1543.5,711.7 L1544.0,710.5 L1544.5,709.2 L1545.0,707.8 L1545.5,706.4 L1546.0,705.0 L1546.5,703.6 L1547.0,702.1 L1547.5,700.6 L1548.0,699.0 L1548.5,697.4 L1549.0,695.8 L1549.5,694.1 L1550.0,692.4 L1550.5,690.6 L1551.0,688.8 L1551.5,687.0 L1552.0,685.1 L1552.5,683.2 L1553.0,681.3 L1553.5,679.3 L1554.0,677.3 L1554.5,675.2 L1555.0,673.1 L1555.5,671.0 L1556.0,668.8 L1556.5,666.6 L1557.0,664.4 L1557.5,662.1 L1557.9,659.9 L1558.4,657.6 L1558.9,655.2 L1559.4,652.9 L1559.9,650.5 L1560.4,648.2 L1560.9,645.8 L1561.4,643.4 L1561.9,641.0 L1562.4,638.7 L1562.9,636.3 L1563.4,634.0 L1563.9,631.6 L1564.4,629.4 L1564.9,627.1 L1565.4,624.9 L1565.9,622.7 L1566.4,620.6 L1566.9,618.5 L1567.4,616.5 L1567.9,614.6 L1568.4,612.7 L1568.9,610.9 L1569.4,609.2 L1569.9,607.6 L1570.4,606.1 L1570.9,604.6 L1571.4,603.3 L1571.9,602.1 L1572.4,601.0 L1572.8,599.9 L1573.3,599.0 L1573.8,598.2 L1574.3,597.6 L1574.8,597.2 L1575.3,596.9 L1575.8,596.7 L1576.3,596.7 L1576.8,596.9 L1577.3,597.1 L1577.8,597.5 L1578.3,598.0 L1578.8,598.6 L1579.3,599.3 L1579.8,600.1 L1580.3,601.0 L1580.8,601.9 L1581.3,602.9 L1581.8,603.9 L1582.3,605.0 L1582.8,606.1 L1583.3,607.2 L1583.8,608.3 L1584.3,609.4 L1584.8,610.5 L1585.3,611.5 L1585.8,612.5 L1586.3,613.5 L1586.8,614.4 L1587.2,615.3 L1587.7,616.1 L1588.2,616.8 L1588.7,617.4 L1589.2,617.9 L1589.7,618.3 L1590.2,618.7 L1590.7,618.9 L1591.2,618.9 L1591.7,618.9 L1592.2,618.7 L1592.7,618.4 L1593.2,618.0 L1593.7,617.4 L1594.2,616.7 L1594.7,615.9 L1595.2,614.9 L1595.7,613.8 L1596.2,612.5 L1596.7,611.1 L1597.2,609.5 L1597.7,607.8 L1598.2,606.0 L1598.7,604.1 L1599.2,602.0 L1599.7,599.8 L1600.2,597.5 L1600.7,595.2 L1601.2,592.7 L1601.7,590.1 L1602.1,587.4 L1602.6,584.7 L1603.1,582.0 L1603.6,579.2 L1604.1,576.3 L1604.6,573.5 L1605.1,570.6 L1605.6,567.8 L1606.1,565.0 L1606.6,562.2 L1607.1,559.5 L1607.6,556.9 L1608.1,554.4 L1608.6,552.0 L1609.1,549.7 L1609.6,547.6 L1610.1,545.6 L1610.6,543.8 L1611.1,542.3 L1611.6,540.9 L1612.1,539.7 L1612.6,538.8 L1613.1,538.1 L1613.6,537.6 L1614.1,537.4 L1614.6,537.4 L1615.1,537.8 L1615.6,538.4 L1616.1,539.4 L1616.6,540.8 L1617.0,542.4 L1617.5,544.4 L1618.0,546.7 L1618.5,549.3 L1619.0,552.2 L1619.5,555.4 L1620.0,558.9 L1620.5,562.6 L1621.0,566.6 L1621.5,570.9 L1622.0,575.3 L1622.5,579.9 L1623.0,584.8 L1623.5,589.8 L1624.0,594.9 L1624.5,600.2 L1625.0,605.6 L1625.5,611.2 L1626.0,616.7 L1626.5,622.4 L1627.0,628.1 L1627.5,633.8 L1628.0,639.6 L1628.5,645.3 L1629.0,651.0 L1629.5,656.7 L1630.0,662.4 L1630.5,667.9 L1631.0,673.4 L1631.4,678.9 L1631.9,684.2 L1632.4,689.4 L1632.9,694.5 L1633.4,699.5 L1633.9,704.3 L1634.4,709.0 L1634.9,713.6 L1635.4,718.0 L1635.9,722.3 L1636.4,726.4 L1636.9,730.4 L1637.4,734.2 L1637.9,737.9 L1638.4,741.3 L1638.9,744.7 L1639.4,747.9 L1639.9,750.9 L1640.4,753.8 L1640.9,756.5 L1641.4,759.1 L1641.9,761.5 L1642.4,763.8 L1642.9,766.0 L1643.4,768.0 L1643.9,770.0 L1644.4,771.8 L1644.9,773.4 L1645.4,775.0 L1645.9,776.5 L1646.3,777.8 L1646.8,779.1 L1647.3,780.3 L1647.8,781.4 L1648.3,782.4 L1648.8,783.4 L1649.3,784.2 L1649.8,785.0 L1650.3,785.8 L1650.8,786.4 L1651.3,787.1 L1651.8,787.6 L1652.3,788.1 L1652.8,788.6 L1653.3,789.1 L1653.8,789.5 L1654.3,789.8 L1654.8,790.1 L1655.3,790.4 L1655.8,790.7 L1656.3,790.9 L1656.8,791.2 L1657.3,791.4 L1657.8,791.5 L1658.3,791.7 L1658.8,791.9 L1659.3,792.0 L1659.8,792.1 L1660.3,792.2 L1660.7,792.3 L1661.2,792.4 L1661.7,792.5 L1662.2,792.5 L1662.7,792.6 L1663.2,792.6 L1663.7,792.7 L1664.2,792.7 L1664.7,792.8 L1665.2,792.8 L1665.7,792.8 L1666.2,792.9 L1666.7,792.9 L1667.2,792.9 L1667.7,792.9 L1668.2,793.0 L1668.7,793.0 L1669.2,793.0 L1669.7,793.0 L1670.2,793.0 L1670.7,793.0 L1671.2,793.0 L1671.7,793.1 L1672.2,793.1 L1672.7,793.1 L1673.2,793.1 L1673.7,793.1 L1674.2,793.1 L1674.7,793.1 L1675.2,793.1 L1675.6,793.1 L1676.1,793.1 L1676.6,793.2 L1677.1,793.2 L1677.6,793.2 L1678.1,793.2 L1678.6,793.2 L1679.1,793.2 L1679.6,793.2 L1680.1,793.2 L1680.6,793.2 L1681.1,793.2 L1681.6,793.2 L1682.1,793.2 L1682.6,793.2 L1683.1,793.2 L1683.6,793.2 L1684.1,793.3 L1684.6,793.3 L1685.1,793.3 L1685.6,793.3 L1686.1,793.3 L1686.6,793.3 L1687.1,793.3 L1687.6,793.3 L1688.1,793.3 L1688.6,793.3 L1689.1,793.3 L1689.6,793.3 L1690.1,793.3 L1690.5,793.3 L1691.0,793.3 L1691.5,793.3 L1692.0,793.3 L1692.5,793.3 L1693.0,793.3 L1693.5,793.3 L1694.0,793.4 L1694.5,793.4 L1695.0,793.4 L1695.5,793.4 L1696.0,793.4 L1696.5,793.4 L1697.0,793.4 L1697.5,793.4 L1698.0,793.4 L1698.5,793.4 L1699.0,793.4 L1699.5,793.4 L1700.0,793.4 L1700.5,793.4 L1701.0,793.4 L1701.5,793.4 L1702.0,793.4 L1702.5,793.4 L1703.0,793.4 L1703.5,793.4 L1704.0,793.4 L1704.5,793.4 L1704.9,793.4 L1705.4,793.4 L1705.9,793.4 L1706.4,793.4 L1706.9,793.4 L1707.4,793.5 L1707.9,793.5 L1708.4,793.5 L1708.9,793.5 L1709.4,793.5 L1709.9,793.5 L1710.4,793.5 L1710.9,793.5 L1711.4,793.5 L1711.9,793.5 L1712.4,793.5 L1712.9,793.5 L1713.4,793.5 L1713.9,793.5 L1714.4,793.5 L1714.9,793.5 L1715.4,793.5 L1715.9,793.5 L1716.4,793.5 L1716.9,793.5 L1717.4,793.5 L1717.9,793.5 L1718.4,793.5 L1718.9,793.5 L1719.4,793.5 L1719.8,793.5 L1720.3,793.5 L1720.8,793.5 L1721.3,793.5 L1721.8,793.5 L1722.3,793.5 L1722.8,793.5 L1723.3,793.5 L1723.8,793.5 L1724.3,793.5 L1724.8,793.5 L1725.3,793.5 L1725.8,793.5 L1726.3,793.5 L1726.8,793.5" fill="none" stroke="#ee2222" stroke-width="1.3" stroke-linejoin="round" stroke-linecap="round" />
<rect x="1274.70" y="484.80" width="452.10" height="317.50" fill="none" stroke="#555" stroke-width="1.4"/>
<text x="1174.0" y="482.5" font-size="37" text-anchor="start" >e</text>
<text x="1360.6" y="474.6" font-size="27">S2<tspan font-style="italic">p</tspan>- Dedoped PEDOT</text>
<text x="1396.7" y="853.8" font-size="28" text-anchor="start" >Binding energy (eV)</text>
<text transform="translate(1192.5,645) rotate(-90)" font-size="27.9" text-anchor="middle">Intensity (CPS)</text>
<text x="1457.2" y="542.8" font-size="28.2" fill="#1212ee">Thiophenes</text>
<line x1="1578.9" y1="550.9" x2="1600.7" y2="565.5" stroke="#1a1aee" stroke-width="1.3" />
<path d="M1607.3,570.0 L1597.9,567.9 L1601.8,562.1 Z" fill="#1a1aee"/>
<line x1="1578.9" y1="550.9" x2="1575.7" y2="627.9" stroke="#1a1aee" stroke-width="1.3" />
<path d="M1575.4,635.9 L1572.3,626.8 L1579.3,627.1 Z" fill="#1a1aee"/>
<text x="1374.3" y="705.6" font-size="28.2" text-anchor="start" >Sulfates</text>
<line x1="1431.9" y1="713.2" x2="1445.0" y2="762.5" stroke="#000" stroke-width="1.3" />
<path d="M1447.1,770.2 L1441.4,762.4 L1448.2,760.6 Z" fill="#000"/>
<line x1="1438.3" y1="715.0" x2="1478.8" y2="755.9" stroke="#000" stroke-width="1.3" />
<path d="M1484.4,761.6 L1475.6,757.7 L1480.6,752.7 Z" fill="#000"/>
</svg></body></html>
